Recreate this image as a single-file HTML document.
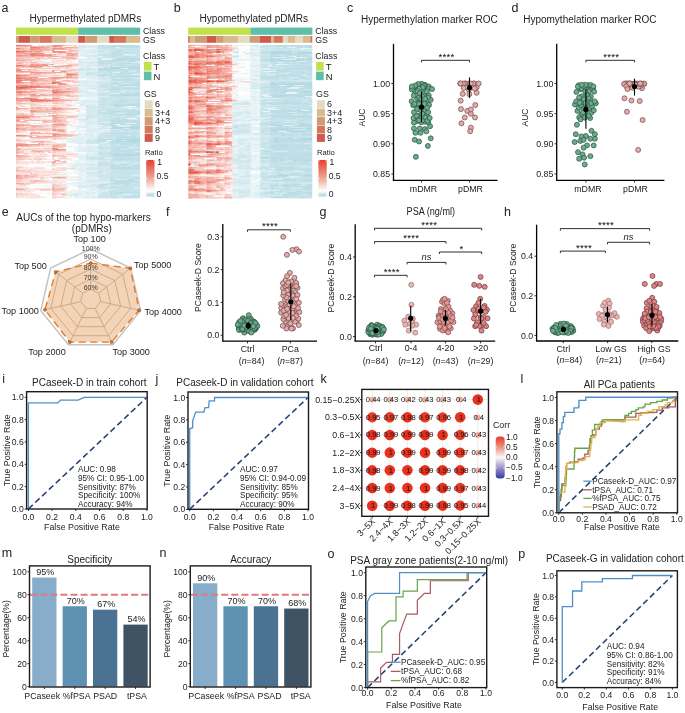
<!DOCTYPE html>
<html><head><meta charset="utf-8"><style>html,body{margin:0;padding:0;background:#fff;overflow:hidden}svg{display:block;will-change:transform}text{font-family:"Liberation Sans",sans-serif}</style></head><body><svg width="685" height="713" viewBox="0 0 685 713" font-family="Liberation Sans, sans-serif">
<rect width="685" height="713" fill="#ffffff"/>
<text x="1.60" y="12.20" font-size="12.5" text-anchor="start" fill="#222" >a</text>
<text x="29.60" y="22.00" font-size="10" text-anchor="start" fill="#222" >Hypermethylated pDMRs</text>
<rect x="16.00" y="27.60" width="62.20" height="7.20" fill="#c2e04a" />
<rect x="78.20" y="27.60" width="62.00" height="7.20" fill="#5ebfa8" />
<rect x="16.00" y="36.00" width="2.40" height="6.80" fill="#cf9c73" />
<rect x="18.40" y="36.00" width="11.80" height="6.80" fill="#cf5a4e" />
<rect x="30.20" y="36.00" width="9.60" height="6.80" fill="#cf9c73" />
<rect x="39.80" y="36.00" width="12.10" height="6.80" fill="#d5775a" />
<rect x="51.90" y="36.00" width="14.20" height="6.80" fill="#d9bb8f" />
<rect x="66.10" y="36.00" width="12.10" height="6.80" fill="#e3dcc0" />
<rect x="78.20" y="36.00" width="7.20" height="6.80" fill="#cf5a4e" />
<rect x="85.40" y="36.00" width="11.80" height="6.80" fill="#cf9c73" />
<rect x="97.20" y="36.00" width="12.00" height="6.80" fill="#e3dcc0" />
<rect x="109.20" y="36.00" width="4.80" height="6.80" fill="#cf5a4e" />
<rect x="114.00" y="36.00" width="12.00" height="6.80" fill="#d5775a" />
<rect x="126.00" y="36.00" width="14.20" height="6.80" fill="#d9bb8f" />
<defs><filter id="hba" x="-2%" y="-2%" width="104%" height="104%"><feGaussianBlur stdDeviation="0.55 0.4"/></filter><clipPath id="hca"><rect x="16.00" y="44.80" width="124.20" height="153.70"/></clipPath></defs>
<g clip-path="url(#hca)"><g filter="url(#hba)">
<path fill="#e8604e" d="M16.0 44.80h4.3v1.30h-4.3zM16.0 50.79h4.3v1.30h-4.3zM16.0 74.74h2.3v1.30h-2.3zM16.0 77.74h4.3v1.30h-4.3zM54.1 82.73h2.3v1.30h-2.3zM30.0 85.72h2.3v1.30h-2.3zM16.0 86.72h12.3v1.30h-12.3zM30.0 86.72h12.3v1.30h-12.3zM20.0 87.72h2.3v1.30h-2.3zM52.1 91.71h4.3v1.30h-4.3zM30.0 99.69h2.3v1.30h-2.3zM32.0 100.69h2.3v1.30h-2.3zM16.0 116.66h4.3v1.30h-4.3zM22.0 116.66h2.3v1.30h-2.3zM52.1 133.63h2.3v1.30h-2.3z"/>
<path fill="#ec7b6b" d="M20.0 44.80h6.3v1.30h-6.3zM52.1 45.80h6.3v1.30h-6.3zM30.0 46.80h8.3v1.30h-8.3zM16.0 47.79h4.3v1.30h-4.3zM30.0 48.79h4.3v1.30h-4.3zM54.1 48.79h2.3v1.30h-2.3zM52.1 49.79h2.3v1.30h-2.3zM20.0 50.79h8.3v1.30h-8.3zM30.0 50.79h2.3v1.30h-2.3zM52.1 50.79h6.3v1.30h-6.3zM16.0 51.79h2.3v1.30h-2.3zM52.1 51.79h4.3v1.30h-4.3zM58.1 51.79h4.3v1.30h-4.3zM32.0 52.78h2.3v1.30h-2.3zM30.0 53.78h6.3v1.30h-6.3zM30.0 54.78h14.3v1.30h-14.3zM52.1 55.78h2.3v1.30h-2.3zM16.0 64.76h6.3v1.30h-6.3zM46.0 64.76h2.3v1.30h-2.3zM16.0 65.76h2.3v1.30h-2.3zM30.0 65.76h8.3v1.30h-8.3zM52.1 65.76h2.3v1.30h-2.3zM52.1 70.75h2.3v1.30h-2.3zM64.1 70.75h2.3v1.30h-2.3zM66.1 73.74h10.3v1.30h-10.3zM18.0 74.74h6.3v1.30h-6.3zM16.0 75.74h2.3v1.30h-2.3zM18.0 76.74h2.3v1.30h-2.3zM66.1 76.74h2.3v1.30h-2.3zM20.0 77.74h2.3v1.30h-2.3zM16.0 79.73h12.3v1.30h-12.3zM16.0 80.73h4.3v1.30h-4.3zM16.0 81.73h4.3v1.30h-4.3zM52.1 81.73h4.3v1.30h-4.3zM56.1 82.73h4.3v1.30h-4.3zM58.1 83.72h8.3v1.30h-8.3zM16.0 85.72h2.3v1.30h-2.3zM20.0 85.72h10.3v1.30h-10.3zM32.0 85.72h8.3v1.30h-8.3zM28.0 86.72h2.3v1.30h-2.3zM42.0 86.72h8.3v1.30h-8.3zM16.0 87.72h4.3v1.30h-4.3zM22.0 87.72h4.3v1.30h-4.3zM16.0 88.71h4.3v1.30h-4.3zM52.1 89.71h2.3v1.30h-2.3zM18.0 90.71h4.3v1.30h-4.3zM52.1 90.71h2.3v1.30h-2.3zM56.1 90.71h2.3v1.30h-2.3zM66.1 90.71h2.3v1.30h-2.3zM16.0 91.71h6.3v1.30h-6.3zM56.1 91.71h4.3v1.30h-4.3zM22.0 97.70h10.3v1.30h-10.3zM30.0 98.69h8.3v1.30h-8.3zM32.0 99.69h22.3v1.30h-22.3zM30.0 100.69h2.3v1.30h-2.3zM34.0 100.69h8.3v1.30h-8.3zM46.0 100.69h2.3v1.30h-2.3zM52.1 107.68h2.3v1.30h-2.3zM54.1 108.68h2.3v1.30h-2.3zM34.0 110.67h2.3v1.30h-2.3zM20.0 116.66h2.3v1.30h-2.3zM24.0 116.66h4.3v1.30h-4.3zM16.0 127.64h2.3v1.30h-2.3zM52.1 129.63h4.3v1.30h-4.3zM30.0 132.63h2.3v1.30h-2.3zM54.1 133.63h6.3v1.30h-6.3zM16.0 134.62h4.3v1.30h-4.3zM52.1 135.62h4.3v1.30h-4.3zM16.0 144.61h8.3v1.30h-8.3zM52.1 147.60h2.3v1.30h-2.3zM52.1 148.60h12.3v1.30h-12.3zM52.1 186.52h2.3v1.30h-2.3zM16.0 188.52h2.3v1.30h-2.3z"/>
<path fill="#f09589" d="M26.0 44.80h4.3v1.30h-4.3zM52.1 44.80h12.3v1.30h-12.3zM30.0 45.80h2.3v1.30h-2.3zM58.1 45.80h4.3v1.30h-4.3zM38.0 46.80h6.3v1.30h-6.3zM66.1 46.80h8.3v1.30h-8.3zM20.0 47.79h2.3v1.30h-2.3zM30.0 47.79h10.3v1.30h-10.3zM52.1 47.79h12.3v1.30h-12.3zM34.0 48.79h8.3v1.30h-8.3zM52.1 48.79h2.3v1.30h-2.3zM56.1 48.79h10.3v1.30h-10.3zM42.0 49.79h2.3v1.30h-2.3zM28.0 50.79h2.3v1.30h-2.3zM32.0 50.79h10.3v1.30h-10.3zM58.1 50.79h8.3v1.30h-8.3zM18.0 51.79h6.3v1.30h-6.3zM56.1 51.79h2.3v1.30h-2.3zM62.1 51.79h4.3v1.30h-4.3zM18.0 52.78h2.3v1.30h-2.3zM22.0 52.78h6.3v1.30h-6.3zM30.0 52.78h2.3v1.30h-2.3zM34.0 52.78h10.3v1.30h-10.3zM66.1 52.78h6.3v1.30h-6.3zM36.0 53.78h10.3v1.30h-10.3zM48.1 53.78h4.3v1.30h-4.3zM72.1 53.78h2.3v1.30h-2.3zM16.0 54.78h12.3v1.30h-12.3zM44.0 54.78h8.3v1.30h-8.3zM66.1 54.78h8.3v1.30h-8.3zM16.0 55.78h6.3v1.30h-6.3zM32.0 55.78h2.3v1.30h-2.3zM42.0 55.78h2.3v1.30h-2.3zM46.0 55.78h4.3v1.30h-4.3zM54.1 55.78h4.3v1.30h-4.3zM62.1 56.78h2.3v1.30h-2.3zM16.0 59.77h8.3v1.30h-8.3zM30.0 63.76h4.3v1.30h-4.3zM36.0 63.76h2.3v1.30h-2.3zM42.0 63.76h4.3v1.30h-4.3zM50.1 63.76h4.3v1.30h-4.3zM22.0 64.76h2.3v1.30h-2.3zM30.0 64.76h16.3v1.30h-16.3zM66.1 64.76h4.3v1.30h-4.3zM18.0 65.76h12.3v1.30h-12.3zM38.0 65.76h6.3v1.30h-6.3zM48.1 65.76h2.3v1.30h-2.3zM54.1 65.76h6.3v1.30h-6.3zM62.1 65.76h2.3v1.30h-2.3zM30.0 66.76h4.3v1.30h-4.3zM16.0 68.75h4.3v1.30h-4.3zM22.0 68.75h2.3v1.30h-2.3zM16.0 69.75h6.3v1.30h-6.3zM28.0 69.75h2.3v1.30h-2.3zM52.1 69.75h4.3v1.30h-4.3zM16.0 70.75h12.3v1.30h-12.3zM60.1 70.75h4.3v1.30h-4.3zM30.0 71.75h16.3v1.30h-16.3zM52.1 71.75h10.3v1.30h-10.3zM66.1 72.75h2.3v1.30h-2.3zM76.1 73.74h2.3v1.30h-2.3zM24.0 74.74h6.3v1.30h-6.3zM66.1 74.74h6.3v1.30h-6.3zM18.0 75.74h2.3v1.30h-2.3zM16.0 76.74h2.3v1.30h-2.3zM20.0 76.74h6.3v1.30h-6.3zM30.0 76.74h8.3v1.30h-8.3zM52.1 76.74h12.3v1.30h-12.3zM68.1 76.74h4.3v1.30h-4.3zM22.0 77.74h10.3v1.30h-10.3zM52.1 77.74h6.3v1.30h-6.3zM16.0 78.73h6.3v1.30h-6.3zM24.0 78.73h12.3v1.30h-12.3zM28.0 79.73h10.3v1.30h-10.3zM20.0 80.73h2.3v1.30h-2.3zM30.0 80.73h6.3v1.30h-6.3zM20.0 81.73h4.3v1.30h-4.3zM56.1 81.73h4.3v1.30h-4.3zM16.0 82.73h4.3v1.30h-4.3zM60.1 82.73h4.3v1.30h-4.3zM16.0 84.72h12.3v1.30h-12.3zM18.0 85.72h2.3v1.30h-2.3zM40.0 85.72h10.3v1.30h-10.3zM50.1 86.72h8.3v1.30h-8.3zM26.0 87.72h4.3v1.30h-4.3zM20.0 88.71h10.3v1.30h-10.3zM56.1 88.71h2.3v1.30h-2.3zM54.1 89.71h4.3v1.30h-4.3zM16.0 90.71h2.3v1.30h-2.3zM22.0 90.71h4.3v1.30h-4.3zM30.0 90.71h4.3v1.30h-4.3zM54.1 90.71h2.3v1.30h-2.3zM58.1 90.71h8.3v1.30h-8.3zM68.1 90.71h4.3v1.30h-4.3zM22.0 91.71h8.3v1.30h-8.3zM60.1 91.71h6.3v1.30h-6.3zM52.1 92.71h6.3v1.30h-6.3zM18.0 93.70h4.3v1.30h-4.3zM32.0 93.70h4.3v1.30h-4.3zM30.0 94.70h18.3v1.30h-18.3zM16.0 97.70h6.3v1.30h-6.3zM32.0 97.70h4.3v1.30h-4.3zM52.1 97.70h6.3v1.30h-6.3zM16.0 98.69h2.3v1.30h-2.3zM20.0 98.69h2.3v1.30h-2.3zM26.0 98.69h4.3v1.30h-4.3zM38.0 98.69h8.3v1.30h-8.3zM52.1 98.69h2.3v1.30h-2.3zM16.0 99.69h12.3v1.30h-12.3zM54.1 99.69h8.3v1.30h-8.3zM66.1 99.69h2.3v1.30h-2.3zM70.1 99.69h2.3v1.30h-2.3zM42.0 100.69h4.3v1.30h-4.3zM48.1 100.69h4.3v1.30h-4.3zM16.0 106.68h2.3v1.30h-2.3zM16.0 107.68h4.3v1.30h-4.3zM54.1 107.68h8.3v1.30h-8.3zM52.1 108.68h2.3v1.30h-2.3zM56.1 108.68h4.3v1.30h-4.3zM30.0 109.67h4.3v1.30h-4.3zM30.0 110.67h4.3v1.30h-4.3zM36.0 110.67h2.3v1.30h-2.3zM42.0 110.67h2.3v1.30h-2.3zM52.1 114.66h4.3v1.30h-4.3zM16.0 115.66h14.3v1.30h-14.3zM52.1 115.66h2.3v1.30h-2.3zM28.0 116.66h2.3v1.30h-2.3zM54.1 116.66h4.3v1.30h-4.3zM16.0 119.65h4.3v1.30h-4.3zM32.0 119.65h8.3v1.30h-8.3zM16.0 120.65h2.3v1.30h-2.3zM52.1 120.65h4.3v1.30h-4.3zM16.0 123.65h2.3v1.30h-2.3zM52.1 123.65h12.3v1.30h-12.3zM16.0 124.64h14.3v1.30h-14.3zM18.0 127.64h2.3v1.30h-2.3zM16.0 128.64h2.3v1.30h-2.3zM52.1 128.64h4.3v1.30h-4.3zM56.1 129.63h4.3v1.30h-4.3zM58.1 130.63h6.3v1.30h-6.3zM32.0 132.63h10.3v1.30h-10.3zM60.1 133.63h6.3v1.30h-6.3zM20.0 134.62h6.3v1.30h-6.3zM52.1 134.62h4.3v1.30h-4.3zM16.0 135.62h16.3v1.30h-16.3zM46.0 135.62h6.3v1.30h-6.3zM56.1 135.62h6.3v1.30h-6.3zM30.0 136.62h10.3v1.30h-10.3zM38.0 140.61h4.3v1.30h-4.3zM16.0 143.61h12.3v1.30h-12.3zM30.0 143.61h16.3v1.30h-16.3zM24.0 144.61h4.3v1.30h-4.3zM56.1 144.61h2.3v1.30h-2.3zM16.0 145.60h14.3v1.30h-14.3zM52.1 145.60h4.3v1.30h-4.3zM36.0 147.60h2.3v1.30h-2.3zM54.1 147.60h4.3v1.30h-4.3zM18.0 148.60h2.3v1.30h-2.3zM64.1 148.60h2.3v1.30h-2.3zM52.1 149.60h8.3v1.30h-8.3zM36.0 150.59h6.3v1.30h-6.3zM16.0 155.58h4.3v1.30h-4.3zM16.0 158.58h8.3v1.30h-8.3zM54.1 160.57h8.3v1.30h-8.3zM64.1 160.57h2.3v1.30h-2.3zM52.1 161.57h2.3v1.30h-2.3zM52.1 162.57h2.3v1.30h-2.3zM16.0 169.56h2.3v1.30h-2.3zM16.0 174.55h6.3v1.30h-6.3zM16.0 175.54h2.3v1.30h-2.3zM16.0 176.54h18.3v1.30h-18.3zM54.1 176.54h6.3v1.30h-6.3zM16.0 177.54h2.3v1.30h-2.3zM58.1 177.54h4.3v1.30h-4.3zM18.0 178.54h2.3v1.30h-2.3zM18.0 182.53h4.3v1.30h-4.3zM18.0 188.52h6.3v1.30h-6.3zM52.1 188.52h2.3v1.30h-2.3zM52.1 189.52h2.3v1.30h-2.3zM52.1 193.51h12.3v1.30h-12.3z"/>
<path fill="#f3b0a6" d="M30.0 44.80h2.3v1.30h-2.3zM64.1 44.80h2.3v1.30h-2.3zM16.0 45.80h14.3v1.30h-14.3zM32.0 45.80h4.3v1.30h-4.3zM38.0 45.80h6.3v1.30h-6.3zM46.0 45.80h4.3v1.30h-4.3zM44.0 46.80h6.3v1.30h-6.3zM54.1 46.80h2.3v1.30h-2.3zM60.1 46.80h2.3v1.30h-2.3zM64.1 46.80h2.3v1.30h-2.3zM74.1 46.80h4.3v1.30h-4.3zM22.0 47.79h4.3v1.30h-4.3zM40.0 47.79h8.3v1.30h-8.3zM50.1 47.79h2.3v1.30h-2.3zM64.1 47.79h2.3v1.30h-2.3zM16.0 48.79h4.3v1.30h-4.3zM22.0 48.79h2.3v1.30h-2.3zM28.0 48.79h2.3v1.30h-2.3zM42.0 48.79h8.3v1.30h-8.3zM16.0 49.79h12.3v1.30h-12.3zM30.0 49.79h12.3v1.30h-12.3zM44.0 49.79h8.3v1.30h-8.3zM68.1 49.79h8.3v1.30h-8.3zM68.1 50.79h2.3v1.30h-2.3zM24.0 51.79h2.3v1.30h-2.3zM28.0 51.79h4.3v1.30h-4.3zM34.0 51.79h6.3v1.30h-6.3zM16.0 52.78h2.3v1.30h-2.3zM20.0 52.78h2.3v1.30h-2.3zM28.0 52.78h2.3v1.30h-2.3zM60.1 52.78h2.3v1.30h-2.3zM72.1 52.78h6.3v1.30h-6.3zM16.0 53.78h6.3v1.30h-6.3zM24.0 53.78h6.3v1.30h-6.3zM46.0 53.78h2.3v1.30h-2.3zM52.1 53.78h4.3v1.30h-4.3zM66.1 53.78h6.3v1.30h-6.3zM74.1 53.78h4.3v1.30h-4.3zM28.0 54.78h2.3v1.30h-2.3zM74.1 54.78h2.3v1.30h-2.3zM22.0 55.78h10.3v1.30h-10.3zM34.0 55.78h8.3v1.30h-8.3zM44.0 55.78h2.3v1.30h-2.3zM50.1 55.78h2.3v1.30h-2.3zM58.1 55.78h4.3v1.30h-4.3zM30.0 56.78h4.3v1.30h-4.3zM64.1 56.78h10.3v1.30h-10.3zM16.0 57.77h8.3v1.30h-8.3zM38.0 57.77h2.3v1.30h-2.3zM52.1 57.77h8.3v1.30h-8.3zM66.1 57.77h10.3v1.30h-10.3zM16.0 58.77h2.3v1.30h-2.3zM30.0 58.77h4.3v1.30h-4.3zM24.0 59.77h6.3v1.30h-6.3zM18.0 61.77h2.3v1.30h-2.3zM30.0 61.77h6.3v1.30h-6.3zM16.0 62.76h6.3v1.30h-6.3zM34.0 63.76h2.3v1.30h-2.3zM38.0 63.76h4.3v1.30h-4.3zM46.0 63.76h4.3v1.30h-4.3zM24.0 64.76h6.3v1.30h-6.3zM60.1 64.76h2.3v1.30h-2.3zM64.1 64.76h2.3v1.30h-2.3zM70.1 64.76h2.3v1.30h-2.3zM44.0 65.76h4.3v1.30h-4.3zM50.1 65.76h2.3v1.30h-2.3zM60.1 65.76h2.3v1.30h-2.3zM64.1 65.76h8.3v1.30h-8.3zM34.0 66.76h8.3v1.30h-8.3zM16.0 67.76h4.3v1.30h-4.3zM34.0 67.76h2.3v1.30h-2.3zM20.0 68.75h2.3v1.30h-2.3zM24.0 68.75h6.3v1.30h-6.3zM62.1 69.75h2.3v1.30h-2.3zM68.1 69.75h2.3v1.30h-2.3zM28.0 70.75h4.3v1.30h-4.3zM16.0 71.75h12.3v1.30h-12.3zM46.0 71.75h6.3v1.30h-6.3zM62.1 71.75h4.3v1.30h-4.3zM30.0 72.75h12.3v1.30h-12.3zM44.0 72.75h8.3v1.30h-8.3zM68.1 72.75h6.3v1.30h-6.3zM16.0 73.74h4.3v1.30h-4.3zM24.0 73.74h2.3v1.30h-2.3zM30.0 73.74h2.3v1.30h-2.3zM34.0 73.74h6.3v1.30h-6.3zM72.1 74.74h4.3v1.30h-4.3zM20.0 75.74h8.3v1.30h-8.3zM64.1 75.74h8.3v1.30h-8.3zM26.0 76.74h4.3v1.30h-4.3zM48.1 76.74h4.3v1.30h-4.3zM64.1 76.74h2.3v1.30h-2.3zM72.1 76.74h6.3v1.30h-6.3zM32.0 77.74h20.3v1.30h-20.3zM58.1 77.74h6.3v1.30h-6.3zM66.1 77.74h2.3v1.30h-2.3zM22.0 78.73h2.3v1.30h-2.3zM36.0 78.73h8.3v1.30h-8.3zM50.1 78.73h6.3v1.30h-6.3zM38.0 79.73h10.3v1.30h-10.3zM50.1 79.73h6.3v1.30h-6.3zM62.1 79.73h8.3v1.30h-8.3zM36.0 80.73h2.3v1.30h-2.3zM52.1 80.73h8.3v1.30h-8.3zM66.1 80.73h4.3v1.30h-4.3zM24.0 81.73h10.3v1.30h-10.3zM60.1 81.73h2.3v1.30h-2.3zM20.0 82.73h4.3v1.30h-4.3zM30.0 82.73h8.3v1.30h-8.3zM40.0 82.73h6.3v1.30h-6.3zM48.1 82.73h4.3v1.30h-4.3zM64.1 82.73h2.3v1.30h-2.3zM30.0 83.72h4.3v1.30h-4.3zM36.0 83.72h6.3v1.30h-6.3zM28.0 84.72h12.3v1.30h-12.3zM50.1 85.72h6.3v1.30h-6.3zM58.1 85.72h6.3v1.30h-6.3zM68.1 85.72h2.3v1.30h-2.3zM58.1 86.72h2.3v1.30h-2.3zM30.0 87.72h2.3v1.30h-2.3zM48.1 87.72h2.3v1.30h-2.3zM52.1 87.72h2.3v1.30h-2.3zM58.1 87.72h2.3v1.30h-2.3zM66.1 87.72h4.3v1.30h-4.3zM30.0 88.71h12.3v1.30h-12.3zM52.1 88.71h4.3v1.30h-4.3zM58.1 88.71h4.3v1.30h-4.3zM66.1 88.71h8.3v1.30h-8.3zM16.0 89.71h2.3v1.30h-2.3zM44.0 89.71h8.3v1.30h-8.3zM58.1 89.71h4.3v1.30h-4.3zM26.0 90.71h4.3v1.30h-4.3zM34.0 90.71h10.3v1.30h-10.3zM72.1 90.71h2.3v1.30h-2.3zM66.1 91.71h4.3v1.30h-4.3zM16.0 92.71h6.3v1.30h-6.3zM30.0 92.71h2.3v1.30h-2.3zM58.1 92.71h6.3v1.30h-6.3zM16.0 93.70h2.3v1.30h-2.3zM22.0 93.70h4.3v1.30h-4.3zM28.0 93.70h4.3v1.30h-4.3zM40.0 93.70h6.3v1.30h-6.3zM50.1 93.70h12.3v1.30h-12.3zM16.0 94.70h10.3v1.30h-10.3zM48.1 94.70h22.3v1.30h-22.3zM30.0 95.70h6.3v1.30h-6.3zM66.1 95.70h8.3v1.30h-8.3zM16.0 96.70h2.3v1.30h-2.3zM52.1 96.70h2.3v1.30h-2.3zM36.0 97.70h2.3v1.30h-2.3zM58.1 97.70h2.3v1.30h-2.3zM18.0 98.69h2.3v1.30h-2.3zM22.0 98.69h4.3v1.30h-4.3zM46.0 98.69h4.3v1.30h-4.3zM54.1 98.69h10.3v1.30h-10.3zM28.0 99.69h2.3v1.30h-2.3zM62.1 99.69h4.3v1.30h-4.3zM68.1 99.69h2.3v1.30h-2.3zM72.1 99.69h6.3v1.30h-6.3zM16.0 100.69h6.3v1.30h-6.3zM52.1 100.69h6.3v1.30h-6.3zM60.1 100.69h2.3v1.30h-2.3zM16.0 102.69h10.3v1.30h-10.3zM52.1 102.69h6.3v1.30h-6.3zM30.0 104.68h2.3v1.30h-2.3zM52.1 104.68h2.3v1.30h-2.3zM30.0 106.68h4.3v1.30h-4.3zM36.0 106.68h6.3v1.30h-6.3zM46.0 106.68h2.3v1.30h-2.3zM52.1 106.68h4.3v1.30h-4.3zM20.0 107.68h8.3v1.30h-8.3zM32.0 107.68h8.3v1.30h-8.3zM62.1 107.68h6.3v1.30h-6.3zM72.1 107.68h6.3v1.30h-6.3zM16.0 108.68h4.3v1.30h-4.3zM40.0 108.68h2.3v1.30h-2.3zM44.0 108.68h8.3v1.30h-8.3zM60.1 108.68h4.3v1.30h-4.3zM34.0 109.67h8.3v1.30h-8.3zM46.0 109.67h2.3v1.30h-2.3zM56.1 109.67h2.3v1.30h-2.3zM38.0 110.67h4.3v1.30h-4.3zM44.0 110.67h12.3v1.30h-12.3zM30.0 111.67h4.3v1.30h-4.3zM52.1 112.67h4.3v1.30h-4.3zM22.0 113.67h2.3v1.30h-2.3zM16.0 114.66h12.3v1.30h-12.3zM30.0 114.66h4.3v1.30h-4.3zM48.1 114.66h2.3v1.30h-2.3zM56.1 114.66h4.3v1.30h-4.3zM30.0 115.66h6.3v1.30h-6.3zM38.0 115.66h2.3v1.30h-2.3zM54.1 115.66h2.3v1.30h-2.3zM66.1 115.66h12.3v1.30h-12.3zM30.0 116.66h4.3v1.30h-4.3zM52.1 116.66h2.3v1.30h-2.3zM58.1 116.66h6.3v1.30h-6.3zM16.0 117.66h14.3v1.30h-14.3zM52.1 117.66h6.3v1.30h-6.3zM16.0 118.66h4.3v1.30h-4.3zM52.1 118.66h6.3v1.30h-6.3zM24.0 119.65h8.3v1.30h-8.3zM40.0 119.65h6.3v1.30h-6.3zM48.1 119.65h2.3v1.30h-2.3zM52.1 119.65h10.3v1.30h-10.3zM18.0 120.65h8.3v1.30h-8.3zM44.0 120.65h4.3v1.30h-4.3zM56.1 120.65h6.3v1.30h-6.3zM64.1 120.65h2.3v1.30h-2.3zM42.0 121.65h8.3v1.30h-8.3zM54.1 121.65h2.3v1.30h-2.3zM58.1 122.65h2.3v1.30h-2.3zM18.0 123.65h6.3v1.30h-6.3zM64.1 123.65h2.3v1.30h-2.3zM30.0 124.64h8.3v1.30h-8.3zM52.1 124.64h14.3v1.30h-14.3zM16.0 125.64h4.3v1.30h-4.3zM30.0 125.64h12.3v1.30h-12.3zM52.1 125.64h6.3v1.30h-6.3zM16.0 126.64h2.3v1.30h-2.3zM26.0 126.64h2.3v1.30h-2.3zM32.0 126.64h4.3v1.30h-4.3zM52.1 126.64h2.3v1.30h-2.3zM20.0 127.64h6.3v1.30h-6.3zM18.0 128.64h8.3v1.30h-8.3zM30.0 128.64h18.3v1.30h-18.3zM56.1 128.64h8.3v1.30h-8.3zM16.0 129.63h2.3v1.30h-2.3zM22.0 129.63h4.3v1.30h-4.3zM30.0 129.63h4.3v1.30h-4.3zM60.1 129.63h4.3v1.30h-4.3zM16.0 130.63h2.3v1.30h-2.3zM64.1 130.63h2.3v1.30h-2.3zM30.0 131.63h6.3v1.30h-6.3zM38.0 131.63h2.3v1.30h-2.3zM42.0 132.63h14.3v1.30h-14.3zM66.1 133.63h2.3v1.30h-2.3zM26.0 134.62h2.3v1.30h-2.3zM56.1 134.62h20.3v1.30h-20.3zM36.0 135.62h10.3v1.30h-10.3zM62.1 135.62h4.3v1.30h-4.3zM40.0 136.62h12.3v1.30h-12.3zM16.0 139.61h2.3v1.30h-2.3zM26.0 139.61h2.3v1.30h-2.3zM30.0 140.61h8.3v1.30h-8.3zM42.0 140.61h2.3v1.30h-2.3zM40.0 141.61h4.3v1.30h-4.3zM16.0 142.61h6.3v1.30h-6.3zM38.0 142.61h2.3v1.30h-2.3zM28.0 143.61h2.3v1.30h-2.3zM46.0 143.61h4.3v1.30h-4.3zM28.0 144.61h12.3v1.30h-12.3zM52.1 144.61h4.3v1.30h-4.3zM58.1 144.61h2.3v1.30h-2.3zM62.1 144.61h4.3v1.30h-4.3zM30.0 145.60h2.3v1.30h-2.3zM56.1 145.60h4.3v1.30h-4.3zM16.0 146.60h2.3v1.30h-2.3zM52.1 146.60h2.3v1.30h-2.3zM16.0 147.60h4.3v1.30h-4.3zM38.0 147.60h6.3v1.30h-6.3zM16.0 148.60h2.3v1.30h-2.3zM20.0 148.60h2.3v1.30h-2.3zM16.0 149.60h4.3v1.30h-4.3zM32.0 149.60h2.3v1.30h-2.3zM40.0 149.60h2.3v1.30h-2.3zM60.1 149.60h6.3v1.30h-6.3zM16.0 150.59h2.3v1.30h-2.3zM30.0 150.59h6.3v1.30h-6.3zM42.0 150.59h4.3v1.30h-4.3zM58.1 150.59h2.3v1.30h-2.3zM16.0 151.59h4.3v1.30h-4.3zM34.0 151.59h2.3v1.30h-2.3zM38.0 151.59h2.3v1.30h-2.3zM52.1 151.59h2.3v1.30h-2.3zM16.0 152.59h8.3v1.30h-8.3zM66.1 153.59h2.3v1.30h-2.3zM16.0 154.59h8.3v1.30h-8.3zM52.1 154.59h4.3v1.30h-4.3zM58.1 154.59h2.3v1.30h-2.3zM20.0 155.58h10.3v1.30h-10.3zM52.1 155.58h12.3v1.30h-12.3zM16.0 156.58h6.3v1.30h-6.3zM52.1 156.58h2.3v1.30h-2.3zM24.0 158.58h6.3v1.30h-6.3zM54.1 159.58h6.3v1.30h-6.3zM52.1 160.57h2.3v1.30h-2.3zM62.1 160.57h2.3v1.30h-2.3zM44.0 161.57h4.3v1.30h-4.3zM54.1 161.57h2.3v1.30h-2.3zM54.1 162.57h4.3v1.30h-4.3zM16.0 167.56h2.3v1.30h-2.3zM66.1 167.56h6.3v1.30h-6.3zM18.0 169.56h2.3v1.30h-2.3zM16.0 170.55h2.3v1.30h-2.3zM22.0 171.55h2.3v1.30h-2.3zM30.0 171.55h4.3v1.30h-4.3zM36.0 171.55h2.3v1.30h-2.3zM32.0 173.55h4.3v1.30h-4.3zM52.1 173.55h2.3v1.30h-2.3zM22.0 174.55h8.3v1.30h-8.3zM18.0 175.54h4.3v1.30h-4.3zM24.0 175.54h4.3v1.30h-4.3zM30.0 175.54h4.3v1.30h-4.3zM34.0 176.54h4.3v1.30h-4.3zM52.1 176.54h2.3v1.30h-2.3zM60.1 176.54h6.3v1.30h-6.3zM18.0 177.54h4.3v1.30h-4.3zM52.1 177.54h6.3v1.30h-6.3zM62.1 177.54h4.3v1.30h-4.3zM16.0 178.54h2.3v1.30h-2.3zM20.0 178.54h4.3v1.30h-4.3zM34.0 179.54h6.3v1.30h-6.3zM16.0 180.54h2.3v1.30h-2.3zM30.0 180.54h8.3v1.30h-8.3zM52.1 180.54h2.3v1.30h-2.3zM16.0 182.53h2.3v1.30h-2.3zM22.0 182.53h8.3v1.30h-8.3zM16.0 183.53h8.3v1.30h-8.3zM60.1 184.53h2.3v1.30h-2.3zM16.0 187.52h2.3v1.30h-2.3zM52.1 187.52h2.3v1.30h-2.3zM62.1 187.52h2.3v1.30h-2.3zM24.0 188.52h10.3v1.30h-10.3zM54.1 188.52h10.3v1.30h-10.3zM16.0 189.52h6.3v1.30h-6.3zM54.1 189.52h8.3v1.30h-8.3zM52.1 191.51h2.3v1.30h-2.3zM16.0 193.51h10.3v1.30h-10.3zM64.1 193.51h2.3v1.30h-2.3zM52.1 194.51h2.3v1.30h-2.3zM62.1 194.51h2.3v1.30h-2.3z"/>
<path fill="#f4fafb" d="M32.0 44.80h2.3v1.30h-2.3zM88.1 48.79h2.3v1.30h-2.3zM44.0 52.78h10.3v1.30h-10.3zM56.1 52.78h2.3v1.30h-2.3zM86.1 53.78h6.3v1.30h-6.3zM100.1 55.78h2.3v1.30h-2.3zM52.1 56.78h10.3v1.30h-10.3zM82.1 56.78h2.3v1.30h-2.3zM30.0 57.77h4.3v1.30h-4.3zM78.1 57.77h6.3v1.30h-6.3zM102.1 58.77h2.3v1.30h-2.3zM108.1 58.77h4.3v1.30h-4.3zM48.1 59.77h4.3v1.30h-4.3zM82.1 59.77h2.3v1.30h-2.3zM86.1 59.77h6.3v1.30h-6.3zM94.1 59.77h2.3v1.30h-2.3zM66.1 60.77h12.3v1.30h-12.3zM130.2 61.77h2.3v1.30h-2.3zM54.1 63.76h4.3v1.30h-4.3zM62.1 63.76h2.3v1.30h-2.3zM66.1 63.76h2.3v1.30h-2.3zM92.1 66.76h4.3v1.30h-4.3zM20.0 67.76h2.3v1.30h-2.3zM24.0 67.76h2.3v1.30h-2.3zM28.0 67.76h2.3v1.30h-2.3zM44.0 68.75h2.3v1.30h-2.3zM56.1 70.75h2.3v1.30h-2.3zM112.2 71.75h2.3v1.30h-2.3zM116.2 71.75h2.3v1.30h-2.3zM130.2 73.74h10.3v1.30h-10.3zM38.0 76.74h10.3v1.30h-10.3zM80.1 78.73h2.3v1.30h-2.3zM58.1 79.73h4.3v1.30h-4.3zM64.1 81.73h2.3v1.30h-2.3zM74.1 82.73h4.3v1.30h-4.3zM50.1 83.72h4.3v1.30h-4.3zM70.1 83.72h4.3v1.30h-4.3zM76.1 83.72h2.3v1.30h-2.3zM82.1 88.71h4.3v1.30h-4.3zM88.1 88.71h4.3v1.30h-4.3zM90.1 89.71h6.3v1.30h-6.3zM110.2 92.71h2.3v1.30h-2.3zM114.2 92.71h6.3v1.30h-6.3zM62.1 97.70h4.3v1.30h-4.3zM78.1 97.70h2.3v1.30h-2.3zM86.1 97.70h4.3v1.30h-4.3zM78.1 98.69h2.3v1.30h-2.3zM94.1 98.69h2.3v1.30h-2.3zM66.1 101.69h4.3v1.30h-4.3zM72.1 101.69h4.3v1.30h-4.3zM68.1 102.69h6.3v1.30h-6.3zM44.0 103.69h8.3v1.30h-8.3zM74.1 103.69h2.3v1.30h-2.3zM28.0 104.68h2.3v1.30h-2.3zM74.1 105.68h4.3v1.30h-4.3zM126.2 105.68h10.3v1.30h-10.3zM78.1 106.68h2.3v1.30h-2.3zM82.1 106.68h4.3v1.30h-4.3zM78.1 107.68h8.3v1.30h-8.3zM68.1 109.67h8.3v1.30h-8.3zM74.1 110.67h2.3v1.30h-2.3zM16.0 111.67h6.3v1.30h-6.3zM74.1 111.67h12.3v1.30h-12.3zM78.1 112.67h8.3v1.30h-8.3zM50.1 113.67h4.3v1.30h-4.3zM66.1 113.67h2.3v1.30h-2.3zM70.1 113.67h6.3v1.30h-6.3zM36.0 114.66h2.3v1.30h-2.3zM42.0 114.66h4.3v1.30h-4.3zM40.0 116.66h2.3v1.30h-2.3zM44.0 116.66h8.3v1.30h-8.3zM78.1 116.66h8.3v1.30h-8.3zM126.2 117.66h8.3v1.30h-8.3zM66.1 118.66h8.3v1.30h-8.3zM20.0 119.65h4.3v1.30h-4.3zM72.1 119.65h6.3v1.30h-6.3zM30.0 120.65h2.3v1.30h-2.3zM36.0 120.65h6.3v1.30h-6.3zM28.0 121.65h2.3v1.30h-2.3zM32.0 121.65h4.3v1.30h-4.3zM38.0 121.65h2.3v1.30h-2.3zM78.1 122.65h4.3v1.30h-4.3zM128.2 122.65h4.3v1.30h-4.3zM114.2 123.65h6.3v1.30h-6.3zM66.1 124.64h4.3v1.30h-4.3zM90.1 124.64h2.3v1.30h-2.3zM94.1 124.64h2.3v1.30h-2.3zM98.1 124.64h4.3v1.30h-4.3zM66.1 126.64h2.3v1.30h-2.3zM70.1 126.64h8.3v1.30h-8.3zM66.1 127.64h10.3v1.30h-10.3zM80.1 127.64h6.3v1.30h-6.3zM74.1 128.64h2.3v1.30h-2.3zM78.1 128.64h2.3v1.30h-2.3zM82.1 128.64h4.3v1.30h-4.3zM70.1 129.63h8.3v1.30h-8.3zM66.1 130.63h4.3v1.30h-4.3zM100.1 130.63h2.3v1.30h-2.3zM40.0 131.63h2.3v1.30h-2.3zM84.1 131.63h2.3v1.30h-2.3zM16.0 132.63h12.3v1.30h-12.3zM28.0 133.63h2.3v1.30h-2.3zM128.2 134.62h2.3v1.30h-2.3zM82.1 135.62h4.3v1.30h-4.3zM66.1 136.62h4.3v1.30h-4.3zM16.0 137.62h4.3v1.30h-4.3zM22.0 137.62h2.3v1.30h-2.3zM28.0 137.62h2.3v1.30h-2.3zM66.1 137.62h2.3v1.30h-2.3zM22.0 138.62h2.3v1.30h-2.3zM44.0 138.62h2.3v1.30h-2.3zM48.1 138.62h4.3v1.30h-4.3zM50.1 139.61h2.3v1.30h-2.3zM58.1 139.61h8.3v1.30h-8.3zM108.1 139.61h2.3v1.30h-2.3zM112.2 139.61h2.3v1.30h-2.3zM120.2 139.61h2.3v1.30h-2.3zM124.2 139.61h2.3v1.30h-2.3zM60.1 140.61h6.3v1.30h-6.3zM62.1 141.61h4.3v1.30h-4.3zM28.0 142.61h2.3v1.30h-2.3zM32.0 142.61h2.3v1.30h-2.3zM60.1 142.61h2.3v1.30h-2.3zM66.1 142.61h6.3v1.30h-6.3zM74.1 143.61h4.3v1.30h-4.3zM80.1 143.61h6.3v1.30h-6.3zM94.1 143.61h4.3v1.30h-4.3zM90.1 144.61h2.3v1.30h-2.3zM94.1 144.61h4.3v1.30h-4.3zM76.1 145.60h2.3v1.30h-2.3zM104.1 145.60h2.3v1.30h-2.3zM24.0 146.60h2.3v1.30h-2.3zM50.1 146.60h2.3v1.30h-2.3zM68.1 146.60h6.3v1.30h-6.3zM136.2 146.60h2.3v1.30h-2.3zM24.0 147.60h12.3v1.30h-12.3zM58.1 147.60h4.3v1.30h-4.3zM64.1 147.60h4.3v1.30h-4.3zM74.1 147.60h4.3v1.30h-4.3zM40.0 148.60h6.3v1.30h-6.3zM48.1 148.60h4.3v1.30h-4.3zM66.1 148.60h2.3v1.30h-2.3zM70.1 148.60h2.3v1.30h-2.3zM108.1 148.60h4.3v1.30h-4.3zM74.1 149.60h4.3v1.30h-4.3zM66.1 150.59h4.3v1.30h-4.3zM72.1 150.59h2.3v1.30h-2.3zM134.2 150.59h4.3v1.30h-4.3zM44.0 151.59h4.3v1.30h-4.3zM72.1 151.59h6.3v1.30h-6.3zM80.1 151.59h6.3v1.30h-6.3zM44.0 152.59h2.3v1.30h-2.3zM48.1 152.59h2.3v1.30h-2.3zM80.1 152.59h6.3v1.30h-6.3zM18.0 153.59h2.3v1.30h-2.3zM24.0 153.59h2.3v1.30h-2.3zM34.0 153.59h2.3v1.30h-2.3zM82.1 153.59h4.3v1.30h-4.3zM54.1 156.58h8.3v1.30h-8.3zM68.1 156.58h8.3v1.30h-8.3zM50.1 157.58h2.3v1.30h-2.3zM72.1 157.58h6.3v1.30h-6.3zM48.1 159.58h6.3v1.30h-6.3zM72.1 159.58h6.3v1.30h-6.3zM72.1 160.57h4.3v1.30h-4.3zM78.1 160.57h4.3v1.30h-4.3zM58.1 161.57h4.3v1.30h-4.3zM66.1 161.57h10.3v1.30h-10.3zM80.1 161.57h6.3v1.30h-6.3zM66.1 162.57h8.3v1.30h-8.3zM36.0 163.57h16.3v1.30h-16.3zM66.1 163.57h2.3v1.30h-2.3zM26.0 164.57h4.3v1.30h-4.3zM42.0 164.57h2.3v1.30h-2.3zM46.0 164.57h6.3v1.30h-6.3zM36.0 165.56h14.3v1.30h-14.3zM60.1 165.56h2.3v1.30h-2.3zM28.0 166.56h12.3v1.30h-12.3zM50.1 166.56h16.3v1.30h-16.3zM70.1 166.56h8.3v1.30h-8.3zM46.0 167.56h8.3v1.30h-8.3zM62.1 168.56h2.3v1.30h-2.3zM72.1 169.56h4.3v1.30h-4.3zM62.1 170.55h12.3v1.30h-12.3zM66.1 171.55h14.3v1.30h-14.3zM44.0 172.55h4.3v1.30h-4.3zM50.1 172.55h2.3v1.30h-2.3zM66.1 172.55h8.3v1.30h-8.3zM68.1 173.55h8.3v1.30h-8.3zM58.1 174.55h8.3v1.30h-8.3zM68.1 174.55h2.3v1.30h-2.3zM72.1 175.54h6.3v1.30h-6.3zM82.1 175.54h2.3v1.30h-2.3zM72.1 177.54h2.3v1.30h-2.3zM40.0 178.54h2.3v1.30h-2.3zM66.1 178.54h2.3v1.30h-2.3zM116.2 178.54h2.3v1.30h-2.3zM124.2 178.54h2.3v1.30h-2.3zM54.1 179.54h2.3v1.30h-2.3zM58.1 179.54h2.3v1.30h-2.3zM62.1 179.54h4.3v1.30h-4.3zM68.1 180.54h2.3v1.30h-2.3zM20.0 181.53h2.3v1.30h-2.3zM70.1 181.53h4.3v1.30h-4.3zM98.1 182.53h8.3v1.30h-8.3zM32.0 183.53h2.3v1.30h-2.3zM66.1 183.53h4.3v1.30h-4.3zM32.0 184.53h12.3v1.30h-12.3zM66.1 184.53h4.3v1.30h-4.3zM40.0 185.53h12.3v1.30h-12.3zM66.1 185.53h8.3v1.30h-8.3zM108.1 185.53h2.3v1.30h-2.3zM32.0 186.52h20.3v1.30h-20.3zM74.1 186.52h4.3v1.30h-4.3zM44.0 187.52h8.3v1.30h-8.3zM66.1 187.52h8.3v1.30h-8.3zM70.1 188.52h12.3v1.30h-12.3zM70.1 189.52h8.3v1.30h-8.3zM82.1 189.52h2.3v1.30h-2.3zM40.0 190.52h12.3v1.30h-12.3zM66.1 190.52h4.3v1.30h-4.3zM86.1 190.52h4.3v1.30h-4.3zM92.1 190.52h4.3v1.30h-4.3zM38.0 191.51h4.3v1.30h-4.3zM72.1 191.51h6.3v1.30h-6.3zM80.1 191.51h4.3v1.30h-4.3zM34.0 192.51h6.3v1.30h-6.3zM66.1 192.51h8.3v1.30h-8.3zM48.1 193.51h2.3v1.30h-2.3zM94.1 193.51h4.3v1.30h-4.3zM48.1 194.51h4.3v1.30h-4.3zM42.0 195.51h2.3v1.30h-2.3zM48.1 195.51h2.3v1.30h-2.3zM82.1 195.51h4.3v1.30h-4.3zM50.1 196.50h2.3v1.30h-2.3zM74.1 196.50h6.3v1.30h-6.3zM42.0 197.50h6.3v1.30h-6.3zM60.1 197.50h4.3v1.30h-4.3zM70.1 197.50h4.3v1.30h-4.3z"/>
<path fill="#e9f4f7" d="M34.0 44.80h2.3v1.30h-2.3zM116.2 46.80h4.3v1.30h-4.3zM82.1 47.79h14.3v1.30h-14.3zM80.1 48.79h8.3v1.30h-8.3zM86.1 49.79h2.3v1.30h-2.3zM78.1 51.79h8.3v1.30h-8.3zM78.1 52.78h4.3v1.30h-4.3zM78.1 53.78h2.3v1.30h-2.3zM84.1 53.78h2.3v1.30h-2.3zM92.1 53.78h6.3v1.30h-6.3zM122.2 53.78h6.3v1.30h-6.3zM130.2 53.78h4.3v1.30h-4.3zM78.1 54.78h2.3v1.30h-2.3zM78.1 55.78h6.3v1.30h-6.3zM98.1 55.78h2.3v1.30h-2.3zM92.1 56.78h2.3v1.30h-2.3zM84.1 57.77h2.3v1.30h-2.3zM102.1 57.77h4.3v1.30h-4.3zM108.1 57.77h2.3v1.30h-2.3zM114.2 57.77h2.3v1.30h-2.3zM100.1 58.77h2.3v1.30h-2.3zM104.1 58.77h4.3v1.30h-4.3zM78.1 59.77h4.3v1.30h-4.3zM84.1 59.77h2.3v1.30h-2.3zM92.1 59.77h2.3v1.30h-2.3zM138.2 60.77h2.3v1.30h-2.3zM134.2 61.77h4.3v1.30h-4.3zM58.1 63.76h2.3v1.30h-2.3zM84.1 63.76h2.3v1.30h-2.3zM48.1 64.76h12.3v1.30h-12.3zM78.1 65.76h2.3v1.30h-2.3zM82.1 65.76h4.3v1.30h-4.3zM108.1 65.76h2.3v1.30h-2.3zM112.2 65.76h4.3v1.30h-4.3zM78.1 66.76h8.3v1.30h-8.3zM90.1 66.76h2.3v1.30h-2.3zM96.1 66.76h8.3v1.30h-8.3zM122.2 67.76h2.3v1.30h-2.3zM126.2 67.76h2.3v1.30h-2.3zM114.2 71.75h2.3v1.30h-2.3zM118.2 71.75h2.3v1.30h-2.3zM100.1 72.75h2.3v1.30h-2.3zM78.1 74.74h8.3v1.30h-8.3zM78.1 77.74h8.3v1.30h-8.3zM88.1 77.74h2.3v1.30h-2.3zM116.2 77.74h2.3v1.30h-2.3zM134.2 77.74h6.3v1.30h-6.3zM86.1 78.73h10.3v1.30h-10.3zM78.1 79.73h8.3v1.30h-8.3zM90.1 79.73h8.3v1.30h-8.3zM112.2 80.73h2.3v1.30h-2.3zM118.2 80.73h2.3v1.30h-2.3zM94.1 82.73h2.3v1.30h-2.3zM118.2 82.73h2.3v1.30h-2.3zM74.1 83.72h2.3v1.30h-2.3zM80.1 85.72h2.3v1.30h-2.3zM78.1 86.72h8.3v1.30h-8.3zM88.1 89.71h2.3v1.30h-2.3zM96.1 89.71h2.3v1.30h-2.3zM88.1 90.71h8.3v1.30h-8.3zM120.2 90.71h2.3v1.30h-2.3zM88.1 91.71h2.3v1.30h-2.3zM92.1 91.71h4.3v1.30h-4.3zM78.1 92.71h8.3v1.30h-8.3zM112.2 92.71h2.3v1.30h-2.3zM78.1 93.70h8.3v1.30h-8.3zM84.1 95.70h2.3v1.30h-2.3zM88.1 95.70h2.3v1.30h-2.3zM96.1 95.70h2.3v1.30h-2.3zM78.1 96.70h20.3v1.30h-20.3zM90.1 97.70h8.3v1.30h-8.3zM80.1 98.69h14.3v1.30h-14.3zM96.1 98.69h4.3v1.30h-4.3zM80.1 99.69h4.3v1.30h-4.3zM96.1 99.69h2.3v1.30h-2.3zM116.2 99.69h2.3v1.30h-2.3zM78.1 100.69h2.3v1.30h-2.3zM70.1 101.69h2.3v1.30h-2.3zM76.1 101.69h8.3v1.30h-8.3zM74.1 102.69h4.3v1.30h-4.3zM86.1 102.69h12.3v1.30h-12.3zM84.1 103.69h2.3v1.30h-2.3zM78.1 104.68h6.3v1.30h-6.3zM78.1 105.68h8.3v1.30h-8.3zM110.2 105.68h4.3v1.30h-4.3zM80.1 106.68h2.3v1.30h-2.3zM122.2 106.68h8.3v1.30h-8.3zM128.2 107.68h8.3v1.30h-8.3zM78.1 108.68h8.3v1.30h-8.3zM138.2 108.68h2.3v1.30h-2.3zM82.1 109.67h4.3v1.30h-4.3zM102.1 109.67h4.3v1.30h-4.3zM38.0 112.67h2.3v1.30h-2.3zM42.0 112.67h2.3v1.30h-2.3zM46.0 112.67h2.3v1.30h-2.3zM48.1 113.67h2.3v1.30h-2.3zM68.1 113.67h2.3v1.30h-2.3zM76.1 113.67h2.3v1.30h-2.3zM82.1 113.67h2.3v1.30h-2.3zM78.1 115.66h8.3v1.30h-8.3zM138.2 115.66h2.3v1.30h-2.3zM78.1 117.66h8.3v1.30h-8.3zM92.1 117.66h4.3v1.30h-4.3zM78.1 120.65h2.3v1.30h-2.3zM78.1 121.65h8.3v1.30h-8.3zM104.1 121.65h4.3v1.30h-4.3zM30.0 122.65h4.3v1.30h-4.3zM36.0 122.65h2.3v1.30h-2.3zM40.0 122.65h2.3v1.30h-2.3zM82.1 122.65h4.3v1.30h-4.3zM126.2 122.65h2.3v1.30h-2.3zM134.2 122.65h2.3v1.30h-2.3zM42.0 123.65h4.3v1.30h-4.3zM48.1 123.65h2.3v1.30h-2.3zM78.1 123.65h8.3v1.30h-8.3zM70.1 124.64h16.3v1.30h-16.3zM92.1 124.64h2.3v1.30h-2.3zM96.1 124.64h2.3v1.30h-2.3zM120.2 124.64h2.3v1.30h-2.3zM126.2 124.64h2.3v1.30h-2.3zM66.1 125.64h10.3v1.30h-10.3zM120.2 125.64h4.3v1.30h-4.3zM88.1 126.64h2.3v1.30h-2.3zM92.1 126.64h10.3v1.30h-10.3zM106.1 126.64h2.3v1.30h-2.3zM110.2 126.64h2.3v1.30h-2.3zM76.1 127.64h4.3v1.30h-4.3zM76.1 128.64h2.3v1.30h-2.3zM104.1 128.64h2.3v1.30h-2.3zM108.1 128.64h4.3v1.30h-4.3zM114.2 128.64h2.3v1.30h-2.3zM78.1 129.63h8.3v1.30h-8.3zM70.1 130.63h16.3v1.30h-16.3zM98.1 130.63h2.3v1.30h-2.3zM102.1 130.63h2.3v1.30h-2.3zM88.1 131.63h2.3v1.30h-2.3zM82.1 132.63h4.3v1.30h-4.3zM92.1 132.63h6.3v1.30h-6.3zM80.1 133.63h4.3v1.30h-4.3zM88.1 133.63h4.3v1.30h-4.3zM94.1 133.63h2.3v1.30h-2.3zM78.1 134.62h6.3v1.30h-6.3zM94.1 134.62h4.3v1.30h-4.3zM126.2 134.62h2.3v1.30h-2.3zM32.0 135.62h2.3v1.30h-2.3zM78.1 135.62h4.3v1.30h-4.3zM86.1 135.62h4.3v1.30h-4.3zM94.1 135.62h2.3v1.30h-2.3zM136.2 135.62h4.3v1.30h-4.3zM70.1 136.62h6.3v1.30h-6.3zM78.1 136.62h2.3v1.30h-2.3zM20.0 137.62h2.3v1.30h-2.3zM68.1 137.62h8.3v1.30h-8.3zM84.1 137.62h2.3v1.30h-2.3zM104.1 137.62h2.3v1.30h-2.3zM112.2 137.62h4.3v1.30h-4.3zM84.1 138.62h2.3v1.30h-2.3zM66.1 139.61h4.3v1.30h-4.3zM106.1 139.61h2.3v1.30h-2.3zM110.2 139.61h2.3v1.30h-2.3zM122.2 139.61h2.3v1.30h-2.3zM66.1 140.61h6.3v1.30h-6.3zM82.1 140.61h2.3v1.30h-2.3zM108.1 140.61h2.3v1.30h-2.3zM66.1 141.61h4.3v1.30h-4.3zM72.1 141.61h2.3v1.30h-2.3zM72.1 142.61h6.3v1.30h-6.3zM78.1 143.61h2.3v1.30h-2.3zM86.1 143.61h8.3v1.30h-8.3zM98.1 143.61h2.3v1.30h-2.3zM78.1 144.61h12.3v1.30h-12.3zM92.1 144.61h2.3v1.30h-2.3zM66.1 145.60h4.3v1.30h-4.3zM72.1 145.60h4.3v1.30h-4.3zM80.1 145.60h6.3v1.30h-6.3zM102.1 145.60h2.3v1.30h-2.3zM108.1 145.60h4.3v1.30h-4.3zM74.1 146.60h4.3v1.30h-4.3zM80.1 146.60h6.3v1.30h-6.3zM128.2 146.60h8.3v1.30h-8.3zM84.1 147.60h2.3v1.30h-2.3zM46.0 148.60h2.3v1.30h-2.3zM72.1 148.60h6.3v1.30h-6.3zM20.0 149.60h4.3v1.30h-4.3zM26.0 149.60h6.3v1.30h-6.3zM70.1 150.59h2.3v1.30h-2.3zM74.1 150.59h4.3v1.30h-4.3zM138.2 150.59h2.3v1.30h-2.3zM86.1 151.59h8.3v1.30h-8.3zM90.1 152.59h2.3v1.30h-2.3zM78.1 153.59h4.3v1.30h-4.3zM78.1 154.59h8.3v1.30h-8.3zM78.1 155.58h2.3v1.30h-2.3zM84.1 155.58h2.3v1.30h-2.3zM76.1 156.58h2.3v1.30h-2.3zM84.1 156.58h2.3v1.30h-2.3zM98.1 156.58h4.3v1.30h-4.3zM78.1 157.58h8.3v1.30h-8.3zM106.1 157.58h6.3v1.30h-6.3zM78.1 158.58h2.3v1.30h-2.3zM82.1 158.58h2.3v1.30h-2.3zM80.1 159.58h6.3v1.30h-6.3zM76.1 160.57h2.3v1.30h-2.3zM82.1 160.57h4.3v1.30h-4.3zM76.1 161.57h4.3v1.30h-4.3zM86.1 161.57h6.3v1.30h-6.3zM94.1 161.57h4.3v1.30h-4.3zM112.2 161.57h14.3v1.30h-14.3zM74.1 162.57h2.3v1.30h-2.3zM78.1 162.57h8.3v1.30h-8.3zM90.1 162.57h2.3v1.30h-2.3zM94.1 162.57h2.3v1.30h-2.3zM68.1 163.57h6.3v1.30h-6.3zM114.2 163.57h2.3v1.30h-2.3zM118.2 163.57h2.3v1.30h-2.3zM66.1 164.57h6.3v1.30h-6.3zM74.1 164.57h2.3v1.30h-2.3zM50.1 165.56h2.3v1.30h-2.3zM66.1 165.56h4.3v1.30h-4.3zM78.1 165.56h4.3v1.30h-4.3zM84.1 165.56h2.3v1.30h-2.3zM78.1 166.56h2.3v1.30h-2.3zM82.1 166.56h2.3v1.30h-2.3zM82.1 167.56h4.3v1.30h-4.3zM66.1 168.56h4.3v1.30h-4.3zM74.1 168.56h4.3v1.30h-4.3zM76.1 169.56h2.3v1.30h-2.3zM86.1 169.56h2.3v1.30h-2.3zM74.1 170.55h4.3v1.30h-4.3zM88.1 170.55h2.3v1.30h-2.3zM84.1 171.55h2.3v1.30h-2.3zM102.1 171.55h4.3v1.30h-4.3zM108.1 171.55h2.3v1.30h-2.3zM74.1 172.55h12.3v1.30h-12.3zM60.1 173.55h2.3v1.30h-2.3zM66.1 173.55h2.3v1.30h-2.3zM76.1 173.55h4.3v1.30h-4.3zM82.1 173.55h4.3v1.30h-4.3zM78.1 174.55h8.3v1.30h-8.3zM78.1 175.54h4.3v1.30h-4.3zM84.1 175.54h2.3v1.30h-2.3zM82.1 176.54h4.3v1.30h-4.3zM92.1 176.54h6.3v1.30h-6.3zM82.1 177.54h4.3v1.30h-4.3zM96.1 177.54h2.3v1.30h-2.3zM128.2 177.54h6.3v1.30h-6.3zM68.1 178.54h2.3v1.30h-2.3zM72.1 178.54h4.3v1.30h-4.3zM78.1 178.54h10.3v1.30h-10.3zM114.2 178.54h2.3v1.30h-2.3zM118.2 178.54h6.3v1.30h-6.3zM66.1 179.54h4.3v1.30h-4.3zM138.2 179.54h2.3v1.30h-2.3zM80.1 180.54h6.3v1.30h-6.3zM98.1 180.54h4.3v1.30h-4.3zM22.0 181.53h2.3v1.30h-2.3zM74.1 181.53h10.3v1.30h-10.3zM66.1 182.53h6.3v1.30h-6.3zM90.1 182.53h8.3v1.30h-8.3zM70.1 183.53h8.3v1.30h-8.3zM44.0 184.53h8.3v1.30h-8.3zM70.1 184.53h16.3v1.30h-16.3zM74.1 185.53h4.3v1.30h-4.3zM104.1 185.53h4.3v1.30h-4.3zM78.1 187.52h2.3v1.30h-2.3zM82.1 187.52h4.3v1.30h-4.3zM90.1 187.52h2.3v1.30h-2.3zM134.2 187.52h2.3v1.30h-2.3zM86.1 188.52h4.3v1.30h-4.3zM78.1 189.52h4.3v1.30h-4.3zM84.1 189.52h4.3v1.30h-4.3zM94.1 189.52h4.3v1.30h-4.3zM70.1 190.52h10.3v1.30h-10.3zM90.1 190.52h2.3v1.30h-2.3zM102.1 190.52h6.3v1.30h-6.3zM78.1 191.51h2.3v1.30h-2.3zM84.1 191.51h2.3v1.30h-2.3zM40.0 192.51h12.3v1.30h-12.3zM74.1 192.51h2.3v1.30h-2.3zM84.1 192.51h2.3v1.30h-2.3zM96.1 192.51h2.3v1.30h-2.3zM78.1 193.51h2.3v1.30h-2.3zM86.1 193.51h2.3v1.30h-2.3zM90.1 193.51h4.3v1.30h-4.3zM124.2 193.51h10.3v1.30h-10.3zM136.2 193.51h2.3v1.30h-2.3zM66.1 194.51h4.3v1.30h-4.3zM78.1 194.51h20.3v1.30h-20.3zM66.1 195.51h2.3v1.30h-2.3zM96.1 195.51h2.3v1.30h-2.3zM66.1 196.50h2.3v1.30h-2.3zM70.1 196.50h2.3v1.30h-2.3zM118.2 196.50h2.3v1.30h-2.3zM66.1 197.50h4.3v1.30h-4.3zM74.1 197.50h4.3v1.30h-4.3zM90.1 197.50h2.3v1.30h-2.3z"/>
<path fill="#ffffff" d="M36.0 44.80h2.3v1.30h-2.3zM66.1 45.80h8.3v1.30h-8.3zM54.1 49.79h14.3v1.30h-14.3zM50.1 50.79h2.3v1.30h-2.3zM54.1 52.78h2.3v1.30h-2.3zM64.1 53.78h2.3v1.30h-2.3zM76.1 56.78h6.3v1.30h-6.3zM84.1 56.78h4.3v1.30h-4.3zM48.1 58.77h4.3v1.30h-4.3zM56.1 58.77h10.3v1.30h-10.3zM42.0 59.77h6.3v1.30h-6.3zM72.1 59.77h6.3v1.30h-6.3zM46.0 60.77h6.3v1.30h-6.3zM68.1 61.77h2.3v1.30h-2.3zM72.1 61.77h6.3v1.30h-6.3zM50.1 62.76h2.3v1.30h-2.3zM64.1 62.76h2.3v1.30h-2.3zM60.1 63.76h2.3v1.30h-2.3zM64.1 63.76h2.3v1.30h-2.3zM42.0 66.76h6.3v1.30h-6.3zM50.1 66.76h4.3v1.30h-4.3zM72.1 66.76h6.3v1.30h-6.3zM22.0 67.76h2.3v1.30h-2.3zM30.0 67.76h4.3v1.30h-4.3zM46.0 68.75h6.3v1.30h-6.3zM54.1 68.75h2.3v1.30h-2.3zM60.1 68.75h4.3v1.30h-4.3zM22.0 69.75h2.3v1.30h-2.3zM26.0 69.75h2.3v1.30h-2.3zM54.1 70.75h2.3v1.30h-2.3zM58.1 70.75h2.3v1.30h-2.3zM24.0 72.75h6.3v1.30h-6.3zM56.1 73.74h2.3v1.30h-2.3zM60.1 73.74h4.3v1.30h-4.3zM62.1 78.73h4.3v1.30h-4.3zM68.1 78.73h6.3v1.30h-6.3zM78.1 78.73h2.3v1.30h-2.3zM82.1 78.73h4.3v1.30h-4.3zM56.1 79.73h2.3v1.30h-2.3zM22.0 80.73h8.3v1.30h-8.3zM62.1 81.73h2.3v1.30h-2.3zM66.1 81.73h2.3v1.30h-2.3zM70.1 81.73h2.3v1.30h-2.3zM68.1 82.73h6.3v1.30h-6.3zM54.1 83.72h4.3v1.30h-4.3zM36.0 87.72h6.3v1.30h-6.3zM44.0 87.72h2.3v1.30h-2.3zM28.0 89.71h2.3v1.30h-2.3zM72.1 93.70h6.3v1.30h-6.3zM22.0 96.70h2.3v1.30h-2.3zM46.0 96.70h6.3v1.30h-6.3zM64.1 96.70h6.3v1.30h-6.3zM74.1 96.70h2.3v1.30h-2.3zM38.0 97.70h6.3v1.30h-6.3zM60.1 97.70h2.3v1.30h-2.3zM80.1 97.70h6.3v1.30h-6.3zM72.1 100.69h6.3v1.30h-6.3zM50.1 101.69h2.3v1.30h-2.3zM66.1 102.69h2.3v1.30h-2.3zM40.0 103.69h4.3v1.30h-4.3zM52.1 103.69h2.3v1.30h-2.3zM72.1 103.69h2.3v1.30h-2.3zM76.1 103.69h4.3v1.30h-4.3zM24.0 104.68h4.3v1.30h-4.3zM76.1 104.68h2.3v1.30h-2.3zM28.0 105.68h2.3v1.30h-2.3zM44.0 105.68h8.3v1.30h-8.3zM64.1 105.68h2.3v1.30h-2.3zM70.1 105.68h4.3v1.30h-4.3zM18.0 106.68h6.3v1.30h-6.3zM26.0 106.68h4.3v1.30h-4.3zM70.1 106.68h8.3v1.30h-8.3zM66.1 109.67h2.3v1.30h-2.3zM80.1 109.67h2.3v1.30h-2.3zM22.0 110.67h2.3v1.30h-2.3zM66.1 110.67h8.3v1.30h-8.3zM80.1 110.67h6.3v1.30h-6.3zM22.0 111.67h8.3v1.30h-8.3zM72.1 111.67h2.3v1.30h-2.3zM62.1 112.67h16.3v1.30h-16.3zM46.0 113.67h2.3v1.30h-2.3zM54.1 113.67h2.3v1.30h-2.3zM34.0 114.66h2.3v1.30h-2.3zM38.0 114.66h4.3v1.30h-4.3zM46.0 114.66h2.3v1.30h-2.3zM42.0 116.66h2.3v1.30h-2.3zM46.0 117.66h6.3v1.30h-6.3zM76.1 117.66h2.3v1.30h-2.3zM134.2 117.66h2.3v1.30h-2.3zM50.1 118.66h2.3v1.30h-2.3zM66.1 119.65h6.3v1.30h-6.3zM28.0 120.65h2.3v1.30h-2.3zM32.0 120.65h4.3v1.30h-4.3zM76.1 120.65h2.3v1.30h-2.3zM30.0 121.65h2.3v1.30h-2.3zM36.0 121.65h2.3v1.30h-2.3zM40.0 121.65h2.3v1.30h-2.3zM70.1 121.65h8.3v1.30h-8.3zM46.0 122.65h6.3v1.30h-6.3zM68.1 122.65h4.3v1.30h-4.3zM32.0 123.65h8.3v1.30h-8.3zM72.1 123.65h6.3v1.30h-6.3zM68.1 126.64h2.3v1.30h-2.3zM66.1 128.64h8.3v1.30h-8.3zM80.1 128.64h2.3v1.30h-2.3zM66.1 129.63h4.3v1.30h-4.3zM26.0 130.63h4.3v1.30h-4.3zM28.0 131.63h2.3v1.30h-2.3zM42.0 131.63h2.3v1.30h-2.3zM50.1 131.63h2.3v1.30h-2.3zM68.1 131.63h2.3v1.30h-2.3zM76.1 131.63h8.3v1.30h-8.3zM28.0 132.63h2.3v1.30h-2.3zM66.1 132.63h12.3v1.30h-12.3zM24.0 133.63h4.3v1.30h-4.3zM50.1 134.62h2.3v1.30h-2.3zM34.0 135.62h2.3v1.30h-2.3zM26.0 136.62h2.3v1.30h-2.3zM24.0 137.62h4.3v1.30h-4.3zM20.0 138.62h2.3v1.30h-2.3zM24.0 138.62h6.3v1.30h-6.3zM38.0 138.62h6.3v1.30h-6.3zM46.0 138.62h2.3v1.30h-2.3zM64.1 138.62h2.3v1.30h-2.3zM44.0 139.61h6.3v1.30h-6.3zM52.1 139.61h6.3v1.30h-6.3zM52.1 140.61h8.3v1.30h-8.3zM22.0 141.61h8.3v1.30h-8.3zM56.1 141.61h6.3v1.30h-6.3zM26.0 142.61h2.3v1.30h-2.3zM30.0 142.61h2.3v1.30h-2.3zM34.0 142.61h4.3v1.30h-4.3zM52.1 142.61h8.3v1.30h-8.3zM62.1 142.61h4.3v1.30h-4.3zM66.1 143.61h8.3v1.30h-8.3zM66.1 144.61h12.3v1.30h-12.3zM18.0 146.60h2.3v1.30h-2.3zM36.0 146.60h14.3v1.30h-14.3zM66.1 146.60h2.3v1.30h-2.3zM62.1 147.60h2.3v1.30h-2.3zM68.1 147.60h6.3v1.30h-6.3zM68.1 148.60h2.3v1.30h-2.3zM66.1 149.60h8.3v1.30h-8.3zM28.0 151.59h2.3v1.30h-2.3zM66.1 151.59h2.3v1.30h-2.3zM70.1 151.59h2.3v1.30h-2.3zM78.1 151.59h2.3v1.30h-2.3zM42.0 152.59h2.3v1.30h-2.3zM46.0 152.59h2.3v1.30h-2.3zM50.1 152.59h2.3v1.30h-2.3zM64.1 152.59h2.3v1.30h-2.3zM74.1 152.59h6.3v1.30h-6.3zM20.0 153.59h4.3v1.30h-4.3zM26.0 153.59h6.3v1.30h-6.3zM36.0 153.59h4.3v1.30h-4.3zM48.1 153.59h4.3v1.30h-4.3zM46.0 154.59h6.3v1.30h-6.3zM68.1 154.59h6.3v1.30h-6.3zM50.1 155.58h2.3v1.30h-2.3zM44.0 156.58h8.3v1.30h-8.3zM66.1 156.58h2.3v1.30h-2.3zM44.0 157.58h6.3v1.30h-6.3zM54.1 157.58h4.3v1.30h-4.3zM68.1 157.58h4.3v1.30h-4.3zM50.1 158.58h2.3v1.30h-2.3zM56.1 158.58h2.3v1.30h-2.3zM72.1 158.58h6.3v1.30h-6.3zM22.0 159.58h10.3v1.30h-10.3zM34.0 159.58h14.3v1.30h-14.3zM60.1 159.58h4.3v1.30h-4.3zM66.1 159.58h4.3v1.30h-4.3zM24.0 160.57h6.3v1.30h-6.3zM32.0 160.57h4.3v1.30h-4.3zM42.0 160.57h10.3v1.30h-10.3zM66.1 160.57h6.3v1.30h-6.3zM56.1 161.57h2.3v1.30h-2.3zM44.0 162.57h8.3v1.30h-8.3zM28.0 163.57h8.3v1.30h-8.3zM60.1 163.57h6.3v1.30h-6.3zM16.0 164.57h10.3v1.30h-10.3zM30.0 164.57h12.3v1.30h-12.3zM44.0 164.57h2.3v1.30h-2.3zM64.1 164.57h2.3v1.30h-2.3zM20.0 165.56h16.3v1.30h-16.3zM54.1 165.56h6.3v1.30h-6.3zM62.1 165.56h4.3v1.30h-4.3zM40.0 166.56h10.3v1.30h-10.3zM66.1 166.56h4.3v1.30h-4.3zM28.0 168.56h2.3v1.30h-2.3zM38.0 168.56h14.3v1.30h-14.3zM60.1 168.56h2.3v1.30h-2.3zM66.1 169.56h6.3v1.30h-6.3zM48.1 170.55h4.3v1.30h-4.3zM56.1 170.55h6.3v1.30h-6.3zM62.1 171.55h4.3v1.30h-4.3zM26.0 172.55h4.3v1.30h-4.3zM32.0 172.55h2.3v1.30h-2.3zM40.0 172.55h2.3v1.30h-2.3zM48.1 172.55h2.3v1.30h-2.3zM60.1 172.55h2.3v1.30h-2.3zM54.1 174.55h4.3v1.30h-4.3zM66.1 174.55h2.3v1.30h-2.3zM70.1 174.55h8.3v1.30h-8.3zM42.0 175.54h12.3v1.30h-12.3zM68.1 175.54h4.3v1.30h-4.3zM48.1 177.54h4.3v1.30h-4.3zM68.1 177.54h4.3v1.30h-4.3zM74.1 177.54h4.3v1.30h-4.3zM34.0 178.54h6.3v1.30h-6.3zM42.0 178.54h10.3v1.30h-10.3zM50.1 179.54h4.3v1.30h-4.3zM56.1 179.54h2.3v1.30h-2.3zM60.1 179.54h2.3v1.30h-2.3zM66.1 180.54h2.3v1.30h-2.3zM70.1 180.54h8.3v1.30h-8.3zM24.0 181.53h2.3v1.30h-2.3zM56.1 181.53h2.3v1.30h-2.3zM66.1 181.53h4.3v1.30h-4.3zM62.1 182.53h4.3v1.30h-4.3zM30.0 183.53h2.3v1.30h-2.3zM34.0 183.53h18.3v1.30h-18.3zM30.0 184.53h2.3v1.30h-2.3zM20.0 185.53h20.3v1.30h-20.3zM28.0 186.52h4.3v1.30h-4.3zM68.1 186.52h6.3v1.30h-6.3zM30.0 187.52h14.3v1.30h-14.3zM74.1 187.52h4.3v1.30h-4.3zM66.1 188.52h4.3v1.30h-4.3zM82.1 188.52h4.3v1.30h-4.3zM26.0 189.52h10.3v1.30h-10.3zM38.0 189.52h2.3v1.30h-2.3zM66.1 189.52h4.3v1.30h-4.3zM34.0 190.52h6.3v1.30h-6.3zM22.0 191.51h4.3v1.30h-4.3zM28.0 191.51h2.3v1.30h-2.3zM32.0 191.51h6.3v1.30h-6.3zM42.0 191.51h10.3v1.30h-10.3zM60.1 191.51h4.3v1.30h-4.3zM28.0 192.51h2.3v1.30h-2.3zM32.0 192.51h2.3v1.30h-2.3zM36.0 193.51h12.3v1.30h-12.3zM50.1 193.51h2.3v1.30h-2.3zM40.0 194.51h8.3v1.30h-8.3zM56.1 194.51h6.3v1.30h-6.3zM28.0 195.51h2.3v1.30h-2.3zM40.0 195.51h2.3v1.30h-2.3zM44.0 195.51h4.3v1.30h-4.3zM50.1 195.51h2.3v1.30h-2.3zM58.1 195.51h4.3v1.30h-4.3zM64.1 195.51h2.3v1.30h-2.3zM46.0 196.50h4.3v1.30h-4.3zM68.1 196.50h2.3v1.30h-2.3zM72.1 196.50h2.3v1.30h-2.3zM80.1 196.50h2.3v1.30h-2.3zM20.0 197.50h2.3v1.30h-2.3zM24.0 197.50h2.3v1.30h-2.3zM38.0 197.50h4.3v1.30h-4.3zM48.1 197.50h4.3v1.30h-4.3zM56.1 197.50h4.3v1.30h-4.3z"/>
<path fill="#d3e9ee" d="M38.0 44.80h2.3v1.30h-2.3zM42.0 44.80h8.3v1.30h-8.3zM78.1 44.80h8.3v1.30h-8.3zM78.1 45.80h2.3v1.30h-2.3zM90.1 45.80h4.3v1.30h-4.3zM78.1 46.80h8.3v1.30h-8.3zM120.2 47.79h4.3v1.30h-4.3zM94.1 48.79h12.3v1.30h-12.3zM108.1 48.79h2.3v1.30h-2.3zM82.1 49.79h2.3v1.30h-2.3zM98.1 49.79h12.3v1.30h-12.3zM86.1 50.79h2.3v1.30h-2.3zM90.1 50.79h8.3v1.30h-8.3zM104.1 50.79h4.3v1.30h-4.3zM98.1 51.79h2.3v1.30h-2.3zM102.1 51.79h10.3v1.30h-10.3zM98.1 52.78h12.3v1.30h-12.3zM100.1 53.78h2.3v1.30h-2.3zM84.1 54.78h2.3v1.30h-2.3zM88.1 54.78h10.3v1.30h-10.3zM86.1 55.78h12.3v1.30h-12.3zM98.1 56.78h6.3v1.30h-6.3zM86.1 58.77h4.3v1.30h-4.3zM94.1 58.77h4.3v1.30h-4.3zM124.2 59.77h4.3v1.30h-4.3zM78.1 60.77h4.3v1.30h-4.3zM90.1 60.77h8.3v1.30h-8.3zM78.1 61.77h20.3v1.30h-20.3zM114.2 61.77h12.3v1.30h-12.3zM42.0 62.76h6.3v1.30h-6.3zM88.1 62.76h6.3v1.30h-6.3zM96.1 62.76h2.3v1.30h-2.3zM108.1 63.76h2.3v1.30h-2.3zM124.2 63.76h6.3v1.30h-6.3zM86.1 64.76h6.3v1.30h-6.3zM94.1 64.76h4.3v1.30h-4.3zM94.1 65.76h10.3v1.30h-10.3zM86.1 66.76h4.3v1.30h-4.3zM82.1 67.76h16.3v1.30h-16.3zM84.1 68.75h12.3v1.30h-12.3zM78.1 69.75h20.3v1.30h-20.3zM86.1 70.75h2.3v1.30h-2.3zM130.2 70.75h2.3v1.30h-2.3zM134.2 70.75h2.3v1.30h-2.3zM86.1 71.75h12.3v1.30h-12.3zM80.1 72.75h2.3v1.30h-2.3zM94.1 72.75h4.3v1.30h-4.3zM84.1 73.74h2.3v1.30h-2.3zM88.1 73.74h10.3v1.30h-10.3zM112.2 73.74h4.3v1.30h-4.3zM86.1 74.74h12.3v1.30h-12.3zM106.1 75.74h4.3v1.30h-4.3zM92.1 76.74h2.3v1.30h-2.3zM98.1 76.74h2.3v1.30h-2.3zM102.1 76.74h8.3v1.30h-8.3zM98.1 77.74h4.3v1.30h-4.3zM106.1 77.74h4.3v1.30h-4.3zM98.1 78.73h12.3v1.30h-12.3zM100.1 79.73h2.3v1.30h-2.3zM78.1 80.73h10.3v1.30h-10.3zM100.1 80.73h10.3v1.30h-10.3zM98.1 81.73h12.3v1.30h-12.3zM98.1 82.73h12.3v1.30h-12.3zM120.2 82.73h2.3v1.30h-2.3zM128.2 82.73h2.3v1.30h-2.3zM96.1 84.72h2.3v1.30h-2.3zM102.1 84.72h2.3v1.30h-2.3zM90.1 85.72h8.3v1.30h-8.3zM128.2 85.72h2.3v1.30h-2.3zM134.2 85.72h4.3v1.30h-4.3zM88.1 86.72h2.3v1.30h-2.3zM86.1 87.72h12.3v1.30h-12.3zM102.1 87.72h2.3v1.30h-2.3zM102.1 88.71h2.3v1.30h-2.3zM98.1 89.71h10.3v1.30h-10.3zM126.2 89.71h2.3v1.30h-2.3zM130.2 89.71h6.3v1.30h-6.3zM46.0 90.71h2.3v1.30h-2.3zM78.1 90.71h8.3v1.30h-8.3zM100.1 90.71h4.3v1.30h-4.3zM128.2 90.71h2.3v1.30h-2.3zM98.1 91.71h2.3v1.30h-2.3zM102.1 91.71h8.3v1.30h-8.3zM122.2 91.71h4.3v1.30h-4.3zM130.2 91.71h2.3v1.30h-2.3zM86.1 92.71h8.3v1.30h-8.3zM104.1 93.70h4.3v1.30h-4.3zM106.1 94.70h2.3v1.30h-2.3zM104.1 95.70h2.3v1.30h-2.3zM98.1 96.70h4.3v1.30h-4.3zM104.1 96.70h2.3v1.30h-2.3zM128.2 96.70h12.3v1.30h-12.3zM112.2 97.70h6.3v1.30h-6.3zM124.2 97.70h6.3v1.30h-6.3zM114.2 99.69h2.3v1.30h-2.3zM82.1 100.69h2.3v1.30h-2.3zM106.1 100.69h2.3v1.30h-2.3zM28.0 101.69h6.3v1.30h-6.3zM88.1 101.69h2.3v1.30h-2.3zM94.1 101.69h4.3v1.30h-4.3zM106.1 101.69h2.3v1.30h-2.3zM98.1 102.69h4.3v1.30h-4.3zM80.1 103.69h4.3v1.30h-4.3zM86.1 104.68h2.3v1.30h-2.3zM94.1 104.68h2.3v1.30h-2.3zM100.1 104.68h2.3v1.30h-2.3zM88.1 105.68h10.3v1.30h-10.3zM86.1 106.68h12.3v1.30h-12.3zM134.2 106.68h6.3v1.30h-6.3zM86.1 107.68h12.3v1.30h-12.3zM100.1 107.68h8.3v1.30h-8.3zM110.2 107.68h2.3v1.30h-2.3zM116.2 107.68h10.3v1.30h-10.3zM136.2 107.68h2.3v1.30h-2.3zM86.1 108.68h6.3v1.30h-6.3zM128.2 108.68h2.3v1.30h-2.3zM86.1 109.67h12.3v1.30h-12.3zM86.1 110.67h12.3v1.30h-12.3zM86.1 111.67h12.3v1.30h-12.3zM44.0 112.67h2.3v1.30h-2.3zM86.1 112.67h4.3v1.30h-4.3zM96.1 112.67h2.3v1.30h-2.3zM86.1 113.67h18.3v1.30h-18.3zM86.1 114.66h12.3v1.30h-12.3zM100.1 114.66h2.3v1.30h-2.3zM106.1 114.66h4.3v1.30h-4.3zM86.1 115.66h18.3v1.30h-18.3zM108.1 115.66h2.3v1.30h-2.3zM114.2 115.66h4.3v1.30h-4.3zM120.2 115.66h4.3v1.30h-4.3zM90.1 116.66h12.3v1.30h-12.3zM112.2 116.66h2.3v1.30h-2.3zM120.2 116.66h2.3v1.30h-2.3zM88.1 117.66h4.3v1.30h-4.3zM100.1 117.66h10.3v1.30h-10.3zM78.1 118.66h10.3v1.30h-10.3zM84.1 119.65h2.3v1.30h-2.3zM86.1 120.65h6.3v1.30h-6.3zM100.1 120.65h2.3v1.30h-2.3zM104.1 120.65h6.3v1.30h-6.3zM92.1 121.65h8.3v1.30h-8.3zM108.1 121.65h2.3v1.30h-2.3zM86.1 122.65h8.3v1.30h-8.3zM106.1 123.65h2.3v1.30h-2.3zM86.1 124.64h2.3v1.30h-2.3zM102.1 124.64h2.3v1.30h-2.3zM108.1 124.64h2.3v1.30h-2.3zM86.1 125.64h2.3v1.30h-2.3zM98.1 125.64h12.3v1.30h-12.3zM98.1 127.64h12.3v1.30h-12.3zM122.2 127.64h2.3v1.30h-2.3zM128.2 127.64h2.3v1.30h-2.3zM98.1 128.64h4.3v1.30h-4.3zM86.1 129.63h4.3v1.30h-4.3zM118.2 129.63h2.3v1.30h-2.3zM130.2 129.63h2.3v1.30h-2.3zM50.1 130.63h2.3v1.30h-2.3zM56.1 130.63h2.3v1.30h-2.3zM118.2 130.63h12.3v1.30h-12.3zM98.1 131.63h2.3v1.30h-2.3zM102.1 131.63h8.3v1.30h-8.3zM138.2 131.63h2.3v1.30h-2.3zM78.1 132.63h2.3v1.30h-2.3zM98.1 132.63h4.3v1.30h-4.3zM98.1 133.63h10.3v1.30h-10.3zM90.1 134.62h2.3v1.30h-2.3zM98.1 134.62h2.3v1.30h-2.3zM100.1 135.62h2.3v1.30h-2.3zM94.1 136.62h4.3v1.30h-4.3zM92.1 138.62h6.3v1.30h-6.3zM86.1 139.61h2.3v1.30h-2.3zM90.1 139.61h4.3v1.30h-4.3zM86.1 140.61h6.3v1.30h-6.3zM78.1 141.61h2.3v1.30h-2.3zM84.1 141.61h2.3v1.30h-2.3zM94.1 141.61h2.3v1.30h-2.3zM80.1 142.61h2.3v1.30h-2.3zM86.1 142.61h14.3v1.30h-14.3zM102.1 142.61h6.3v1.30h-6.3zM100.1 143.61h10.3v1.30h-10.3zM98.1 144.61h2.3v1.30h-2.3zM102.1 144.61h2.3v1.30h-2.3zM106.1 144.61h4.3v1.30h-4.3zM86.1 146.60h12.3v1.30h-12.3zM88.1 147.60h2.3v1.30h-2.3zM104.1 147.60h4.3v1.30h-4.3zM128.2 147.60h2.3v1.30h-2.3zM98.1 148.60h8.3v1.30h-8.3zM120.2 148.60h8.3v1.30h-8.3zM90.1 149.60h2.3v1.30h-2.3zM98.1 149.60h12.3v1.30h-12.3zM78.1 150.59h2.3v1.30h-2.3zM84.1 150.59h2.3v1.30h-2.3zM88.1 150.59h2.3v1.30h-2.3zM92.1 150.59h14.3v1.30h-14.3zM102.1 151.59h2.3v1.30h-2.3zM86.1 154.59h10.3v1.30h-10.3zM104.1 154.59h4.3v1.30h-4.3zM86.1 155.58h2.3v1.30h-2.3zM98.1 155.58h2.3v1.30h-2.3zM108.1 155.58h2.3v1.30h-2.3zM86.1 156.58h4.3v1.30h-4.3zM92.1 156.58h2.3v1.30h-2.3zM96.1 156.58h2.3v1.30h-2.3zM104.1 156.58h6.3v1.30h-6.3zM126.2 156.58h2.3v1.30h-2.3zM138.2 156.58h2.3v1.30h-2.3zM86.1 158.58h6.3v1.30h-6.3zM96.1 158.58h2.3v1.30h-2.3zM104.1 158.58h2.3v1.30h-2.3zM108.1 158.58h2.3v1.30h-2.3zM90.1 159.58h4.3v1.30h-4.3zM98.1 159.58h8.3v1.30h-8.3zM110.2 159.58h2.3v1.30h-2.3zM98.1 160.57h12.3v1.30h-12.3zM108.1 161.57h2.3v1.30h-2.3zM122.2 162.57h8.3v1.30h-8.3zM132.2 162.57h2.3v1.30h-2.3zM136.2 162.57h2.3v1.30h-2.3zM78.1 163.57h2.3v1.30h-2.3zM86.1 163.57h12.3v1.30h-12.3zM82.1 164.57h2.3v1.30h-2.3zM86.1 164.57h2.3v1.30h-2.3zM90.1 164.57h8.3v1.30h-8.3zM74.1 165.56h4.3v1.30h-4.3zM102.1 165.56h2.3v1.30h-2.3zM106.1 165.56h4.3v1.30h-4.3zM120.2 165.56h2.3v1.30h-2.3zM126.2 165.56h6.3v1.30h-6.3zM88.1 166.56h14.3v1.30h-14.3zM104.1 166.56h2.3v1.30h-2.3zM108.1 166.56h2.3v1.30h-2.3zM86.1 167.56h24.3v1.30h-24.3zM88.1 168.56h6.3v1.30h-6.3zM102.1 168.56h4.3v1.30h-4.3zM80.1 169.56h2.3v1.30h-2.3zM84.1 169.56h2.3v1.30h-2.3zM88.1 169.56h4.3v1.30h-4.3zM98.1 169.56h14.3v1.30h-14.3zM94.1 170.55h4.3v1.30h-4.3zM86.1 171.55h2.3v1.30h-2.3zM86.1 172.55h2.3v1.30h-2.3zM100.1 172.55h6.3v1.30h-6.3zM86.1 173.55h4.3v1.30h-4.3zM92.1 173.55h2.3v1.30h-2.3zM98.1 173.55h4.3v1.30h-4.3zM106.1 173.55h2.3v1.30h-2.3zM114.2 173.55h2.3v1.30h-2.3zM88.1 174.55h2.3v1.30h-2.3zM92.1 174.55h6.3v1.30h-6.3zM108.1 174.55h2.3v1.30h-2.3zM118.2 174.55h2.3v1.30h-2.3zM136.2 174.55h2.3v1.30h-2.3zM86.1 175.54h2.3v1.30h-2.3zM90.1 175.54h8.3v1.30h-8.3zM100.1 175.54h10.3v1.30h-10.3zM132.2 175.54h6.3v1.30h-6.3zM104.1 176.54h2.3v1.30h-2.3zM100.1 177.54h4.3v1.30h-4.3zM106.1 177.54h4.3v1.30h-4.3zM100.1 178.54h10.3v1.30h-10.3zM86.1 179.54h12.3v1.30h-12.3zM106.1 179.54h4.3v1.30h-4.3zM86.1 180.54h12.3v1.30h-12.3zM104.1 180.54h6.3v1.30h-6.3zM86.1 181.53h6.3v1.30h-6.3zM94.1 181.53h10.3v1.30h-10.3zM112.2 181.53h2.3v1.30h-2.3zM106.1 182.53h4.3v1.30h-4.3zM134.2 182.53h2.3v1.30h-2.3zM92.1 183.53h4.3v1.30h-4.3zM86.1 184.53h12.3v1.30h-12.3zM108.1 184.53h4.3v1.30h-4.3zM114.2 184.53h2.3v1.30h-2.3zM78.1 185.53h12.3v1.30h-12.3zM92.1 185.53h6.3v1.30h-6.3zM54.1 186.52h14.3v1.30h-14.3zM78.1 186.52h2.3v1.30h-2.3zM82.1 186.52h4.3v1.30h-4.3zM90.1 186.52h4.3v1.30h-4.3zM96.1 186.52h2.3v1.30h-2.3zM98.1 188.52h8.3v1.30h-8.3zM108.1 188.52h4.3v1.30h-4.3zM134.2 188.52h4.3v1.30h-4.3zM98.1 189.52h12.3v1.30h-12.3zM24.0 190.52h4.3v1.30h-4.3zM86.1 191.51h2.3v1.30h-2.3zM92.1 191.51h2.3v1.30h-2.3zM98.1 191.51h2.3v1.30h-2.3zM102.1 191.51h2.3v1.30h-2.3zM86.1 192.51h8.3v1.30h-8.3zM104.1 192.51h6.3v1.30h-6.3zM72.1 193.51h2.3v1.30h-2.3zM116.2 194.51h6.3v1.30h-6.3zM128.2 194.51h2.3v1.30h-2.3zM74.1 195.51h4.3v1.30h-4.3zM98.1 195.51h12.3v1.30h-12.3zM92.1 196.50h6.3v1.30h-6.3zM86.1 197.50h4.3v1.30h-4.3zM92.1 197.50h2.3v1.30h-2.3zM96.1 197.50h2.3v1.30h-2.3z"/>
<path fill="#deeff3" d="M40.0 44.80h2.3v1.30h-2.3zM86.1 44.80h12.3v1.30h-12.3zM80.1 45.80h10.3v1.30h-10.3zM94.1 45.80h4.3v1.30h-4.3zM86.1 46.80h12.3v1.30h-12.3zM78.1 47.79h4.3v1.30h-4.3zM96.1 47.79h2.3v1.30h-2.3zM118.2 47.79h2.3v1.30h-2.3zM124.2 47.79h2.3v1.30h-2.3zM78.1 48.79h2.3v1.30h-2.3zM90.1 48.79h4.3v1.30h-4.3zM78.1 49.79h4.3v1.30h-4.3zM84.1 49.79h2.3v1.30h-2.3zM88.1 49.79h10.3v1.30h-10.3zM78.1 50.79h8.3v1.30h-8.3zM88.1 50.79h2.3v1.30h-2.3zM86.1 51.79h12.3v1.30h-12.3zM100.1 51.79h2.3v1.30h-2.3zM82.1 52.78h16.3v1.30h-16.3zM80.1 53.78h4.3v1.30h-4.3zM128.2 53.78h2.3v1.30h-2.3zM80.1 54.78h4.3v1.30h-4.3zM86.1 54.78h2.3v1.30h-2.3zM124.2 54.78h12.3v1.30h-12.3zM84.1 55.78h2.3v1.30h-2.3zM88.1 56.78h4.3v1.30h-4.3zM94.1 56.78h4.3v1.30h-4.3zM86.1 57.77h12.3v1.30h-12.3zM106.1 57.77h2.3v1.30h-2.3zM110.2 57.77h4.3v1.30h-4.3zM78.1 58.77h8.3v1.30h-8.3zM90.1 58.77h4.3v1.30h-4.3zM96.1 59.77h2.3v1.30h-2.3zM82.1 60.77h8.3v1.30h-8.3zM136.2 60.77h2.3v1.30h-2.3zM132.2 61.77h2.3v1.30h-2.3zM138.2 61.77h2.3v1.30h-2.3zM48.1 62.76h2.3v1.30h-2.3zM78.1 62.76h10.3v1.30h-10.3zM94.1 62.76h2.3v1.30h-2.3zM78.1 63.76h6.3v1.30h-6.3zM86.1 63.76h12.3v1.30h-12.3zM78.1 64.76h8.3v1.30h-8.3zM92.1 64.76h2.3v1.30h-2.3zM80.1 65.76h2.3v1.30h-2.3zM86.1 65.76h8.3v1.30h-8.3zM106.1 65.76h2.3v1.30h-2.3zM116.2 65.76h2.3v1.30h-2.3zM78.1 67.76h4.3v1.30h-4.3zM120.2 67.76h2.3v1.30h-2.3zM124.2 67.76h2.3v1.30h-2.3zM96.1 68.75h2.3v1.30h-2.3zM78.1 70.75h8.3v1.30h-8.3zM88.1 70.75h10.3v1.30h-10.3zM128.2 70.75h2.3v1.30h-2.3zM132.2 70.75h2.3v1.30h-2.3zM78.1 71.75h8.3v1.30h-8.3zM78.1 72.75h2.3v1.30h-2.3zM82.1 72.75h4.3v1.30h-4.3zM102.1 72.75h2.3v1.30h-2.3zM78.1 73.74h6.3v1.30h-6.3zM52.1 75.74h12.3v1.30h-12.3zM78.1 75.74h20.3v1.30h-20.3zM78.1 76.74h14.3v1.30h-14.3zM94.1 76.74h4.3v1.30h-4.3zM100.1 76.74h2.3v1.30h-2.3zM86.1 77.74h2.3v1.30h-2.3zM90.1 77.74h8.3v1.30h-8.3zM118.2 77.74h2.3v1.30h-2.3zM96.1 78.73h2.3v1.30h-2.3zM86.1 79.73h4.3v1.30h-4.3zM98.1 79.73h2.3v1.30h-2.3zM102.1 79.73h8.3v1.30h-8.3zM88.1 80.73h12.3v1.30h-12.3zM114.2 80.73h4.3v1.30h-4.3zM120.2 80.73h4.3v1.30h-4.3zM78.1 81.73h18.3v1.30h-18.3zM78.1 82.73h16.3v1.30h-16.3zM96.1 82.73h2.3v1.30h-2.3zM122.2 82.73h6.3v1.30h-6.3zM130.2 82.73h2.3v1.30h-2.3zM78.1 83.72h20.3v1.30h-20.3zM78.1 84.72h18.3v1.30h-18.3zM98.1 84.72h2.3v1.30h-2.3zM114.2 84.72h4.3v1.30h-4.3zM78.1 85.72h2.3v1.30h-2.3zM82.1 85.72h8.3v1.30h-8.3zM124.2 85.72h4.3v1.30h-4.3zM130.2 85.72h4.3v1.30h-4.3zM86.1 86.72h2.3v1.30h-2.3zM90.1 86.72h8.3v1.30h-8.3zM78.1 87.72h8.3v1.30h-8.3zM98.1 87.72h4.3v1.30h-4.3zM104.1 87.72h2.3v1.30h-2.3zM78.1 88.71h4.3v1.30h-4.3zM86.1 88.71h2.3v1.30h-2.3zM92.1 88.71h6.3v1.30h-6.3zM78.1 89.71h10.3v1.30h-10.3zM122.2 89.71h4.3v1.30h-4.3zM48.1 90.71h2.3v1.30h-2.3zM86.1 90.71h2.3v1.30h-2.3zM96.1 90.71h4.3v1.30h-4.3zM104.1 90.71h6.3v1.30h-6.3zM122.2 90.71h2.3v1.30h-2.3zM78.1 91.71h10.3v1.30h-10.3zM90.1 91.71h2.3v1.30h-2.3zM96.1 91.71h2.3v1.30h-2.3zM100.1 91.71h2.3v1.30h-2.3zM94.1 92.71h4.3v1.30h-4.3zM36.0 93.70h4.3v1.30h-4.3zM86.1 93.70h12.3v1.30h-12.3zM78.1 94.70h20.3v1.30h-20.3zM78.1 95.70h6.3v1.30h-6.3zM86.1 95.70h2.3v1.30h-2.3zM90.1 95.70h6.3v1.30h-6.3zM98.1 95.70h6.3v1.30h-6.3zM106.1 95.70h4.3v1.30h-4.3zM78.1 99.69h2.3v1.30h-2.3zM84.1 99.69h12.3v1.30h-12.3zM108.1 99.69h6.3v1.30h-6.3zM80.1 100.69h2.3v1.30h-2.3zM84.1 100.69h14.3v1.30h-14.3zM22.0 101.69h6.3v1.30h-6.3zM84.1 101.69h4.3v1.30h-4.3zM90.1 101.69h4.3v1.30h-4.3zM78.1 102.69h8.3v1.30h-8.3zM86.1 103.69h12.3v1.30h-12.3zM84.1 104.68h2.3v1.30h-2.3zM88.1 104.68h6.3v1.30h-6.3zM96.1 104.68h4.3v1.30h-4.3zM104.1 105.68h6.3v1.30h-6.3zM130.2 106.68h2.3v1.30h-2.3zM98.1 107.68h2.3v1.30h-2.3zM92.1 108.68h6.3v1.30h-6.3zM136.2 108.68h2.3v1.30h-2.3zM100.1 109.67h2.3v1.30h-2.3zM34.0 112.67h4.3v1.30h-4.3zM40.0 112.67h2.3v1.30h-2.3zM90.1 112.67h6.3v1.30h-6.3zM114.2 112.67h10.3v1.30h-10.3zM78.1 113.67h4.3v1.30h-4.3zM84.1 113.67h2.3v1.30h-2.3zM78.1 114.66h8.3v1.30h-8.3zM136.2 114.66h4.3v1.30h-4.3zM136.2 115.66h2.3v1.30h-2.3zM74.1 116.66h4.3v1.30h-4.3zM96.1 117.66h2.3v1.30h-2.3zM74.1 118.66h4.3v1.30h-4.3zM88.1 118.66h10.3v1.30h-10.3zM128.2 118.66h10.3v1.30h-10.3zM78.1 119.65h6.3v1.30h-6.3zM86.1 119.65h12.3v1.30h-12.3zM80.1 120.65h6.3v1.30h-6.3zM92.1 120.65h6.3v1.30h-6.3zM86.1 121.65h6.3v1.30h-6.3zM100.1 121.65h4.3v1.30h-4.3zM28.0 122.65h2.3v1.30h-2.3zM34.0 122.65h2.3v1.30h-2.3zM38.0 122.65h2.3v1.30h-2.3zM94.1 122.65h4.3v1.30h-4.3zM124.2 122.65h2.3v1.30h-2.3zM132.2 122.65h2.3v1.30h-2.3zM40.0 123.65h2.3v1.30h-2.3zM46.0 123.65h2.3v1.30h-2.3zM50.1 123.65h2.3v1.30h-2.3zM86.1 123.65h12.3v1.30h-12.3zM88.1 124.64h2.3v1.30h-2.3zM118.2 124.64h2.3v1.30h-2.3zM122.2 124.64h4.3v1.30h-4.3zM128.2 124.64h2.3v1.30h-2.3zM76.1 125.64h10.3v1.30h-10.3zM88.1 125.64h10.3v1.30h-10.3zM116.2 125.64h4.3v1.30h-4.3zM124.2 125.64h6.3v1.30h-6.3zM78.1 126.64h10.3v1.30h-10.3zM90.1 126.64h2.3v1.30h-2.3zM104.1 126.64h2.3v1.30h-2.3zM108.1 126.64h2.3v1.30h-2.3zM86.1 127.64h12.3v1.30h-12.3zM124.2 127.64h4.3v1.30h-4.3zM86.1 128.64h12.3v1.30h-12.3zM102.1 128.64h2.3v1.30h-2.3zM106.1 128.64h2.3v1.30h-2.3zM112.2 128.64h2.3v1.30h-2.3zM90.1 129.63h20.3v1.30h-20.3zM138.2 129.63h2.3v1.30h-2.3zM52.1 130.63h4.3v1.30h-4.3zM86.1 130.63h12.3v1.30h-12.3zM104.1 130.63h6.3v1.30h-6.3zM86.1 131.63h2.3v1.30h-2.3zM90.1 131.63h8.3v1.30h-8.3zM100.1 131.63h2.3v1.30h-2.3zM80.1 132.63h2.3v1.30h-2.3zM86.1 132.63h6.3v1.30h-6.3zM76.1 133.63h4.3v1.30h-4.3zM84.1 133.63h4.3v1.30h-4.3zM92.1 133.63h2.3v1.30h-2.3zM96.1 133.63h2.3v1.30h-2.3zM108.1 133.63h2.3v1.30h-2.3zM84.1 134.62h6.3v1.30h-6.3zM92.1 134.62h2.3v1.30h-2.3zM90.1 135.62h4.3v1.30h-4.3zM96.1 135.62h2.3v1.30h-2.3zM76.1 136.62h2.3v1.30h-2.3zM80.1 136.62h14.3v1.30h-14.3zM76.1 137.62h8.3v1.30h-8.3zM86.1 137.62h12.3v1.30h-12.3zM102.1 137.62h2.3v1.30h-2.3zM106.1 137.62h6.3v1.30h-6.3zM66.1 138.62h18.3v1.30h-18.3zM86.1 138.62h6.3v1.30h-6.3zM70.1 139.61h16.3v1.30h-16.3zM72.1 140.61h10.3v1.30h-10.3zM84.1 140.61h2.3v1.30h-2.3zM106.1 140.61h2.3v1.30h-2.3zM70.1 141.61h2.3v1.30h-2.3zM74.1 141.61h4.3v1.30h-4.3zM80.1 141.61h4.3v1.30h-4.3zM100.1 141.61h8.3v1.30h-8.3zM78.1 142.61h2.3v1.30h-2.3zM82.1 142.61h4.3v1.30h-4.3zM100.1 142.61h2.3v1.30h-2.3zM114.2 143.61h6.3v1.30h-6.3zM70.1 145.60h2.3v1.30h-2.3zM78.1 145.60h2.3v1.30h-2.3zM86.1 145.60h12.3v1.30h-12.3zM106.1 145.60h2.3v1.30h-2.3zM112.2 145.60h2.3v1.30h-2.3zM78.1 146.60h2.3v1.30h-2.3zM78.1 147.60h6.3v1.30h-6.3zM86.1 147.60h2.3v1.30h-2.3zM90.1 147.60h8.3v1.30h-8.3zM78.1 148.60h20.3v1.30h-20.3zM24.0 149.60h2.3v1.30h-2.3zM78.1 149.60h12.3v1.30h-12.3zM92.1 149.60h6.3v1.30h-6.3zM80.1 150.59h4.3v1.30h-4.3zM86.1 150.59h2.3v1.30h-2.3zM90.1 150.59h2.3v1.30h-2.3zM106.1 150.59h4.3v1.30h-4.3zM94.1 151.59h4.3v1.30h-4.3zM86.1 152.59h4.3v1.30h-4.3zM92.1 152.59h6.3v1.30h-6.3zM86.1 153.59h12.3v1.30h-12.3zM96.1 154.59h2.3v1.30h-2.3zM100.1 154.59h4.3v1.30h-4.3zM80.1 155.58h4.3v1.30h-4.3zM88.1 155.58h10.3v1.30h-10.3zM78.1 156.58h6.3v1.30h-6.3zM102.1 156.58h2.3v1.30h-2.3zM104.1 157.58h2.3v1.30h-2.3zM80.1 158.58h2.3v1.30h-2.3zM84.1 158.58h2.3v1.30h-2.3zM94.1 158.58h2.3v1.30h-2.3zM78.1 159.58h2.3v1.30h-2.3zM86.1 159.58h4.3v1.30h-4.3zM94.1 159.58h4.3v1.30h-4.3zM106.1 159.58h4.3v1.30h-4.3zM86.1 160.57h12.3v1.30h-12.3zM92.1 161.57h2.3v1.30h-2.3zM76.1 162.57h2.3v1.30h-2.3zM86.1 162.57h4.3v1.30h-4.3zM92.1 162.57h2.3v1.30h-2.3zM96.1 162.57h2.3v1.30h-2.3zM134.2 162.57h2.3v1.30h-2.3zM138.2 162.57h2.3v1.30h-2.3zM74.1 163.57h4.3v1.30h-4.3zM80.1 163.57h6.3v1.30h-6.3zM116.2 163.57h2.3v1.30h-2.3zM72.1 164.57h2.3v1.30h-2.3zM76.1 164.57h6.3v1.30h-6.3zM84.1 164.57h2.3v1.30h-2.3zM88.1 164.57h2.3v1.30h-2.3zM70.1 165.56h4.3v1.30h-4.3zM82.1 165.56h2.3v1.30h-2.3zM86.1 165.56h12.3v1.30h-12.3zM122.2 165.56h4.3v1.30h-4.3zM80.1 166.56h2.3v1.30h-2.3zM84.1 166.56h4.3v1.30h-4.3zM78.1 167.56h4.3v1.30h-4.3zM64.1 168.56h2.3v1.30h-2.3zM70.1 168.56h4.3v1.30h-4.3zM78.1 168.56h8.3v1.30h-8.3zM78.1 169.56h2.3v1.30h-2.3zM82.1 169.56h2.3v1.30h-2.3zM92.1 169.56h6.3v1.30h-6.3zM78.1 170.55h10.3v1.30h-10.3zM90.1 170.55h4.3v1.30h-4.3zM80.1 171.55h4.3v1.30h-4.3zM88.1 171.55h10.3v1.30h-10.3zM106.1 171.55h2.3v1.30h-2.3zM110.2 171.55h2.3v1.30h-2.3zM58.1 173.55h2.3v1.30h-2.3zM62.1 173.55h4.3v1.30h-4.3zM80.1 173.55h2.3v1.30h-2.3zM90.1 173.55h2.3v1.30h-2.3zM94.1 173.55h4.3v1.30h-4.3zM102.1 173.55h4.3v1.30h-4.3zM86.1 174.55h2.3v1.30h-2.3zM90.1 174.55h2.3v1.30h-2.3zM132.2 174.55h4.3v1.30h-4.3zM138.2 174.55h2.3v1.30h-2.3zM88.1 175.54h2.3v1.30h-2.3zM78.1 176.54h4.3v1.30h-4.3zM86.1 176.54h6.3v1.30h-6.3zM138.2 176.54h2.3v1.30h-2.3zM78.1 177.54h4.3v1.30h-4.3zM86.1 177.54h10.3v1.30h-10.3zM98.1 177.54h2.3v1.30h-2.3zM52.1 178.54h14.3v1.30h-14.3zM70.1 178.54h2.3v1.30h-2.3zM76.1 178.54h2.3v1.30h-2.3zM88.1 178.54h12.3v1.30h-12.3zM126.2 178.54h2.3v1.30h-2.3zM70.1 179.54h16.3v1.30h-16.3zM134.2 179.54h4.3v1.30h-4.3zM78.1 180.54h2.3v1.30h-2.3zM102.1 180.54h2.3v1.30h-2.3zM84.1 181.53h2.3v1.30h-2.3zM92.1 181.53h2.3v1.30h-2.3zM104.1 181.53h6.3v1.30h-6.3zM72.1 182.53h18.3v1.30h-18.3zM132.2 182.53h2.3v1.30h-2.3zM78.1 183.53h14.3v1.30h-14.3zM96.1 183.53h2.3v1.30h-2.3zM112.2 184.53h2.3v1.30h-2.3zM118.2 184.53h4.3v1.30h-4.3zM80.1 186.52h2.3v1.30h-2.3zM86.1 186.52h4.3v1.30h-4.3zM94.1 186.52h2.3v1.30h-2.3zM80.1 187.52h2.3v1.30h-2.3zM86.1 187.52h4.3v1.30h-4.3zM92.1 187.52h6.3v1.30h-6.3zM136.2 187.52h4.3v1.30h-4.3zM90.1 188.52h8.3v1.30h-8.3zM106.1 188.52h2.3v1.30h-2.3zM112.2 188.52h2.3v1.30h-2.3zM88.1 189.52h6.3v1.30h-6.3zM80.1 190.52h6.3v1.30h-6.3zM96.1 190.52h6.3v1.30h-6.3zM88.1 191.51h4.3v1.30h-4.3zM94.1 191.51h4.3v1.30h-4.3zM76.1 192.51h8.3v1.30h-8.3zM94.1 192.51h2.3v1.30h-2.3zM98.1 192.51h4.3v1.30h-4.3zM66.1 193.51h6.3v1.30h-6.3zM80.1 193.51h6.3v1.30h-6.3zM88.1 193.51h2.3v1.30h-2.3zM122.2 193.51h2.3v1.30h-2.3zM134.2 193.51h2.3v1.30h-2.3zM70.1 194.51h8.3v1.30h-8.3zM122.2 194.51h2.3v1.30h-2.3zM126.2 194.51h2.3v1.30h-2.3zM68.1 195.51h6.3v1.30h-6.3zM78.1 195.51h4.3v1.30h-4.3zM86.1 195.51h10.3v1.30h-10.3zM82.1 196.50h10.3v1.30h-10.3zM120.2 196.50h2.3v1.30h-2.3zM78.1 197.50h8.3v1.30h-8.3zM94.1 197.50h2.3v1.30h-2.3z"/>
<path fill="#f7cac4" d="M50.1 44.80h2.3v1.30h-2.3zM66.1 44.80h10.3v1.30h-10.3zM36.0 45.80h2.3v1.30h-2.3zM44.0 45.80h2.3v1.30h-2.3zM50.1 45.80h2.3v1.30h-2.3zM74.1 45.80h2.3v1.30h-2.3zM16.0 46.80h12.3v1.30h-12.3zM50.1 46.80h4.3v1.30h-4.3zM56.1 46.80h4.3v1.30h-4.3zM62.1 46.80h2.3v1.30h-2.3zM26.0 47.79h4.3v1.30h-4.3zM48.1 47.79h2.3v1.30h-2.3zM66.1 47.79h12.3v1.30h-12.3zM20.0 48.79h2.3v1.30h-2.3zM24.0 48.79h4.3v1.30h-4.3zM50.1 48.79h2.3v1.30h-2.3zM66.1 48.79h6.3v1.30h-6.3zM28.0 49.79h2.3v1.30h-2.3zM76.1 49.79h2.3v1.30h-2.3zM66.1 50.79h2.3v1.30h-2.3zM70.1 50.79h8.3v1.30h-8.3zM26.0 51.79h2.3v1.30h-2.3zM32.0 51.79h2.3v1.30h-2.3zM40.0 51.79h6.3v1.30h-6.3zM66.1 51.79h6.3v1.30h-6.3zM58.1 52.78h2.3v1.30h-2.3zM62.1 52.78h4.3v1.30h-4.3zM22.0 53.78h2.3v1.30h-2.3zM56.1 53.78h4.3v1.30h-4.3zM52.1 54.78h4.3v1.30h-4.3zM76.1 54.78h2.3v1.30h-2.3zM62.1 55.78h16.3v1.30h-16.3zM16.0 56.78h14.3v1.30h-14.3zM34.0 56.78h10.3v1.30h-10.3zM48.1 56.78h4.3v1.30h-4.3zM74.1 56.78h2.3v1.30h-2.3zM24.0 57.77h6.3v1.30h-6.3zM34.0 57.77h4.3v1.30h-4.3zM40.0 57.77h12.3v1.30h-12.3zM60.1 57.77h6.3v1.30h-6.3zM76.1 57.77h2.3v1.30h-2.3zM18.0 58.77h12.3v1.30h-12.3zM34.0 58.77h6.3v1.30h-6.3zM66.1 58.77h4.3v1.30h-4.3zM72.1 58.77h4.3v1.30h-4.3zM30.0 59.77h2.3v1.30h-2.3zM56.1 59.77h8.3v1.30h-8.3zM66.1 59.77h2.3v1.30h-2.3zM16.0 60.77h10.3v1.30h-10.3zM30.0 60.77h2.3v1.30h-2.3zM52.1 60.77h2.3v1.30h-2.3zM16.0 61.77h2.3v1.30h-2.3zM20.0 61.77h10.3v1.30h-10.3zM36.0 61.77h2.3v1.30h-2.3zM22.0 62.76h2.3v1.30h-2.3zM26.0 62.76h2.3v1.30h-2.3zM30.0 62.76h10.3v1.30h-10.3zM16.0 63.76h12.3v1.30h-12.3zM68.1 63.76h10.3v1.30h-10.3zM62.1 64.76h2.3v1.30h-2.3zM72.1 64.76h6.3v1.30h-6.3zM72.1 65.76h2.3v1.30h-2.3zM16.0 66.76h14.3v1.30h-14.3zM54.1 66.76h16.3v1.30h-16.3zM36.0 67.76h24.3v1.30h-24.3zM66.1 67.76h2.3v1.30h-2.3zM30.0 68.75h6.3v1.30h-6.3zM66.1 68.75h2.3v1.30h-2.3zM70.1 68.75h6.3v1.30h-6.3zM30.0 69.75h10.3v1.30h-10.3zM44.0 69.75h4.3v1.30h-4.3zM56.1 69.75h6.3v1.30h-6.3zM64.1 69.75h4.3v1.30h-4.3zM70.1 69.75h8.3v1.30h-8.3zM32.0 70.75h6.3v1.30h-6.3zM66.1 70.75h6.3v1.30h-6.3zM28.0 71.75h2.3v1.30h-2.3zM66.1 71.75h2.3v1.30h-2.3zM74.1 71.75h4.3v1.30h-4.3zM42.0 72.75h2.3v1.30h-2.3zM52.1 72.75h4.3v1.30h-4.3zM74.1 72.75h4.3v1.30h-4.3zM20.0 73.74h4.3v1.30h-4.3zM26.0 73.74h4.3v1.30h-4.3zM32.0 73.74h2.3v1.30h-2.3zM40.0 73.74h6.3v1.30h-6.3zM30.0 74.74h12.3v1.30h-12.3zM52.1 74.74h8.3v1.30h-8.3zM76.1 74.74h2.3v1.30h-2.3zM28.0 75.74h20.3v1.30h-20.3zM72.1 75.74h6.3v1.30h-6.3zM64.1 77.74h2.3v1.30h-2.3zM68.1 77.74h10.3v1.30h-10.3zM44.0 78.73h6.3v1.30h-6.3zM56.1 78.73h4.3v1.30h-4.3zM48.1 79.73h2.3v1.30h-2.3zM70.1 79.73h4.3v1.30h-4.3zM38.0 80.73h14.3v1.30h-14.3zM60.1 80.73h6.3v1.30h-6.3zM70.1 80.73h8.3v1.30h-8.3zM34.0 81.73h6.3v1.30h-6.3zM42.0 81.73h10.3v1.30h-10.3zM72.1 81.73h6.3v1.30h-6.3zM24.0 82.73h6.3v1.30h-6.3zM38.0 82.73h2.3v1.30h-2.3zM46.0 82.73h2.3v1.30h-2.3zM16.0 83.72h12.3v1.30h-12.3zM34.0 83.72h2.3v1.30h-2.3zM42.0 83.72h8.3v1.30h-8.3zM66.1 83.72h2.3v1.30h-2.3zM40.0 84.72h22.3v1.30h-22.3zM64.1 84.72h6.3v1.30h-6.3zM72.1 84.72h6.3v1.30h-6.3zM56.1 85.72h2.3v1.30h-2.3zM64.1 85.72h4.3v1.30h-4.3zM70.1 85.72h2.3v1.30h-2.3zM60.1 86.72h6.3v1.30h-6.3zM70.1 86.72h8.3v1.30h-8.3zM32.0 87.72h4.3v1.30h-4.3zM50.1 87.72h2.3v1.30h-2.3zM54.1 87.72h4.3v1.30h-4.3zM60.1 87.72h6.3v1.30h-6.3zM70.1 87.72h8.3v1.30h-8.3zM42.0 88.71h4.3v1.30h-4.3zM62.1 88.71h4.3v1.30h-4.3zM74.1 88.71h4.3v1.30h-4.3zM18.0 89.71h4.3v1.30h-4.3zM24.0 89.71h2.3v1.30h-2.3zM30.0 89.71h6.3v1.30h-6.3zM38.0 89.71h6.3v1.30h-6.3zM62.1 89.71h8.3v1.30h-8.3zM72.1 89.71h6.3v1.30h-6.3zM44.0 90.71h2.3v1.30h-2.3zM50.1 90.71h2.3v1.30h-2.3zM74.1 90.71h4.3v1.30h-4.3zM30.0 91.71h8.3v1.30h-8.3zM48.1 91.71h2.3v1.30h-2.3zM70.1 91.71h8.3v1.30h-8.3zM22.0 92.71h8.3v1.30h-8.3zM32.0 92.71h10.3v1.30h-10.3zM64.1 92.71h10.3v1.30h-10.3zM26.0 93.70h2.3v1.30h-2.3zM46.0 93.70h4.3v1.30h-4.3zM62.1 93.70h8.3v1.30h-8.3zM26.0 94.70h4.3v1.30h-4.3zM70.1 94.70h8.3v1.30h-8.3zM16.0 95.70h4.3v1.30h-4.3zM36.0 95.70h4.3v1.30h-4.3zM52.1 95.70h8.3v1.30h-8.3zM74.1 95.70h4.3v1.30h-4.3zM24.0 96.70h16.3v1.30h-16.3zM54.1 96.70h8.3v1.30h-8.3zM44.0 97.70h4.3v1.30h-4.3zM76.1 97.70h2.3v1.30h-2.3zM50.1 98.69h2.3v1.30h-2.3zM64.1 98.69h6.3v1.30h-6.3zM22.0 100.69h8.3v1.30h-8.3zM58.1 100.69h2.3v1.30h-2.3zM62.1 100.69h4.3v1.30h-4.3zM16.0 101.69h6.3v1.30h-6.3zM34.0 101.69h10.3v1.30h-10.3zM52.1 101.69h8.3v1.30h-8.3zM62.1 101.69h2.3v1.30h-2.3zM26.0 102.69h8.3v1.30h-8.3zM58.1 102.69h6.3v1.30h-6.3zM16.0 103.69h6.3v1.30h-6.3zM30.0 103.69h6.3v1.30h-6.3zM66.1 103.69h2.3v1.30h-2.3zM32.0 104.68h10.3v1.30h-10.3zM44.0 104.68h2.3v1.30h-2.3zM54.1 104.68h4.3v1.30h-4.3zM66.1 104.68h6.3v1.30h-6.3zM20.0 105.68h4.3v1.30h-4.3zM34.0 106.68h2.3v1.30h-2.3zM42.0 106.68h4.3v1.30h-4.3zM48.1 106.68h4.3v1.30h-4.3zM56.1 106.68h6.3v1.30h-6.3zM28.0 107.68h4.3v1.30h-4.3zM40.0 107.68h8.3v1.30h-8.3zM50.1 107.68h2.3v1.30h-2.3zM68.1 107.68h4.3v1.30h-4.3zM20.0 108.68h8.3v1.30h-8.3zM30.0 108.68h10.3v1.30h-10.3zM42.0 108.68h2.3v1.30h-2.3zM64.1 108.68h10.3v1.30h-10.3zM16.0 109.67h2.3v1.30h-2.3zM42.0 109.67h4.3v1.30h-4.3zM48.1 109.67h8.3v1.30h-8.3zM58.1 109.67h8.3v1.30h-8.3zM56.1 110.67h6.3v1.30h-6.3zM34.0 111.67h16.3v1.30h-16.3zM52.1 111.67h12.3v1.30h-12.3zM66.1 111.67h2.3v1.30h-2.3zM16.0 112.67h8.3v1.30h-8.3zM30.0 112.67h4.3v1.30h-4.3zM48.1 112.67h4.3v1.30h-4.3zM56.1 112.67h2.3v1.30h-2.3zM16.0 113.67h6.3v1.30h-6.3zM24.0 113.67h4.3v1.30h-4.3zM30.0 113.67h4.3v1.30h-4.3zM56.1 113.67h2.3v1.30h-2.3zM28.0 114.66h2.3v1.30h-2.3zM50.1 114.66h2.3v1.30h-2.3zM60.1 114.66h6.3v1.30h-6.3zM36.0 115.66h2.3v1.30h-2.3zM40.0 115.66h12.3v1.30h-12.3zM56.1 115.66h8.3v1.30h-8.3zM34.0 116.66h6.3v1.30h-6.3zM64.1 116.66h10.3v1.30h-10.3zM58.1 117.66h4.3v1.30h-4.3zM64.1 117.66h2.3v1.30h-2.3zM20.0 118.66h6.3v1.30h-6.3zM28.0 118.66h4.3v1.30h-4.3zM58.1 118.66h8.3v1.30h-8.3zM46.0 119.65h2.3v1.30h-2.3zM50.1 119.65h2.3v1.30h-2.3zM62.1 119.65h4.3v1.30h-4.3zM26.0 120.65h2.3v1.30h-2.3zM42.0 120.65h2.3v1.30h-2.3zM48.1 120.65h4.3v1.30h-4.3zM62.1 120.65h2.3v1.30h-2.3zM16.0 121.65h12.3v1.30h-12.3zM50.1 121.65h4.3v1.30h-4.3zM56.1 121.65h12.3v1.30h-12.3zM54.1 122.65h4.3v1.30h-4.3zM60.1 122.65h4.3v1.30h-4.3zM24.0 123.65h6.3v1.30h-6.3zM66.1 123.65h2.3v1.30h-2.3zM38.0 124.64h14.3v1.30h-14.3zM20.0 125.64h4.3v1.30h-4.3zM42.0 125.64h6.3v1.30h-6.3zM58.1 125.64h8.3v1.30h-8.3zM18.0 126.64h8.3v1.30h-8.3zM28.0 126.64h4.3v1.30h-4.3zM36.0 126.64h8.3v1.30h-8.3zM54.1 126.64h6.3v1.30h-6.3zM26.0 127.64h30.3v1.30h-30.3zM26.0 128.64h4.3v1.30h-4.3zM48.1 128.64h4.3v1.30h-4.3zM64.1 128.64h2.3v1.30h-2.3zM18.0 129.63h4.3v1.30h-4.3zM26.0 129.63h4.3v1.30h-4.3zM34.0 129.63h16.3v1.30h-16.3zM64.1 129.63h2.3v1.30h-2.3zM18.0 130.63h4.3v1.30h-4.3zM16.0 131.63h4.3v1.30h-4.3zM36.0 131.63h2.3v1.30h-2.3zM46.0 131.63h2.3v1.30h-2.3zM56.1 131.63h2.3v1.30h-2.3zM60.1 131.63h6.3v1.30h-6.3zM56.1 132.63h4.3v1.30h-4.3zM30.0 133.63h2.3v1.30h-2.3zM48.1 133.63h2.3v1.30h-2.3zM68.1 133.63h6.3v1.30h-6.3zM28.0 134.62h10.3v1.30h-10.3zM76.1 134.62h2.3v1.30h-2.3zM66.1 135.62h6.3v1.30h-6.3zM52.1 136.62h8.3v1.30h-8.3zM30.0 137.62h18.3v1.30h-18.3zM52.1 137.62h14.3v1.30h-14.3zM16.0 138.62h4.3v1.30h-4.3zM52.1 138.62h4.3v1.30h-4.3zM18.0 139.61h8.3v1.30h-8.3zM28.0 139.61h2.3v1.30h-2.3zM16.0 140.61h6.3v1.30h-6.3zM44.0 140.61h6.3v1.30h-6.3zM32.0 141.61h8.3v1.30h-8.3zM44.0 141.61h8.3v1.30h-8.3zM22.0 142.61h4.3v1.30h-4.3zM40.0 142.61h4.3v1.30h-4.3zM50.1 143.61h16.3v1.30h-16.3zM40.0 144.61h4.3v1.30h-4.3zM46.0 144.61h2.3v1.30h-2.3zM60.1 144.61h2.3v1.30h-2.3zM32.0 145.60h8.3v1.30h-8.3zM42.0 145.60h2.3v1.30h-2.3zM60.1 145.60h6.3v1.30h-6.3zM54.1 146.60h10.3v1.30h-10.3zM20.0 147.60h2.3v1.30h-2.3zM44.0 147.60h8.3v1.30h-8.3zM22.0 148.60h14.3v1.30h-14.3zM34.0 149.60h6.3v1.30h-6.3zM42.0 149.60h10.3v1.30h-10.3zM18.0 150.59h6.3v1.30h-6.3zM46.0 150.59h4.3v1.30h-4.3zM52.1 150.59h6.3v1.30h-6.3zM60.1 150.59h6.3v1.30h-6.3zM20.0 151.59h4.3v1.30h-4.3zM32.0 151.59h2.3v1.30h-2.3zM36.0 151.59h2.3v1.30h-2.3zM40.0 151.59h4.3v1.30h-4.3zM48.1 151.59h4.3v1.30h-4.3zM54.1 151.59h2.3v1.30h-2.3zM24.0 152.59h4.3v1.30h-4.3zM54.1 152.59h2.3v1.30h-2.3zM16.0 153.59h2.3v1.30h-2.3zM40.0 153.59h4.3v1.30h-4.3zM52.1 153.59h2.3v1.30h-2.3zM68.1 153.59h10.3v1.30h-10.3zM24.0 154.59h4.3v1.30h-4.3zM56.1 154.59h2.3v1.30h-2.3zM60.1 154.59h4.3v1.30h-4.3zM36.0 155.58h10.3v1.30h-10.3zM64.1 155.58h2.3v1.30h-2.3zM22.0 156.58h8.3v1.30h-8.3zM36.0 156.58h2.3v1.30h-2.3zM62.1 156.58h4.3v1.30h-4.3zM16.0 157.58h10.3v1.30h-10.3zM34.0 157.58h2.3v1.30h-2.3zM38.0 157.58h4.3v1.30h-4.3zM58.1 157.58h8.3v1.30h-8.3zM30.0 158.58h2.3v1.30h-2.3zM34.0 158.58h8.3v1.30h-8.3zM44.0 158.58h2.3v1.30h-2.3zM52.1 158.58h2.3v1.30h-2.3zM16.0 160.57h2.3v1.30h-2.3zM36.0 160.57h4.3v1.30h-4.3zM16.0 161.57h12.3v1.30h-12.3zM30.0 161.57h4.3v1.30h-4.3zM38.0 161.57h2.3v1.30h-2.3zM42.0 161.57h2.3v1.30h-2.3zM48.1 161.57h4.3v1.30h-4.3zM62.1 161.57h4.3v1.30h-4.3zM16.0 162.57h2.3v1.30h-2.3zM58.1 162.57h8.3v1.30h-8.3zM52.1 163.57h2.3v1.30h-2.3zM52.1 164.57h4.3v1.30h-4.3zM16.0 166.56h8.3v1.30h-8.3zM18.0 167.56h4.3v1.30h-4.3zM34.0 167.56h10.3v1.30h-10.3zM56.1 167.56h10.3v1.30h-10.3zM72.1 167.56h4.3v1.30h-4.3zM16.0 168.56h2.3v1.30h-2.3zM30.0 168.56h2.3v1.30h-2.3zM52.1 168.56h2.3v1.30h-2.3zM20.0 169.56h6.3v1.30h-6.3zM28.0 169.56h8.3v1.30h-8.3zM52.1 169.56h14.3v1.30h-14.3zM18.0 170.55h12.3v1.30h-12.3zM16.0 171.55h6.3v1.30h-6.3zM24.0 171.55h6.3v1.30h-6.3zM34.0 171.55h2.3v1.30h-2.3zM38.0 171.55h20.3v1.30h-20.3zM30.0 172.55h2.3v1.30h-2.3zM16.0 173.55h4.3v1.30h-4.3zM26.0 173.55h2.3v1.30h-2.3zM30.0 173.55h2.3v1.30h-2.3zM36.0 173.55h2.3v1.30h-2.3zM54.1 173.55h4.3v1.30h-4.3zM30.0 174.55h20.3v1.30h-20.3zM22.0 175.54h2.3v1.30h-2.3zM28.0 175.54h2.3v1.30h-2.3zM34.0 175.54h4.3v1.30h-4.3zM38.0 176.54h6.3v1.30h-6.3zM50.1 176.54h2.3v1.30h-2.3zM22.0 177.54h6.3v1.30h-6.3zM40.0 177.54h4.3v1.30h-4.3zM24.0 178.54h6.3v1.30h-6.3zM16.0 179.54h6.3v1.30h-6.3zM30.0 179.54h4.3v1.30h-4.3zM40.0 179.54h4.3v1.30h-4.3zM18.0 180.54h12.3v1.30h-12.3zM38.0 180.54h10.3v1.30h-10.3zM54.1 180.54h4.3v1.30h-4.3zM16.0 181.53h4.3v1.30h-4.3zM30.0 181.53h18.3v1.30h-18.3zM30.0 182.53h6.3v1.30h-6.3zM24.0 183.53h6.3v1.30h-6.3zM52.1 183.53h4.3v1.30h-4.3zM20.0 184.53h6.3v1.30h-6.3zM52.1 184.53h8.3v1.30h-8.3zM62.1 184.53h4.3v1.30h-4.3zM52.1 185.53h8.3v1.30h-8.3zM18.0 187.52h6.3v1.30h-6.3zM54.1 187.52h8.3v1.30h-8.3zM64.1 187.52h2.3v1.30h-2.3zM34.0 188.52h18.3v1.30h-18.3zM64.1 188.52h2.3v1.30h-2.3zM22.0 189.52h4.3v1.30h-4.3zM40.0 189.52h10.3v1.30h-10.3zM62.1 189.52h4.3v1.30h-4.3zM28.0 190.52h2.3v1.30h-2.3zM52.1 190.52h12.3v1.30h-12.3zM54.1 191.51h4.3v1.30h-4.3zM16.0 192.51h2.3v1.30h-2.3zM20.0 192.51h2.3v1.30h-2.3zM52.1 192.51h2.3v1.30h-2.3zM26.0 193.51h4.3v1.30h-4.3zM16.0 194.51h2.3v1.30h-2.3zM30.0 194.51h6.3v1.30h-6.3zM64.1 194.51h2.3v1.30h-2.3zM16.0 195.51h2.3v1.30h-2.3zM20.0 195.51h4.3v1.30h-4.3zM38.0 196.50h2.3v1.30h-2.3zM52.1 196.50h12.3v1.30h-12.3zM32.0 197.50h2.3v1.30h-2.3zM52.1 197.50h4.3v1.30h-4.3z"/>
<path fill="#fbe5e1" d="M76.1 44.80h2.3v1.30h-2.3zM62.1 45.80h4.3v1.30h-4.3zM76.1 45.80h2.3v1.30h-2.3zM28.0 46.80h2.3v1.30h-2.3zM72.1 48.79h6.3v1.30h-6.3zM42.0 50.79h8.3v1.30h-8.3zM46.0 51.79h6.3v1.30h-6.3zM72.1 51.79h6.3v1.30h-6.3zM60.1 53.78h4.3v1.30h-4.3zM56.1 54.78h10.3v1.30h-10.3zM44.0 56.78h4.3v1.30h-4.3zM40.0 58.77h8.3v1.30h-8.3zM52.1 58.77h4.3v1.30h-4.3zM70.1 58.77h2.3v1.30h-2.3zM76.1 58.77h2.3v1.30h-2.3zM32.0 59.77h10.3v1.30h-10.3zM52.1 59.77h4.3v1.30h-4.3zM64.1 59.77h2.3v1.30h-2.3zM68.1 59.77h4.3v1.30h-4.3zM26.0 60.77h4.3v1.30h-4.3zM32.0 60.77h14.3v1.30h-14.3zM54.1 60.77h12.3v1.30h-12.3zM38.0 61.77h30.3v1.30h-30.3zM70.1 61.77h2.3v1.30h-2.3zM24.0 62.76h2.3v1.30h-2.3zM28.0 62.76h2.3v1.30h-2.3zM40.0 62.76h2.3v1.30h-2.3zM52.1 62.76h12.3v1.30h-12.3zM66.1 62.76h12.3v1.30h-12.3zM28.0 63.76h2.3v1.30h-2.3zM74.1 65.76h4.3v1.30h-4.3zM48.1 66.76h2.3v1.30h-2.3zM70.1 66.76h2.3v1.30h-2.3zM26.0 67.76h2.3v1.30h-2.3zM60.1 67.76h6.3v1.30h-6.3zM68.1 67.76h10.3v1.30h-10.3zM36.0 68.75h8.3v1.30h-8.3zM52.1 68.75h2.3v1.30h-2.3zM56.1 68.75h4.3v1.30h-4.3zM64.1 68.75h2.3v1.30h-2.3zM68.1 68.75h2.3v1.30h-2.3zM76.1 68.75h2.3v1.30h-2.3zM24.0 69.75h2.3v1.30h-2.3zM40.0 69.75h4.3v1.30h-4.3zM48.1 69.75h4.3v1.30h-4.3zM38.0 70.75h14.3v1.30h-14.3zM72.1 70.75h6.3v1.30h-6.3zM68.1 71.75h6.3v1.30h-6.3zM16.0 72.75h8.3v1.30h-8.3zM56.1 72.75h10.3v1.30h-10.3zM46.0 73.74h10.3v1.30h-10.3zM58.1 73.74h2.3v1.30h-2.3zM64.1 73.74h2.3v1.30h-2.3zM42.0 74.74h10.3v1.30h-10.3zM60.1 74.74h6.3v1.30h-6.3zM48.1 75.74h4.3v1.30h-4.3zM60.1 78.73h2.3v1.30h-2.3zM66.1 78.73h2.3v1.30h-2.3zM74.1 78.73h4.3v1.30h-4.3zM74.1 79.73h4.3v1.30h-4.3zM40.0 81.73h2.3v1.30h-2.3zM68.1 81.73h2.3v1.30h-2.3zM66.1 82.73h2.3v1.30h-2.3zM28.0 83.72h2.3v1.30h-2.3zM68.1 83.72h2.3v1.30h-2.3zM62.1 84.72h2.3v1.30h-2.3zM70.1 84.72h2.3v1.30h-2.3zM72.1 85.72h6.3v1.30h-6.3zM66.1 86.72h4.3v1.30h-4.3zM42.0 87.72h2.3v1.30h-2.3zM46.0 87.72h2.3v1.30h-2.3zM46.0 88.71h6.3v1.30h-6.3zM22.0 89.71h2.3v1.30h-2.3zM26.0 89.71h2.3v1.30h-2.3zM36.0 89.71h2.3v1.30h-2.3zM70.1 89.71h2.3v1.30h-2.3zM38.0 91.71h10.3v1.30h-10.3zM50.1 91.71h2.3v1.30h-2.3zM42.0 92.71h10.3v1.30h-10.3zM74.1 92.71h4.3v1.30h-4.3zM70.1 93.70h2.3v1.30h-2.3zM20.0 95.70h10.3v1.30h-10.3zM40.0 95.70h12.3v1.30h-12.3zM60.1 95.70h6.3v1.30h-6.3zM18.0 96.70h4.3v1.30h-4.3zM40.0 96.70h6.3v1.30h-6.3zM62.1 96.70h2.3v1.30h-2.3zM70.1 96.70h4.3v1.30h-4.3zM76.1 96.70h2.3v1.30h-2.3zM48.1 97.70h4.3v1.30h-4.3zM66.1 97.70h10.3v1.30h-10.3zM70.1 98.69h8.3v1.30h-8.3zM66.1 100.69h6.3v1.30h-6.3zM44.0 101.69h6.3v1.30h-6.3zM60.1 101.69h2.3v1.30h-2.3zM64.1 101.69h2.3v1.30h-2.3zM34.0 102.69h18.3v1.30h-18.3zM64.1 102.69h2.3v1.30h-2.3zM22.0 103.69h8.3v1.30h-8.3zM36.0 103.69h4.3v1.30h-4.3zM54.1 103.69h12.3v1.30h-12.3zM68.1 103.69h4.3v1.30h-4.3zM16.0 104.68h8.3v1.30h-8.3zM42.0 104.68h2.3v1.30h-2.3zM46.0 104.68h6.3v1.30h-6.3zM58.1 104.68h8.3v1.30h-8.3zM72.1 104.68h4.3v1.30h-4.3zM16.0 105.68h4.3v1.30h-4.3zM24.0 105.68h4.3v1.30h-4.3zM30.0 105.68h14.3v1.30h-14.3zM52.1 105.68h12.3v1.30h-12.3zM66.1 105.68h4.3v1.30h-4.3zM24.0 106.68h2.3v1.30h-2.3zM62.1 106.68h8.3v1.30h-8.3zM48.1 107.68h2.3v1.30h-2.3zM28.0 108.68h2.3v1.30h-2.3zM74.1 108.68h4.3v1.30h-4.3zM18.0 109.67h12.3v1.30h-12.3zM76.1 109.67h4.3v1.30h-4.3zM16.0 110.67h6.3v1.30h-6.3zM24.0 110.67h6.3v1.30h-6.3zM62.1 110.67h4.3v1.30h-4.3zM76.1 110.67h4.3v1.30h-4.3zM50.1 111.67h2.3v1.30h-2.3zM64.1 111.67h2.3v1.30h-2.3zM68.1 111.67h4.3v1.30h-4.3zM24.0 112.67h6.3v1.30h-6.3zM58.1 112.67h4.3v1.30h-4.3zM28.0 113.67h2.3v1.30h-2.3zM34.0 113.67h12.3v1.30h-12.3zM58.1 113.67h8.3v1.30h-8.3zM66.1 114.66h12.3v1.30h-12.3zM64.1 115.66h2.3v1.30h-2.3zM30.0 117.66h16.3v1.30h-16.3zM62.1 117.66h2.3v1.30h-2.3zM66.1 117.66h10.3v1.30h-10.3zM26.0 118.66h2.3v1.30h-2.3zM32.0 118.66h18.3v1.30h-18.3zM66.1 120.65h10.3v1.30h-10.3zM68.1 121.65h2.3v1.30h-2.3zM16.0 122.65h12.3v1.30h-12.3zM42.0 122.65h4.3v1.30h-4.3zM52.1 122.65h2.3v1.30h-2.3zM64.1 122.65h4.3v1.30h-4.3zM72.1 122.65h6.3v1.30h-6.3zM30.0 123.65h2.3v1.30h-2.3zM68.1 123.65h4.3v1.30h-4.3zM24.0 125.64h6.3v1.30h-6.3zM48.1 125.64h4.3v1.30h-4.3zM44.0 126.64h8.3v1.30h-8.3zM60.1 126.64h6.3v1.30h-6.3zM56.1 127.64h10.3v1.30h-10.3zM50.1 129.63h2.3v1.30h-2.3zM22.0 130.63h4.3v1.30h-4.3zM30.0 130.63h20.3v1.30h-20.3zM20.0 131.63h8.3v1.30h-8.3zM44.0 131.63h2.3v1.30h-2.3zM48.1 131.63h2.3v1.30h-2.3zM52.1 131.63h4.3v1.30h-4.3zM58.1 131.63h2.3v1.30h-2.3zM66.1 131.63h2.3v1.30h-2.3zM70.1 131.63h6.3v1.30h-6.3zM60.1 132.63h6.3v1.30h-6.3zM16.0 133.63h8.3v1.30h-8.3zM32.0 133.63h16.3v1.30h-16.3zM50.1 133.63h2.3v1.30h-2.3zM74.1 133.63h2.3v1.30h-2.3zM38.0 134.62h12.3v1.30h-12.3zM72.1 135.62h6.3v1.30h-6.3zM16.0 136.62h10.3v1.30h-10.3zM28.0 136.62h2.3v1.30h-2.3zM60.1 136.62h6.3v1.30h-6.3zM48.1 137.62h4.3v1.30h-4.3zM30.0 138.62h8.3v1.30h-8.3zM56.1 138.62h8.3v1.30h-8.3zM30.0 139.61h14.3v1.30h-14.3zM22.0 140.61h8.3v1.30h-8.3zM50.1 140.61h2.3v1.30h-2.3zM16.0 141.61h6.3v1.30h-6.3zM30.0 141.61h2.3v1.30h-2.3zM52.1 141.61h4.3v1.30h-4.3zM44.0 142.61h8.3v1.30h-8.3zM44.0 144.61h2.3v1.30h-2.3zM48.1 144.61h4.3v1.30h-4.3zM40.0 145.60h2.3v1.30h-2.3zM44.0 145.60h8.3v1.30h-8.3zM20.0 146.60h4.3v1.30h-4.3zM26.0 146.60h10.3v1.30h-10.3zM64.1 146.60h2.3v1.30h-2.3zM22.0 147.60h2.3v1.30h-2.3zM36.0 148.60h4.3v1.30h-4.3zM24.0 150.59h6.3v1.30h-6.3zM50.1 150.59h2.3v1.30h-2.3zM24.0 151.59h4.3v1.30h-4.3zM30.0 151.59h2.3v1.30h-2.3zM56.1 151.59h10.3v1.30h-10.3zM68.1 151.59h2.3v1.30h-2.3zM28.0 152.59h14.3v1.30h-14.3zM52.1 152.59h2.3v1.30h-2.3zM56.1 152.59h8.3v1.30h-8.3zM66.1 152.59h8.3v1.30h-8.3zM32.0 153.59h2.3v1.30h-2.3zM44.0 153.59h4.3v1.30h-4.3zM54.1 153.59h12.3v1.30h-12.3zM28.0 154.59h18.3v1.30h-18.3zM64.1 154.59h4.3v1.30h-4.3zM74.1 154.59h4.3v1.30h-4.3zM30.0 155.58h6.3v1.30h-6.3zM46.0 155.58h4.3v1.30h-4.3zM66.1 155.58h12.3v1.30h-12.3zM30.0 156.58h6.3v1.30h-6.3zM38.0 156.58h6.3v1.30h-6.3zM26.0 157.58h8.3v1.30h-8.3zM36.0 157.58h2.3v1.30h-2.3zM42.0 157.58h2.3v1.30h-2.3zM52.1 157.58h2.3v1.30h-2.3zM66.1 157.58h2.3v1.30h-2.3zM32.0 158.58h2.3v1.30h-2.3zM42.0 158.58h2.3v1.30h-2.3zM46.0 158.58h4.3v1.30h-4.3zM54.1 158.58h2.3v1.30h-2.3zM58.1 158.58h14.3v1.30h-14.3zM16.0 159.58h6.3v1.30h-6.3zM32.0 159.58h2.3v1.30h-2.3zM64.1 159.58h2.3v1.30h-2.3zM70.1 159.58h2.3v1.30h-2.3zM18.0 160.57h6.3v1.30h-6.3zM30.0 160.57h2.3v1.30h-2.3zM40.0 160.57h2.3v1.30h-2.3zM28.0 161.57h2.3v1.30h-2.3zM34.0 161.57h4.3v1.30h-4.3zM40.0 161.57h2.3v1.30h-2.3zM18.0 162.57h26.3v1.30h-26.3zM16.0 163.57h12.3v1.30h-12.3zM54.1 163.57h6.3v1.30h-6.3zM56.1 164.57h8.3v1.30h-8.3zM16.0 165.56h4.3v1.30h-4.3zM52.1 165.56h2.3v1.30h-2.3zM24.0 166.56h4.3v1.30h-4.3zM22.0 167.56h12.3v1.30h-12.3zM44.0 167.56h2.3v1.30h-2.3zM54.1 167.56h2.3v1.30h-2.3zM76.1 167.56h2.3v1.30h-2.3zM18.0 168.56h10.3v1.30h-10.3zM32.0 168.56h6.3v1.30h-6.3zM54.1 168.56h6.3v1.30h-6.3zM26.0 169.56h2.3v1.30h-2.3zM36.0 169.56h16.3v1.30h-16.3zM30.0 170.55h18.3v1.30h-18.3zM52.1 170.55h4.3v1.30h-4.3zM58.1 171.55h4.3v1.30h-4.3zM16.0 172.55h10.3v1.30h-10.3zM34.0 172.55h6.3v1.30h-6.3zM42.0 172.55h2.3v1.30h-2.3zM52.1 172.55h8.3v1.30h-8.3zM62.1 172.55h4.3v1.30h-4.3zM20.0 173.55h6.3v1.30h-6.3zM28.0 173.55h2.3v1.30h-2.3zM38.0 173.55h14.3v1.30h-14.3zM50.1 174.55h4.3v1.30h-4.3zM38.0 175.54h4.3v1.30h-4.3zM54.1 175.54h14.3v1.30h-14.3zM44.0 176.54h6.3v1.30h-6.3zM66.1 176.54h12.3v1.30h-12.3zM28.0 177.54h12.3v1.30h-12.3zM44.0 177.54h4.3v1.30h-4.3zM66.1 177.54h2.3v1.30h-2.3zM30.0 178.54h4.3v1.30h-4.3zM22.0 179.54h8.3v1.30h-8.3zM44.0 179.54h6.3v1.30h-6.3zM48.1 180.54h4.3v1.30h-4.3zM58.1 180.54h8.3v1.30h-8.3zM26.0 181.53h4.3v1.30h-4.3zM48.1 181.53h8.3v1.30h-8.3zM58.1 181.53h8.3v1.30h-8.3zM36.0 182.53h26.3v1.30h-26.3zM56.1 183.53h10.3v1.30h-10.3zM16.0 184.53h4.3v1.30h-4.3zM26.0 184.53h4.3v1.30h-4.3zM16.0 185.53h4.3v1.30h-4.3zM60.1 185.53h6.3v1.30h-6.3zM16.0 186.52h12.3v1.30h-12.3zM24.0 187.52h6.3v1.30h-6.3zM36.0 189.52h2.3v1.30h-2.3zM50.1 189.52h2.3v1.30h-2.3zM16.0 190.52h8.3v1.30h-8.3zM30.0 190.52h4.3v1.30h-4.3zM64.1 190.52h2.3v1.30h-2.3zM16.0 191.51h6.3v1.30h-6.3zM26.0 191.51h2.3v1.30h-2.3zM30.0 191.51h2.3v1.30h-2.3zM58.1 191.51h2.3v1.30h-2.3zM64.1 191.51h8.3v1.30h-8.3zM18.0 192.51h2.3v1.30h-2.3zM22.0 192.51h6.3v1.30h-6.3zM30.0 192.51h2.3v1.30h-2.3zM54.1 192.51h12.3v1.30h-12.3zM30.0 193.51h6.3v1.30h-6.3zM18.0 194.51h12.3v1.30h-12.3zM36.0 194.51h4.3v1.30h-4.3zM54.1 194.51h2.3v1.30h-2.3zM18.0 195.51h2.3v1.30h-2.3zM24.0 195.51h4.3v1.30h-4.3zM30.0 195.51h10.3v1.30h-10.3zM52.1 195.51h6.3v1.30h-6.3zM62.1 195.51h2.3v1.30h-2.3zM16.0 196.50h22.3v1.30h-22.3zM40.0 196.50h6.3v1.30h-6.3zM64.1 196.50h2.3v1.30h-2.3zM16.0 197.50h4.3v1.30h-4.3zM22.0 197.50h2.3v1.30h-2.3zM26.0 197.50h6.3v1.30h-6.3zM34.0 197.50h4.3v1.30h-4.3zM64.1 197.50h2.3v1.30h-2.3z"/>
<path fill="#c8e4ea" d="M98.1 44.80h4.3v1.30h-4.3zM104.1 44.80h6.3v1.30h-6.3zM134.2 44.80h6.3v1.30h-6.3zM100.1 45.80h2.3v1.30h-2.3zM104.1 45.80h2.3v1.30h-2.3zM100.1 46.80h2.3v1.30h-2.3zM106.1 46.80h2.3v1.30h-2.3zM114.2 46.80h2.3v1.30h-2.3zM128.2 46.80h2.3v1.30h-2.3zM98.1 47.79h20.3v1.30h-20.3zM126.2 47.79h14.3v1.30h-14.3zM106.1 48.79h2.3v1.30h-2.3zM110.2 48.79h30.3v1.30h-30.3zM110.2 49.79h6.3v1.30h-6.3zM120.2 49.79h12.3v1.30h-12.3zM134.2 49.79h6.3v1.30h-6.3zM98.1 50.79h6.3v1.30h-6.3zM108.1 50.79h8.3v1.30h-8.3zM122.2 50.79h16.3v1.30h-16.3zM120.2 51.79h4.3v1.30h-4.3zM128.2 51.79h12.3v1.30h-12.3zM116.2 52.78h2.3v1.30h-2.3zM120.2 52.78h2.3v1.30h-2.3zM124.2 52.78h6.3v1.30h-6.3zM132.2 52.78h8.3v1.30h-8.3zM98.1 53.78h2.3v1.30h-2.3zM102.1 53.78h10.3v1.30h-10.3zM134.2 53.78h6.3v1.30h-6.3zM98.1 54.78h12.3v1.30h-12.3zM116.2 54.78h6.3v1.30h-6.3zM136.2 54.78h4.3v1.30h-4.3zM102.1 55.78h10.3v1.30h-10.3zM116.2 55.78h6.3v1.30h-6.3zM124.2 55.78h2.3v1.30h-2.3zM130.2 55.78h2.3v1.30h-2.3zM134.2 55.78h2.3v1.30h-2.3zM138.2 55.78h2.3v1.30h-2.3zM104.1 56.78h6.3v1.30h-6.3zM112.2 56.78h10.3v1.30h-10.3zM128.2 56.78h12.3v1.30h-12.3zM98.1 57.77h4.3v1.30h-4.3zM98.1 59.77h12.3v1.30h-12.3zM104.1 61.77h6.3v1.30h-6.3zM126.2 61.77h2.3v1.30h-2.3zM112.2 62.76h4.3v1.30h-4.3zM138.2 62.76h2.3v1.30h-2.3zM98.1 63.76h10.3v1.30h-10.3zM110.2 63.76h10.3v1.30h-10.3zM122.2 63.76h2.3v1.30h-2.3zM130.2 63.76h10.3v1.30h-10.3zM98.1 64.76h12.3v1.30h-12.3zM112.2 64.76h2.3v1.30h-2.3zM116.2 64.76h2.3v1.30h-2.3zM128.2 64.76h2.3v1.30h-2.3zM104.1 65.76h2.3v1.30h-2.3zM118.2 65.76h10.3v1.30h-10.3zM130.2 65.76h4.3v1.30h-4.3zM136.2 65.76h4.3v1.30h-4.3zM104.1 66.76h6.3v1.30h-6.3zM78.1 68.75h6.3v1.30h-6.3zM132.2 68.75h4.3v1.30h-4.3zM116.2 69.75h4.3v1.30h-4.3zM126.2 69.75h12.3v1.30h-12.3zM98.1 70.75h10.3v1.30h-10.3zM110.2 70.75h12.3v1.30h-12.3zM98.1 71.75h12.3v1.30h-12.3zM124.2 71.75h16.3v1.30h-16.3zM86.1 72.75h8.3v1.30h-8.3zM98.1 72.75h2.3v1.30h-2.3zM104.1 72.75h6.3v1.30h-6.3zM112.2 72.75h2.3v1.30h-2.3zM116.2 72.75h4.3v1.30h-4.3zM134.2 72.75h6.3v1.30h-6.3zM86.1 73.74h2.3v1.30h-2.3zM98.1 73.74h2.3v1.30h-2.3zM106.1 73.74h6.3v1.30h-6.3zM116.2 73.74h4.3v1.30h-4.3zM122.2 73.74h8.3v1.30h-8.3zM112.2 74.74h4.3v1.30h-4.3zM98.1 75.74h8.3v1.30h-8.3zM112.2 76.74h12.3v1.30h-12.3zM130.2 76.74h2.3v1.30h-2.3zM134.2 76.74h6.3v1.30h-6.3zM102.1 77.74h4.3v1.30h-4.3zM110.2 77.74h4.3v1.30h-4.3zM120.2 77.74h2.3v1.30h-2.3zM124.2 77.74h10.3v1.30h-10.3zM110.2 78.73h2.3v1.30h-2.3zM136.2 78.73h2.3v1.30h-2.3zM110.2 79.73h2.3v1.30h-2.3zM132.2 79.73h4.3v1.30h-4.3zM138.2 79.73h2.3v1.30h-2.3zM110.2 80.73h2.3v1.30h-2.3zM124.2 80.73h16.3v1.30h-16.3zM96.1 81.73h2.3v1.30h-2.3zM110.2 81.73h2.3v1.30h-2.3zM132.2 81.73h4.3v1.30h-4.3zM110.2 82.73h2.3v1.30h-2.3zM98.1 83.72h12.3v1.30h-12.3zM114.2 83.72h2.3v1.30h-2.3zM100.1 84.72h2.3v1.30h-2.3zM104.1 84.72h6.3v1.30h-6.3zM112.2 84.72h2.3v1.30h-2.3zM98.1 85.72h4.3v1.30h-4.3zM104.1 85.72h14.3v1.30h-14.3zM122.2 85.72h2.3v1.30h-2.3zM138.2 85.72h2.3v1.30h-2.3zM98.1 86.72h14.3v1.30h-14.3zM116.2 86.72h12.3v1.30h-12.3zM130.2 86.72h2.3v1.30h-2.3zM134.2 86.72h2.3v1.30h-2.3zM106.1 87.72h4.3v1.30h-4.3zM120.2 87.72h4.3v1.30h-4.3zM98.1 88.71h4.3v1.30h-4.3zM104.1 88.71h8.3v1.30h-8.3zM124.2 88.71h4.3v1.30h-4.3zM130.2 88.71h2.3v1.30h-2.3zM108.1 89.71h2.3v1.30h-2.3zM114.2 89.71h8.3v1.30h-8.3zM128.2 89.71h2.3v1.30h-2.3zM136.2 89.71h4.3v1.30h-4.3zM110.2 90.71h10.3v1.30h-10.3zM124.2 90.71h4.3v1.30h-4.3zM130.2 90.71h10.3v1.30h-10.3zM112.2 91.71h10.3v1.30h-10.3zM126.2 91.71h4.3v1.30h-4.3zM132.2 91.71h4.3v1.30h-4.3zM138.2 91.71h2.3v1.30h-2.3zM98.1 92.71h12.3v1.30h-12.3zM120.2 92.71h6.3v1.30h-6.3zM130.2 92.71h2.3v1.30h-2.3zM98.1 93.70h6.3v1.30h-6.3zM108.1 93.70h2.3v1.30h-2.3zM98.1 94.70h8.3v1.30h-8.3zM108.1 94.70h2.3v1.30h-2.3zM110.2 95.70h8.3v1.30h-8.3zM120.2 95.70h10.3v1.30h-10.3zM132.2 95.70h6.3v1.30h-6.3zM102.1 96.70h2.3v1.30h-2.3zM106.1 96.70h22.3v1.30h-22.3zM98.1 97.70h14.3v1.30h-14.3zM118.2 97.70h6.3v1.30h-6.3zM130.2 97.70h10.3v1.30h-10.3zM100.1 98.69h40.4v1.30h-40.4zM98.1 99.69h6.3v1.30h-6.3zM106.1 99.69h2.3v1.30h-2.3zM126.2 99.69h12.3v1.30h-12.3zM98.1 100.69h8.3v1.30h-8.3zM108.1 100.69h4.3v1.30h-4.3zM118.2 100.69h2.3v1.30h-2.3zM126.2 100.69h14.3v1.30h-14.3zM98.1 101.69h8.3v1.30h-8.3zM108.1 101.69h32.4v1.30h-32.4zM102.1 102.69h32.4v1.30h-32.4zM98.1 103.69h2.3v1.30h-2.3zM104.1 103.69h10.3v1.30h-10.3zM124.2 103.69h2.3v1.30h-2.3zM102.1 104.68h8.3v1.30h-8.3zM86.1 105.68h2.3v1.30h-2.3zM98.1 105.68h6.3v1.30h-6.3zM122.2 105.68h4.3v1.30h-4.3zM98.1 106.68h24.3v1.30h-24.3zM132.2 106.68h2.3v1.30h-2.3zM108.1 107.68h2.3v1.30h-2.3zM112.2 107.68h4.3v1.30h-4.3zM126.2 107.68h2.3v1.30h-2.3zM138.2 107.68h2.3v1.30h-2.3zM98.1 108.68h4.3v1.30h-4.3zM106.1 108.68h22.3v1.30h-22.3zM130.2 108.68h6.3v1.30h-6.3zM112.2 109.67h6.3v1.30h-6.3zM120.2 109.67h4.3v1.30h-4.3zM130.2 109.67h2.3v1.30h-2.3zM136.2 109.67h2.3v1.30h-2.3zM98.1 110.67h12.3v1.30h-12.3zM98.1 111.67h10.3v1.30h-10.3zM118.2 111.67h10.3v1.30h-10.3zM126.2 112.67h10.3v1.30h-10.3zM104.1 113.67h6.3v1.30h-6.3zM98.1 114.66h2.3v1.30h-2.3zM102.1 114.66h4.3v1.30h-4.3zM112.2 114.66h8.3v1.30h-8.3zM122.2 114.66h4.3v1.30h-4.3zM128.2 114.66h8.3v1.30h-8.3zM104.1 115.66h4.3v1.30h-4.3zM110.2 115.66h4.3v1.30h-4.3zM118.2 115.66h2.3v1.30h-2.3zM124.2 115.66h12.3v1.30h-12.3zM86.1 116.66h4.3v1.30h-4.3zM102.1 116.66h10.3v1.30h-10.3zM114.2 116.66h6.3v1.30h-6.3zM122.2 116.66h18.3v1.30h-18.3zM86.1 117.66h2.3v1.30h-2.3zM98.1 117.66h2.3v1.30h-2.3zM110.2 117.66h6.3v1.30h-6.3zM120.2 117.66h6.3v1.30h-6.3zM136.2 117.66h4.3v1.30h-4.3zM98.1 118.66h12.3v1.30h-12.3zM98.1 119.65h12.3v1.30h-12.3zM98.1 120.65h2.3v1.30h-2.3zM102.1 120.65h2.3v1.30h-2.3zM110.2 121.65h6.3v1.30h-6.3zM98.1 122.65h12.3v1.30h-12.3zM98.1 123.65h8.3v1.30h-8.3zM108.1 123.65h2.3v1.30h-2.3zM104.1 124.64h4.3v1.30h-4.3zM138.2 124.64h2.3v1.30h-2.3zM110.2 125.64h2.3v1.30h-2.3zM102.1 126.64h2.3v1.30h-2.3zM116.2 128.64h8.3v1.30h-8.3zM138.2 128.64h2.3v1.30h-2.3zM110.2 129.63h8.3v1.30h-8.3zM120.2 129.63h4.3v1.30h-4.3zM126.2 129.63h4.3v1.30h-4.3zM132.2 129.63h6.3v1.30h-6.3zM110.2 130.63h8.3v1.30h-8.3zM130.2 130.63h10.3v1.30h-10.3zM110.2 131.63h14.3v1.30h-14.3zM128.2 131.63h10.3v1.30h-10.3zM102.1 132.63h8.3v1.30h-8.3zM110.2 133.63h30.3v1.30h-30.3zM100.1 134.62h12.3v1.30h-12.3zM114.2 134.62h6.3v1.30h-6.3zM122.2 134.62h4.3v1.30h-4.3zM130.2 134.62h2.3v1.30h-2.3zM134.2 134.62h6.3v1.30h-6.3zM98.1 135.62h2.3v1.30h-2.3zM102.1 135.62h14.3v1.30h-14.3zM128.2 135.62h6.3v1.30h-6.3zM98.1 136.62h18.3v1.30h-18.3zM98.1 137.62h4.3v1.30h-4.3zM118.2 137.62h16.3v1.30h-16.3zM138.2 137.62h2.3v1.30h-2.3zM88.1 139.61h2.3v1.30h-2.3zM94.1 139.61h4.3v1.30h-4.3zM92.1 140.61h6.3v1.30h-6.3zM86.1 141.61h8.3v1.30h-8.3zM96.1 141.61h4.3v1.30h-4.3zM108.1 141.61h2.3v1.30h-2.3zM118.2 141.61h8.3v1.30h-8.3zM128.2 141.61h4.3v1.30h-4.3zM108.1 142.61h2.3v1.30h-2.3zM114.2 142.61h2.3v1.30h-2.3zM132.2 143.61h4.3v1.30h-4.3zM100.1 144.61h2.3v1.30h-2.3zM104.1 144.61h2.3v1.30h-2.3zM110.2 144.61h6.3v1.30h-6.3zM118.2 144.61h22.3v1.30h-22.3zM98.1 145.60h4.3v1.30h-4.3zM114.2 145.60h8.3v1.30h-8.3zM124.2 145.60h14.3v1.30h-14.3zM98.1 146.60h12.3v1.30h-12.3zM116.2 146.60h2.3v1.30h-2.3zM138.2 146.60h2.3v1.30h-2.3zM98.1 147.60h6.3v1.30h-6.3zM108.1 147.60h2.3v1.30h-2.3zM112.2 147.60h4.3v1.30h-4.3zM120.2 147.60h8.3v1.30h-8.3zM130.2 147.60h6.3v1.30h-6.3zM138.2 147.60h2.3v1.30h-2.3zM106.1 148.60h2.3v1.30h-2.3zM112.2 148.60h4.3v1.30h-4.3zM118.2 148.60h2.3v1.30h-2.3zM128.2 148.60h12.3v1.30h-12.3zM130.2 149.60h4.3v1.30h-4.3zM110.2 150.59h6.3v1.30h-6.3zM98.1 151.59h4.3v1.30h-4.3zM104.1 151.59h8.3v1.30h-8.3zM114.2 151.59h12.3v1.30h-12.3zM128.2 151.59h2.3v1.30h-2.3zM132.2 151.59h6.3v1.30h-6.3zM98.1 152.59h2.3v1.30h-2.3zM102.1 152.59h6.3v1.30h-6.3zM110.2 152.59h2.3v1.30h-2.3zM134.2 152.59h2.3v1.30h-2.3zM98.1 153.59h12.3v1.30h-12.3zM98.1 154.59h2.3v1.30h-2.3zM108.1 154.59h2.3v1.30h-2.3zM100.1 155.58h8.3v1.30h-8.3zM110.2 155.58h6.3v1.30h-6.3zM122.2 155.58h2.3v1.30h-2.3zM130.2 155.58h8.3v1.30h-8.3zM90.1 156.58h2.3v1.30h-2.3zM94.1 156.58h2.3v1.30h-2.3zM110.2 156.58h4.3v1.30h-4.3zM116.2 156.58h4.3v1.30h-4.3zM122.2 156.58h4.3v1.30h-4.3zM128.2 156.58h10.3v1.30h-10.3zM86.1 157.58h12.3v1.30h-12.3zM92.1 158.58h2.3v1.30h-2.3zM98.1 158.58h6.3v1.30h-6.3zM106.1 158.58h2.3v1.30h-2.3zM110.2 158.58h4.3v1.30h-4.3zM130.2 158.58h2.3v1.30h-2.3zM138.2 158.58h2.3v1.30h-2.3zM112.2 159.58h6.3v1.30h-6.3zM122.2 159.58h2.3v1.30h-2.3zM126.2 159.58h4.3v1.30h-4.3zM132.2 159.58h8.3v1.30h-8.3zM116.2 160.57h2.3v1.30h-2.3zM120.2 160.57h18.3v1.30h-18.3zM98.1 161.57h10.3v1.30h-10.3zM110.2 161.57h2.3v1.30h-2.3zM126.2 161.57h12.3v1.30h-12.3zM98.1 162.57h24.3v1.30h-24.3zM130.2 162.57h2.3v1.30h-2.3zM100.1 163.57h12.3v1.30h-12.3zM128.2 163.57h12.3v1.30h-12.3zM98.1 164.57h12.3v1.30h-12.3zM130.2 164.57h4.3v1.30h-4.3zM98.1 165.56h4.3v1.30h-4.3zM104.1 165.56h2.3v1.30h-2.3zM102.1 166.56h2.3v1.30h-2.3zM106.1 166.56h2.3v1.30h-2.3zM86.1 168.56h2.3v1.30h-2.3zM94.1 168.56h8.3v1.30h-8.3zM106.1 168.56h4.3v1.30h-4.3zM114.2 168.56h4.3v1.30h-4.3zM112.2 169.56h28.3v1.30h-28.3zM98.1 170.55h4.3v1.30h-4.3zM104.1 170.55h6.3v1.30h-6.3zM112.2 170.55h10.3v1.30h-10.3zM124.2 170.55h10.3v1.30h-10.3zM136.2 170.55h4.3v1.30h-4.3zM98.1 171.55h4.3v1.30h-4.3zM112.2 171.55h16.3v1.30h-16.3zM132.2 171.55h8.3v1.30h-8.3zM88.1 172.55h12.3v1.30h-12.3zM106.1 172.55h28.3v1.30h-28.3zM136.2 172.55h4.3v1.30h-4.3zM108.1 173.55h6.3v1.30h-6.3zM116.2 173.55h24.3v1.30h-24.3zM98.1 174.55h10.3v1.30h-10.3zM110.2 174.55h8.3v1.30h-8.3zM120.2 174.55h12.3v1.30h-12.3zM98.1 175.54h2.3v1.30h-2.3zM110.2 175.54h22.3v1.30h-22.3zM138.2 175.54h2.3v1.30h-2.3zM98.1 176.54h6.3v1.30h-6.3zM106.1 176.54h4.3v1.30h-4.3zM114.2 176.54h10.3v1.30h-10.3zM104.1 177.54h2.3v1.30h-2.3zM110.2 177.54h6.3v1.30h-6.3zM98.1 179.54h8.3v1.30h-8.3zM110.2 181.53h2.3v1.30h-2.3zM130.2 182.53h2.3v1.30h-2.3zM136.2 182.53h4.3v1.30h-4.3zM98.1 183.53h4.3v1.30h-4.3zM108.1 183.53h2.3v1.30h-2.3zM130.2 183.53h2.3v1.30h-2.3zM136.2 183.53h4.3v1.30h-4.3zM98.1 184.53h2.3v1.30h-2.3zM116.2 184.53h2.3v1.30h-2.3zM122.2 184.53h4.3v1.30h-4.3zM128.2 184.53h12.3v1.30h-12.3zM90.1 185.53h2.3v1.30h-2.3zM114.2 185.53h6.3v1.30h-6.3zM124.2 185.53h2.3v1.30h-2.3zM132.2 185.53h8.3v1.30h-8.3zM100.1 186.52h10.3v1.30h-10.3zM116.2 186.52h2.3v1.30h-2.3zM120.2 186.52h2.3v1.30h-2.3zM128.2 186.52h10.3v1.30h-10.3zM98.1 187.52h12.3v1.30h-12.3zM114.2 187.52h14.3v1.30h-14.3zM130.2 187.52h2.3v1.30h-2.3zM114.2 188.52h20.3v1.30h-20.3zM138.2 188.52h2.3v1.30h-2.3zM110.2 189.52h8.3v1.30h-8.3zM124.2 189.52h12.3v1.30h-12.3zM108.1 190.52h2.3v1.30h-2.3zM112.2 190.52h14.3v1.30h-14.3zM128.2 190.52h12.3v1.30h-12.3zM100.1 191.51h2.3v1.30h-2.3zM104.1 191.51h6.3v1.30h-6.3zM102.1 192.51h2.3v1.30h-2.3zM74.1 193.51h4.3v1.30h-4.3zM98.1 193.51h6.3v1.30h-6.3zM106.1 193.51h4.3v1.30h-4.3zM112.2 193.51h4.3v1.30h-4.3zM98.1 194.51h8.3v1.30h-8.3zM124.2 194.51h2.3v1.30h-2.3zM110.2 195.51h12.3v1.30h-12.3zM124.2 195.51h2.3v1.30h-2.3zM130.2 195.51h4.3v1.30h-4.3zM136.2 195.51h2.3v1.30h-2.3zM98.1 196.50h6.3v1.30h-6.3zM106.1 196.50h4.3v1.30h-4.3zM98.1 197.50h12.3v1.30h-12.3zM118.2 197.50h4.3v1.30h-4.3z"/>
<path fill="#bddee6" d="M102.1 44.80h2.3v1.30h-2.3zM110.2 44.80h24.3v1.30h-24.3zM98.1 45.80h2.3v1.30h-2.3zM102.1 45.80h2.3v1.30h-2.3zM106.1 45.80h12.3v1.30h-12.3zM120.2 45.80h10.3v1.30h-10.3zM132.2 45.80h8.3v1.30h-8.3zM98.1 46.80h2.3v1.30h-2.3zM102.1 46.80h4.3v1.30h-4.3zM108.1 46.80h6.3v1.30h-6.3zM120.2 46.80h8.3v1.30h-8.3zM130.2 46.80h10.3v1.30h-10.3zM116.2 49.79h4.3v1.30h-4.3zM132.2 49.79h2.3v1.30h-2.3zM116.2 50.79h6.3v1.30h-6.3zM138.2 50.79h2.3v1.30h-2.3zM112.2 51.79h8.3v1.30h-8.3zM124.2 51.79h4.3v1.30h-4.3zM110.2 52.78h6.3v1.30h-6.3zM118.2 52.78h2.3v1.30h-2.3zM122.2 52.78h2.3v1.30h-2.3zM130.2 52.78h2.3v1.30h-2.3zM112.2 53.78h10.3v1.30h-10.3zM110.2 54.78h6.3v1.30h-6.3zM122.2 54.78h2.3v1.30h-2.3zM112.2 55.78h4.3v1.30h-4.3zM122.2 55.78h2.3v1.30h-2.3zM126.2 55.78h4.3v1.30h-4.3zM132.2 55.78h2.3v1.30h-2.3zM136.2 55.78h2.3v1.30h-2.3zM110.2 56.78h2.3v1.30h-2.3zM122.2 56.78h6.3v1.30h-6.3zM116.2 57.77h24.3v1.30h-24.3zM98.1 58.77h2.3v1.30h-2.3zM112.2 58.77h2.3v1.30h-2.3zM128.2 58.77h2.3v1.30h-2.3zM134.2 58.77h4.3v1.30h-4.3zM110.2 59.77h14.3v1.30h-14.3zM128.2 59.77h12.3v1.30h-12.3zM98.1 60.77h38.4v1.30h-38.4zM98.1 61.77h6.3v1.30h-6.3zM110.2 61.77h4.3v1.30h-4.3zM128.2 61.77h2.3v1.30h-2.3zM98.1 62.76h14.3v1.30h-14.3zM116.2 62.76h22.3v1.30h-22.3zM120.2 63.76h2.3v1.30h-2.3zM110.2 64.76h2.3v1.30h-2.3zM114.2 64.76h2.3v1.30h-2.3zM118.2 64.76h10.3v1.30h-10.3zM130.2 64.76h10.3v1.30h-10.3zM110.2 65.76h2.3v1.30h-2.3zM128.2 65.76h2.3v1.30h-2.3zM134.2 65.76h2.3v1.30h-2.3zM124.2 66.76h4.3v1.30h-4.3zM98.1 67.76h4.3v1.30h-4.3zM108.1 67.76h2.3v1.30h-2.3zM98.1 68.75h2.3v1.30h-2.3zM102.1 68.75h14.3v1.30h-14.3zM118.2 68.75h2.3v1.30h-2.3zM122.2 68.75h10.3v1.30h-10.3zM136.2 68.75h4.3v1.30h-4.3zM98.1 69.75h18.3v1.30h-18.3zM120.2 69.75h6.3v1.30h-6.3zM138.2 69.75h2.3v1.30h-2.3zM108.1 70.75h2.3v1.30h-2.3zM122.2 70.75h6.3v1.30h-6.3zM136.2 70.75h4.3v1.30h-4.3zM110.2 71.75h2.3v1.30h-2.3zM120.2 71.75h4.3v1.30h-4.3zM110.2 72.75h2.3v1.30h-2.3zM114.2 72.75h2.3v1.30h-2.3zM120.2 72.75h14.3v1.30h-14.3zM100.1 73.74h6.3v1.30h-6.3zM120.2 73.74h2.3v1.30h-2.3zM98.1 74.74h14.3v1.30h-14.3zM116.2 74.74h24.3v1.30h-24.3zM110.2 75.74h30.3v1.30h-30.3zM110.2 76.74h2.3v1.30h-2.3zM124.2 76.74h6.3v1.30h-6.3zM132.2 76.74h2.3v1.30h-2.3zM114.2 77.74h2.3v1.30h-2.3zM122.2 77.74h2.3v1.30h-2.3zM112.2 78.73h24.3v1.30h-24.3zM138.2 78.73h2.3v1.30h-2.3zM112.2 79.73h20.3v1.30h-20.3zM136.2 79.73h2.3v1.30h-2.3zM112.2 81.73h20.3v1.30h-20.3zM136.2 81.73h4.3v1.30h-4.3zM112.2 82.73h6.3v1.30h-6.3zM132.2 82.73h8.3v1.30h-8.3zM110.2 83.72h4.3v1.30h-4.3zM116.2 83.72h24.3v1.30h-24.3zM110.2 84.72h2.3v1.30h-2.3zM118.2 84.72h22.3v1.30h-22.3zM102.1 85.72h2.3v1.30h-2.3zM118.2 85.72h4.3v1.30h-4.3zM112.2 86.72h4.3v1.30h-4.3zM128.2 86.72h2.3v1.30h-2.3zM132.2 86.72h2.3v1.30h-2.3zM136.2 86.72h4.3v1.30h-4.3zM110.2 87.72h10.3v1.30h-10.3zM124.2 87.72h16.3v1.30h-16.3zM112.2 88.71h12.3v1.30h-12.3zM128.2 88.71h2.3v1.30h-2.3zM132.2 88.71h8.3v1.30h-8.3zM110.2 89.71h4.3v1.30h-4.3zM110.2 91.71h2.3v1.30h-2.3zM136.2 91.71h2.3v1.30h-2.3zM126.2 92.71h4.3v1.30h-4.3zM132.2 92.71h8.3v1.30h-8.3zM110.2 93.70h12.3v1.30h-12.3zM124.2 93.70h6.3v1.30h-6.3zM132.2 93.70h4.3v1.30h-4.3zM138.2 93.70h2.3v1.30h-2.3zM110.2 94.70h12.3v1.30h-12.3zM124.2 94.70h2.3v1.30h-2.3zM130.2 94.70h4.3v1.30h-4.3zM136.2 94.70h4.3v1.30h-4.3zM118.2 95.70h2.3v1.30h-2.3zM130.2 95.70h2.3v1.30h-2.3zM138.2 95.70h2.3v1.30h-2.3zM104.1 99.69h2.3v1.30h-2.3zM118.2 99.69h8.3v1.30h-8.3zM138.2 99.69h2.3v1.30h-2.3zM112.2 100.69h6.3v1.30h-6.3zM120.2 100.69h6.3v1.30h-6.3zM134.2 102.69h6.3v1.30h-6.3zM100.1 103.69h4.3v1.30h-4.3zM114.2 103.69h10.3v1.30h-10.3zM126.2 103.69h14.3v1.30h-14.3zM118.2 104.68h6.3v1.30h-6.3zM126.2 104.68h2.3v1.30h-2.3zM130.2 104.68h2.3v1.30h-2.3zM136.2 104.68h2.3v1.30h-2.3zM114.2 105.68h8.3v1.30h-8.3zM136.2 105.68h4.3v1.30h-4.3zM102.1 108.68h4.3v1.30h-4.3zM98.1 109.67h2.3v1.30h-2.3zM106.1 109.67h6.3v1.30h-6.3zM118.2 109.67h2.3v1.30h-2.3zM124.2 109.67h6.3v1.30h-6.3zM132.2 109.67h4.3v1.30h-4.3zM138.2 109.67h2.3v1.30h-2.3zM110.2 110.67h30.3v1.30h-30.3zM108.1 111.67h10.3v1.30h-10.3zM128.2 111.67h12.3v1.30h-12.3zM98.1 112.67h16.3v1.30h-16.3zM124.2 112.67h2.3v1.30h-2.3zM136.2 112.67h4.3v1.30h-4.3zM110.2 113.67h16.3v1.30h-16.3zM134.2 113.67h4.3v1.30h-4.3zM110.2 114.66h2.3v1.30h-2.3zM120.2 114.66h2.3v1.30h-2.3zM126.2 114.66h2.3v1.30h-2.3zM116.2 117.66h4.3v1.30h-4.3zM110.2 118.66h18.3v1.30h-18.3zM138.2 118.66h2.3v1.30h-2.3zM110.2 119.65h30.3v1.30h-30.3zM110.2 120.65h30.3v1.30h-30.3zM116.2 121.65h24.3v1.30h-24.3zM110.2 122.65h2.3v1.30h-2.3zM116.2 122.65h8.3v1.30h-8.3zM136.2 122.65h2.3v1.30h-2.3zM112.2 123.65h2.3v1.30h-2.3zM120.2 123.65h20.3v1.30h-20.3zM110.2 124.64h8.3v1.30h-8.3zM130.2 124.64h8.3v1.30h-8.3zM112.2 125.64h4.3v1.30h-4.3zM130.2 125.64h10.3v1.30h-10.3zM124.2 126.64h2.3v1.30h-2.3zM118.2 127.64h2.3v1.30h-2.3zM124.2 128.64h14.3v1.30h-14.3zM124.2 129.63h2.3v1.30h-2.3zM124.2 131.63h4.3v1.30h-4.3zM110.2 132.63h30.3v1.30h-30.3zM112.2 134.62h2.3v1.30h-2.3zM120.2 134.62h2.3v1.30h-2.3zM132.2 134.62h2.3v1.30h-2.3zM116.2 135.62h12.3v1.30h-12.3zM134.2 135.62h2.3v1.30h-2.3zM116.2 136.62h24.3v1.30h-24.3zM116.2 137.62h2.3v1.30h-2.3zM134.2 137.62h4.3v1.30h-4.3zM98.1 138.62h14.3v1.30h-14.3zM114.2 138.62h6.3v1.30h-6.3zM124.2 138.62h2.3v1.30h-2.3zM136.2 138.62h2.3v1.30h-2.3zM98.1 139.61h8.3v1.30h-8.3zM114.2 139.61h2.3v1.30h-2.3zM98.1 140.61h8.3v1.30h-8.3zM110.2 140.61h2.3v1.30h-2.3zM114.2 140.61h2.3v1.30h-2.3zM110.2 141.61h8.3v1.30h-8.3zM126.2 141.61h2.3v1.30h-2.3zM132.2 141.61h2.3v1.30h-2.3zM136.2 141.61h4.3v1.30h-4.3zM110.2 142.61h4.3v1.30h-4.3zM116.2 142.61h24.3v1.30h-24.3zM110.2 143.61h4.3v1.30h-4.3zM120.2 143.61h12.3v1.30h-12.3zM136.2 143.61h4.3v1.30h-4.3zM116.2 144.61h2.3v1.30h-2.3zM122.2 145.60h2.3v1.30h-2.3zM138.2 145.60h2.3v1.30h-2.3zM110.2 146.60h6.3v1.30h-6.3zM118.2 146.60h10.3v1.30h-10.3zM110.2 147.60h2.3v1.30h-2.3zM116.2 147.60h4.3v1.30h-4.3zM136.2 147.60h2.3v1.30h-2.3zM116.2 148.60h2.3v1.30h-2.3zM110.2 149.60h20.3v1.30h-20.3zM134.2 149.60h6.3v1.30h-6.3zM116.2 150.59h18.3v1.30h-18.3zM112.2 151.59h2.3v1.30h-2.3zM126.2 151.59h2.3v1.30h-2.3zM130.2 151.59h2.3v1.30h-2.3zM138.2 151.59h2.3v1.30h-2.3zM100.1 152.59h2.3v1.30h-2.3zM108.1 152.59h2.3v1.30h-2.3zM112.2 152.59h22.3v1.30h-22.3zM136.2 152.59h4.3v1.30h-4.3zM110.2 153.59h4.3v1.30h-4.3zM116.2 153.59h8.3v1.30h-8.3zM126.2 153.59h8.3v1.30h-8.3zM110.2 154.59h4.3v1.30h-4.3zM120.2 154.59h2.3v1.30h-2.3zM134.2 154.59h6.3v1.30h-6.3zM116.2 155.58h6.3v1.30h-6.3zM124.2 155.58h6.3v1.30h-6.3zM138.2 155.58h2.3v1.30h-2.3zM114.2 156.58h2.3v1.30h-2.3zM120.2 156.58h2.3v1.30h-2.3zM98.1 157.58h6.3v1.30h-6.3zM112.2 157.58h28.3v1.30h-28.3zM114.2 158.58h16.3v1.30h-16.3zM132.2 158.58h6.3v1.30h-6.3zM118.2 159.58h4.3v1.30h-4.3zM124.2 159.58h2.3v1.30h-2.3zM130.2 159.58h2.3v1.30h-2.3zM110.2 160.57h6.3v1.30h-6.3zM118.2 160.57h2.3v1.30h-2.3zM138.2 160.57h2.3v1.30h-2.3zM138.2 161.57h2.3v1.30h-2.3zM98.1 163.57h2.3v1.30h-2.3zM112.2 163.57h2.3v1.30h-2.3zM120.2 163.57h8.3v1.30h-8.3zM114.2 164.57h10.3v1.30h-10.3zM126.2 164.57h4.3v1.30h-4.3zM134.2 164.57h6.3v1.30h-6.3zM110.2 165.56h10.3v1.30h-10.3zM132.2 165.56h8.3v1.30h-8.3zM110.2 166.56h12.3v1.30h-12.3zM126.2 166.56h2.3v1.30h-2.3zM132.2 166.56h8.3v1.30h-8.3zM116.2 167.56h2.3v1.30h-2.3zM124.2 167.56h2.3v1.30h-2.3zM134.2 167.56h4.3v1.30h-4.3zM110.2 168.56h4.3v1.30h-4.3zM118.2 168.56h22.3v1.30h-22.3zM102.1 170.55h2.3v1.30h-2.3zM110.2 170.55h2.3v1.30h-2.3zM122.2 170.55h2.3v1.30h-2.3zM134.2 170.55h2.3v1.30h-2.3zM128.2 171.55h4.3v1.30h-4.3zM134.2 172.55h2.3v1.30h-2.3zM110.2 176.54h4.3v1.30h-4.3zM124.2 176.54h14.3v1.30h-14.3zM116.2 177.54h12.3v1.30h-12.3zM134.2 177.54h6.3v1.30h-6.3zM110.2 178.54h4.3v1.30h-4.3zM136.2 178.54h2.3v1.30h-2.3zM110.2 179.54h18.3v1.30h-18.3zM110.2 180.54h30.3v1.30h-30.3zM114.2 181.53h26.3v1.30h-26.3zM110.2 182.53h20.3v1.30h-20.3zM102.1 183.53h6.3v1.30h-6.3zM110.2 183.53h20.3v1.30h-20.3zM132.2 183.53h4.3v1.30h-4.3zM100.1 184.53h8.3v1.30h-8.3zM126.2 184.53h2.3v1.30h-2.3zM98.1 185.53h6.3v1.30h-6.3zM110.2 185.53h4.3v1.30h-4.3zM120.2 185.53h4.3v1.30h-4.3zM126.2 185.53h6.3v1.30h-6.3zM98.1 186.52h2.3v1.30h-2.3zM110.2 186.52h6.3v1.30h-6.3zM118.2 186.52h2.3v1.30h-2.3zM122.2 186.52h6.3v1.30h-6.3zM138.2 186.52h2.3v1.30h-2.3zM110.2 187.52h4.3v1.30h-4.3zM128.2 187.52h2.3v1.30h-2.3zM132.2 187.52h2.3v1.30h-2.3zM118.2 189.52h6.3v1.30h-6.3zM136.2 189.52h4.3v1.30h-4.3zM110.2 190.52h2.3v1.30h-2.3zM126.2 190.52h2.3v1.30h-2.3zM110.2 191.51h30.3v1.30h-30.3zM110.2 192.51h8.3v1.30h-8.3zM120.2 192.51h14.3v1.30h-14.3zM136.2 192.51h2.3v1.30h-2.3zM104.1 193.51h2.3v1.30h-2.3zM110.2 193.51h2.3v1.30h-2.3zM116.2 193.51h6.3v1.30h-6.3zM138.2 193.51h2.3v1.30h-2.3zM106.1 194.51h10.3v1.30h-10.3zM130.2 194.51h10.3v1.30h-10.3zM122.2 195.51h2.3v1.30h-2.3zM126.2 195.51h4.3v1.30h-4.3zM134.2 195.51h2.3v1.30h-2.3zM138.2 195.51h2.3v1.30h-2.3zM104.1 196.50h2.3v1.30h-2.3zM110.2 196.50h8.3v1.30h-8.3zM122.2 196.50h18.3v1.30h-18.3zM110.2 197.50h4.3v1.30h-4.3zM116.2 197.50h2.3v1.30h-2.3zM122.2 197.50h6.3v1.30h-6.3zM134.2 197.50h2.3v1.30h-2.3zM138.2 197.50h2.3v1.30h-2.3z"/>
<path fill="#b2d9e2" d="M118.2 45.80h2.3v1.30h-2.3zM130.2 45.80h2.3v1.30h-2.3zM114.2 58.77h14.3v1.30h-14.3zM130.2 58.77h4.3v1.30h-4.3zM138.2 58.77h2.3v1.30h-2.3zM110.2 66.76h14.3v1.30h-14.3zM128.2 66.76h12.3v1.30h-12.3zM102.1 67.76h6.3v1.30h-6.3zM110.2 67.76h10.3v1.30h-10.3zM128.2 67.76h12.3v1.30h-12.3zM100.1 68.75h2.3v1.30h-2.3zM116.2 68.75h2.3v1.30h-2.3zM120.2 68.75h2.3v1.30h-2.3zM122.2 93.70h2.3v1.30h-2.3zM130.2 93.70h2.3v1.30h-2.3zM136.2 93.70h2.3v1.30h-2.3zM122.2 94.70h2.3v1.30h-2.3zM126.2 94.70h4.3v1.30h-4.3zM134.2 94.70h2.3v1.30h-2.3zM110.2 104.68h8.3v1.30h-8.3zM124.2 104.68h2.3v1.30h-2.3zM128.2 104.68h2.3v1.30h-2.3zM132.2 104.68h4.3v1.30h-4.3zM138.2 104.68h2.3v1.30h-2.3zM126.2 113.67h8.3v1.30h-8.3zM138.2 113.67h2.3v1.30h-2.3zM112.2 122.65h4.3v1.30h-4.3zM138.2 122.65h2.3v1.30h-2.3zM110.2 123.65h2.3v1.30h-2.3zM112.2 126.64h12.3v1.30h-12.3zM126.2 126.64h14.3v1.30h-14.3zM110.2 127.64h8.3v1.30h-8.3zM120.2 127.64h2.3v1.30h-2.3zM130.2 127.64h10.3v1.30h-10.3zM112.2 138.62h2.3v1.30h-2.3zM120.2 138.62h4.3v1.30h-4.3zM126.2 138.62h10.3v1.30h-10.3zM138.2 138.62h2.3v1.30h-2.3zM116.2 139.61h4.3v1.30h-4.3zM126.2 139.61h14.3v1.30h-14.3zM112.2 140.61h2.3v1.30h-2.3zM116.2 140.61h24.3v1.30h-24.3zM134.2 141.61h2.3v1.30h-2.3zM114.2 153.59h2.3v1.30h-2.3zM124.2 153.59h2.3v1.30h-2.3zM134.2 153.59h6.3v1.30h-6.3zM114.2 154.59h6.3v1.30h-6.3zM122.2 154.59h12.3v1.30h-12.3zM110.2 164.57h4.3v1.30h-4.3zM124.2 164.57h2.3v1.30h-2.3zM122.2 166.56h4.3v1.30h-4.3zM128.2 166.56h4.3v1.30h-4.3zM110.2 167.56h6.3v1.30h-6.3zM118.2 167.56h6.3v1.30h-6.3zM126.2 167.56h8.3v1.30h-8.3zM138.2 167.56h2.3v1.30h-2.3zM128.2 178.54h8.3v1.30h-8.3zM138.2 178.54h2.3v1.30h-2.3zM128.2 179.54h6.3v1.30h-6.3zM118.2 192.51h2.3v1.30h-2.3zM134.2 192.51h2.3v1.30h-2.3zM138.2 192.51h2.3v1.30h-2.3zM114.2 197.50h2.3v1.30h-2.3zM128.2 197.50h6.3v1.30h-6.3zM136.2 197.50h2.3v1.30h-2.3z"/>
<path fill="#e44630" d="M52.1 82.73h2.3v1.30h-2.3z"/>
</g></g>
<text x="143.00" y="34.00" font-size="8.8" text-anchor="start" fill="#222" >Class</text>
<text x="143.00" y="43.40" font-size="8.8" text-anchor="start" fill="#222" >GS</text>
<text x="143.10" y="59.00" font-size="8.8" text-anchor="start" fill="#222" >Class</text>
<rect x="143.90" y="62.00" width="7.60" height="8.60" fill="#c2e04a" />
<text x="153.50" y="70.00" font-size="9.5" text-anchor="start" fill="#222" >T</text>
<rect x="143.90" y="71.60" width="7.60" height="8.60" fill="#5ebfa8" />
<text x="153.50" y="79.60" font-size="9.5" text-anchor="start" fill="#222" >N</text>
<text x="143.90" y="96.50" font-size="8.8" text-anchor="start" fill="#222" >GS</text>
<rect x="144.70" y="100.20" width="8.00" height="7.90" fill="#e3dcc0" />
<text x="154.90" y="107.40" font-size="9.0" text-anchor="start" fill="#222" >6</text>
<rect x="144.70" y="108.65" width="8.00" height="7.90" fill="#d9bb8f" />
<text x="154.90" y="115.85" font-size="9.0" text-anchor="start" fill="#222" >3+4</text>
<rect x="144.70" y="117.10" width="8.00" height="7.90" fill="#cf9c73" />
<text x="154.90" y="124.30" font-size="9.0" text-anchor="start" fill="#222" >4+3</text>
<rect x="144.70" y="125.55" width="8.00" height="7.90" fill="#d5775a" />
<text x="154.90" y="132.75" font-size="9.0" text-anchor="start" fill="#222" >8</text>
<rect x="144.70" y="134.00" width="8.00" height="7.90" fill="#cf5a4e" />
<text x="154.90" y="141.20" font-size="9.0" text-anchor="start" fill="#222" >9</text>
<text x="144.90" y="155.40" font-size="7.6" text-anchor="start" fill="#222" >Ratio</text>
<defs><linearGradient id="grada" x1="0" y1="0" x2="0" y2="1"><stop offset="0" stop-color="#e63f2c"/><stop offset="0.5" stop-color="#eda898"/><stop offset="0.84" stop-color="#ffffff"/><stop offset="0.9" stop-color="#e6f2f4"/><stop offset="0.93" stop-color="#bcdde4"/><stop offset="1" stop-color="#bcdde4"/></linearGradient></defs>
<rect x="146.20" y="160.00" width="8.30" height="36.70" fill="url(#grada)" />
<line x1="146.20" y1="160.80" x2="147.60" y2="160.80" stroke="#fff" stroke-width="0.7" />
<line x1="153.10" y1="160.80" x2="154.50" y2="160.80" stroke="#fff" stroke-width="0.7" />
<line x1="146.20" y1="178.50" x2="147.60" y2="178.50" stroke="#fff" stroke-width="0.7" />
<line x1="153.10" y1="178.50" x2="154.50" y2="178.50" stroke="#fff" stroke-width="0.7" />
<line x1="146.20" y1="194.70" x2="147.60" y2="194.70" stroke="#fff" stroke-width="0.7" />
<line x1="153.10" y1="194.70" x2="154.50" y2="194.70" stroke="#fff" stroke-width="0.7" />
<text x="157.20" y="164.70" font-size="8.6" text-anchor="start" fill="#222" >1</text>
<text x="156.50" y="179.30" font-size="8.6" text-anchor="start" fill="#222" >0.5</text>
<text x="156.50" y="197.30" font-size="8.6" text-anchor="start" fill="#222" >0</text>
<text x="173.80" y="12.20" font-size="12.5" text-anchor="start" fill="#222" >b</text>
<text x="199.60" y="22.00" font-size="10" text-anchor="start" fill="#222" >Hypomethylated pDMRs</text>
<rect x="188.20" y="27.60" width="62.20" height="7.20" fill="#c2e04a" />
<rect x="250.40" y="27.60" width="62.00" height="7.20" fill="#5ebfa8" />
<rect x="188.10" y="36.00" width="1.80" height="6.80" fill="#d5775a" />
<rect x="189.90" y="36.00" width="5.00" height="6.80" fill="#d9bb8f" />
<rect x="194.90" y="36.00" width="11.80" height="6.80" fill="#cf9c73" />
<rect x="206.70" y="36.00" width="9.40" height="6.80" fill="#cf5a4e" />
<rect x="216.10" y="36.00" width="7.70" height="6.80" fill="#cf9c73" />
<rect x="223.80" y="36.00" width="14.20" height="6.80" fill="#d9bb8f" />
<rect x="238.00" y="36.00" width="11.60" height="6.80" fill="#e3dcc0" />
<rect x="249.60" y="36.00" width="10.30" height="6.80" fill="#cf9c73" />
<rect x="259.90" y="36.00" width="11.60" height="6.80" fill="#cf5a4e" />
<rect x="271.50" y="36.00" width="2.20" height="6.80" fill="#d9bb8f" />
<rect x="273.70" y="36.00" width="9.20" height="6.80" fill="#d5775a" />
<rect x="282.90" y="36.00" width="4.80" height="6.80" fill="#e3dcc0" />
<rect x="287.70" y="36.00" width="7.30" height="6.80" fill="#d9bb8f" />
<rect x="295.00" y="36.00" width="7.60" height="6.80" fill="#e3dcc0" />
<rect x="302.60" y="36.00" width="7.70" height="6.80" fill="#d9bb8f" />
<rect x="310.30" y="36.00" width="2.00" height="6.80" fill="#d5775a" />
<defs><filter id="hbb" x="-2%" y="-2%" width="104%" height="104%"><feGaussianBlur stdDeviation="0.55 0.4"/></filter><clipPath id="hcb"><rect x="188.20" y="44.80" width="124.20" height="153.70"/></clipPath></defs>
<g clip-path="url(#hcb)"><g filter="url(#hbb)">
<path fill="#ec7b6b" d="M188.2 44.80h2.3v1.30h-2.3zM206.2 46.80h6.3v1.30h-6.3zM216.2 46.80h2.3v1.30h-2.3zM188.2 48.79h4.3v1.30h-4.3zM200.2 48.79h6.3v1.30h-6.3zM220.3 48.79h2.3v1.30h-2.3zM192.2 49.79h2.3v1.30h-2.3zM202.2 49.79h2.3v1.30h-2.3zM194.2 50.79h2.3v1.30h-2.3zM200.2 50.79h4.3v1.30h-4.3zM206.2 50.79h4.3v1.30h-4.3zM218.2 50.79h2.3v1.30h-2.3zM206.2 51.79h10.3v1.30h-10.3zM220.3 51.79h2.3v1.30h-2.3zM194.2 53.78h6.3v1.30h-6.3zM188.2 54.78h4.3v1.30h-4.3zM194.2 54.78h4.3v1.30h-4.3zM202.2 54.78h2.3v1.30h-2.3zM206.2 54.78h2.3v1.30h-2.3zM194.2 55.78h6.3v1.30h-6.3zM208.2 55.78h2.3v1.30h-2.3zM212.2 55.78h4.3v1.30h-4.3zM194.2 56.78h4.3v1.30h-4.3zM188.2 60.77h4.3v1.30h-4.3zM194.2 60.77h4.3v1.30h-4.3zM200.2 60.77h2.3v1.30h-2.3zM216.2 60.77h4.3v1.30h-4.3zM224.3 60.77h6.3v1.30h-6.3zM188.2 61.77h2.3v1.30h-2.3zM206.2 61.77h10.3v1.30h-10.3zM220.3 61.77h4.3v1.30h-4.3zM228.3 61.77h2.3v1.30h-2.3zM190.2 62.76h2.3v1.30h-2.3zM194.2 62.76h8.3v1.30h-8.3zM208.2 62.76h14.3v1.30h-14.3zM224.3 62.76h6.3v1.30h-6.3zM188.2 63.76h6.3v1.30h-6.3zM198.2 63.76h14.3v1.30h-14.3zM216.2 63.76h8.3v1.30h-8.3zM188.2 65.76h4.3v1.30h-4.3zM194.2 65.76h6.3v1.30h-6.3zM206.2 65.76h6.3v1.30h-6.3zM198.2 66.76h4.3v1.30h-4.3zM188.2 67.76h8.3v1.30h-8.3zM190.2 68.75h2.3v1.30h-2.3zM194.2 68.75h4.3v1.30h-4.3zM206.2 68.75h2.3v1.30h-2.3zM216.2 68.75h4.3v1.30h-4.3zM188.2 69.75h2.3v1.30h-2.3zM206.2 69.75h2.3v1.30h-2.3zM216.2 69.75h2.3v1.30h-2.3zM206.2 70.75h6.3v1.30h-6.3zM194.2 71.75h4.3v1.30h-4.3zM206.2 71.75h2.3v1.30h-2.3zM188.2 72.75h6.3v1.30h-6.3zM202.2 72.75h18.3v1.30h-18.3zM194.2 73.74h12.3v1.30h-12.3zM188.2 75.74h2.3v1.30h-2.3zM224.3 75.74h4.3v1.30h-4.3zM188.2 76.74h4.3v1.30h-4.3zM206.2 76.74h4.3v1.30h-4.3zM216.2 76.74h4.3v1.30h-4.3zM188.2 77.74h4.3v1.30h-4.3zM206.2 77.74h4.3v1.30h-4.3zM194.2 78.73h4.3v1.30h-4.3zM192.2 79.73h2.3v1.30h-2.3zM196.2 79.73h8.3v1.30h-8.3zM216.2 79.73h2.3v1.30h-2.3zM196.2 80.73h10.3v1.30h-10.3zM214.2 80.73h2.3v1.30h-2.3zM224.3 80.73h2.3v1.30h-2.3zM192.2 81.73h2.3v1.30h-2.3zM196.2 81.73h10.3v1.30h-10.3zM216.2 81.73h2.3v1.30h-2.3zM194.2 82.73h8.3v1.30h-8.3zM188.2 86.72h2.3v1.30h-2.3zM192.2 86.72h8.3v1.30h-8.3zM188.2 87.72h6.3v1.30h-6.3zM218.2 88.71h4.3v1.30h-4.3zM188.2 89.71h2.3v1.30h-2.3zM208.2 89.71h4.3v1.30h-4.3zM206.2 90.71h8.3v1.30h-8.3zM216.2 90.71h2.3v1.30h-2.3zM192.2 91.71h2.3v1.30h-2.3zM206.2 91.71h4.3v1.30h-4.3zM188.2 92.71h2.3v1.30h-2.3zM188.2 93.70h2.3v1.30h-2.3zM188.2 96.70h4.3v1.30h-4.3zM194.2 96.70h2.3v1.30h-2.3zM208.2 96.70h6.3v1.30h-6.3zM188.2 99.69h4.3v1.30h-4.3zM194.2 99.69h4.3v1.30h-4.3zM224.3 99.69h8.3v1.30h-8.3zM192.2 100.69h2.3v1.30h-2.3zM200.2 100.69h4.3v1.30h-4.3zM206.2 100.69h2.3v1.30h-2.3zM206.2 104.68h2.3v1.30h-2.3zM210.2 104.68h2.3v1.30h-2.3zM190.2 105.68h4.3v1.30h-4.3zM210.2 105.68h4.3v1.30h-4.3zM216.2 105.68h4.3v1.30h-4.3zM190.2 106.68h2.3v1.30h-2.3zM216.2 106.68h2.3v1.30h-2.3zM192.2 107.68h2.3v1.30h-2.3zM206.2 107.68h6.3v1.30h-6.3zM188.2 108.68h2.3v1.30h-2.3zM206.2 108.68h8.3v1.30h-8.3zM206.2 109.67h6.3v1.30h-6.3zM188.2 110.67h4.3v1.30h-4.3zM206.2 110.67h2.3v1.30h-2.3zM192.2 111.67h2.3v1.30h-2.3zM206.2 111.67h2.3v1.30h-2.3zM210.2 111.67h4.3v1.30h-4.3zM188.2 114.66h4.3v1.30h-4.3zM188.2 115.66h2.3v1.30h-2.3zM190.2 116.66h4.3v1.30h-4.3zM196.2 116.66h2.3v1.30h-2.3zM206.2 116.66h2.3v1.30h-2.3zM190.2 117.66h4.3v1.30h-4.3zM192.2 118.66h2.3v1.30h-2.3zM190.2 119.65h6.3v1.30h-6.3zM208.2 119.65h2.3v1.30h-2.3zM216.2 119.65h4.3v1.30h-4.3zM190.2 120.65h2.3v1.30h-2.3zM216.2 120.65h6.3v1.30h-6.3zM188.2 121.65h6.3v1.30h-6.3zM198.2 121.65h2.3v1.30h-2.3zM202.2 121.65h2.3v1.30h-2.3zM218.2 121.65h8.3v1.30h-8.3zM202.2 122.65h4.3v1.30h-4.3zM210.2 122.65h6.3v1.30h-6.3zM196.2 123.65h4.3v1.30h-4.3zM188.2 127.64h2.3v1.30h-2.3zM206.2 127.64h2.3v1.30h-2.3zM206.2 131.63h2.3v1.30h-2.3zM206.2 132.63h2.3v1.30h-2.3zM188.2 135.62h2.3v1.30h-2.3zM194.2 135.62h2.3v1.30h-2.3zM198.2 135.62h2.3v1.30h-2.3zM206.2 135.62h2.3v1.30h-2.3zM190.2 136.62h6.3v1.30h-6.3zM210.2 136.62h2.3v1.30h-2.3zM216.2 136.62h4.3v1.30h-4.3zM188.2 137.62h2.3v1.30h-2.3zM190.2 140.61h2.3v1.30h-2.3zM190.2 142.61h12.3v1.30h-12.3zM206.2 142.61h4.3v1.30h-4.3zM224.3 142.61h4.3v1.30h-4.3zM212.2 143.61h2.3v1.30h-2.3zM220.3 143.61h2.3v1.30h-2.3zM224.3 143.61h2.3v1.30h-2.3zM188.2 144.61h4.3v1.30h-4.3zM206.2 144.61h4.3v1.30h-4.3zM206.2 145.60h4.3v1.30h-4.3zM206.2 147.60h2.3v1.30h-2.3zM206.2 148.60h2.3v1.30h-2.3zM216.2 148.60h2.3v1.30h-2.3zM190.2 150.59h8.3v1.30h-8.3zM206.2 150.59h2.3v1.30h-2.3zM188.2 151.59h4.3v1.30h-4.3zM194.2 151.59h12.3v1.30h-12.3zM212.2 151.59h4.3v1.30h-4.3zM206.2 153.59h4.3v1.30h-4.3zM188.2 154.59h2.3v1.30h-2.3zM194.2 155.58h14.3v1.30h-14.3zM206.2 156.58h4.3v1.30h-4.3zM188.2 158.58h2.3v1.30h-2.3zM188.2 162.57h4.3v1.30h-4.3zM206.2 163.57h2.3v1.30h-2.3zM210.2 163.57h4.3v1.30h-4.3zM194.2 164.57h4.3v1.30h-4.3zM202.2 164.57h2.3v1.30h-2.3zM206.2 164.57h2.3v1.30h-2.3zM188.2 168.56h4.3v1.30h-4.3zM212.2 169.56h2.3v1.30h-2.3zM220.3 169.56h2.3v1.30h-2.3zM190.2 170.55h8.3v1.30h-8.3zM206.2 170.55h4.3v1.30h-4.3zM216.2 170.55h2.3v1.30h-2.3zM200.2 171.55h6.3v1.30h-6.3zM210.2 171.55h4.3v1.30h-4.3zM218.2 171.55h6.3v1.30h-6.3zM198.2 172.55h4.3v1.30h-4.3zM206.2 172.55h2.3v1.30h-2.3zM216.2 172.55h4.3v1.30h-4.3zM188.2 173.55h4.3v1.30h-4.3zM206.2 173.55h2.3v1.30h-2.3zM188.2 177.54h4.3v1.30h-4.3zM194.2 178.54h4.3v1.30h-4.3zM224.3 178.54h4.3v1.30h-4.3zM192.2 180.54h2.3v1.30h-2.3zM198.2 180.54h2.3v1.30h-2.3zM210.2 180.54h8.3v1.30h-8.3zM188.2 181.53h2.3v1.30h-2.3zM194.2 181.53h6.3v1.30h-6.3zM206.2 181.53h4.3v1.30h-4.3zM190.2 182.53h4.3v1.30h-4.3zM200.2 182.53h4.3v1.30h-4.3zM206.2 182.53h4.3v1.30h-4.3zM224.3 182.53h2.3v1.30h-2.3zM188.2 186.52h4.3v1.30h-4.3zM188.2 188.52h10.3v1.30h-10.3zM188.2 189.52h10.3v1.30h-10.3zM206.2 189.52h6.3v1.30h-6.3zM214.2 189.52h8.3v1.30h-8.3zM194.2 190.52h2.3v1.30h-2.3zM198.2 190.52h6.3v1.30h-6.3zM210.2 190.52h4.3v1.30h-4.3zM188.2 197.50h4.3v1.30h-4.3zM224.3 197.50h2.3v1.30h-2.3z"/>
<path fill="#f09589" d="M190.2 44.80h6.3v1.30h-6.3zM206.2 44.80h6.3v1.30h-6.3zM216.2 44.80h2.3v1.30h-2.3zM224.3 44.80h4.3v1.30h-4.3zM230.3 44.80h2.3v1.30h-2.3zM206.2 45.80h4.3v1.30h-4.3zM212.2 45.80h2.3v1.30h-2.3zM216.2 45.80h2.3v1.30h-2.3zM188.2 46.80h2.3v1.30h-2.3zM212.2 46.80h4.3v1.30h-4.3zM218.2 46.80h4.3v1.30h-4.3zM224.3 46.80h2.3v1.30h-2.3zM194.2 47.79h2.3v1.30h-2.3zM192.2 48.79h2.3v1.30h-2.3zM206.2 48.79h10.3v1.30h-10.3zM222.3 48.79h6.3v1.30h-6.3zM204.2 49.79h8.3v1.30h-8.3zM216.2 49.79h4.3v1.30h-4.3zM226.3 49.79h2.3v1.30h-2.3zM188.2 50.79h4.3v1.30h-4.3zM204.2 50.79h2.3v1.30h-2.3zM210.2 50.79h6.3v1.30h-6.3zM220.3 50.79h4.3v1.30h-4.3zM188.2 51.79h2.3v1.30h-2.3zM194.2 51.79h6.3v1.30h-6.3zM222.3 51.79h2.3v1.30h-2.3zM194.2 52.78h4.3v1.30h-4.3zM200.2 52.78h4.3v1.30h-4.3zM206.2 52.78h6.3v1.30h-6.3zM200.2 53.78h6.3v1.30h-6.3zM192.2 54.78h2.3v1.30h-2.3zM198.2 54.78h4.3v1.30h-4.3zM204.2 54.78h2.3v1.30h-2.3zM208.2 54.78h4.3v1.30h-4.3zM200.2 55.78h6.3v1.30h-6.3zM216.2 55.78h2.3v1.30h-2.3zM198.2 56.78h6.3v1.30h-6.3zM206.2 56.78h2.3v1.30h-2.3zM224.3 57.77h6.3v1.30h-6.3zM188.2 58.77h4.3v1.30h-4.3zM206.2 58.77h2.3v1.30h-2.3zM206.2 59.77h2.3v1.30h-2.3zM220.3 59.77h6.3v1.30h-6.3zM192.2 60.77h2.3v1.30h-2.3zM198.2 60.77h2.3v1.30h-2.3zM202.2 60.77h12.3v1.30h-12.3zM220.3 60.77h4.3v1.30h-4.3zM230.3 60.77h2.3v1.30h-2.3zM190.2 61.77h16.3v1.30h-16.3zM230.3 61.77h2.3v1.30h-2.3zM192.2 62.76h2.3v1.30h-2.3zM202.2 62.76h4.3v1.30h-4.3zM222.3 62.76h2.3v1.30h-2.3zM230.3 62.76h2.3v1.30h-2.3zM212.2 63.76h4.3v1.30h-4.3zM224.3 63.76h8.3v1.30h-8.3zM188.2 64.76h2.3v1.30h-2.3zM194.2 64.76h6.3v1.30h-6.3zM216.2 64.76h4.3v1.30h-4.3zM192.2 65.76h2.3v1.30h-2.3zM200.2 65.76h6.3v1.30h-6.3zM212.2 65.76h2.3v1.30h-2.3zM216.2 65.76h2.3v1.30h-2.3zM224.3 65.76h4.3v1.30h-4.3zM202.2 66.76h6.3v1.30h-6.3zM196.2 67.76h6.3v1.30h-6.3zM206.2 67.76h6.3v1.30h-6.3zM216.2 67.76h10.3v1.30h-10.3zM192.2 68.75h2.3v1.30h-2.3zM198.2 68.75h2.3v1.30h-2.3zM202.2 68.75h2.3v1.30h-2.3zM208.2 68.75h6.3v1.30h-6.3zM220.3 68.75h2.3v1.30h-2.3zM224.3 68.75h2.3v1.30h-2.3zM190.2 69.75h2.3v1.30h-2.3zM194.2 69.75h6.3v1.30h-6.3zM208.2 69.75h8.3v1.30h-8.3zM218.2 69.75h4.3v1.30h-4.3zM188.2 70.75h14.3v1.30h-14.3zM212.2 70.75h10.3v1.30h-10.3zM188.2 71.75h4.3v1.30h-4.3zM198.2 71.75h6.3v1.30h-6.3zM208.2 71.75h12.3v1.30h-12.3zM220.3 72.75h4.3v1.30h-4.3zM206.2 73.74h4.3v1.30h-4.3zM216.2 73.74h2.3v1.30h-2.3zM188.2 74.74h4.3v1.30h-4.3zM194.2 74.74h8.3v1.30h-8.3zM206.2 74.74h4.3v1.30h-4.3zM216.2 74.74h4.3v1.30h-4.3zM222.3 74.74h10.3v1.30h-10.3zM206.2 75.74h4.3v1.30h-4.3zM216.2 75.74h8.3v1.30h-8.3zM228.3 75.74h4.3v1.30h-4.3zM192.2 76.74h2.3v1.30h-2.3zM210.2 76.74h6.3v1.30h-6.3zM220.3 76.74h10.3v1.30h-10.3zM192.2 77.74h14.3v1.30h-14.3zM210.2 77.74h4.3v1.30h-4.3zM216.2 77.74h2.3v1.30h-2.3zM224.3 77.74h2.3v1.30h-2.3zM228.3 77.74h2.3v1.30h-2.3zM188.2 78.73h6.3v1.30h-6.3zM198.2 78.73h6.3v1.30h-6.3zM224.3 78.73h2.3v1.30h-2.3zM204.2 79.73h8.3v1.30h-8.3zM218.2 79.73h4.3v1.30h-4.3zM224.3 79.73h8.3v1.30h-8.3zM226.3 80.73h2.3v1.30h-2.3zM206.2 81.73h4.3v1.30h-4.3zM218.2 81.73h2.3v1.30h-2.3zM188.2 82.73h6.3v1.30h-6.3zM206.2 82.73h2.3v1.30h-2.3zM188.2 83.72h4.3v1.30h-4.3zM194.2 85.72h2.3v1.30h-2.3zM200.2 86.72h2.3v1.30h-2.3zM206.2 86.72h2.3v1.30h-2.3zM216.2 86.72h6.3v1.30h-6.3zM224.3 86.72h4.3v1.30h-4.3zM194.2 87.72h2.3v1.30h-2.3zM206.2 87.72h4.3v1.30h-4.3zM220.3 87.72h2.3v1.30h-2.3zM224.3 87.72h6.3v1.30h-6.3zM210.2 88.71h6.3v1.30h-6.3zM222.3 88.71h6.3v1.30h-6.3zM190.2 89.71h4.3v1.30h-4.3zM206.2 89.71h2.3v1.30h-2.3zM212.2 89.71h4.3v1.30h-4.3zM224.3 89.71h4.3v1.30h-4.3zM214.2 90.71h2.3v1.30h-2.3zM218.2 90.71h4.3v1.30h-4.3zM210.2 91.71h2.3v1.30h-2.3zM216.2 91.71h4.3v1.30h-4.3zM190.2 92.71h4.3v1.30h-4.3zM190.2 93.70h12.3v1.30h-12.3zM206.2 93.70h2.3v1.30h-2.3zM188.2 94.70h4.3v1.30h-4.3zM206.2 95.70h2.3v1.30h-2.3zM224.3 95.70h2.3v1.30h-2.3zM192.2 96.70h2.3v1.30h-2.3zM196.2 96.70h10.3v1.30h-10.3zM214.2 96.70h2.3v1.30h-2.3zM188.2 97.70h4.3v1.30h-4.3zM206.2 97.70h6.3v1.30h-6.3zM224.3 97.70h4.3v1.30h-4.3zM188.2 98.69h4.3v1.30h-4.3zM206.2 98.69h2.3v1.30h-2.3zM224.3 98.69h6.3v1.30h-6.3zM192.2 99.69h2.3v1.30h-2.3zM198.2 99.69h4.3v1.30h-4.3zM206.2 99.69h2.3v1.30h-2.3zM220.3 99.69h4.3v1.30h-4.3zM204.2 100.69h2.3v1.30h-2.3zM208.2 100.69h12.3v1.30h-12.3zM224.3 100.69h4.3v1.30h-4.3zM188.2 101.69h4.3v1.30h-4.3zM194.2 101.69h4.3v1.30h-4.3zM188.2 102.69h2.3v1.30h-2.3zM194.2 102.69h2.3v1.30h-2.3zM188.2 103.69h2.3v1.30h-2.3zM196.2 103.69h10.3v1.30h-10.3zM188.2 104.68h4.3v1.30h-4.3zM194.2 104.68h2.3v1.30h-2.3zM208.2 104.68h2.3v1.30h-2.3zM212.2 104.68h2.3v1.30h-2.3zM198.2 105.68h6.3v1.30h-6.3zM214.2 105.68h2.3v1.30h-2.3zM220.3 105.68h10.3v1.30h-10.3zM192.2 106.68h2.3v1.30h-2.3zM206.2 106.68h6.3v1.30h-6.3zM218.2 106.68h4.3v1.30h-4.3zM194.2 107.68h2.3v1.30h-2.3zM212.2 107.68h10.3v1.30h-10.3zM190.2 108.68h4.3v1.30h-4.3zM214.2 108.68h4.3v1.30h-4.3zM188.2 109.67h4.3v1.30h-4.3zM212.2 109.67h4.3v1.30h-4.3zM192.2 110.67h8.3v1.30h-8.3zM208.2 110.67h4.3v1.30h-4.3zM208.2 111.67h2.3v1.30h-2.3zM214.2 111.67h8.3v1.30h-8.3zM188.2 112.67h2.3v1.30h-2.3zM206.2 112.67h2.3v1.30h-2.3zM188.2 113.67h2.3v1.30h-2.3zM194.2 113.67h2.3v1.30h-2.3zM192.2 114.66h2.3v1.30h-2.3zM190.2 115.66h4.3v1.30h-4.3zM206.2 115.66h6.3v1.30h-6.3zM194.2 116.66h2.3v1.30h-2.3zM198.2 116.66h4.3v1.30h-4.3zM208.2 116.66h8.3v1.30h-8.3zM224.3 116.66h4.3v1.30h-4.3zM206.2 117.66h4.3v1.30h-4.3zM216.2 117.66h4.3v1.30h-4.3zM206.2 118.66h6.3v1.30h-6.3zM216.2 118.66h2.3v1.30h-2.3zM196.2 119.65h12.3v1.30h-12.3zM210.2 119.65h6.3v1.30h-6.3zM220.3 119.65h2.3v1.30h-2.3zM192.2 120.65h8.3v1.30h-8.3zM222.3 120.65h2.3v1.30h-2.3zM204.2 121.65h8.3v1.30h-8.3zM226.3 121.65h4.3v1.30h-4.3zM188.2 122.65h6.3v1.30h-6.3zM216.2 122.65h2.3v1.30h-2.3zM188.2 123.65h6.3v1.30h-6.3zM200.2 123.65h12.3v1.30h-12.3zM216.2 123.65h2.3v1.30h-2.3zM194.2 124.64h6.3v1.30h-6.3zM208.2 126.64h4.3v1.30h-4.3zM190.2 127.64h16.3v1.30h-16.3zM208.2 127.64h6.3v1.30h-6.3zM224.3 127.64h2.3v1.30h-2.3zM228.3 127.64h2.3v1.30h-2.3zM206.2 128.64h2.3v1.30h-2.3zM194.2 130.63h4.3v1.30h-4.3zM202.2 130.63h2.3v1.30h-2.3zM188.2 131.63h10.3v1.30h-10.3zM208.2 131.63h4.3v1.30h-4.3zM224.3 131.63h6.3v1.30h-6.3zM188.2 132.63h4.3v1.30h-4.3zM210.2 132.63h6.3v1.30h-6.3zM194.2 134.62h4.3v1.30h-4.3zM206.2 134.62h6.3v1.30h-6.3zM190.2 135.62h4.3v1.30h-4.3zM200.2 135.62h6.3v1.30h-6.3zM208.2 135.62h2.3v1.30h-2.3zM212.2 135.62h2.3v1.30h-2.3zM216.2 135.62h6.3v1.30h-6.3zM196.2 136.62h6.3v1.30h-6.3zM206.2 136.62h4.3v1.30h-4.3zM212.2 136.62h4.3v1.30h-4.3zM220.3 136.62h8.3v1.30h-8.3zM190.2 137.62h4.3v1.30h-4.3zM192.2 140.61h2.3v1.30h-2.3zM206.2 140.61h8.3v1.30h-8.3zM216.2 140.61h4.3v1.30h-4.3zM224.3 140.61h8.3v1.30h-8.3zM188.2 141.61h4.3v1.30h-4.3zM198.2 141.61h2.3v1.30h-2.3zM216.2 141.61h4.3v1.30h-4.3zM224.3 141.61h6.3v1.30h-6.3zM202.2 142.61h4.3v1.30h-4.3zM210.2 142.61h4.3v1.30h-4.3zM216.2 142.61h8.3v1.30h-8.3zM228.3 142.61h4.3v1.30h-4.3zM188.2 143.61h2.3v1.30h-2.3zM198.2 143.61h4.3v1.30h-4.3zM222.3 143.61h2.3v1.30h-2.3zM226.3 143.61h4.3v1.30h-4.3zM192.2 144.61h2.3v1.30h-2.3zM210.2 144.61h4.3v1.30h-4.3zM210.2 145.60h4.3v1.30h-4.3zM188.2 146.60h10.3v1.30h-10.3zM206.2 146.60h6.3v1.30h-6.3zM208.2 147.60h4.3v1.30h-4.3zM188.2 148.60h4.3v1.30h-4.3zM208.2 148.60h8.3v1.30h-8.3zM218.2 148.60h6.3v1.30h-6.3zM188.2 149.60h4.3v1.30h-4.3zM198.2 150.59h8.3v1.30h-8.3zM208.2 150.59h6.3v1.30h-6.3zM192.2 151.59h2.3v1.30h-2.3zM188.2 152.59h6.3v1.30h-6.3zM210.2 152.59h2.3v1.30h-2.3zM216.2 152.59h6.3v1.30h-6.3zM224.3 152.59h2.3v1.30h-2.3zM210.2 153.59h6.3v1.30h-6.3zM190.2 154.59h10.3v1.30h-10.3zM208.2 154.59h2.3v1.30h-2.3zM188.2 155.58h6.3v1.30h-6.3zM208.2 155.58h4.3v1.30h-4.3zM188.2 156.58h2.3v1.30h-2.3zM210.2 156.58h4.3v1.30h-4.3zM216.2 156.58h2.3v1.30h-2.3zM188.2 157.58h2.3v1.30h-2.3zM190.2 158.58h2.3v1.30h-2.3zM210.2 159.58h2.3v1.30h-2.3zM192.2 162.57h2.3v1.30h-2.3zM198.2 163.57h2.3v1.30h-2.3zM208.2 163.57h2.3v1.30h-2.3zM214.2 163.57h2.3v1.30h-2.3zM224.3 163.57h2.3v1.30h-2.3zM198.2 164.57h4.3v1.30h-4.3zM204.2 164.57h2.3v1.30h-2.3zM208.2 164.57h6.3v1.30h-6.3zM216.2 164.57h4.3v1.30h-4.3zM198.2 165.56h10.3v1.30h-10.3zM216.2 165.56h4.3v1.30h-4.3zM188.2 166.56h4.3v1.30h-4.3zM188.2 167.56h4.3v1.30h-4.3zM192.2 168.56h2.3v1.30h-2.3zM206.2 169.56h6.3v1.30h-6.3zM214.2 169.56h2.3v1.30h-2.3zM222.3 169.56h2.3v1.30h-2.3zM198.2 170.55h8.3v1.30h-8.3zM210.2 170.55h6.3v1.30h-6.3zM218.2 170.55h4.3v1.30h-4.3zM214.2 171.55h2.3v1.30h-2.3zM224.3 171.55h2.3v1.30h-2.3zM202.2 172.55h4.3v1.30h-4.3zM208.2 172.55h8.3v1.30h-8.3zM220.3 172.55h4.3v1.30h-4.3zM192.2 173.55h4.3v1.30h-4.3zM208.2 173.55h4.3v1.30h-4.3zM188.2 175.54h2.3v1.30h-2.3zM194.2 175.54h2.3v1.30h-2.3zM188.2 176.54h2.3v1.30h-2.3zM206.2 176.54h2.3v1.30h-2.3zM224.3 176.54h2.3v1.30h-2.3zM192.2 177.54h8.3v1.30h-8.3zM206.2 177.54h4.3v1.30h-4.3zM224.3 177.54h2.3v1.30h-2.3zM198.2 178.54h4.3v1.30h-4.3zM216.2 178.54h4.3v1.30h-4.3zM228.3 178.54h2.3v1.30h-2.3zM188.2 179.54h4.3v1.30h-4.3zM194.2 179.54h4.3v1.30h-4.3zM206.2 179.54h2.3v1.30h-2.3zM216.2 179.54h4.3v1.30h-4.3zM200.2 180.54h4.3v1.30h-4.3zM206.2 180.54h4.3v1.30h-4.3zM218.2 180.54h4.3v1.30h-4.3zM190.2 181.53h4.3v1.30h-4.3zM200.2 181.53h2.3v1.30h-2.3zM210.2 181.53h6.3v1.30h-6.3zM204.2 182.53h2.3v1.30h-2.3zM210.2 182.53h4.3v1.30h-4.3zM226.3 182.53h2.3v1.30h-2.3zM188.2 184.53h4.3v1.30h-4.3zM194.2 184.53h4.3v1.30h-4.3zM216.2 184.53h4.3v1.30h-4.3zM192.2 186.52h2.3v1.30h-2.3zM188.2 187.52h4.3v1.30h-4.3zM198.2 188.52h6.3v1.30h-6.3zM198.2 189.52h8.3v1.30h-8.3zM212.2 189.52h2.3v1.30h-2.3zM222.3 189.52h2.3v1.30h-2.3zM188.2 190.52h2.3v1.30h-2.3zM196.2 190.52h2.3v1.30h-2.3zM204.2 190.52h2.3v1.30h-2.3zM214.2 190.52h2.3v1.30h-2.3zM188.2 193.51h10.3v1.30h-10.3zM188.2 194.51h2.3v1.30h-2.3zM188.2 196.50h4.3v1.30h-4.3zM224.3 196.50h2.3v1.30h-2.3zM192.2 197.50h8.3v1.30h-8.3zM206.2 197.50h6.3v1.30h-6.3zM226.3 197.50h6.3v1.30h-6.3z"/>
<path fill="#f3b0a6" d="M196.2 44.80h10.3v1.30h-10.3zM212.2 44.80h4.3v1.30h-4.3zM218.2 44.80h4.3v1.30h-4.3zM228.3 44.80h2.3v1.30h-2.3zM188.2 45.80h2.3v1.30h-2.3zM210.2 45.80h2.3v1.30h-2.3zM214.2 45.80h2.3v1.30h-2.3zM218.2 45.80h4.3v1.30h-4.3zM190.2 46.80h6.3v1.30h-6.3zM222.3 46.80h2.3v1.30h-2.3zM226.3 46.80h4.3v1.30h-4.3zM188.2 47.79h2.3v1.30h-2.3zM196.2 47.79h8.3v1.30h-8.3zM206.2 47.79h2.3v1.30h-2.3zM220.3 47.79h8.3v1.30h-8.3zM228.3 48.79h4.3v1.30h-4.3zM212.2 49.79h4.3v1.30h-4.3zM220.3 49.79h6.3v1.30h-6.3zM228.3 49.79h4.3v1.30h-4.3zM192.2 50.79h2.3v1.30h-2.3zM224.3 50.79h2.3v1.30h-2.3zM190.2 51.79h4.3v1.30h-4.3zM200.2 51.79h6.3v1.30h-6.3zM188.2 52.78h6.3v1.30h-6.3zM198.2 52.78h2.3v1.30h-2.3zM204.2 52.78h2.3v1.30h-2.3zM222.3 52.78h2.3v1.30h-2.3zM188.2 53.78h6.3v1.30h-6.3zM206.2 53.78h2.3v1.30h-2.3zM210.2 53.78h2.3v1.30h-2.3zM216.2 53.78h6.3v1.30h-6.3zM212.2 54.78h14.3v1.30h-14.3zM218.2 55.78h4.3v1.30h-4.3zM204.2 56.78h2.3v1.30h-2.3zM208.2 56.78h6.3v1.30h-6.3zM216.2 56.78h4.3v1.30h-4.3zM224.3 56.78h4.3v1.30h-4.3zM188.2 57.77h22.3v1.30h-22.3zM230.3 57.77h2.3v1.30h-2.3zM192.2 58.77h2.3v1.30h-2.3zM196.2 58.77h2.3v1.30h-2.3zM208.2 58.77h6.3v1.30h-6.3zM216.2 58.77h4.3v1.30h-4.3zM224.3 58.77h8.3v1.30h-8.3zM188.2 59.77h4.3v1.30h-4.3zM194.2 59.77h12.3v1.30h-12.3zM208.2 59.77h4.3v1.30h-4.3zM216.2 59.77h4.3v1.30h-4.3zM226.3 59.77h4.3v1.30h-4.3zM214.2 60.77h2.3v1.30h-2.3zM232.3 63.76h2.3v1.30h-2.3zM190.2 64.76h4.3v1.30h-4.3zM200.2 64.76h6.3v1.30h-6.3zM214.2 64.76h2.3v1.30h-2.3zM220.3 64.76h6.3v1.30h-6.3zM214.2 65.76h2.3v1.30h-2.3zM228.3 65.76h4.3v1.30h-4.3zM208.2 66.76h14.3v1.30h-14.3zM202.2 67.76h4.3v1.30h-4.3zM212.2 67.76h4.3v1.30h-4.3zM226.3 67.76h4.3v1.30h-4.3zM200.2 68.75h2.3v1.30h-2.3zM204.2 68.75h2.3v1.30h-2.3zM214.2 68.75h2.3v1.30h-2.3zM222.3 68.75h2.3v1.30h-2.3zM226.3 68.75h4.3v1.30h-4.3zM192.2 69.75h2.3v1.30h-2.3zM200.2 69.75h6.3v1.30h-6.3zM222.3 69.75h8.3v1.30h-8.3zM202.2 70.75h2.3v1.30h-2.3zM222.3 70.75h10.3v1.30h-10.3zM192.2 71.75h2.3v1.30h-2.3zM204.2 71.75h2.3v1.30h-2.3zM220.3 71.75h6.3v1.30h-6.3zM224.3 72.75h10.3v1.30h-10.3zM188.2 73.74h4.3v1.30h-4.3zM210.2 73.74h6.3v1.30h-6.3zM218.2 73.74h14.3v1.30h-14.3zM192.2 74.74h2.3v1.30h-2.3zM202.2 74.74h4.3v1.30h-4.3zM210.2 74.74h6.3v1.30h-6.3zM220.3 74.74h2.3v1.30h-2.3zM200.2 75.74h2.3v1.30h-2.3zM210.2 75.74h6.3v1.30h-6.3zM194.2 76.74h8.3v1.30h-8.3zM230.3 76.74h2.3v1.30h-2.3zM214.2 77.74h2.3v1.30h-2.3zM218.2 77.74h6.3v1.30h-6.3zM226.3 77.74h2.3v1.30h-2.3zM230.3 77.74h2.3v1.30h-2.3zM204.2 78.73h4.3v1.30h-4.3zM218.2 78.73h2.3v1.30h-2.3zM226.3 78.73h6.3v1.30h-6.3zM212.2 79.73h4.3v1.30h-4.3zM222.3 79.73h2.3v1.30h-2.3zM244.3 80.73h2.3v1.30h-2.3zM210.2 81.73h4.3v1.30h-4.3zM220.3 81.73h4.3v1.30h-4.3zM208.2 82.73h2.3v1.30h-2.3zM216.2 82.73h2.3v1.30h-2.3zM220.3 82.73h2.3v1.30h-2.3zM192.2 83.72h6.3v1.30h-6.3zM210.2 83.72h2.3v1.30h-2.3zM188.2 84.72h14.3v1.30h-14.3zM206.2 84.72h6.3v1.30h-6.3zM188.2 85.72h2.3v1.30h-2.3zM196.2 85.72h6.3v1.30h-6.3zM206.2 85.72h10.3v1.30h-10.3zM232.3 85.72h2.3v1.30h-2.3zM202.2 86.72h4.3v1.30h-4.3zM208.2 86.72h6.3v1.30h-6.3zM222.3 86.72h2.3v1.30h-2.3zM228.3 86.72h2.3v1.30h-2.3zM196.2 87.72h10.3v1.30h-10.3zM222.3 87.72h2.3v1.30h-2.3zM230.3 87.72h2.3v1.30h-2.3zM206.2 88.71h4.3v1.30h-4.3zM228.3 88.71h4.3v1.30h-4.3zM228.3 89.71h4.3v1.30h-4.3zM222.3 90.71h2.3v1.30h-2.3zM220.3 91.71h2.3v1.30h-2.3zM194.2 92.71h2.3v1.30h-2.3zM206.2 92.71h2.3v1.30h-2.3zM202.2 93.70h4.3v1.30h-4.3zM208.2 93.70h6.3v1.30h-6.3zM216.2 93.70h2.3v1.30h-2.3zM220.3 93.70h2.3v1.30h-2.3zM226.3 93.70h4.3v1.30h-4.3zM192.2 94.70h2.3v1.30h-2.3zM216.2 94.70h4.3v1.30h-4.3zM224.3 94.70h4.3v1.30h-4.3zM188.2 95.70h10.3v1.30h-10.3zM200.2 95.70h4.3v1.30h-4.3zM208.2 95.70h16.3v1.30h-16.3zM226.3 95.70h6.3v1.30h-6.3zM216.2 96.70h6.3v1.30h-6.3zM224.3 96.70h4.3v1.30h-4.3zM192.2 97.70h8.3v1.30h-8.3zM204.2 97.70h2.3v1.30h-2.3zM212.2 97.70h4.3v1.30h-4.3zM228.3 97.70h4.3v1.30h-4.3zM192.2 98.69h14.3v1.30h-14.3zM208.2 98.69h4.3v1.30h-4.3zM216.2 98.69h8.3v1.30h-8.3zM230.3 98.69h2.3v1.30h-2.3zM202.2 99.69h4.3v1.30h-4.3zM232.3 99.69h4.3v1.30h-4.3zM220.3 100.69h4.3v1.30h-4.3zM228.3 100.69h4.3v1.30h-4.3zM192.2 101.69h2.3v1.30h-2.3zM198.2 101.69h8.3v1.30h-8.3zM220.3 101.69h4.3v1.30h-4.3zM190.2 102.69h4.3v1.30h-4.3zM196.2 102.69h10.3v1.30h-10.3zM210.2 102.69h4.3v1.30h-4.3zM216.2 102.69h4.3v1.30h-4.3zM190.2 103.69h2.3v1.30h-2.3zM194.2 103.69h2.3v1.30h-2.3zM206.2 103.69h4.3v1.30h-4.3zM192.2 104.68h2.3v1.30h-2.3zM196.2 104.68h10.3v1.30h-10.3zM214.2 104.68h10.3v1.30h-10.3zM194.2 105.68h4.3v1.30h-4.3zM204.2 105.68h2.3v1.30h-2.3zM230.3 105.68h2.3v1.30h-2.3zM194.2 106.68h4.3v1.30h-4.3zM212.2 106.68h4.3v1.30h-4.3zM222.3 106.68h4.3v1.30h-4.3zM196.2 107.68h6.3v1.30h-6.3zM222.3 107.68h2.3v1.30h-2.3zM218.2 108.68h6.3v1.30h-6.3zM192.2 109.67h6.3v1.30h-6.3zM200.2 109.67h6.3v1.30h-6.3zM216.2 109.67h4.3v1.30h-4.3zM200.2 110.67h6.3v1.30h-6.3zM212.2 110.67h10.3v1.30h-10.3zM224.3 110.67h2.3v1.30h-2.3zM194.2 111.67h4.3v1.30h-4.3zM222.3 111.67h4.3v1.30h-4.3zM190.2 112.67h4.3v1.30h-4.3zM208.2 112.67h6.3v1.30h-6.3zM216.2 112.67h4.3v1.30h-4.3zM190.2 113.67h4.3v1.30h-4.3zM196.2 113.67h4.3v1.30h-4.3zM206.2 113.67h8.3v1.30h-8.3zM216.2 113.67h4.3v1.30h-4.3zM224.3 113.67h4.3v1.30h-4.3zM194.2 114.66h2.3v1.30h-2.3zM224.3 114.66h6.3v1.30h-6.3zM194.2 115.66h12.3v1.30h-12.3zM212.2 115.66h2.3v1.30h-2.3zM202.2 116.66h4.3v1.30h-4.3zM216.2 116.66h8.3v1.30h-8.3zM228.3 116.66h4.3v1.30h-4.3zM194.2 117.66h4.3v1.30h-4.3zM214.2 117.66h2.3v1.30h-2.3zM220.3 117.66h6.3v1.30h-6.3zM228.3 117.66h4.3v1.30h-4.3zM194.2 118.66h4.3v1.30h-4.3zM204.2 118.66h2.3v1.30h-2.3zM212.2 118.66h4.3v1.30h-4.3zM218.2 118.66h4.3v1.30h-4.3zM222.3 119.65h10.3v1.30h-10.3zM200.2 120.65h8.3v1.30h-8.3zM210.2 120.65h6.3v1.30h-6.3zM212.2 121.65h4.3v1.30h-4.3zM230.3 121.65h2.3v1.30h-2.3zM218.2 122.65h4.3v1.30h-4.3zM212.2 123.65h4.3v1.30h-4.3zM218.2 123.65h2.3v1.30h-2.3zM200.2 124.64h8.3v1.30h-8.3zM216.2 124.64h2.3v1.30h-2.3zM188.2 125.64h4.3v1.30h-4.3zM188.2 126.64h2.3v1.30h-2.3zM206.2 126.64h2.3v1.30h-2.3zM212.2 126.64h4.3v1.30h-4.3zM214.2 127.64h2.3v1.30h-2.3zM226.3 127.64h2.3v1.30h-2.3zM230.3 127.64h2.3v1.30h-2.3zM188.2 128.64h4.3v1.30h-4.3zM208.2 128.64h6.3v1.30h-6.3zM198.2 130.63h4.3v1.30h-4.3zM204.2 130.63h8.3v1.30h-8.3zM198.2 131.63h6.3v1.30h-6.3zM212.2 131.63h4.3v1.30h-4.3zM230.3 131.63h2.3v1.30h-2.3zM192.2 132.63h8.3v1.30h-8.3zM208.2 132.63h2.3v1.30h-2.3zM224.3 132.63h4.3v1.30h-4.3zM188.2 133.63h2.3v1.30h-2.3zM206.2 133.63h4.3v1.30h-4.3zM224.3 133.63h4.3v1.30h-4.3zM188.2 134.62h6.3v1.30h-6.3zM198.2 134.62h6.3v1.30h-6.3zM212.2 134.62h10.3v1.30h-10.3zM224.3 134.62h8.3v1.30h-8.3zM210.2 135.62h2.3v1.30h-2.3zM214.2 135.62h2.3v1.30h-2.3zM222.3 135.62h8.3v1.30h-8.3zM202.2 136.62h4.3v1.30h-4.3zM228.3 136.62h4.3v1.30h-4.3zM206.2 137.62h4.3v1.30h-4.3zM188.2 138.62h2.3v1.30h-2.3zM224.3 138.62h4.3v1.30h-4.3zM194.2 139.61h4.3v1.30h-4.3zM206.2 139.61h2.3v1.30h-2.3zM224.3 139.61h2.3v1.30h-2.3zM194.2 140.61h4.3v1.30h-4.3zM214.2 140.61h2.3v1.30h-2.3zM220.3 140.61h2.3v1.30h-2.3zM192.2 141.61h6.3v1.30h-6.3zM200.2 141.61h4.3v1.30h-4.3zM206.2 141.61h6.3v1.30h-6.3zM220.3 141.61h2.3v1.30h-2.3zM230.3 141.61h2.3v1.30h-2.3zM214.2 142.61h2.3v1.30h-2.3zM190.2 143.61h2.3v1.30h-2.3zM194.2 143.61h4.3v1.30h-4.3zM202.2 143.61h4.3v1.30h-4.3zM230.3 143.61h2.3v1.30h-2.3zM194.2 144.61h6.3v1.30h-6.3zM214.2 144.61h6.3v1.30h-6.3zM224.3 144.61h8.3v1.30h-8.3zM188.2 145.60h2.3v1.30h-2.3zM194.2 145.60h2.3v1.30h-2.3zM202.2 145.60h4.3v1.30h-4.3zM214.2 145.60h2.3v1.30h-2.3zM230.3 145.60h2.3v1.30h-2.3zM198.2 146.60h4.3v1.30h-4.3zM212.2 146.60h4.3v1.30h-4.3zM224.3 146.60h6.3v1.30h-6.3zM188.2 147.60h2.3v1.30h-2.3zM192.2 147.60h2.3v1.30h-2.3zM212.2 147.60h2.3v1.30h-2.3zM192.2 148.60h2.3v1.30h-2.3zM224.3 148.60h8.3v1.30h-8.3zM192.2 149.60h14.3v1.30h-14.3zM214.2 150.59h6.3v1.30h-6.3zM224.3 151.59h4.3v1.30h-4.3zM194.2 152.59h2.3v1.30h-2.3zM198.2 152.59h2.3v1.30h-2.3zM212.2 152.59h4.3v1.30h-4.3zM222.3 152.59h2.3v1.30h-2.3zM226.3 152.59h4.3v1.30h-4.3zM216.2 153.59h4.3v1.30h-4.3zM210.2 154.59h14.3v1.30h-14.3zM212.2 155.58h2.3v1.30h-2.3zM190.2 156.58h2.3v1.30h-2.3zM194.2 156.58h12.3v1.30h-12.3zM214.2 156.58h2.3v1.30h-2.3zM218.2 156.58h12.3v1.30h-12.3zM190.2 157.58h6.3v1.30h-6.3zM216.2 157.58h16.3v1.30h-16.3zM192.2 158.58h4.3v1.30h-4.3zM216.2 158.58h6.3v1.30h-6.3zM224.3 158.58h6.3v1.30h-6.3zM206.2 159.58h4.3v1.30h-4.3zM212.2 159.58h2.3v1.30h-2.3zM216.2 159.58h6.3v1.30h-6.3zM224.3 159.58h4.3v1.30h-4.3zM188.2 160.57h2.3v1.30h-2.3zM206.2 160.57h6.3v1.30h-6.3zM188.2 161.57h2.3v1.30h-2.3zM194.2 161.57h2.3v1.30h-2.3zM194.2 162.57h4.3v1.30h-4.3zM206.2 162.57h8.3v1.30h-8.3zM216.2 162.57h2.3v1.30h-2.3zM200.2 163.57h6.3v1.30h-6.3zM216.2 163.57h2.3v1.30h-2.3zM226.3 163.57h2.3v1.30h-2.3zM214.2 164.57h2.3v1.30h-2.3zM220.3 164.57h6.3v1.30h-6.3zM208.2 165.56h4.3v1.30h-4.3zM220.3 165.56h4.3v1.30h-4.3zM192.2 166.56h10.3v1.30h-10.3zM216.2 166.56h2.3v1.30h-2.3zM192.2 167.56h4.3v1.30h-4.3zM224.3 167.56h2.3v1.30h-2.3zM206.2 168.56h2.3v1.30h-2.3zM194.2 169.56h6.3v1.30h-6.3zM202.2 169.56h2.3v1.30h-2.3zM224.3 169.56h4.3v1.30h-4.3zM230.3 169.56h2.3v1.30h-2.3zM222.3 170.55h10.3v1.30h-10.3zM226.3 171.55h2.3v1.30h-2.3zM196.2 173.55h4.3v1.30h-4.3zM212.2 173.55h4.3v1.30h-4.3zM190.2 175.54h4.3v1.30h-4.3zM196.2 175.54h2.3v1.30h-2.3zM190.2 176.54h14.3v1.30h-14.3zM208.2 176.54h16.3v1.30h-16.3zM226.3 176.54h4.3v1.30h-4.3zM200.2 177.54h2.3v1.30h-2.3zM204.2 177.54h2.3v1.30h-2.3zM210.2 177.54h4.3v1.30h-4.3zM226.3 177.54h6.3v1.30h-6.3zM202.2 178.54h14.3v1.30h-14.3zM220.3 178.54h4.3v1.30h-4.3zM230.3 178.54h2.3v1.30h-2.3zM192.2 179.54h2.3v1.30h-2.3zM198.2 179.54h8.3v1.30h-8.3zM208.2 179.54h8.3v1.30h-8.3zM220.3 179.54h4.3v1.30h-4.3zM204.2 180.54h2.3v1.30h-2.3zM222.3 180.54h2.3v1.30h-2.3zM202.2 181.53h4.3v1.30h-4.3zM214.2 182.53h4.3v1.30h-4.3zM228.3 182.53h2.3v1.30h-2.3zM198.2 183.53h6.3v1.30h-6.3zM206.2 183.53h4.3v1.30h-4.3zM192.2 184.53h2.3v1.30h-2.3zM198.2 184.53h4.3v1.30h-4.3zM206.2 184.53h10.3v1.30h-10.3zM220.3 184.53h6.3v1.30h-6.3zM188.2 185.53h6.3v1.30h-6.3zM206.2 185.53h2.3v1.30h-2.3zM216.2 185.53h2.3v1.30h-2.3zM206.2 186.52h6.3v1.30h-6.3zM216.2 186.52h4.3v1.30h-4.3zM192.2 187.52h4.3v1.30h-4.3zM198.2 187.52h6.3v1.30h-6.3zM206.2 187.52h4.3v1.30h-4.3zM216.2 187.52h6.3v1.30h-6.3zM204.2 188.52h8.3v1.30h-8.3zM220.3 188.52h4.3v1.30h-4.3zM224.3 189.52h2.3v1.30h-2.3zM190.2 190.52h4.3v1.30h-4.3zM216.2 190.52h2.3v1.30h-2.3zM206.2 191.51h4.3v1.30h-4.3zM198.2 193.51h6.3v1.30h-6.3zM190.2 194.51h8.3v1.30h-8.3zM206.2 194.51h8.3v1.30h-8.3zM224.3 194.51h4.3v1.30h-4.3zM188.2 195.51h16.3v1.30h-16.3zM206.2 195.51h2.3v1.30h-2.3zM192.2 196.50h8.3v1.30h-8.3zM206.2 196.50h2.3v1.30h-2.3zM226.3 196.50h6.3v1.30h-6.3zM200.2 197.50h6.3v1.30h-6.3zM212.2 197.50h8.3v1.30h-8.3z"/>
<path fill="#f7cac4" d="M222.3 44.80h2.3v1.30h-2.3zM190.2 45.80h2.3v1.30h-2.3zM202.2 45.80h4.3v1.30h-4.3zM222.3 45.80h6.3v1.30h-6.3zM196.2 46.80h10.3v1.30h-10.3zM230.3 46.80h2.3v1.30h-2.3zM190.2 47.79h4.3v1.30h-4.3zM204.2 47.79h2.3v1.30h-2.3zM228.3 47.79h8.3v1.30h-8.3zM232.3 48.79h2.3v1.30h-2.3zM226.3 50.79h6.3v1.30h-6.3zM224.3 51.79h4.3v1.30h-4.3zM208.2 53.78h2.3v1.30h-2.3zM212.2 53.78h4.3v1.30h-4.3zM222.3 53.78h10.3v1.30h-10.3zM226.3 54.78h6.3v1.30h-6.3zM222.3 55.78h6.3v1.30h-6.3zM214.2 56.78h2.3v1.30h-2.3zM220.3 56.78h2.3v1.30h-2.3zM228.3 56.78h4.3v1.30h-4.3zM210.2 57.77h4.3v1.30h-4.3zM216.2 57.77h8.3v1.30h-8.3zM194.2 58.77h2.3v1.30h-2.3zM198.2 58.77h6.3v1.30h-6.3zM214.2 58.77h2.3v1.30h-2.3zM220.3 58.77h4.3v1.30h-4.3zM192.2 59.77h2.3v1.30h-2.3zM212.2 59.77h4.3v1.30h-4.3zM230.3 59.77h2.3v1.30h-2.3zM234.3 63.76h4.3v1.30h-4.3zM226.3 64.76h6.3v1.30h-6.3zM218.2 65.76h4.3v1.30h-4.3zM222.3 66.76h10.3v1.30h-10.3zM230.3 67.76h2.3v1.30h-2.3zM230.3 68.75h2.3v1.30h-2.3zM230.3 69.75h2.3v1.30h-2.3zM204.2 70.75h2.3v1.30h-2.3zM232.3 70.75h4.3v1.30h-4.3zM226.3 71.75h2.3v1.30h-2.3zM192.2 73.74h2.3v1.30h-2.3zM202.2 75.74h4.3v1.30h-4.3zM202.2 76.74h4.3v1.30h-4.3zM220.3 78.73h2.3v1.30h-2.3zM232.3 79.73h2.3v1.30h-2.3zM242.3 80.73h2.3v1.30h-2.3zM246.3 80.73h4.3v1.30h-4.3zM214.2 81.73h2.3v1.30h-2.3zM224.3 81.73h8.3v1.30h-8.3zM210.2 82.73h6.3v1.30h-6.3zM218.2 82.73h2.3v1.30h-2.3zM222.3 82.73h8.3v1.30h-8.3zM198.2 83.72h12.3v1.30h-12.3zM202.2 84.72h4.3v1.30h-4.3zM212.2 84.72h6.3v1.30h-6.3zM224.3 84.72h2.3v1.30h-2.3zM232.3 84.72h2.3v1.30h-2.3zM190.2 85.72h4.3v1.30h-4.3zM202.2 85.72h4.3v1.30h-4.3zM216.2 85.72h6.3v1.30h-6.3zM224.3 85.72h8.3v1.30h-8.3zM234.3 85.72h2.3v1.30h-2.3zM214.2 86.72h2.3v1.30h-2.3zM230.3 86.72h2.3v1.30h-2.3zM194.2 89.71h4.3v1.30h-4.3zM198.2 90.71h8.3v1.30h-8.3zM224.3 90.71h6.3v1.30h-6.3zM194.2 91.71h6.3v1.30h-6.3zM204.2 91.71h2.3v1.30h-2.3zM222.3 91.71h4.3v1.30h-4.3zM228.3 91.71h2.3v1.30h-2.3zM196.2 92.71h10.3v1.30h-10.3zM208.2 92.71h6.3v1.30h-6.3zM216.2 92.71h2.3v1.30h-2.3zM224.3 92.71h6.3v1.30h-6.3zM214.2 93.70h2.3v1.30h-2.3zM218.2 93.70h2.3v1.30h-2.3zM222.3 93.70h4.3v1.30h-4.3zM230.3 93.70h2.3v1.30h-2.3zM194.2 94.70h2.3v1.30h-2.3zM202.2 94.70h2.3v1.30h-2.3zM206.2 94.70h10.3v1.30h-10.3zM220.3 94.70h4.3v1.30h-4.3zM228.3 94.70h4.3v1.30h-4.3zM198.2 95.70h2.3v1.30h-2.3zM204.2 95.70h2.3v1.30h-2.3zM222.3 96.70h2.3v1.30h-2.3zM228.3 96.70h2.3v1.30h-2.3zM200.2 97.70h4.3v1.30h-4.3zM216.2 97.70h6.3v1.30h-6.3zM212.2 98.69h4.3v1.30h-4.3zM236.3 99.69h2.3v1.30h-2.3zM224.3 101.69h4.3v1.30h-4.3zM206.2 102.69h4.3v1.30h-4.3zM214.2 102.69h2.3v1.30h-2.3zM220.3 102.69h8.3v1.30h-8.3zM192.2 103.69h2.3v1.30h-2.3zM210.2 103.69h2.3v1.30h-2.3zM216.2 103.69h6.3v1.30h-6.3zM224.3 104.68h8.3v1.30h-8.3zM198.2 106.68h8.3v1.30h-8.3zM226.3 106.68h6.3v1.30h-6.3zM202.2 107.68h4.3v1.30h-4.3zM224.3 107.68h8.3v1.30h-8.3zM194.2 108.68h6.3v1.30h-6.3zM224.3 108.68h4.3v1.30h-4.3zM198.2 109.67h2.3v1.30h-2.3zM220.3 109.67h12.3v1.30h-12.3zM222.3 110.67h2.3v1.30h-2.3zM226.3 110.67h2.3v1.30h-2.3zM198.2 111.67h8.3v1.30h-8.3zM226.3 111.67h4.3v1.30h-4.3zM194.2 112.67h12.3v1.30h-12.3zM214.2 112.67h2.3v1.30h-2.3zM220.3 112.67h6.3v1.30h-6.3zM200.2 113.67h6.3v1.30h-6.3zM214.2 113.67h2.3v1.30h-2.3zM220.3 113.67h2.3v1.30h-2.3zM228.3 113.67h4.3v1.30h-4.3zM196.2 114.66h4.3v1.30h-4.3zM208.2 114.66h12.3v1.30h-12.3zM230.3 114.66h2.3v1.30h-2.3zM214.2 115.66h6.3v1.30h-6.3zM198.2 117.66h8.3v1.30h-8.3zM226.3 117.66h2.3v1.30h-2.3zM198.2 118.66h6.3v1.30h-6.3zM222.3 118.66h6.3v1.30h-6.3zM208.2 120.65h2.3v1.30h-2.3zM222.3 122.65h6.3v1.30h-6.3zM220.3 123.65h4.3v1.30h-4.3zM188.2 124.64h4.3v1.30h-4.3zM208.2 124.64h6.3v1.30h-6.3zM218.2 124.64h4.3v1.30h-4.3zM206.2 125.64h2.3v1.30h-2.3zM226.3 125.64h6.3v1.30h-6.3zM190.2 126.64h12.3v1.30h-12.3zM204.2 126.64h2.3v1.30h-2.3zM216.2 126.64h6.3v1.30h-6.3zM224.3 126.64h4.3v1.30h-4.3zM216.2 127.64h8.3v1.30h-8.3zM192.2 128.64h10.3v1.30h-10.3zM204.2 128.64h2.3v1.30h-2.3zM214.2 128.64h4.3v1.30h-4.3zM224.3 128.64h6.3v1.30h-6.3zM206.2 129.63h14.3v1.30h-14.3zM188.2 130.63h4.3v1.30h-4.3zM212.2 130.63h2.3v1.30h-2.3zM216.2 130.63h2.3v1.30h-2.3zM224.3 130.63h4.3v1.30h-4.3zM204.2 131.63h2.3v1.30h-2.3zM216.2 131.63h2.3v1.30h-2.3zM200.2 132.63h4.3v1.30h-4.3zM216.2 132.63h6.3v1.30h-6.3zM228.3 132.63h4.3v1.30h-4.3zM190.2 133.63h4.3v1.30h-4.3zM210.2 133.63h6.3v1.30h-6.3zM228.3 133.63h4.3v1.30h-4.3zM204.2 134.62h2.3v1.30h-2.3zM222.3 134.62h2.3v1.30h-2.3zM230.3 135.62h2.3v1.30h-2.3zM194.2 137.62h4.3v1.30h-4.3zM224.3 137.62h2.3v1.30h-2.3zM190.2 138.62h2.3v1.30h-2.3zM194.2 138.62h4.3v1.30h-4.3zM206.2 138.62h2.3v1.30h-2.3zM216.2 138.62h8.3v1.30h-8.3zM228.3 138.62h4.3v1.30h-4.3zM188.2 139.61h4.3v1.30h-4.3zM198.2 139.61h8.3v1.30h-8.3zM208.2 139.61h4.3v1.30h-4.3zM216.2 139.61h2.3v1.30h-2.3zM226.3 139.61h2.3v1.30h-2.3zM198.2 140.61h8.3v1.30h-8.3zM222.3 140.61h2.3v1.30h-2.3zM204.2 141.61h2.3v1.30h-2.3zM212.2 141.61h4.3v1.30h-4.3zM222.3 141.61h2.3v1.30h-2.3zM192.2 143.61h2.3v1.30h-2.3zM200.2 144.61h6.3v1.30h-6.3zM220.3 144.61h4.3v1.30h-4.3zM190.2 145.60h4.3v1.30h-4.3zM196.2 145.60h6.3v1.30h-6.3zM202.2 146.60h4.3v1.30h-4.3zM216.2 146.60h6.3v1.30h-6.3zM230.3 146.60h2.3v1.30h-2.3zM190.2 147.60h2.3v1.30h-2.3zM194.2 147.60h10.3v1.30h-10.3zM214.2 147.60h16.3v1.30h-16.3zM194.2 148.60h10.3v1.30h-10.3zM220.3 149.60h2.3v1.30h-2.3zM224.3 149.60h6.3v1.30h-6.3zM220.3 150.59h12.3v1.30h-12.3zM228.3 151.59h4.3v1.30h-4.3zM196.2 152.59h2.3v1.30h-2.3zM230.3 152.59h2.3v1.30h-2.3zM220.3 153.59h8.3v1.30h-8.3zM224.3 154.59h4.3v1.30h-4.3zM214.2 155.58h4.3v1.30h-4.3zM226.3 155.58h2.3v1.30h-2.3zM192.2 156.58h2.3v1.30h-2.3zM230.3 156.58h2.3v1.30h-2.3zM196.2 157.58h8.3v1.30h-8.3zM196.2 158.58h8.3v1.30h-8.3zM206.2 158.58h8.3v1.30h-8.3zM222.3 158.58h2.3v1.30h-2.3zM230.3 158.58h2.3v1.30h-2.3zM188.2 159.58h4.3v1.30h-4.3zM202.2 159.58h4.3v1.30h-4.3zM214.2 159.58h2.3v1.30h-2.3zM222.3 159.58h2.3v1.30h-2.3zM228.3 159.58h4.3v1.30h-4.3zM190.2 160.57h8.3v1.30h-8.3zM212.2 160.57h8.3v1.30h-8.3zM224.3 160.57h6.3v1.30h-6.3zM190.2 161.57h4.3v1.30h-4.3zM196.2 161.57h6.3v1.30h-6.3zM206.2 161.57h2.3v1.30h-2.3zM218.2 161.57h2.3v1.30h-2.3zM224.3 161.57h4.3v1.30h-4.3zM198.2 162.57h2.3v1.30h-2.3zM214.2 162.57h2.3v1.30h-2.3zM218.2 162.57h8.3v1.30h-8.3zM218.2 163.57h6.3v1.30h-6.3zM228.3 163.57h4.3v1.30h-4.3zM226.3 164.57h6.3v1.30h-6.3zM212.2 165.56h4.3v1.30h-4.3zM224.3 165.56h6.3v1.30h-6.3zM202.2 166.56h8.3v1.30h-8.3zM218.2 166.56h8.3v1.30h-8.3zM196.2 167.56h8.3v1.30h-8.3zM216.2 167.56h2.3v1.30h-2.3zM226.3 167.56h6.3v1.30h-6.3zM194.2 168.56h12.3v1.30h-12.3zM208.2 168.56h6.3v1.30h-6.3zM216.2 168.56h4.3v1.30h-4.3zM228.3 168.56h2.3v1.30h-2.3zM200.2 169.56h2.3v1.30h-2.3zM204.2 169.56h2.3v1.30h-2.3zM228.3 169.56h2.3v1.30h-2.3zM224.3 172.55h4.3v1.30h-4.3zM200.2 173.55h6.3v1.30h-6.3zM216.2 173.55h2.3v1.30h-2.3zM188.2 174.55h6.3v1.30h-6.3zM212.2 174.55h6.3v1.30h-6.3zM224.3 174.55h8.3v1.30h-8.3zM198.2 175.54h8.3v1.30h-8.3zM224.3 175.54h2.3v1.30h-2.3zM204.2 176.54h2.3v1.30h-2.3zM202.2 177.54h2.3v1.30h-2.3zM214.2 177.54h4.3v1.30h-4.3zM224.3 179.54h2.3v1.30h-2.3zM224.3 180.54h2.3v1.30h-2.3zM216.2 181.53h2.3v1.30h-2.3zM224.3 181.53h2.3v1.30h-2.3zM228.3 181.53h2.3v1.30h-2.3zM218.2 182.53h6.3v1.30h-6.3zM230.3 182.53h2.3v1.30h-2.3zM188.2 183.53h4.3v1.30h-4.3zM194.2 183.53h4.3v1.30h-4.3zM204.2 183.53h2.3v1.30h-2.3zM210.2 183.53h10.3v1.30h-10.3zM224.3 183.53h6.3v1.30h-6.3zM202.2 184.53h4.3v1.30h-4.3zM226.3 184.53h4.3v1.30h-4.3zM194.2 185.53h10.3v1.30h-10.3zM208.2 185.53h4.3v1.30h-4.3zM218.2 185.53h4.3v1.30h-4.3zM194.2 186.52h2.3v1.30h-2.3zM212.2 186.52h4.3v1.30h-4.3zM220.3 186.52h10.3v1.30h-10.3zM196.2 187.52h2.3v1.30h-2.3zM204.2 187.52h2.3v1.30h-2.3zM210.2 187.52h4.3v1.30h-4.3zM222.3 187.52h2.3v1.30h-2.3zM212.2 188.52h4.3v1.30h-4.3zM218.2 190.52h4.3v1.30h-4.3zM224.3 190.52h2.3v1.30h-2.3zM188.2 191.51h2.3v1.30h-2.3zM194.2 191.51h8.3v1.30h-8.3zM210.2 191.51h8.3v1.30h-8.3zM188.2 192.51h4.3v1.30h-4.3zM194.2 192.51h4.3v1.30h-4.3zM216.2 192.51h2.3v1.30h-2.3zM204.2 193.51h2.3v1.30h-2.3zM216.2 193.51h6.3v1.30h-6.3zM224.3 193.51h6.3v1.30h-6.3zM198.2 194.51h8.3v1.30h-8.3zM214.2 194.51h8.3v1.30h-8.3zM228.3 194.51h2.3v1.30h-2.3zM204.2 195.51h2.3v1.30h-2.3zM208.2 195.51h4.3v1.30h-4.3zM224.3 195.51h8.3v1.30h-8.3zM200.2 196.50h6.3v1.30h-6.3zM208.2 196.50h14.3v1.30h-14.3zM220.3 197.50h4.3v1.30h-4.3z"/>
<path fill="#ffffff" d="M232.3 44.80h2.3v1.30h-2.3zM194.2 45.80h4.3v1.30h-4.3zM238.3 45.80h12.3v1.30h-12.3zM236.3 46.80h14.3v1.30h-14.3zM240.3 47.79h2.3v1.30h-2.3zM246.3 47.79h4.3v1.30h-4.3zM240.3 48.79h4.3v1.30h-4.3zM234.3 49.79h4.3v1.30h-4.3zM240.3 49.79h6.3v1.30h-6.3zM244.3 50.79h2.3v1.30h-2.3zM230.3 51.79h2.3v1.30h-2.3zM238.3 51.79h4.3v1.30h-4.3zM246.3 51.79h4.3v1.30h-4.3zM214.2 52.78h2.3v1.30h-2.3zM220.3 52.78h2.3v1.30h-2.3zM230.3 52.78h2.3v1.30h-2.3zM238.3 52.78h6.3v1.30h-6.3zM232.3 53.78h4.3v1.30h-4.3zM242.3 53.78h4.3v1.30h-4.3zM248.3 53.78h2.3v1.30h-2.3zM240.3 56.78h6.3v1.30h-6.3zM244.3 57.77h6.3v1.30h-6.3zM236.3 60.77h2.3v1.30h-2.3zM240.3 60.77h10.3v1.30h-10.3zM232.3 61.77h2.3v1.30h-2.3zM238.3 61.77h12.3v1.30h-12.3zM240.3 62.76h2.3v1.30h-2.3zM244.3 62.76h6.3v1.30h-6.3zM238.3 63.76h12.3v1.30h-12.3zM206.2 64.76h2.3v1.30h-2.3zM210.2 64.76h4.3v1.30h-4.3zM236.3 64.76h2.3v1.30h-2.3zM232.3 65.76h4.3v1.30h-4.3zM244.3 65.76h2.3v1.30h-2.3zM248.3 65.76h2.3v1.30h-2.3zM232.3 66.76h4.3v1.30h-4.3zM238.3 66.76h2.3v1.30h-2.3zM244.3 66.76h6.3v1.30h-6.3zM234.3 67.76h4.3v1.30h-4.3zM240.3 67.76h8.3v1.30h-8.3zM232.3 68.75h4.3v1.30h-4.3zM240.3 68.75h10.3v1.30h-10.3zM232.3 69.75h2.3v1.30h-2.3zM238.3 69.75h6.3v1.30h-6.3zM240.3 70.75h10.3v1.30h-10.3zM274.3 70.75h2.3v1.30h-2.3zM232.3 71.75h2.3v1.30h-2.3zM238.3 71.75h8.3v1.30h-8.3zM236.3 72.75h2.3v1.30h-2.3zM232.3 73.74h4.3v1.30h-4.3zM232.3 74.74h4.3v1.30h-4.3zM238.3 74.74h12.3v1.30h-12.3zM192.2 75.74h2.3v1.30h-2.3zM196.2 75.74h2.3v1.30h-2.3zM234.3 75.74h2.3v1.30h-2.3zM238.3 75.74h4.3v1.30h-4.3zM244.3 75.74h2.3v1.30h-2.3zM244.3 76.74h4.3v1.30h-4.3zM232.3 77.74h2.3v1.30h-2.3zM236.3 78.73h2.3v1.30h-2.3zM238.3 79.73h2.3v1.30h-2.3zM242.3 79.73h8.3v1.30h-8.3zM234.3 80.73h4.3v1.30h-4.3zM234.3 81.73h2.3v1.30h-2.3zM204.2 82.73h2.3v1.30h-2.3zM238.3 82.73h6.3v1.30h-6.3zM230.3 83.72h6.3v1.30h-6.3zM228.3 84.72h4.3v1.30h-4.3zM236.3 84.72h4.3v1.30h-4.3zM242.3 84.72h2.3v1.30h-2.3zM238.3 85.72h10.3v1.30h-10.3zM236.3 87.72h2.3v1.30h-2.3zM236.3 88.71h2.3v1.30h-2.3zM222.3 89.71h2.3v1.30h-2.3zM232.3 89.71h4.3v1.30h-4.3zM248.3 89.71h2.3v1.30h-2.3zM256.3 89.71h2.3v1.30h-2.3zM238.3 90.71h6.3v1.30h-6.3zM232.3 91.71h18.3v1.30h-18.3zM222.3 92.71h2.3v1.30h-2.3zM236.3 92.71h14.3v1.30h-14.3zM232.3 93.70h4.3v1.30h-4.3zM238.3 93.70h12.3v1.30h-12.3zM196.2 94.70h2.3v1.30h-2.3zM200.2 94.70h2.3v1.30h-2.3zM238.3 94.70h6.3v1.30h-6.3zM232.3 95.70h2.3v1.30h-2.3zM238.3 96.70h12.3v1.30h-12.3zM232.3 97.70h2.3v1.30h-2.3zM248.3 97.70h2.3v1.30h-2.3zM236.3 98.69h2.3v1.30h-2.3zM238.3 99.69h2.3v1.30h-2.3zM206.2 101.69h6.3v1.30h-6.3zM214.2 101.69h2.3v1.30h-2.3zM224.3 103.69h2.3v1.30h-2.3zM276.3 108.68h2.3v1.30h-2.3zM230.3 110.67h2.3v1.30h-2.3zM222.3 114.66h2.3v1.30h-2.3zM226.3 120.65h2.3v1.30h-2.3zM230.3 120.65h2.3v1.30h-2.3zM224.3 123.65h2.3v1.30h-2.3zM228.3 123.65h4.3v1.30h-4.3zM224.3 124.64h8.3v1.30h-8.3zM192.2 125.64h6.3v1.30h-6.3zM218.2 125.64h4.3v1.30h-4.3zM222.3 128.64h2.3v1.30h-2.3zM200.2 129.63h2.3v1.30h-2.3zM230.3 129.63h2.3v1.30h-2.3zM222.3 130.63h2.3v1.30h-2.3zM236.3 135.62h2.3v1.30h-2.3zM200.2 137.62h2.3v1.30h-2.3zM204.2 137.62h2.3v1.30h-2.3zM218.2 137.62h6.3v1.30h-6.3zM228.3 137.62h4.3v1.30h-4.3zM214.2 139.61h2.3v1.30h-2.3zM228.3 139.61h10.3v1.30h-10.3zM216.2 145.60h12.3v1.30h-12.3zM222.3 151.59h2.3v1.30h-2.3zM208.2 152.59h2.3v1.30h-2.3zM190.2 153.59h6.3v1.30h-6.3zM202.2 153.59h2.3v1.30h-2.3zM204.2 157.58h8.3v1.30h-8.3zM214.2 157.58h2.3v1.30h-2.3zM204.2 160.57h2.3v1.30h-2.3zM204.2 167.56h2.3v1.30h-2.3zM208.2 167.56h2.3v1.30h-2.3zM212.2 167.56h4.3v1.30h-4.3zM234.3 171.55h2.3v1.30h-2.3zM250.3 171.55h4.3v1.30h-4.3zM258.3 171.55h2.3v1.30h-2.3zM252.3 172.55h2.3v1.30h-2.3zM222.3 173.55h10.3v1.30h-10.3zM274.3 173.55h2.3v1.30h-2.3zM200.2 174.55h12.3v1.30h-12.3zM214.2 175.54h2.3v1.30h-2.3zM220.3 175.54h2.3v1.30h-2.3zM230.3 176.54h2.3v1.30h-2.3zM280.3 178.54h2.3v1.30h-2.3zM230.3 179.54h2.3v1.30h-2.3zM220.3 181.53h4.3v1.30h-4.3zM302.4 184.53h2.3v1.30h-2.3zM226.3 185.53h2.3v1.30h-2.3zM230.3 185.53h2.3v1.30h-2.3zM230.3 187.52h2.3v1.30h-2.3zM216.2 188.52h4.3v1.30h-4.3zM226.3 188.52h2.3v1.30h-2.3zM230.3 188.52h2.3v1.30h-2.3zM226.3 189.52h4.3v1.30h-4.3zM224.3 191.51h6.3v1.30h-6.3zM202.2 192.51h4.3v1.30h-4.3zM222.3 192.51h2.3v1.30h-2.3zM226.3 192.51h6.3v1.30h-6.3zM206.2 193.51h6.3v1.30h-6.3zM214.2 195.51h10.3v1.30h-10.3z"/>
<path fill="#f4fafb" d="M234.3 44.80h4.3v1.30h-4.3zM244.3 44.80h6.3v1.30h-6.3zM258.3 44.80h2.3v1.30h-2.3zM288.4 46.80h6.3v1.30h-6.3zM238.3 47.79h2.3v1.30h-2.3zM242.3 47.79h4.3v1.30h-4.3zM300.4 47.79h2.3v1.30h-2.3zM304.4 47.79h2.3v1.30h-2.3zM308.4 47.79h2.3v1.30h-2.3zM238.3 48.79h2.3v1.30h-2.3zM244.3 48.79h6.3v1.30h-6.3zM238.3 49.79h2.3v1.30h-2.3zM246.3 49.79h4.3v1.30h-4.3zM198.2 50.79h2.3v1.30h-2.3zM238.3 50.79h6.3v1.30h-6.3zM246.3 50.79h4.3v1.30h-4.3zM232.3 52.78h4.3v1.30h-4.3zM236.3 53.78h6.3v1.30h-6.3zM246.3 53.78h2.3v1.30h-2.3zM238.3 54.78h12.3v1.30h-12.3zM238.3 55.78h12.3v1.30h-12.3zM238.3 56.78h2.3v1.30h-2.3zM246.3 56.78h4.3v1.30h-4.3zM294.4 56.78h2.3v1.30h-2.3zM300.4 56.78h2.3v1.30h-2.3zM304.4 56.78h2.3v1.30h-2.3zM232.3 57.77h2.3v1.30h-2.3zM238.3 57.77h6.3v1.30h-6.3zM232.3 58.77h2.3v1.30h-2.3zM240.3 58.77h2.3v1.30h-2.3zM232.3 59.77h2.3v1.30h-2.3zM248.3 59.77h2.3v1.30h-2.3zM238.3 60.77h2.3v1.30h-2.3zM234.3 61.77h4.3v1.30h-4.3zM252.3 63.76h4.3v1.30h-4.3zM274.3 63.76h2.3v1.30h-2.3zM278.3 63.76h2.3v1.30h-2.3zM282.4 63.76h2.3v1.30h-2.3zM286.4 63.76h2.3v1.30h-2.3zM238.3 64.76h12.3v1.30h-12.3zM268.3 64.76h2.3v1.30h-2.3zM236.3 65.76h8.3v1.30h-8.3zM246.3 65.76h2.3v1.30h-2.3zM238.3 67.76h2.3v1.30h-2.3zM248.3 67.76h2.3v1.30h-2.3zM236.3 68.75h4.3v1.30h-4.3zM234.3 69.75h4.3v1.30h-4.3zM244.3 69.75h2.3v1.30h-2.3zM262.3 70.75h4.3v1.30h-4.3zM268.3 70.75h6.3v1.30h-6.3zM234.3 71.75h2.3v1.30h-2.3zM246.3 71.75h4.3v1.30h-4.3zM238.3 72.75h2.3v1.30h-2.3zM246.3 72.75h8.3v1.30h-8.3zM236.3 73.74h14.3v1.30h-14.3zM236.3 74.74h2.3v1.30h-2.3zM302.4 74.74h2.3v1.30h-2.3zM190.2 75.74h2.3v1.30h-2.3zM194.2 75.74h2.3v1.30h-2.3zM198.2 75.74h2.3v1.30h-2.3zM236.3 75.74h2.3v1.30h-2.3zM242.3 75.74h2.3v1.30h-2.3zM246.3 75.74h4.3v1.30h-4.3zM232.3 76.74h12.3v1.30h-12.3zM248.3 76.74h2.3v1.30h-2.3zM234.3 77.74h2.3v1.30h-2.3zM238.3 77.74h10.3v1.30h-10.3zM208.2 78.73h10.3v1.30h-10.3zM246.3 78.73h4.3v1.30h-4.3zM236.3 81.73h2.3v1.30h-2.3zM244.3 82.73h6.3v1.30h-6.3zM212.2 83.72h4.3v1.30h-4.3zM218.2 83.72h4.3v1.30h-4.3zM224.3 83.72h2.3v1.30h-2.3zM236.3 83.72h14.3v1.30h-14.3zM240.3 84.72h2.3v1.30h-2.3zM244.3 84.72h6.3v1.30h-6.3zM280.3 84.72h4.3v1.30h-4.3zM296.4 84.72h4.3v1.30h-4.3zM302.4 84.72h2.3v1.30h-2.3zM248.3 85.72h2.3v1.30h-2.3zM238.3 86.72h12.3v1.30h-12.3zM210.2 87.72h10.3v1.30h-10.3zM238.3 87.72h6.3v1.30h-6.3zM246.3 87.72h4.3v1.30h-4.3zM290.4 87.72h2.3v1.30h-2.3zM294.4 87.72h4.3v1.30h-4.3zM238.3 88.71h12.3v1.30h-12.3zM218.2 89.71h2.3v1.30h-2.3zM236.3 89.71h12.3v1.30h-12.3zM250.3 89.71h6.3v1.30h-6.3zM258.3 89.71h2.3v1.30h-2.3zM192.2 90.71h6.3v1.30h-6.3zM244.3 90.71h6.3v1.30h-6.3zM286.4 91.71h4.3v1.30h-4.3zM292.4 91.71h4.3v1.30h-4.3zM250.3 92.71h2.3v1.30h-2.3zM286.4 92.71h10.3v1.30h-10.3zM236.3 93.70h2.3v1.30h-2.3zM198.2 94.70h2.3v1.30h-2.3zM244.3 94.70h6.3v1.30h-6.3zM252.3 94.70h2.3v1.30h-2.3zM234.3 95.70h16.3v1.30h-16.3zM264.3 95.70h6.3v1.30h-6.3zM232.3 96.70h2.3v1.30h-2.3zM234.3 97.70h14.3v1.30h-14.3zM256.3 97.70h2.3v1.30h-2.3zM238.3 98.69h12.3v1.30h-12.3zM208.2 99.69h2.3v1.30h-2.3zM212.2 99.69h8.3v1.30h-8.3zM246.3 99.69h2.3v1.30h-2.3zM212.2 101.69h2.3v1.30h-2.3zM216.2 101.69h2.3v1.30h-2.3zM256.3 101.69h2.3v1.30h-2.3zM226.3 103.69h6.3v1.30h-6.3zM258.3 105.68h2.3v1.30h-2.3zM258.3 106.68h2.3v1.30h-2.3zM250.3 107.68h2.3v1.30h-2.3zM264.3 107.68h2.3v1.30h-2.3zM268.3 107.68h2.3v1.30h-2.3zM268.3 108.68h4.3v1.30h-4.3zM278.3 108.68h2.3v1.30h-2.3zM262.3 110.67h8.3v1.30h-8.3zM258.3 114.66h2.3v1.30h-2.3zM252.3 116.66h2.3v1.30h-2.3zM260.3 117.66h4.3v1.30h-4.3zM258.3 119.65h2.3v1.30h-2.3zM224.3 120.65h2.3v1.30h-2.3zM228.3 120.65h2.3v1.30h-2.3zM250.3 120.65h4.3v1.30h-4.3zM256.3 120.65h4.3v1.30h-4.3zM250.3 121.65h10.3v1.30h-10.3zM234.3 122.65h2.3v1.30h-2.3zM238.3 122.65h4.3v1.30h-4.3zM250.3 124.64h2.3v1.30h-2.3zM254.3 124.64h6.3v1.30h-6.3zM290.4 124.64h2.3v1.30h-2.3zM198.2 125.64h4.3v1.30h-4.3zM222.3 125.64h2.3v1.30h-2.3zM254.3 125.64h4.3v1.30h-4.3zM268.3 125.64h2.3v1.30h-2.3zM274.3 125.64h2.3v1.30h-2.3zM202.2 129.63h4.3v1.30h-4.3zM254.3 130.63h4.3v1.30h-4.3zM278.3 130.63h2.3v1.30h-2.3zM258.3 131.63h2.3v1.30h-2.3zM234.3 135.62h2.3v1.30h-2.3zM240.3 135.62h6.3v1.30h-6.3zM254.3 135.62h4.3v1.30h-4.3zM234.3 136.62h2.3v1.30h-2.3zM250.3 140.61h4.3v1.30h-4.3zM308.4 142.61h2.3v1.30h-2.3zM232.3 144.61h2.3v1.30h-2.3zM238.3 144.61h6.3v1.30h-6.3zM228.3 145.60h2.3v1.30h-2.3zM236.3 146.60h4.3v1.30h-4.3zM244.3 146.60h4.3v1.30h-4.3zM268.3 148.60h2.3v1.30h-2.3zM278.3 150.59h2.3v1.30h-2.3zM282.4 150.59h4.3v1.30h-4.3zM220.3 151.59h2.3v1.30h-2.3zM252.3 151.59h6.3v1.30h-6.3zM250.3 152.59h10.3v1.30h-10.3zM196.2 153.59h6.3v1.30h-6.3zM240.3 158.58h6.3v1.30h-6.3zM290.4 159.58h2.3v1.30h-2.3zM256.3 162.57h2.3v1.30h-2.3zM266.3 163.57h2.3v1.30h-2.3zM190.2 164.57h4.3v1.30h-4.3zM258.3 164.57h2.3v1.30h-2.3zM206.2 167.56h2.3v1.30h-2.3zM210.2 167.56h2.3v1.30h-2.3zM250.3 170.55h10.3v1.30h-10.3zM292.4 170.55h2.3v1.30h-2.3zM228.3 171.55h6.3v1.30h-6.3zM236.3 171.55h2.3v1.30h-2.3zM254.3 171.55h4.3v1.30h-4.3zM250.3 172.55h2.3v1.30h-2.3zM254.3 172.55h6.3v1.30h-6.3zM252.3 173.55h2.3v1.30h-2.3zM268.3 173.55h6.3v1.30h-6.3zM276.3 173.55h2.3v1.30h-2.3zM236.3 174.55h4.3v1.30h-4.3zM242.3 174.55h2.3v1.30h-2.3zM222.3 175.54h2.3v1.30h-2.3zM232.3 175.54h2.3v1.30h-2.3zM232.3 176.54h2.3v1.30h-2.3zM236.3 176.54h4.3v1.30h-4.3zM252.3 177.54h2.3v1.30h-2.3zM258.3 178.54h2.3v1.30h-2.3zM270.3 178.54h4.3v1.30h-4.3zM276.3 178.54h4.3v1.30h-4.3zM252.3 179.54h8.3v1.30h-8.3zM250.3 180.54h10.3v1.30h-10.3zM250.3 181.53h6.3v1.30h-6.3zM282.4 181.53h2.3v1.30h-2.3zM280.3 183.53h2.3v1.30h-2.3zM262.3 184.53h6.3v1.30h-6.3zM300.4 184.53h2.3v1.30h-2.3zM304.4 184.53h2.3v1.30h-2.3zM250.3 187.52h2.3v1.30h-2.3zM230.3 189.52h2.3v1.30h-2.3zM268.3 189.52h4.3v1.30h-4.3zM276.3 189.52h2.3v1.30h-2.3zM252.3 190.52h2.3v1.30h-2.3zM230.3 191.51h2.3v1.30h-2.3zM274.3 192.51h4.3v1.30h-4.3zM270.3 194.51h12.3v1.30h-12.3z"/>
<path fill="#deeff3" d="M238.3 44.80h4.3v1.30h-4.3zM234.3 45.80h4.3v1.30h-4.3zM250.3 45.80h10.3v1.30h-10.3zM272.3 46.80h2.3v1.30h-2.3zM280.3 46.80h2.3v1.30h-2.3zM210.2 47.79h2.3v1.30h-2.3zM216.2 47.79h2.3v1.30h-2.3zM250.3 47.79h4.3v1.30h-4.3zM250.3 48.79h10.3v1.30h-10.3zM266.3 48.79h4.3v1.30h-4.3zM300.4 48.79h2.3v1.30h-2.3zM250.3 49.79h10.3v1.30h-10.3zM310.4 49.79h2.3v1.30h-2.3zM232.3 50.79h4.3v1.30h-4.3zM250.3 51.79h2.3v1.30h-2.3zM290.4 51.79h2.3v1.30h-2.3zM294.4 51.79h4.3v1.30h-4.3zM254.3 52.78h2.3v1.30h-2.3zM250.3 53.78h6.3v1.30h-6.3zM258.3 53.78h2.3v1.30h-2.3zM310.4 53.78h2.3v1.30h-2.3zM236.3 54.78h2.3v1.30h-2.3zM250.3 54.78h4.3v1.30h-4.3zM258.3 54.78h2.3v1.30h-2.3zM250.3 55.78h2.3v1.30h-2.3zM258.3 55.78h2.3v1.30h-2.3zM288.4 55.78h2.3v1.30h-2.3zM232.3 56.78h6.3v1.30h-6.3zM252.3 56.78h2.3v1.30h-2.3zM250.3 58.77h6.3v1.30h-6.3zM240.3 59.77h2.3v1.30h-2.3zM252.3 59.77h6.3v1.30h-6.3zM296.4 60.77h4.3v1.30h-4.3zM302.4 60.77h4.3v1.30h-4.3zM232.3 62.76h6.3v1.30h-6.3zM268.3 62.76h2.3v1.30h-2.3zM250.3 63.76h2.3v1.30h-2.3zM256.3 63.76h4.3v1.30h-4.3zM250.3 64.76h10.3v1.30h-10.3zM250.3 65.76h10.3v1.30h-10.3zM266.3 65.76h4.3v1.30h-4.3zM272.3 65.76h2.3v1.30h-2.3zM276.3 65.76h2.3v1.30h-2.3zM254.3 66.76h2.3v1.30h-2.3zM262.3 67.76h8.3v1.30h-8.3zM250.3 68.75h14.3v1.30h-14.3zM268.3 68.75h2.3v1.30h-2.3zM250.3 70.75h10.3v1.30h-10.3zM250.3 71.75h10.3v1.30h-10.3zM288.4 71.75h2.3v1.30h-2.3zM250.3 73.74h10.3v1.30h-10.3zM270.3 73.74h4.3v1.30h-4.3zM250.3 74.74h10.3v1.30h-10.3zM254.3 75.74h6.3v1.30h-6.3zM306.4 75.74h2.3v1.30h-2.3zM290.4 76.74h2.3v1.30h-2.3zM294.4 76.74h2.3v1.30h-2.3zM256.3 78.73h4.3v1.30h-4.3zM250.3 79.73h10.3v1.30h-10.3zM300.4 79.73h8.3v1.30h-8.3zM230.3 80.73h4.3v1.30h-4.3zM256.3 80.73h2.3v1.30h-2.3zM260.3 80.73h6.3v1.30h-6.3zM242.3 81.73h2.3v1.30h-2.3zM250.3 81.73h20.3v1.30h-20.3zM250.3 82.73h2.3v1.30h-2.3zM254.3 82.73h6.3v1.30h-6.3zM250.3 83.72h10.3v1.30h-10.3zM250.3 84.72h2.3v1.30h-2.3zM250.3 85.72h4.3v1.30h-4.3zM256.3 85.72h6.3v1.30h-6.3zM250.3 86.72h10.3v1.30h-10.3zM256.3 87.72h2.3v1.30h-2.3zM192.2 88.71h2.3v1.30h-2.3zM198.2 88.71h2.3v1.30h-2.3zM202.2 88.71h4.3v1.30h-4.3zM236.3 90.71h2.3v1.30h-2.3zM250.3 90.71h8.3v1.30h-8.3zM254.3 91.71h2.3v1.30h-2.3zM264.3 93.70h4.3v1.30h-4.3zM236.3 94.70h2.3v1.30h-2.3zM258.3 94.70h4.3v1.30h-4.3zM250.3 95.70h6.3v1.30h-6.3zM250.3 96.70h10.3v1.30h-10.3zM252.3 97.70h4.3v1.30h-4.3zM254.3 98.69h2.3v1.30h-2.3zM250.3 99.69h10.3v1.30h-10.3zM232.3 100.69h12.3v1.30h-12.3zM248.3 100.69h2.3v1.30h-2.3zM254.3 100.69h2.3v1.30h-2.3zM258.3 100.69h2.3v1.30h-2.3zM268.3 100.69h4.3v1.30h-4.3zM274.3 100.69h2.3v1.30h-2.3zM232.3 101.69h6.3v1.30h-6.3zM240.3 101.69h10.3v1.30h-10.3zM252.3 102.69h8.3v1.30h-8.3zM266.3 103.69h4.3v1.30h-4.3zM232.3 104.68h6.3v1.30h-6.3zM244.3 104.68h2.3v1.30h-2.3zM270.3 104.68h4.3v1.30h-4.3zM308.4 104.68h4.3v1.30h-4.3zM238.3 105.68h12.3v1.30h-12.3zM232.3 106.68h18.3v1.30h-18.3zM272.3 106.68h2.3v1.30h-2.3zM232.3 107.68h8.3v1.30h-8.3zM232.3 108.68h8.3v1.30h-8.3zM242.3 108.68h10.3v1.30h-10.3zM258.3 108.68h2.3v1.30h-2.3zM292.4 108.68h2.3v1.30h-2.3zM244.3 109.67h2.3v1.30h-2.3zM252.3 109.67h4.3v1.30h-4.3zM258.3 109.67h2.3v1.30h-2.3zM308.4 109.67h2.3v1.30h-2.3zM236.3 110.67h10.3v1.30h-10.3zM248.3 110.67h2.3v1.30h-2.3zM234.3 111.67h4.3v1.30h-4.3zM252.3 111.67h2.3v1.30h-2.3zM290.4 111.67h6.3v1.30h-6.3zM232.3 112.67h4.3v1.30h-4.3zM250.3 112.67h6.3v1.30h-6.3zM266.3 112.67h6.3v1.30h-6.3zM232.3 113.67h6.3v1.30h-6.3zM240.3 113.67h10.3v1.30h-10.3zM254.3 113.67h2.3v1.30h-2.3zM292.4 113.67h4.3v1.30h-4.3zM232.3 114.66h4.3v1.30h-4.3zM238.3 114.66h10.3v1.30h-10.3zM250.3 115.66h10.3v1.30h-10.3zM232.3 116.66h12.3v1.30h-12.3zM246.3 116.66h4.3v1.30h-4.3zM268.3 116.66h4.3v1.30h-4.3zM240.3 117.66h16.3v1.30h-16.3zM232.3 118.66h12.3v1.30h-12.3zM250.3 118.66h2.3v1.30h-2.3zM258.3 118.66h2.3v1.30h-2.3zM238.3 119.65h8.3v1.30h-8.3zM250.3 119.65h6.3v1.30h-6.3zM286.4 119.65h2.3v1.30h-2.3zM292.4 119.65h2.3v1.30h-2.3zM232.3 120.65h6.3v1.30h-6.3zM240.3 120.65h6.3v1.30h-6.3zM248.3 120.65h2.3v1.30h-2.3zM232.3 121.65h6.3v1.30h-6.3zM284.4 121.65h12.3v1.30h-12.3zM232.3 122.65h2.3v1.30h-2.3zM242.3 122.65h12.3v1.30h-12.3zM256.3 122.65h4.3v1.30h-4.3zM232.3 123.65h6.3v1.30h-6.3zM294.4 123.65h4.3v1.30h-4.3zM286.4 124.64h4.3v1.30h-4.3zM260.3 125.64h2.3v1.30h-2.3zM254.3 126.64h2.3v1.30h-2.3zM292.4 126.64h2.3v1.30h-2.3zM296.4 126.64h2.3v1.30h-2.3zM232.3 127.64h2.3v1.30h-2.3zM232.3 128.64h6.3v1.30h-6.3zM250.3 128.64h10.3v1.30h-10.3zM300.4 128.64h4.3v1.30h-4.3zM232.3 129.63h2.3v1.30h-2.3zM258.3 129.63h2.3v1.30h-2.3zM284.4 131.63h2.3v1.30h-2.3zM306.4 131.63h4.3v1.30h-4.3zM232.3 132.63h2.3v1.30h-2.3zM252.3 132.63h8.3v1.30h-8.3zM240.3 133.63h10.3v1.30h-10.3zM260.3 133.63h2.3v1.30h-2.3zM242.3 134.62h2.3v1.30h-2.3zM248.3 134.62h2.3v1.30h-2.3zM246.3 135.62h4.3v1.30h-4.3zM260.3 136.62h10.3v1.30h-10.3zM284.4 136.62h2.3v1.30h-2.3zM238.3 137.62h22.3v1.30h-22.3zM292.4 137.62h6.3v1.30h-6.3zM232.3 138.62h8.3v1.30h-8.3zM242.3 138.62h10.3v1.30h-10.3zM254.3 138.62h6.3v1.30h-6.3zM264.3 138.62h2.3v1.30h-2.3zM268.3 138.62h6.3v1.30h-6.3zM248.3 139.61h4.3v1.30h-4.3zM256.3 139.61h4.3v1.30h-4.3zM232.3 140.61h6.3v1.30h-6.3zM242.3 140.61h2.3v1.30h-2.3zM260.3 140.61h4.3v1.30h-4.3zM266.3 140.61h2.3v1.30h-2.3zM308.4 140.61h2.3v1.30h-2.3zM232.3 141.61h18.3v1.30h-18.3zM242.3 142.61h8.3v1.30h-8.3zM244.3 143.61h4.3v1.30h-4.3zM252.3 143.61h8.3v1.30h-8.3zM246.3 144.61h2.3v1.30h-2.3zM250.3 144.61h10.3v1.30h-10.3zM240.3 145.60h4.3v1.30h-4.3zM250.3 145.60h2.3v1.30h-2.3zM254.3 145.60h2.3v1.30h-2.3zM232.3 146.60h4.3v1.30h-4.3zM248.3 146.60h2.3v1.30h-2.3zM232.3 147.60h2.3v1.30h-2.3zM238.3 147.60h8.3v1.30h-8.3zM252.3 147.60h8.3v1.30h-8.3zM242.3 148.60h2.3v1.30h-2.3zM208.2 149.60h4.3v1.30h-4.3zM214.2 149.60h2.3v1.30h-2.3zM232.3 149.60h4.3v1.30h-4.3zM240.3 149.60h6.3v1.30h-6.3zM232.3 150.59h6.3v1.30h-6.3zM240.3 150.59h10.3v1.30h-10.3zM254.3 150.59h8.3v1.30h-8.3zM232.3 151.59h2.3v1.30h-2.3zM238.3 151.59h2.3v1.30h-2.3zM242.3 151.59h10.3v1.30h-10.3zM232.3 152.59h8.3v1.30h-8.3zM242.3 152.59h6.3v1.30h-6.3zM232.3 153.59h18.3v1.30h-18.3zM232.3 154.59h6.3v1.30h-6.3zM246.3 154.59h2.3v1.30h-2.3zM264.3 154.59h2.3v1.30h-2.3zM232.3 155.58h6.3v1.30h-6.3zM252.3 155.58h2.3v1.30h-2.3zM284.4 155.58h4.3v1.30h-4.3zM234.3 156.58h4.3v1.30h-4.3zM232.3 157.58h6.3v1.30h-6.3zM240.3 157.58h2.3v1.30h-2.3zM244.3 157.58h4.3v1.30h-4.3zM284.4 157.58h2.3v1.30h-2.3zM250.3 158.58h6.3v1.30h-6.3zM264.3 158.58h6.3v1.30h-6.3zM244.3 159.58h2.3v1.30h-2.3zM248.3 159.58h2.3v1.30h-2.3zM284.4 160.57h2.3v1.30h-2.3zM210.2 161.57h4.3v1.30h-4.3zM216.2 161.57h2.3v1.30h-2.3zM250.3 161.57h4.3v1.30h-4.3zM226.3 162.57h2.3v1.30h-2.3zM232.3 162.57h4.3v1.30h-4.3zM238.3 162.57h10.3v1.30h-10.3zM250.3 162.57h2.3v1.30h-2.3zM192.2 163.57h2.3v1.30h-2.3zM232.3 163.57h6.3v1.30h-6.3zM240.3 163.57h6.3v1.30h-6.3zM232.3 164.57h6.3v1.30h-6.3zM246.3 164.57h4.3v1.30h-4.3zM260.3 164.57h2.3v1.30h-2.3zM194.2 165.56h2.3v1.30h-2.3zM232.3 166.56h6.3v1.30h-6.3zM240.3 166.56h4.3v1.30h-4.3zM250.3 166.56h2.3v1.30h-2.3zM256.3 166.56h4.3v1.30h-4.3zM308.4 166.56h2.3v1.30h-2.3zM232.3 167.56h4.3v1.30h-4.3zM252.3 167.56h6.3v1.30h-6.3zM270.3 167.56h2.3v1.30h-2.3zM274.3 167.56h2.3v1.30h-2.3zM232.3 168.56h6.3v1.30h-6.3zM248.3 168.56h2.3v1.30h-2.3zM244.3 169.56h6.3v1.30h-6.3zM232.3 170.55h2.3v1.30h-2.3zM236.3 170.55h8.3v1.30h-8.3zM248.3 170.55h2.3v1.30h-2.3zM272.3 170.55h2.3v1.30h-2.3zM238.3 171.55h12.3v1.30h-12.3zM266.3 171.55h4.3v1.30h-4.3zM232.3 172.55h14.3v1.30h-14.3zM248.3 172.55h2.3v1.30h-2.3zM282.4 172.55h8.3v1.30h-8.3zM238.3 173.55h8.3v1.30h-8.3zM248.3 173.55h2.3v1.30h-2.3zM310.4 173.55h2.3v1.30h-2.3zM236.3 175.54h2.3v1.30h-2.3zM252.3 175.54h8.3v1.30h-8.3zM290.4 175.54h4.3v1.30h-4.3zM246.3 176.54h4.3v1.30h-4.3zM288.4 176.54h4.3v1.30h-4.3zM294.4 176.54h4.3v1.30h-4.3zM232.3 177.54h2.3v1.30h-2.3zM238.3 177.54h12.3v1.30h-12.3zM188.2 178.54h6.3v1.30h-6.3zM232.3 178.54h2.3v1.30h-2.3zM238.3 178.54h12.3v1.30h-12.3zM232.3 179.54h6.3v1.30h-6.3zM232.3 180.54h2.3v1.30h-2.3zM240.3 180.54h8.3v1.30h-8.3zM248.3 181.53h2.3v1.30h-2.3zM262.3 181.53h2.3v1.30h-2.3zM268.3 181.53h6.3v1.30h-6.3zM236.3 182.53h2.3v1.30h-2.3zM296.4 182.53h8.3v1.30h-8.3zM306.4 182.53h4.3v1.30h-4.3zM232.3 183.53h6.3v1.30h-6.3zM250.3 183.53h10.3v1.30h-10.3zM232.3 184.53h6.3v1.30h-6.3zM240.3 184.53h10.3v1.30h-10.3zM232.3 185.53h14.3v1.30h-14.3zM258.3 185.53h2.3v1.30h-2.3zM238.3 186.52h2.3v1.30h-2.3zM242.3 186.52h4.3v1.30h-4.3zM248.3 186.52h12.3v1.30h-12.3zM274.3 186.52h2.3v1.30h-2.3zM238.3 187.52h12.3v1.30h-12.3zM292.4 187.52h4.3v1.30h-4.3zM300.4 187.52h2.3v1.30h-2.3zM232.3 188.52h18.3v1.30h-18.3zM256.3 188.52h4.3v1.30h-4.3zM242.3 189.52h2.3v1.30h-2.3zM260.3 189.52h4.3v1.30h-4.3zM254.3 190.52h6.3v1.30h-6.3zM264.3 190.52h6.3v1.30h-6.3zM292.4 190.52h4.3v1.30h-4.3zM232.3 191.51h6.3v1.30h-6.3zM258.3 191.51h2.3v1.30h-2.3zM232.3 192.51h6.3v1.30h-6.3zM256.3 192.51h2.3v1.30h-2.3zM262.3 192.51h2.3v1.30h-2.3zM234.3 193.51h2.3v1.30h-2.3zM238.3 193.51h12.3v1.30h-12.3zM254.3 193.51h6.3v1.30h-6.3zM232.3 194.51h6.3v1.30h-6.3zM248.3 194.51h12.3v1.30h-12.3zM298.4 194.51h4.3v1.30h-4.3zM304.4 194.51h2.3v1.30h-2.3zM234.3 195.51h2.3v1.30h-2.3zM252.3 195.51h12.3v1.30h-12.3zM232.3 196.50h6.3v1.30h-6.3zM246.3 196.50h2.3v1.30h-2.3zM256.3 196.50h2.3v1.30h-2.3zM232.3 197.50h10.3v1.30h-10.3zM258.3 197.50h8.3v1.30h-8.3zM270.3 197.50h2.3v1.30h-2.3z"/>
<path fill="#e9f4f7" d="M242.3 44.80h2.3v1.30h-2.3zM260.3 44.80h2.3v1.30h-2.3zM232.3 45.80h2.3v1.30h-2.3zM250.3 46.80h10.3v1.30h-10.3zM286.4 46.80h2.3v1.30h-2.3zM294.4 46.80h2.3v1.30h-2.3zM208.2 47.79h2.3v1.30h-2.3zM212.2 47.79h4.3v1.30h-4.3zM218.2 47.79h2.3v1.30h-2.3zM254.3 47.79h6.3v1.30h-6.3zM302.4 47.79h2.3v1.30h-2.3zM306.4 47.79h2.3v1.30h-2.3zM310.4 47.79h2.3v1.30h-2.3zM302.4 48.79h2.3v1.30h-2.3zM306.4 49.79h4.3v1.30h-4.3zM196.2 50.79h2.3v1.30h-2.3zM250.3 50.79h10.3v1.30h-10.3zM252.3 51.79h8.3v1.30h-8.3zM292.4 51.79h2.3v1.30h-2.3zM236.3 52.78h2.3v1.30h-2.3zM256.3 53.78h2.3v1.30h-2.3zM232.3 54.78h4.3v1.30h-4.3zM252.3 55.78h6.3v1.30h-6.3zM290.4 55.78h6.3v1.30h-6.3zM250.3 56.78h2.3v1.30h-2.3zM254.3 56.78h6.3v1.30h-6.3zM272.3 56.78h14.3v1.30h-14.3zM296.4 56.78h4.3v1.30h-4.3zM302.4 56.78h2.3v1.30h-2.3zM234.3 57.77h4.3v1.30h-4.3zM250.3 57.77h10.3v1.30h-10.3zM234.3 58.77h6.3v1.30h-6.3zM242.3 58.77h8.3v1.30h-8.3zM256.3 58.77h4.3v1.30h-4.3zM282.4 58.77h14.3v1.30h-14.3zM234.3 59.77h6.3v1.30h-6.3zM242.3 59.77h6.3v1.30h-6.3zM250.3 59.77h2.3v1.30h-2.3zM258.3 59.77h2.3v1.30h-2.3zM250.3 60.77h10.3v1.30h-10.3zM250.3 61.77h10.3v1.30h-10.3zM278.3 61.77h4.3v1.30h-4.3zM238.3 62.76h2.3v1.30h-2.3zM250.3 62.76h10.3v1.30h-10.3zM276.3 63.76h2.3v1.30h-2.3zM280.3 63.76h2.3v1.30h-2.3zM284.4 63.76h2.3v1.30h-2.3zM270.3 64.76h2.3v1.30h-2.3zM250.3 66.76h4.3v1.30h-4.3zM256.3 66.76h4.3v1.30h-4.3zM250.3 67.76h10.3v1.30h-10.3zM264.3 68.75h4.3v1.30h-4.3zM270.3 68.75h6.3v1.30h-6.3zM246.3 69.75h14.3v1.30h-14.3zM266.3 70.75h2.3v1.30h-2.3zM236.3 71.75h2.3v1.30h-2.3zM286.4 71.75h2.3v1.30h-2.3zM240.3 72.75h6.3v1.30h-6.3zM254.3 72.75h6.3v1.30h-6.3zM278.3 72.75h8.3v1.30h-8.3zM274.3 73.74h2.3v1.30h-2.3zM304.4 74.74h2.3v1.30h-2.3zM250.3 75.74h4.3v1.30h-4.3zM250.3 76.74h10.3v1.30h-10.3zM236.3 77.74h2.3v1.30h-2.3zM248.3 77.74h12.3v1.30h-12.3zM238.3 78.73h8.3v1.30h-8.3zM250.3 80.73h6.3v1.30h-6.3zM258.3 80.73h2.3v1.30h-2.3zM238.3 81.73h4.3v1.30h-4.3zM244.3 81.73h2.3v1.30h-2.3zM232.3 82.73h6.3v1.30h-6.3zM216.2 83.72h2.3v1.30h-2.3zM222.3 83.72h2.3v1.30h-2.3zM278.3 84.72h2.3v1.30h-2.3zM284.4 84.72h2.3v1.30h-2.3zM294.4 84.72h2.3v1.30h-2.3zM300.4 84.72h2.3v1.30h-2.3zM290.4 86.72h12.3v1.30h-12.3zM244.3 87.72h2.3v1.30h-2.3zM286.4 87.72h4.3v1.30h-4.3zM292.4 87.72h2.3v1.30h-2.3zM194.2 88.71h2.3v1.30h-2.3zM200.2 88.71h2.3v1.30h-2.3zM250.3 88.71h10.3v1.30h-10.3zM190.2 90.71h2.3v1.30h-2.3zM232.3 90.71h4.3v1.30h-4.3zM258.3 90.71h2.3v1.30h-2.3zM212.2 91.71h4.3v1.30h-4.3zM250.3 91.71h4.3v1.30h-4.3zM256.3 91.71h4.3v1.30h-4.3zM290.4 91.71h2.3v1.30h-2.3zM296.4 91.71h2.3v1.30h-2.3zM252.3 92.71h8.3v1.30h-8.3zM284.4 92.71h2.3v1.30h-2.3zM250.3 93.70h10.3v1.30h-10.3zM262.3 93.70h2.3v1.30h-2.3zM232.3 94.70h4.3v1.30h-4.3zM250.3 94.70h2.3v1.30h-2.3zM254.3 94.70h4.3v1.30h-4.3zM262.3 94.70h6.3v1.30h-6.3zM256.3 95.70h4.3v1.30h-4.3zM270.3 95.70h2.3v1.30h-2.3zM304.4 95.70h8.3v1.30h-8.3zM234.3 96.70h4.3v1.30h-4.3zM310.4 96.70h2.3v1.30h-2.3zM250.3 97.70h2.3v1.30h-2.3zM258.3 97.70h20.3v1.30h-20.3zM250.3 98.69h4.3v1.30h-4.3zM256.3 98.69h4.3v1.30h-4.3zM210.2 99.69h2.3v1.30h-2.3zM240.3 99.69h6.3v1.30h-6.3zM248.3 99.69h2.3v1.30h-2.3zM250.3 100.69h4.3v1.30h-4.3zM256.3 100.69h2.3v1.30h-2.3zM218.2 101.69h2.3v1.30h-2.3zM238.3 101.69h2.3v1.30h-2.3zM250.3 101.69h6.3v1.30h-6.3zM258.3 101.69h2.3v1.30h-2.3zM250.3 102.69h2.3v1.30h-2.3zM250.3 103.69h10.3v1.30h-10.3zM238.3 104.68h6.3v1.30h-6.3zM246.3 104.68h14.3v1.30h-14.3zM232.3 105.68h6.3v1.30h-6.3zM250.3 105.68h8.3v1.30h-8.3zM250.3 106.68h8.3v1.30h-8.3zM240.3 107.68h10.3v1.30h-10.3zM252.3 107.68h8.3v1.30h-8.3zM266.3 107.68h2.3v1.30h-2.3zM270.3 107.68h4.3v1.30h-4.3zM240.3 108.68h2.3v1.30h-2.3zM252.3 108.68h6.3v1.30h-6.3zM272.3 108.68h4.3v1.30h-4.3zM232.3 109.67h12.3v1.30h-12.3zM246.3 109.67h6.3v1.30h-6.3zM256.3 109.67h2.3v1.30h-2.3zM300.4 109.67h8.3v1.30h-8.3zM232.3 110.67h4.3v1.30h-4.3zM250.3 110.67h10.3v1.30h-10.3zM250.3 111.67h2.3v1.30h-2.3zM254.3 111.67h6.3v1.30h-6.3zM242.3 112.67h4.3v1.30h-4.3zM256.3 112.67h4.3v1.30h-4.3zM250.3 113.67h4.3v1.30h-4.3zM256.3 113.67h4.3v1.30h-4.3zM296.4 113.67h2.3v1.30h-2.3zM300.4 113.67h2.3v1.30h-2.3zM308.4 113.67h4.3v1.30h-4.3zM248.3 114.66h10.3v1.30h-10.3zM236.3 115.66h10.3v1.30h-10.3zM250.3 116.66h2.3v1.30h-2.3zM254.3 116.66h6.3v1.30h-6.3zM232.3 117.66h8.3v1.30h-8.3zM256.3 117.66h4.3v1.30h-4.3zM264.3 117.66h2.3v1.30h-2.3zM244.3 118.66h6.3v1.30h-6.3zM238.3 120.65h2.3v1.30h-2.3zM246.3 120.65h2.3v1.30h-2.3zM254.3 120.65h2.3v1.30h-2.3zM238.3 121.65h12.3v1.30h-12.3zM236.3 122.65h2.3v1.30h-2.3zM254.3 122.65h2.3v1.30h-2.3zM250.3 123.65h10.3v1.30h-10.3zM252.3 124.64h2.3v1.30h-2.3zM282.4 124.64h4.3v1.30h-4.3zM292.4 124.64h2.3v1.30h-2.3zM250.3 125.64h4.3v1.30h-4.3zM258.3 125.64h2.3v1.30h-2.3zM270.3 125.64h4.3v1.30h-4.3zM250.3 126.64h4.3v1.30h-4.3zM256.3 126.64h4.3v1.30h-4.3zM250.3 127.64h10.3v1.30h-10.3zM250.3 129.63h8.3v1.30h-8.3zM250.3 130.63h4.3v1.30h-4.3zM258.3 130.63h2.3v1.30h-2.3zM280.3 130.63h6.3v1.30h-6.3zM250.3 131.63h8.3v1.30h-8.3zM286.4 131.63h4.3v1.30h-4.3zM250.3 132.63h2.3v1.30h-2.3zM250.3 133.63h2.3v1.30h-2.3zM232.3 134.62h10.3v1.30h-10.3zM244.3 134.62h4.3v1.30h-4.3zM250.3 134.62h10.3v1.30h-10.3zM232.3 135.62h2.3v1.30h-2.3zM238.3 135.62h2.3v1.30h-2.3zM250.3 135.62h4.3v1.30h-4.3zM258.3 135.62h2.3v1.30h-2.3zM232.3 136.62h2.3v1.30h-2.3zM236.3 136.62h24.3v1.30h-24.3zM282.4 136.62h2.3v1.30h-2.3zM232.3 137.62h6.3v1.30h-6.3zM298.4 137.62h2.3v1.30h-2.3zM240.3 138.62h2.3v1.30h-2.3zM266.3 138.62h2.3v1.30h-2.3zM252.3 139.61h4.3v1.30h-4.3zM244.3 140.61h6.3v1.30h-6.3zM254.3 140.61h6.3v1.30h-6.3zM264.3 140.61h2.3v1.30h-2.3zM250.3 141.61h10.3v1.30h-10.3zM232.3 142.61h6.3v1.30h-6.3zM250.3 142.61h10.3v1.30h-10.3zM304.4 142.61h4.3v1.30h-4.3zM232.3 143.61h6.3v1.30h-6.3zM250.3 143.61h2.3v1.30h-2.3zM234.3 144.61h4.3v1.30h-4.3zM244.3 144.61h2.3v1.30h-2.3zM252.3 145.60h2.3v1.30h-2.3zM256.3 145.60h4.3v1.30h-4.3zM240.3 146.60h4.3v1.30h-4.3zM250.3 146.60h10.3v1.30h-10.3zM234.3 147.60h4.3v1.30h-4.3zM250.3 147.60h2.3v1.30h-2.3zM260.3 147.60h4.3v1.30h-4.3zM232.3 148.60h6.3v1.30h-6.3zM250.3 148.60h18.3v1.30h-18.3zM236.3 149.60h4.3v1.30h-4.3zM250.3 149.60h10.3v1.30h-10.3zM250.3 150.59h4.3v1.30h-4.3zM274.3 150.59h4.3v1.30h-4.3zM280.3 150.59h2.3v1.30h-2.3zM286.4 150.59h2.3v1.30h-2.3zM234.3 151.59h4.3v1.30h-4.3zM258.3 151.59h2.3v1.30h-2.3zM250.3 153.59h10.3v1.30h-10.3zM250.3 154.59h14.3v1.30h-14.3zM256.3 155.58h4.3v1.30h-4.3zM250.3 156.58h10.3v1.30h-10.3zM250.3 157.58h10.3v1.30h-10.3zM256.3 158.58h4.3v1.30h-4.3zM252.3 159.58h8.3v1.30h-8.3zM286.4 159.58h4.3v1.30h-4.3zM250.3 160.57h10.3v1.30h-10.3zM254.3 161.57h6.3v1.30h-6.3zM252.3 162.57h4.3v1.30h-4.3zM258.3 162.57h2.3v1.30h-2.3zM250.3 163.57h10.3v1.30h-10.3zM264.3 163.57h2.3v1.30h-2.3zM250.3 164.57h8.3v1.30h-8.3zM188.2 165.56h6.3v1.30h-6.3zM196.2 165.56h2.3v1.30h-2.3zM232.3 165.56h6.3v1.30h-6.3zM250.3 165.56h10.3v1.30h-10.3zM252.3 166.56h4.3v1.30h-4.3zM272.3 167.56h2.3v1.30h-2.3zM232.3 169.56h12.3v1.30h-12.3zM250.3 169.56h16.3v1.30h-16.3zM234.3 170.55h2.3v1.30h-2.3zM268.3 170.55h4.3v1.30h-4.3zM294.4 170.55h8.3v1.30h-8.3zM250.3 173.55h2.3v1.30h-2.3zM254.3 173.55h6.3v1.30h-6.3zM240.3 174.55h2.3v1.30h-2.3zM250.3 174.55h10.3v1.30h-10.3zM234.3 175.54h2.3v1.30h-2.3zM250.3 175.54h2.3v1.30h-2.3zM250.3 176.54h10.3v1.30h-10.3zM286.4 176.54h2.3v1.30h-2.3zM292.4 176.54h2.3v1.30h-2.3zM234.3 177.54h4.3v1.30h-4.3zM250.3 177.54h2.3v1.30h-2.3zM254.3 177.54h8.3v1.30h-8.3zM250.3 178.54h8.3v1.30h-8.3zM268.3 178.54h2.3v1.30h-2.3zM274.3 178.54h2.3v1.30h-2.3zM250.3 179.54h2.3v1.30h-2.3zM256.3 181.53h4.3v1.30h-4.3zM264.3 181.53h4.3v1.30h-4.3zM274.3 181.53h2.3v1.30h-2.3zM278.3 181.53h4.3v1.30h-4.3zM250.3 182.53h10.3v1.30h-10.3zM304.4 182.53h2.3v1.30h-2.3zM278.3 183.53h2.3v1.30h-2.3zM250.3 184.53h10.3v1.30h-10.3zM298.4 184.53h2.3v1.30h-2.3zM246.3 185.53h10.3v1.30h-10.3zM232.3 186.52h6.3v1.30h-6.3zM240.3 186.52h2.3v1.30h-2.3zM276.3 186.52h8.3v1.30h-8.3zM232.3 187.52h6.3v1.30h-6.3zM252.3 187.52h8.3v1.30h-8.3zM290.4 187.52h2.3v1.30h-2.3zM296.4 187.52h4.3v1.30h-4.3zM250.3 188.52h6.3v1.30h-6.3zM250.3 189.52h10.3v1.30h-10.3zM272.3 189.52h4.3v1.30h-4.3zM278.3 189.52h2.3v1.30h-2.3zM250.3 190.52h2.3v1.30h-2.3zM260.3 190.52h4.3v1.30h-4.3zM250.3 191.51h8.3v1.30h-8.3zM250.3 192.51h4.3v1.30h-4.3zM278.3 192.51h8.3v1.30h-8.3zM232.3 193.51h2.3v1.30h-2.3zM236.3 193.51h2.3v1.30h-2.3zM250.3 193.51h4.3v1.30h-4.3zM268.3 194.51h2.3v1.30h-2.3zM302.4 194.51h2.3v1.30h-2.3zM306.4 194.51h2.3v1.30h-2.3zM232.3 195.51h2.3v1.30h-2.3zM236.3 195.51h2.3v1.30h-2.3zM250.3 195.51h2.3v1.30h-2.3zM244.3 196.50h2.3v1.30h-2.3zM248.3 196.50h8.3v1.30h-8.3zM258.3 196.50h2.3v1.30h-2.3zM242.3 197.50h16.3v1.30h-16.3zM266.3 197.50h4.3v1.30h-4.3z"/>
<path fill="#d3e9ee" d="M250.3 44.80h4.3v1.30h-4.3zM266.3 46.80h6.3v1.30h-6.3zM274.3 46.80h6.3v1.30h-6.3zM260.3 47.79h4.3v1.30h-4.3zM260.3 48.79h6.3v1.30h-6.3zM270.3 48.79h4.3v1.30h-4.3zM286.4 48.79h2.3v1.30h-2.3zM292.4 48.79h8.3v1.30h-8.3zM260.3 49.79h2.3v1.30h-2.3zM292.4 49.79h2.3v1.30h-2.3zM296.4 49.79h8.3v1.30h-8.3zM236.3 50.79h2.3v1.30h-2.3zM232.3 51.79h4.3v1.30h-4.3zM244.3 52.78h10.3v1.30h-10.3zM256.3 52.78h4.3v1.30h-4.3zM254.3 54.78h4.3v1.30h-4.3zM260.3 54.78h4.3v1.30h-4.3zM266.3 54.78h2.3v1.30h-2.3zM260.3 57.77h2.3v1.30h-2.3zM300.4 60.77h2.3v1.30h-2.3zM260.3 61.77h10.3v1.30h-10.3zM260.3 62.76h8.3v1.30h-8.3zM266.3 63.76h4.3v1.30h-4.3zM288.4 63.76h4.3v1.30h-4.3zM298.4 63.76h2.3v1.30h-2.3zM270.3 65.76h2.3v1.30h-2.3zM274.3 65.76h2.3v1.30h-2.3zM260.3 67.76h2.3v1.30h-2.3zM276.3 67.76h2.3v1.30h-2.3zM280.3 67.76h4.3v1.30h-4.3zM260.3 69.75h2.3v1.30h-2.3zM260.3 71.75h2.3v1.30h-2.3zM264.3 71.75h2.3v1.30h-2.3zM268.3 71.75h2.3v1.30h-2.3zM266.3 72.75h2.3v1.30h-2.3zM268.3 73.74h2.3v1.30h-2.3zM262.3 74.74h8.3v1.30h-8.3zM308.4 75.74h4.3v1.30h-4.3zM288.4 76.74h2.3v1.30h-2.3zM292.4 76.74h2.3v1.30h-2.3zM296.4 76.74h2.3v1.30h-2.3zM250.3 78.73h6.3v1.30h-6.3zM300.4 78.73h2.3v1.30h-2.3zM260.3 79.73h8.3v1.30h-8.3zM272.3 79.73h2.3v1.30h-2.3zM280.3 79.73h10.3v1.30h-10.3zM292.4 79.73h8.3v1.30h-8.3zM308.4 79.73h4.3v1.30h-4.3zM228.3 80.73h2.3v1.30h-2.3zM266.3 80.73h4.3v1.30h-4.3zM296.4 80.73h4.3v1.30h-4.3zM252.3 82.73h2.3v1.30h-2.3zM260.3 82.73h10.3v1.30h-10.3zM252.3 84.72h8.3v1.30h-8.3zM268.3 84.72h2.3v1.30h-2.3zM254.3 85.72h2.3v1.30h-2.3zM250.3 87.72h6.3v1.30h-6.3zM258.3 87.72h2.3v1.30h-2.3zM196.2 88.71h2.3v1.30h-2.3zM262.3 88.71h4.3v1.30h-4.3zM260.3 89.71h2.3v1.30h-2.3zM260.3 90.71h2.3v1.30h-2.3zM260.3 91.71h2.3v1.30h-2.3zM266.3 92.71h4.3v1.30h-4.3zM268.3 93.70h2.3v1.30h-2.3zM260.3 98.69h2.3v1.30h-2.3zM302.4 98.69h10.3v1.30h-10.3zM268.3 99.69h2.3v1.30h-2.3zM244.3 100.69h4.3v1.30h-4.3zM266.3 100.69h2.3v1.30h-2.3zM272.3 100.69h2.3v1.30h-2.3zM276.3 100.69h6.3v1.30h-6.3zM268.3 101.69h2.3v1.30h-2.3zM232.3 102.69h6.3v1.30h-6.3zM240.3 102.69h4.3v1.30h-4.3zM248.3 102.69h2.3v1.30h-2.3zM232.3 103.69h18.3v1.30h-18.3zM274.3 104.68h2.3v1.30h-2.3zM260.3 105.68h8.3v1.30h-8.3zM310.4 105.68h2.3v1.30h-2.3zM260.3 106.68h10.3v1.30h-10.3zM274.3 106.68h4.3v1.30h-4.3zM260.3 108.68h2.3v1.30h-2.3zM294.4 108.68h2.3v1.30h-2.3zM246.3 110.67h2.3v1.30h-2.3zM232.3 111.67h2.3v1.30h-2.3zM238.3 111.67h12.3v1.30h-12.3zM288.4 111.67h2.3v1.30h-2.3zM236.3 112.67h6.3v1.30h-6.3zM246.3 112.67h4.3v1.30h-4.3zM262.3 112.67h4.3v1.30h-4.3zM272.3 112.67h2.3v1.30h-2.3zM238.3 113.67h2.3v1.30h-2.3zM298.4 113.67h2.3v1.30h-2.3zM236.3 114.66h2.3v1.30h-2.3zM260.3 114.66h4.3v1.30h-4.3zM266.3 114.66h4.3v1.30h-4.3zM232.3 115.66h4.3v1.30h-4.3zM246.3 115.66h4.3v1.30h-4.3zM244.3 116.66h2.3v1.30h-2.3zM262.3 116.66h2.3v1.30h-2.3zM266.3 116.66h2.3v1.30h-2.3zM210.2 117.66h4.3v1.30h-4.3zM266.3 117.66h2.3v1.30h-2.3zM252.3 118.66h6.3v1.30h-6.3zM260.3 118.66h2.3v1.30h-2.3zM232.3 119.65h6.3v1.30h-6.3zM246.3 119.65h4.3v1.30h-4.3zM256.3 119.65h2.3v1.30h-2.3zM260.3 119.65h10.3v1.30h-10.3zM284.4 119.65h2.3v1.30h-2.3zM288.4 119.65h4.3v1.30h-4.3zM294.4 119.65h2.3v1.30h-2.3zM260.3 120.65h10.3v1.30h-10.3zM238.3 123.65h12.3v1.30h-12.3zM232.3 124.64h4.3v1.30h-4.3zM238.3 124.64h2.3v1.30h-2.3zM246.3 124.64h2.3v1.30h-2.3zM238.3 125.64h12.3v1.30h-12.3zM262.3 125.64h4.3v1.30h-4.3zM238.3 126.64h12.3v1.30h-12.3zM262.3 126.64h4.3v1.30h-4.3zM268.3 126.64h2.3v1.30h-2.3zM294.4 126.64h2.3v1.30h-2.3zM298.4 126.64h8.3v1.30h-8.3zM234.3 127.64h16.3v1.30h-16.3zM240.3 128.64h2.3v1.30h-2.3zM244.3 128.64h6.3v1.30h-6.3zM292.4 128.64h8.3v1.30h-8.3zM304.4 128.64h2.3v1.30h-2.3zM234.3 129.63h4.3v1.30h-4.3zM240.3 129.63h4.3v1.30h-4.3zM246.3 129.63h4.3v1.30h-4.3zM232.3 131.63h18.3v1.30h-18.3zM264.3 131.63h6.3v1.30h-6.3zM234.3 132.63h16.3v1.30h-16.3zM294.4 132.63h6.3v1.30h-6.3zM232.3 133.63h8.3v1.30h-8.3zM252.3 133.63h8.3v1.30h-8.3zM260.3 134.62h10.3v1.30h-10.3zM260.3 135.62h10.3v1.30h-10.3zM306.4 135.62h2.3v1.30h-2.3zM310.4 135.62h2.3v1.30h-2.3zM270.3 136.62h2.3v1.30h-2.3zM252.3 138.62h2.3v1.30h-2.3zM238.3 139.61h10.3v1.30h-10.3zM262.3 139.61h4.3v1.30h-4.3zM238.3 140.61h4.3v1.30h-4.3zM306.4 140.61h2.3v1.30h-2.3zM310.4 140.61h2.3v1.30h-2.3zM238.3 142.61h4.3v1.30h-4.3zM282.4 142.61h2.3v1.30h-2.3zM296.4 142.61h2.3v1.30h-2.3zM300.4 142.61h2.3v1.30h-2.3zM238.3 143.61h6.3v1.30h-6.3zM248.3 143.61h2.3v1.30h-2.3zM266.3 143.61h4.3v1.30h-4.3zM304.4 143.61h2.3v1.30h-2.3zM308.4 143.61h2.3v1.30h-2.3zM248.3 144.61h2.3v1.30h-2.3zM260.3 144.61h8.3v1.30h-8.3zM232.3 145.60h8.3v1.30h-8.3zM244.3 145.60h6.3v1.30h-6.3zM246.3 147.60h4.3v1.30h-4.3zM264.3 147.60h2.3v1.30h-2.3zM238.3 148.60h4.3v1.30h-4.3zM244.3 148.60h6.3v1.30h-6.3zM206.2 149.60h2.3v1.30h-2.3zM212.2 149.60h2.3v1.30h-2.3zM216.2 149.60h4.3v1.30h-4.3zM246.3 149.60h4.3v1.30h-4.3zM238.3 150.59h2.3v1.30h-2.3zM302.4 150.59h4.3v1.30h-4.3zM240.3 151.59h2.3v1.30h-2.3zM262.3 151.59h6.3v1.30h-6.3zM240.3 152.59h2.3v1.30h-2.3zM248.3 152.59h2.3v1.30h-2.3zM260.3 152.59h2.3v1.30h-2.3zM200.2 154.59h8.3v1.30h-8.3zM238.3 154.59h8.3v1.30h-8.3zM248.3 154.59h2.3v1.30h-2.3zM266.3 154.59h4.3v1.30h-4.3zM246.3 155.58h6.3v1.30h-6.3zM254.3 155.58h2.3v1.30h-2.3zM232.3 156.58h2.3v1.30h-2.3zM238.3 156.58h6.3v1.30h-6.3zM246.3 156.58h4.3v1.30h-4.3zM238.3 157.58h2.3v1.30h-2.3zM242.3 157.58h2.3v1.30h-2.3zM248.3 157.58h2.3v1.30h-2.3zM286.4 157.58h2.3v1.30h-2.3zM232.3 158.58h8.3v1.30h-8.3zM246.3 158.58h4.3v1.30h-4.3zM260.3 158.58h4.3v1.30h-4.3zM232.3 159.58h12.3v1.30h-12.3zM246.3 159.58h2.3v1.30h-2.3zM250.3 159.58h2.3v1.30h-2.3zM262.3 159.58h2.3v1.30h-2.3zM268.3 159.58h2.3v1.30h-2.3zM232.3 160.57h14.3v1.30h-14.3zM282.4 160.57h2.3v1.30h-2.3zM208.2 161.57h2.3v1.30h-2.3zM214.2 161.57h2.3v1.30h-2.3zM232.3 161.57h6.3v1.30h-6.3zM242.3 161.57h4.3v1.30h-4.3zM248.3 161.57h2.3v1.30h-2.3zM228.3 162.57h4.3v1.30h-4.3zM236.3 162.57h2.3v1.30h-2.3zM248.3 162.57h2.3v1.30h-2.3zM190.2 163.57h2.3v1.30h-2.3zM196.2 163.57h2.3v1.30h-2.3zM238.3 163.57h2.3v1.30h-2.3zM246.3 163.57h4.3v1.30h-4.3zM260.3 163.57h4.3v1.30h-4.3zM268.3 163.57h2.3v1.30h-2.3zM238.3 164.57h8.3v1.30h-8.3zM262.3 164.57h8.3v1.30h-8.3zM298.4 164.57h4.3v1.30h-4.3zM304.4 164.57h2.3v1.30h-2.3zM310.4 164.57h2.3v1.30h-2.3zM238.3 165.56h12.3v1.30h-12.3zM264.3 165.56h4.3v1.30h-4.3zM238.3 166.56h2.3v1.30h-2.3zM244.3 166.56h6.3v1.30h-6.3zM300.4 166.56h8.3v1.30h-8.3zM310.4 166.56h2.3v1.30h-2.3zM236.3 167.56h10.3v1.30h-10.3zM250.3 167.56h2.3v1.30h-2.3zM258.3 167.56h2.3v1.30h-2.3zM238.3 168.56h10.3v1.30h-10.3zM250.3 168.56h10.3v1.30h-10.3zM268.3 168.56h2.3v1.30h-2.3zM272.3 168.56h2.3v1.30h-2.3zM244.3 170.55h4.3v1.30h-4.3zM260.3 170.55h8.3v1.30h-8.3zM274.3 170.55h2.3v1.30h-2.3zM288.4 170.55h2.3v1.30h-2.3zM260.3 171.55h6.3v1.30h-6.3zM270.3 171.55h2.3v1.30h-2.3zM302.4 171.55h2.3v1.30h-2.3zM246.3 172.55h2.3v1.30h-2.3zM264.3 172.55h2.3v1.30h-2.3zM280.3 172.55h2.3v1.30h-2.3zM234.3 173.55h4.3v1.30h-4.3zM246.3 173.55h2.3v1.30h-2.3zM232.3 174.55h4.3v1.30h-4.3zM244.3 174.55h6.3v1.30h-6.3zM264.3 174.55h6.3v1.30h-6.3zM288.4 175.54h2.3v1.30h-2.3zM294.4 175.54h8.3v1.30h-8.3zM240.3 176.54h6.3v1.30h-6.3zM234.3 178.54h4.3v1.30h-4.3zM260.3 178.54h2.3v1.30h-2.3zM238.3 179.54h12.3v1.30h-12.3zM234.3 180.54h6.3v1.30h-6.3zM248.3 180.54h2.3v1.30h-2.3zM260.3 180.54h4.3v1.30h-4.3zM232.3 181.53h8.3v1.30h-8.3zM244.3 181.53h4.3v1.30h-4.3zM232.3 182.53h4.3v1.30h-4.3zM238.3 182.53h12.3v1.30h-12.3zM268.3 182.53h2.3v1.30h-2.3zM310.4 182.53h2.3v1.30h-2.3zM238.3 183.53h12.3v1.30h-12.3zM238.3 184.53h2.3v1.30h-2.3zM256.3 185.53h2.3v1.30h-2.3zM246.3 186.52h2.3v1.30h-2.3zM260.3 186.52h10.3v1.30h-10.3zM232.3 189.52h10.3v1.30h-10.3zM244.3 189.52h6.3v1.30h-6.3zM264.3 189.52h4.3v1.30h-4.3zM232.3 190.52h18.3v1.30h-18.3zM290.4 190.52h2.3v1.30h-2.3zM238.3 191.51h12.3v1.30h-12.3zM240.3 192.51h2.3v1.30h-2.3zM246.3 192.51h2.3v1.30h-2.3zM254.3 192.51h2.3v1.30h-2.3zM258.3 192.51h4.3v1.30h-4.3zM238.3 194.51h10.3v1.30h-10.3zM264.3 194.51h4.3v1.30h-4.3zM238.3 195.51h12.3v1.30h-12.3zM238.3 196.50h6.3v1.30h-6.3zM262.3 196.50h8.3v1.30h-8.3z"/>
<path fill="#c8e4ea" d="M254.3 44.80h4.3v1.30h-4.3zM262.3 44.80h12.3v1.30h-12.3zM288.4 44.80h2.3v1.30h-2.3zM302.4 44.80h2.3v1.30h-2.3zM262.3 45.80h12.3v1.30h-12.3zM260.3 46.80h6.3v1.30h-6.3zM282.4 46.80h2.3v1.30h-2.3zM302.4 46.80h4.3v1.30h-4.3zM264.3 47.79h36.4v1.30h-36.4zM274.3 48.79h12.3v1.30h-12.3zM288.4 48.79h4.3v1.30h-4.3zM304.4 48.79h8.3v1.30h-8.3zM262.3 49.79h30.3v1.30h-30.3zM294.4 49.79h2.3v1.30h-2.3zM304.4 49.79h2.3v1.30h-2.3zM260.3 50.79h10.3v1.30h-10.3zM300.4 50.79h2.3v1.30h-2.3zM306.4 50.79h6.3v1.30h-6.3zM236.3 51.79h2.3v1.30h-2.3zM260.3 52.78h10.3v1.30h-10.3zM260.3 53.78h10.3v1.30h-10.3zM278.3 53.78h10.3v1.30h-10.3zM292.4 53.78h4.3v1.30h-4.3zM298.4 53.78h2.3v1.30h-2.3zM308.4 53.78h2.3v1.30h-2.3zM264.3 54.78h2.3v1.30h-2.3zM268.3 54.78h2.3v1.30h-2.3zM276.3 54.78h8.3v1.30h-8.3zM290.4 54.78h2.3v1.30h-2.3zM308.4 54.78h2.3v1.30h-2.3zM232.3 55.78h4.3v1.30h-4.3zM260.3 55.78h10.3v1.30h-10.3zM308.4 55.78h2.3v1.30h-2.3zM260.3 56.78h10.3v1.30h-10.3zM262.3 57.77h8.3v1.30h-8.3zM290.4 57.77h6.3v1.30h-6.3zM298.4 57.77h4.3v1.30h-4.3zM260.3 58.77h4.3v1.30h-4.3zM260.3 60.77h10.3v1.30h-10.3zM274.3 60.77h2.3v1.30h-2.3zM276.3 61.77h2.3v1.30h-2.3zM282.4 61.77h2.3v1.30h-2.3zM286.4 61.77h12.3v1.30h-12.3zM270.3 62.76h4.3v1.30h-4.3zM278.3 62.76h6.3v1.30h-6.3zM290.4 62.76h2.3v1.30h-2.3zM296.4 62.76h2.3v1.30h-2.3zM306.4 62.76h2.3v1.30h-2.3zM310.4 62.76h2.3v1.30h-2.3zM260.3 63.76h6.3v1.30h-6.3zM270.3 63.76h2.3v1.30h-2.3zM292.4 63.76h6.3v1.30h-6.3zM300.4 63.76h12.3v1.30h-12.3zM260.3 64.76h8.3v1.30h-8.3zM276.3 64.76h4.3v1.30h-4.3zM310.4 64.76h2.3v1.30h-2.3zM260.3 65.76h6.3v1.30h-6.3zM278.3 65.76h6.3v1.30h-6.3zM286.4 65.76h12.3v1.30h-12.3zM302.4 65.76h2.3v1.30h-2.3zM260.3 66.76h10.3v1.30h-10.3zM276.3 66.76h2.3v1.30h-2.3zM280.3 66.76h4.3v1.30h-4.3zM296.4 66.76h2.3v1.30h-2.3zM278.3 67.76h2.3v1.30h-2.3zM268.3 69.75h2.3v1.30h-2.3zM288.4 69.75h2.3v1.30h-2.3zM292.4 69.75h16.3v1.30h-16.3zM260.3 70.75h2.3v1.30h-2.3zM276.3 70.75h2.3v1.30h-2.3zM292.4 70.75h2.3v1.30h-2.3zM300.4 70.75h2.3v1.30h-2.3zM304.4 70.75h2.3v1.30h-2.3zM262.3 71.75h2.3v1.30h-2.3zM266.3 71.75h2.3v1.30h-2.3zM304.4 71.75h8.3v1.30h-8.3zM260.3 72.75h6.3v1.30h-6.3zM268.3 72.75h2.3v1.30h-2.3zM272.3 72.75h2.3v1.30h-2.3zM292.4 72.75h8.3v1.30h-8.3zM304.4 72.75h2.3v1.30h-2.3zM260.3 73.74h8.3v1.30h-8.3zM286.4 73.74h4.3v1.30h-4.3zM298.4 73.74h10.3v1.30h-10.3zM260.3 74.74h2.3v1.30h-2.3zM270.3 74.74h4.3v1.30h-4.3zM292.4 74.74h2.3v1.30h-2.3zM266.3 75.74h4.3v1.30h-4.3zM278.3 75.74h2.3v1.30h-2.3zM260.3 76.74h2.3v1.30h-2.3zM274.3 76.74h2.3v1.30h-2.3zM280.3 76.74h2.3v1.30h-2.3zM286.4 76.74h2.3v1.30h-2.3zM306.4 76.74h4.3v1.30h-4.3zM262.3 77.74h4.3v1.30h-4.3zM278.3 77.74h22.3v1.30h-22.3zM310.4 77.74h2.3v1.30h-2.3zM260.3 78.73h6.3v1.30h-6.3zM268.3 78.73h2.3v1.30h-2.3zM272.3 78.73h2.3v1.30h-2.3zM278.3 78.73h6.3v1.30h-6.3zM286.4 78.73h6.3v1.30h-6.3zM298.4 78.73h2.3v1.30h-2.3zM302.4 78.73h10.3v1.30h-10.3zM268.3 79.73h4.3v1.30h-4.3zM274.3 79.73h6.3v1.30h-6.3zM290.4 79.73h2.3v1.30h-2.3zM270.3 80.73h26.3v1.30h-26.3zM300.4 80.73h12.3v1.30h-12.3zM276.3 81.73h4.3v1.30h-4.3zM286.4 81.73h2.3v1.30h-2.3zM294.4 81.73h12.3v1.30h-12.3zM308.4 81.73h2.3v1.30h-2.3zM260.3 83.72h10.3v1.30h-10.3zM260.3 84.72h8.3v1.30h-8.3zM262.3 85.72h8.3v1.30h-8.3zM280.3 86.72h2.3v1.30h-2.3zM260.3 87.72h10.3v1.30h-10.3zM260.3 88.71h2.3v1.30h-2.3zM266.3 88.71h4.3v1.30h-4.3zM304.4 88.71h8.3v1.30h-8.3zM262.3 89.71h8.3v1.30h-8.3zM300.4 89.71h12.3v1.30h-12.3zM262.3 90.71h8.3v1.30h-8.3zM292.4 90.71h2.3v1.30h-2.3zM262.3 91.71h18.3v1.30h-18.3zM260.3 92.71h6.3v1.30h-6.3zM270.3 92.71h2.3v1.30h-2.3zM260.3 93.70h2.3v1.30h-2.3zM272.3 93.70h2.3v1.30h-2.3zM278.3 93.70h2.3v1.30h-2.3zM288.4 93.70h2.3v1.30h-2.3zM268.3 94.70h2.3v1.30h-2.3zM260.3 95.70h4.3v1.30h-4.3zM260.3 96.70h10.3v1.30h-10.3zM278.3 96.70h14.3v1.30h-14.3zM296.4 96.70h12.3v1.30h-12.3zM280.3 97.70h6.3v1.30h-6.3zM292.4 97.70h6.3v1.30h-6.3zM300.4 97.70h2.3v1.30h-2.3zM308.4 97.70h4.3v1.30h-4.3zM262.3 98.69h28.3v1.30h-28.3zM292.4 98.69h6.3v1.30h-6.3zM300.4 98.69h2.3v1.30h-2.3zM260.3 99.69h8.3v1.30h-8.3zM270.3 99.69h2.3v1.30h-2.3zM280.3 99.69h2.3v1.30h-2.3zM286.4 99.69h22.3v1.30h-22.3zM260.3 100.69h6.3v1.30h-6.3zM300.4 100.69h8.3v1.30h-8.3zM260.3 101.69h8.3v1.30h-8.3zM270.3 101.69h4.3v1.30h-4.3zM300.4 101.69h12.3v1.30h-12.3zM238.3 102.69h2.3v1.30h-2.3zM244.3 102.69h4.3v1.30h-4.3zM308.4 102.69h4.3v1.30h-4.3zM260.3 103.69h6.3v1.30h-6.3zM278.3 103.69h4.3v1.30h-4.3zM284.4 103.69h8.3v1.30h-8.3zM298.4 103.69h10.3v1.30h-10.3zM260.3 104.68h10.3v1.30h-10.3zM276.3 104.68h6.3v1.30h-6.3zM284.4 104.68h14.3v1.30h-14.3zM268.3 105.68h42.4v1.30h-42.4zM270.3 106.68h2.3v1.30h-2.3zM280.3 106.68h2.3v1.30h-2.3zM286.4 106.68h2.3v1.30h-2.3zM300.4 106.68h2.3v1.30h-2.3zM304.4 106.68h4.3v1.30h-4.3zM260.3 107.68h4.3v1.30h-4.3zM274.3 107.68h8.3v1.30h-8.3zM284.4 107.68h12.3v1.30h-12.3zM298.4 107.68h4.3v1.30h-4.3zM304.4 107.68h2.3v1.30h-2.3zM262.3 108.68h6.3v1.30h-6.3zM300.4 108.68h4.3v1.30h-4.3zM260.3 109.67h10.3v1.30h-10.3zM260.3 110.67h2.3v1.30h-2.3zM260.3 111.67h10.3v1.30h-10.3zM296.4 111.67h2.3v1.30h-2.3zM300.4 111.67h2.3v1.30h-2.3zM260.3 113.67h10.3v1.30h-10.3zM272.3 113.67h10.3v1.30h-10.3zM290.4 113.67h2.3v1.30h-2.3zM304.4 113.67h4.3v1.30h-4.3zM264.3 114.66h2.3v1.30h-2.3zM260.3 115.66h10.3v1.30h-10.3zM260.3 116.66h2.3v1.30h-2.3zM264.3 116.66h2.3v1.30h-2.3zM276.3 116.66h6.3v1.30h-6.3zM268.3 117.66h2.3v1.30h-2.3zM276.3 117.66h2.3v1.30h-2.3zM286.4 117.66h4.3v1.30h-4.3zM296.4 117.66h12.3v1.30h-12.3zM262.3 118.66h8.3v1.30h-8.3zM272.3 118.66h12.3v1.30h-12.3zM286.4 118.66h16.3v1.30h-16.3zM306.4 118.66h4.3v1.30h-4.3zM270.3 119.65h14.3v1.30h-14.3zM296.4 119.65h2.3v1.30h-2.3zM304.4 119.65h2.3v1.30h-2.3zM308.4 119.65h4.3v1.30h-4.3zM270.3 120.65h12.3v1.30h-12.3zM284.4 120.65h2.3v1.30h-2.3zM288.4 120.65h2.3v1.30h-2.3zM292.4 120.65h4.3v1.30h-4.3zM298.4 120.65h14.3v1.30h-14.3zM260.3 121.65h10.3v1.30h-10.3zM302.4 121.65h10.3v1.30h-10.3zM262.3 122.65h2.3v1.30h-2.3zM268.3 122.65h2.3v1.30h-2.3zM280.3 122.65h4.3v1.30h-4.3zM264.3 123.65h6.3v1.30h-6.3zM236.3 124.64h2.3v1.30h-2.3zM240.3 124.64h6.3v1.30h-6.3zM248.3 124.64h2.3v1.30h-2.3zM260.3 124.64h10.3v1.30h-10.3zM232.3 125.64h2.3v1.30h-2.3zM236.3 125.64h2.3v1.30h-2.3zM266.3 125.64h2.3v1.30h-2.3zM288.4 125.64h4.3v1.30h-4.3zM232.3 126.64h6.3v1.30h-6.3zM260.3 126.64h2.3v1.30h-2.3zM266.3 126.64h2.3v1.30h-2.3zM270.3 126.64h2.3v1.30h-2.3zM284.4 126.64h2.3v1.30h-2.3zM260.3 127.64h10.3v1.30h-10.3zM238.3 128.64h2.3v1.30h-2.3zM242.3 128.64h2.3v1.30h-2.3zM260.3 128.64h10.3v1.30h-10.3zM238.3 129.63h2.3v1.30h-2.3zM244.3 129.63h2.3v1.30h-2.3zM260.3 129.63h12.3v1.30h-12.3zM232.3 130.63h18.3v1.30h-18.3zM264.3 130.63h6.3v1.30h-6.3zM260.3 131.63h4.3v1.30h-4.3zM260.3 132.63h16.3v1.30h-16.3zM300.4 132.63h2.3v1.30h-2.3zM262.3 133.63h8.3v1.30h-8.3zM278.3 133.63h2.3v1.30h-2.3zM288.4 133.63h6.3v1.30h-6.3zM298.4 133.63h2.3v1.30h-2.3zM270.3 134.62h10.3v1.30h-10.3zM286.4 134.62h2.3v1.30h-2.3zM292.4 134.62h10.3v1.30h-10.3zM270.3 135.62h36.4v1.30h-36.4zM308.4 135.62h2.3v1.30h-2.3zM272.3 136.62h10.3v1.30h-10.3zM286.4 136.62h6.3v1.30h-6.3zM294.4 136.62h18.3v1.30h-18.3zM260.3 137.62h10.3v1.30h-10.3zM260.3 138.62h4.3v1.30h-4.3zM260.3 139.61h2.3v1.30h-2.3zM266.3 139.61h4.3v1.30h-4.3zM268.3 140.61h2.3v1.30h-2.3zM260.3 141.61h10.3v1.30h-10.3zM286.4 141.61h12.3v1.30h-12.3zM260.3 142.61h14.3v1.30h-14.3zM276.3 142.61h6.3v1.30h-6.3zM284.4 142.61h6.3v1.30h-6.3zM292.4 142.61h4.3v1.30h-4.3zM298.4 142.61h2.3v1.30h-2.3zM302.4 142.61h2.3v1.30h-2.3zM310.4 142.61h2.3v1.30h-2.3zM260.3 143.61h6.3v1.30h-6.3zM270.3 143.61h4.3v1.30h-4.3zM288.4 143.61h4.3v1.30h-4.3zM294.4 143.61h2.3v1.30h-2.3zM298.4 143.61h6.3v1.30h-6.3zM306.4 143.61h2.3v1.30h-2.3zM310.4 143.61h2.3v1.30h-2.3zM268.3 144.61h2.3v1.30h-2.3zM296.4 144.61h2.3v1.30h-2.3zM260.3 145.60h10.3v1.30h-10.3zM310.4 145.60h2.3v1.30h-2.3zM260.3 146.60h10.3v1.30h-10.3zM290.4 146.60h2.3v1.30h-2.3zM294.4 146.60h2.3v1.30h-2.3zM310.4 146.60h2.3v1.30h-2.3zM266.3 147.60h4.3v1.30h-4.3zM270.3 148.60h4.3v1.30h-4.3zM280.3 148.60h2.3v1.30h-2.3zM288.4 148.60h6.3v1.30h-6.3zM300.4 148.60h6.3v1.30h-6.3zM260.3 149.60h14.3v1.30h-14.3zM276.3 149.60h2.3v1.30h-2.3zM282.4 149.60h6.3v1.30h-6.3zM294.4 149.60h18.3v1.30h-18.3zM270.3 150.59h4.3v1.30h-4.3zM292.4 150.59h2.3v1.30h-2.3zM296.4 150.59h6.3v1.30h-6.3zM306.4 150.59h6.3v1.30h-6.3zM260.3 151.59h2.3v1.30h-2.3zM268.3 151.59h2.3v1.30h-2.3zM272.3 151.59h6.3v1.30h-6.3zM284.4 151.59h10.3v1.30h-10.3zM304.4 151.59h2.3v1.30h-2.3zM310.4 151.59h2.3v1.30h-2.3zM262.3 152.59h2.3v1.30h-2.3zM266.3 152.59h2.3v1.30h-2.3zM272.3 152.59h2.3v1.30h-2.3zM294.4 152.59h8.3v1.30h-8.3zM264.3 153.59h2.3v1.30h-2.3zM268.3 153.59h2.3v1.30h-2.3zM300.4 153.59h2.3v1.30h-2.3zM274.3 154.59h2.3v1.30h-2.3zM238.3 155.58h8.3v1.30h-8.3zM260.3 155.58h10.3v1.30h-10.3zM306.4 155.58h2.3v1.30h-2.3zM244.3 156.58h2.3v1.30h-2.3zM268.3 156.58h2.3v1.30h-2.3zM308.4 157.58h2.3v1.30h-2.3zM270.3 158.58h4.3v1.30h-4.3zM310.4 158.58h2.3v1.30h-2.3zM260.3 159.58h2.3v1.30h-2.3zM264.3 159.58h4.3v1.30h-4.3zM246.3 160.57h4.3v1.30h-4.3zM264.3 160.57h6.3v1.30h-6.3zM238.3 161.57h4.3v1.30h-4.3zM246.3 161.57h2.3v1.30h-2.3zM260.3 161.57h6.3v1.30h-6.3zM268.3 161.57h4.3v1.30h-4.3zM276.3 161.57h26.3v1.30h-26.3zM308.4 161.57h4.3v1.30h-4.3zM260.3 162.57h10.3v1.30h-10.3zM296.4 162.57h2.3v1.30h-2.3zM308.4 162.57h4.3v1.30h-4.3zM194.2 163.57h2.3v1.30h-2.3zM272.3 163.57h2.3v1.30h-2.3zM284.4 163.57h2.3v1.30h-2.3zM270.3 164.57h28.3v1.30h-28.3zM302.4 164.57h2.3v1.30h-2.3zM306.4 164.57h4.3v1.30h-4.3zM260.3 165.56h4.3v1.30h-4.3zM268.3 165.56h2.3v1.30h-2.3zM272.3 165.56h2.3v1.30h-2.3zM280.3 165.56h8.3v1.30h-8.3zM290.4 165.56h16.3v1.30h-16.3zM310.4 165.56h2.3v1.30h-2.3zM260.3 166.56h6.3v1.30h-6.3zM268.3 166.56h2.3v1.30h-2.3zM246.3 167.56h4.3v1.30h-4.3zM262.3 167.56h8.3v1.30h-8.3zM294.4 167.56h8.3v1.30h-8.3zM308.4 167.56h4.3v1.30h-4.3zM262.3 168.56h2.3v1.30h-2.3zM270.3 168.56h2.3v1.30h-2.3zM266.3 169.56h8.3v1.30h-8.3zM282.4 169.56h10.3v1.30h-10.3zM294.4 169.56h6.3v1.30h-6.3zM276.3 170.55h4.3v1.30h-4.3zM282.4 170.55h6.3v1.30h-6.3zM290.4 170.55h2.3v1.30h-2.3zM302.4 170.55h2.3v1.30h-2.3zM310.4 170.55h2.3v1.30h-2.3zM272.3 171.55h30.3v1.30h-30.3zM304.4 171.55h8.3v1.30h-8.3zM260.3 172.55h4.3v1.30h-4.3zM266.3 172.55h4.3v1.30h-4.3zM278.3 172.55h2.3v1.30h-2.3zM290.4 172.55h2.3v1.30h-2.3zM298.4 172.55h10.3v1.30h-10.3zM232.3 173.55h2.3v1.30h-2.3zM262.3 173.55h6.3v1.30h-6.3zM260.3 174.55h4.3v1.30h-4.3zM238.3 175.54h12.3v1.30h-12.3zM260.3 176.54h8.3v1.30h-8.3zM276.3 176.54h2.3v1.30h-2.3zM298.4 176.54h4.3v1.30h-4.3zM264.3 177.54h4.3v1.30h-4.3zM270.3 177.54h4.3v1.30h-4.3zM276.3 177.54h12.3v1.30h-12.3zM290.4 177.54h14.3v1.30h-14.3zM306.4 177.54h6.3v1.30h-6.3zM262.3 178.54h6.3v1.30h-6.3zM260.3 179.54h10.3v1.30h-10.3zM296.4 179.54h4.3v1.30h-4.3zM302.4 179.54h2.3v1.30h-2.3zM264.3 180.54h6.3v1.30h-6.3zM240.3 181.53h4.3v1.30h-4.3zM260.3 181.53h2.3v1.30h-2.3zM276.3 181.53h2.3v1.30h-2.3zM284.4 181.53h20.3v1.30h-20.3zM306.4 181.53h6.3v1.30h-6.3zM260.3 182.53h8.3v1.30h-8.3zM270.3 182.53h26.3v1.30h-26.3zM260.3 183.53h10.3v1.30h-10.3zM260.3 184.53h2.3v1.30h-2.3zM268.3 184.53h6.3v1.30h-6.3zM260.3 185.53h10.3v1.30h-10.3zM260.3 187.52h10.3v1.30h-10.3zM274.3 187.52h2.3v1.30h-2.3zM278.3 187.52h4.3v1.30h-4.3zM284.4 187.52h2.3v1.30h-2.3zM260.3 188.52h10.3v1.30h-10.3zM282.4 188.52h2.3v1.30h-2.3zM282.4 189.52h2.3v1.30h-2.3zM288.4 189.52h16.3v1.30h-16.3zM272.3 190.52h4.3v1.30h-4.3zM282.4 190.52h6.3v1.30h-6.3zM302.4 190.52h10.3v1.30h-10.3zM262.3 191.51h2.3v1.30h-2.3zM266.3 191.51h2.3v1.30h-2.3zM238.3 192.51h2.3v1.30h-2.3zM242.3 192.51h4.3v1.30h-4.3zM248.3 192.51h2.3v1.30h-2.3zM296.4 192.51h2.3v1.30h-2.3zM300.4 192.51h2.3v1.30h-2.3zM260.3 193.51h10.3v1.30h-10.3zM260.3 194.51h4.3v1.30h-4.3zM264.3 195.51h6.3v1.30h-6.3zM260.3 196.50h2.3v1.30h-2.3zM272.3 196.50h2.3v1.30h-2.3zM288.4 196.50h12.3v1.30h-12.3zM306.4 196.50h6.3v1.30h-6.3zM282.4 197.50h2.3v1.30h-2.3zM294.4 197.50h2.3v1.30h-2.3z"/>
<path fill="#bddee6" d="M274.3 44.80h14.3v1.30h-14.3zM290.4 44.80h12.3v1.30h-12.3zM304.4 44.80h8.3v1.30h-8.3zM260.3 45.80h2.3v1.30h-2.3zM274.3 45.80h38.4v1.30h-38.4zM284.4 46.80h2.3v1.30h-2.3zM296.4 46.80h6.3v1.30h-6.3zM306.4 46.80h6.3v1.30h-6.3zM270.3 50.79h30.3v1.30h-30.3zM302.4 50.79h4.3v1.30h-4.3zM260.3 51.79h10.3v1.30h-10.3zM284.4 51.79h4.3v1.30h-4.3zM270.3 53.78h8.3v1.30h-8.3zM288.4 53.78h4.3v1.30h-4.3zM296.4 53.78h2.3v1.30h-2.3zM300.4 53.78h8.3v1.30h-8.3zM270.3 54.78h6.3v1.30h-6.3zM284.4 54.78h6.3v1.30h-6.3zM292.4 54.78h16.3v1.30h-16.3zM310.4 54.78h2.3v1.30h-2.3zM236.3 55.78h2.3v1.30h-2.3zM272.3 55.78h2.3v1.30h-2.3zM280.3 55.78h8.3v1.30h-8.3zM300.4 55.78h8.3v1.30h-8.3zM310.4 55.78h2.3v1.30h-2.3zM270.3 56.78h2.3v1.30h-2.3zM286.4 56.78h8.3v1.30h-8.3zM306.4 56.78h6.3v1.30h-6.3zM270.3 57.77h20.3v1.30h-20.3zM296.4 57.77h2.3v1.30h-2.3zM302.4 57.77h10.3v1.30h-10.3zM264.3 58.77h6.3v1.30h-6.3zM276.3 58.77h6.3v1.30h-6.3zM304.4 58.77h2.3v1.30h-2.3zM262.3 59.77h8.3v1.30h-8.3zM300.4 59.77h12.3v1.30h-12.3zM270.3 60.77h4.3v1.30h-4.3zM276.3 60.77h20.3v1.30h-20.3zM306.4 60.77h6.3v1.30h-6.3zM270.3 61.77h6.3v1.30h-6.3zM284.4 61.77h2.3v1.30h-2.3zM298.4 61.77h14.3v1.30h-14.3zM274.3 62.76h4.3v1.30h-4.3zM284.4 62.76h6.3v1.30h-6.3zM292.4 62.76h4.3v1.30h-4.3zM298.4 62.76h8.3v1.30h-8.3zM308.4 62.76h2.3v1.30h-2.3zM272.3 63.76h2.3v1.30h-2.3zM272.3 64.76h4.3v1.30h-4.3zM280.3 64.76h30.3v1.30h-30.3zM284.4 65.76h2.3v1.30h-2.3zM298.4 65.76h4.3v1.30h-4.3zM304.4 65.76h8.3v1.30h-8.3zM270.3 66.76h6.3v1.30h-6.3zM278.3 66.76h2.3v1.30h-2.3zM284.4 66.76h12.3v1.30h-12.3zM298.4 66.76h14.3v1.30h-14.3zM270.3 67.76h6.3v1.30h-6.3zM284.4 67.76h12.3v1.30h-12.3zM298.4 67.76h8.3v1.30h-8.3zM308.4 67.76h2.3v1.30h-2.3zM276.3 68.75h36.4v1.30h-36.4zM262.3 69.75h6.3v1.30h-6.3zM270.3 69.75h18.3v1.30h-18.3zM290.4 69.75h2.3v1.30h-2.3zM308.4 69.75h4.3v1.30h-4.3zM278.3 70.75h14.3v1.30h-14.3zM294.4 70.75h6.3v1.30h-6.3zM302.4 70.75h2.3v1.30h-2.3zM306.4 70.75h6.3v1.30h-6.3zM270.3 71.75h16.3v1.30h-16.3zM290.4 71.75h14.3v1.30h-14.3zM270.3 72.75h2.3v1.30h-2.3zM274.3 72.75h4.3v1.30h-4.3zM286.4 72.75h6.3v1.30h-6.3zM300.4 72.75h4.3v1.30h-4.3zM306.4 72.75h6.3v1.30h-6.3zM276.3 73.74h10.3v1.30h-10.3zM290.4 73.74h8.3v1.30h-8.3zM308.4 73.74h4.3v1.30h-4.3zM274.3 74.74h18.3v1.30h-18.3zM294.4 74.74h8.3v1.30h-8.3zM306.4 74.74h6.3v1.30h-6.3zM260.3 75.74h6.3v1.30h-6.3zM270.3 75.74h8.3v1.30h-8.3zM280.3 75.74h26.3v1.30h-26.3zM262.3 76.74h12.3v1.30h-12.3zM276.3 76.74h4.3v1.30h-4.3zM282.4 76.74h4.3v1.30h-4.3zM298.4 76.74h8.3v1.30h-8.3zM310.4 76.74h2.3v1.30h-2.3zM260.3 77.74h2.3v1.30h-2.3zM266.3 77.74h12.3v1.30h-12.3zM300.4 77.74h10.3v1.30h-10.3zM266.3 78.73h2.3v1.30h-2.3zM270.3 78.73h2.3v1.30h-2.3zM274.3 78.73h4.3v1.30h-4.3zM284.4 78.73h2.3v1.30h-2.3zM292.4 78.73h6.3v1.30h-6.3zM270.3 81.73h6.3v1.30h-6.3zM280.3 81.73h6.3v1.30h-6.3zM288.4 81.73h6.3v1.30h-6.3zM306.4 81.73h2.3v1.30h-2.3zM310.4 81.73h2.3v1.30h-2.3zM274.3 82.73h14.3v1.30h-14.3zM290.4 82.73h2.3v1.30h-2.3zM306.4 82.73h2.3v1.30h-2.3zM270.3 84.72h4.3v1.30h-4.3zM276.3 84.72h2.3v1.30h-2.3zM286.4 84.72h8.3v1.30h-8.3zM304.4 84.72h8.3v1.30h-8.3zM270.3 85.72h8.3v1.30h-8.3zM280.3 85.72h2.3v1.30h-2.3zM284.4 85.72h2.3v1.30h-2.3zM288.4 85.72h2.3v1.30h-2.3zM294.4 85.72h6.3v1.30h-6.3zM302.4 85.72h6.3v1.30h-6.3zM260.3 86.72h20.3v1.30h-20.3zM282.4 86.72h8.3v1.30h-8.3zM302.4 86.72h10.3v1.30h-10.3zM270.3 87.72h6.3v1.30h-6.3zM278.3 87.72h6.3v1.30h-6.3zM298.4 87.72h14.3v1.30h-14.3zM270.3 88.71h34.4v1.30h-34.4zM270.3 89.71h30.3v1.30h-30.3zM272.3 90.71h2.3v1.30h-2.3zM276.3 90.71h6.3v1.30h-6.3zM288.4 90.71h4.3v1.30h-4.3zM294.4 90.71h6.3v1.30h-6.3zM280.3 91.71h2.3v1.30h-2.3zM284.4 91.71h2.3v1.30h-2.3zM298.4 91.71h4.3v1.30h-4.3zM308.4 91.71h4.3v1.30h-4.3zM272.3 92.71h12.3v1.30h-12.3zM296.4 92.71h16.3v1.30h-16.3zM270.3 93.70h2.3v1.30h-2.3zM274.3 93.70h4.3v1.30h-4.3zM280.3 93.70h8.3v1.30h-8.3zM290.4 93.70h22.3v1.30h-22.3zM270.3 94.70h2.3v1.30h-2.3zM276.3 94.70h2.3v1.30h-2.3zM292.4 94.70h2.3v1.30h-2.3zM296.4 94.70h10.3v1.30h-10.3zM284.4 95.70h12.3v1.30h-12.3zM270.3 96.70h8.3v1.30h-8.3zM292.4 96.70h4.3v1.30h-4.3zM308.4 96.70h2.3v1.30h-2.3zM278.3 97.70h2.3v1.30h-2.3zM286.4 97.70h6.3v1.30h-6.3zM298.4 97.70h2.3v1.30h-2.3zM302.4 97.70h6.3v1.30h-6.3zM290.4 98.69h2.3v1.30h-2.3zM298.4 98.69h2.3v1.30h-2.3zM272.3 99.69h8.3v1.30h-8.3zM282.4 99.69h4.3v1.30h-4.3zM308.4 99.69h4.3v1.30h-4.3zM282.4 100.69h18.3v1.30h-18.3zM308.4 100.69h4.3v1.30h-4.3zM274.3 101.69h26.3v1.30h-26.3zM260.3 102.69h10.3v1.30h-10.3zM272.3 102.69h14.3v1.30h-14.3zM288.4 102.69h20.3v1.30h-20.3zM270.3 103.69h8.3v1.30h-8.3zM282.4 103.69h2.3v1.30h-2.3zM292.4 103.69h6.3v1.30h-6.3zM308.4 103.69h4.3v1.30h-4.3zM282.4 104.68h2.3v1.30h-2.3zM298.4 104.68h10.3v1.30h-10.3zM278.3 106.68h2.3v1.30h-2.3zM282.4 106.68h4.3v1.30h-4.3zM288.4 106.68h12.3v1.30h-12.3zM302.4 106.68h2.3v1.30h-2.3zM308.4 106.68h4.3v1.30h-4.3zM282.4 107.68h2.3v1.30h-2.3zM296.4 107.68h2.3v1.30h-2.3zM302.4 107.68h2.3v1.30h-2.3zM306.4 107.68h6.3v1.30h-6.3zM280.3 108.68h12.3v1.30h-12.3zM296.4 108.68h4.3v1.30h-4.3zM304.4 108.68h8.3v1.30h-8.3zM272.3 109.67h6.3v1.30h-6.3zM280.3 109.67h4.3v1.30h-4.3zM286.4 109.67h10.3v1.30h-10.3zM270.3 110.67h14.3v1.30h-14.3zM286.4 110.67h2.3v1.30h-2.3zM290.4 110.67h8.3v1.30h-8.3zM304.4 110.67h8.3v1.30h-8.3zM270.3 111.67h18.3v1.30h-18.3zM298.4 111.67h2.3v1.30h-2.3zM302.4 111.67h10.3v1.30h-10.3zM260.3 112.67h2.3v1.30h-2.3zM274.3 112.67h38.4v1.30h-38.4zM270.3 113.67h2.3v1.30h-2.3zM282.4 113.67h8.3v1.30h-8.3zM302.4 113.67h2.3v1.30h-2.3zM270.3 114.66h42.4v1.30h-42.4zM270.3 115.66h6.3v1.30h-6.3zM278.3 115.66h34.4v1.30h-34.4zM272.3 116.66h4.3v1.30h-4.3zM282.4 116.66h30.3v1.30h-30.3zM270.3 117.66h6.3v1.30h-6.3zM278.3 117.66h8.3v1.30h-8.3zM290.4 117.66h6.3v1.30h-6.3zM308.4 117.66h4.3v1.30h-4.3zM270.3 118.66h2.3v1.30h-2.3zM284.4 118.66h2.3v1.30h-2.3zM302.4 118.66h4.3v1.30h-4.3zM310.4 118.66h2.3v1.30h-2.3zM298.4 119.65h6.3v1.30h-6.3zM306.4 119.65h2.3v1.30h-2.3zM282.4 120.65h2.3v1.30h-2.3zM286.4 120.65h2.3v1.30h-2.3zM290.4 120.65h2.3v1.30h-2.3zM296.4 120.65h2.3v1.30h-2.3zM270.3 121.65h14.3v1.30h-14.3zM296.4 121.65h6.3v1.30h-6.3zM260.3 122.65h2.3v1.30h-2.3zM264.3 122.65h4.3v1.30h-4.3zM270.3 122.65h10.3v1.30h-10.3zM284.4 122.65h18.3v1.30h-18.3zM304.4 122.65h8.3v1.30h-8.3zM260.3 123.65h4.3v1.30h-4.3zM270.3 123.65h24.3v1.30h-24.3zM298.4 123.65h14.3v1.30h-14.3zM294.4 124.64h4.3v1.30h-4.3zM234.3 125.64h2.3v1.30h-2.3zM276.3 125.64h12.3v1.30h-12.3zM292.4 125.64h20.3v1.30h-20.3zM272.3 126.64h12.3v1.30h-12.3zM286.4 126.64h6.3v1.30h-6.3zM306.4 126.64h6.3v1.30h-6.3zM272.3 127.64h2.3v1.30h-2.3zM276.3 127.64h4.3v1.30h-4.3zM284.4 127.64h2.3v1.30h-2.3zM288.4 127.64h2.3v1.30h-2.3zM296.4 127.64h2.3v1.30h-2.3zM302.4 127.64h2.3v1.30h-2.3zM290.4 128.64h2.3v1.30h-2.3zM306.4 128.64h6.3v1.30h-6.3zM272.3 129.63h4.3v1.30h-4.3zM278.3 129.63h4.3v1.30h-4.3zM284.4 129.63h2.3v1.30h-2.3zM290.4 129.63h22.3v1.30h-22.3zM260.3 130.63h4.3v1.30h-4.3zM270.3 130.63h2.3v1.30h-2.3zM298.4 130.63h2.3v1.30h-2.3zM304.4 130.63h2.3v1.30h-2.3zM310.4 130.63h2.3v1.30h-2.3zM270.3 131.63h14.3v1.30h-14.3zM290.4 131.63h16.3v1.30h-16.3zM310.4 131.63h2.3v1.30h-2.3zM276.3 132.63h18.3v1.30h-18.3zM302.4 132.63h10.3v1.30h-10.3zM270.3 133.63h8.3v1.30h-8.3zM280.3 133.63h8.3v1.30h-8.3zM294.4 133.63h4.3v1.30h-4.3zM300.4 133.63h12.3v1.30h-12.3zM280.3 134.62h6.3v1.30h-6.3zM288.4 134.62h4.3v1.30h-4.3zM302.4 134.62h10.3v1.30h-10.3zM292.4 136.62h2.3v1.30h-2.3zM270.3 137.62h4.3v1.30h-4.3zM278.3 137.62h6.3v1.30h-6.3zM286.4 137.62h2.3v1.30h-2.3zM290.4 137.62h2.3v1.30h-2.3zM300.4 137.62h8.3v1.30h-8.3zM276.3 138.62h14.3v1.30h-14.3zM294.4 138.62h2.3v1.30h-2.3zM272.3 139.61h2.3v1.30h-2.3zM278.3 139.61h18.3v1.30h-18.3zM298.4 139.61h4.3v1.30h-4.3zM304.4 139.61h2.3v1.30h-2.3zM270.3 140.61h36.4v1.30h-36.4zM270.3 141.61h16.3v1.30h-16.3zM298.4 141.61h14.3v1.30h-14.3zM274.3 142.61h2.3v1.30h-2.3zM290.4 142.61h2.3v1.30h-2.3zM274.3 143.61h14.3v1.30h-14.3zM292.4 143.61h2.3v1.30h-2.3zM296.4 143.61h2.3v1.30h-2.3zM270.3 144.61h26.3v1.30h-26.3zM298.4 144.61h14.3v1.30h-14.3zM270.3 145.60h12.3v1.30h-12.3zM284.4 145.60h26.3v1.30h-26.3zM270.3 146.60h20.3v1.30h-20.3zM292.4 146.60h2.3v1.30h-2.3zM296.4 146.60h14.3v1.30h-14.3zM270.3 147.60h42.4v1.30h-42.4zM274.3 148.60h6.3v1.30h-6.3zM282.4 148.60h6.3v1.30h-6.3zM294.4 148.60h6.3v1.30h-6.3zM306.4 148.60h6.3v1.30h-6.3zM274.3 149.60h2.3v1.30h-2.3zM278.3 149.60h4.3v1.30h-4.3zM288.4 149.60h6.3v1.30h-6.3zM262.3 150.59h8.3v1.30h-8.3zM288.4 150.59h4.3v1.30h-4.3zM294.4 150.59h2.3v1.30h-2.3zM270.3 151.59h2.3v1.30h-2.3zM278.3 151.59h6.3v1.30h-6.3zM294.4 151.59h10.3v1.30h-10.3zM306.4 151.59h4.3v1.30h-4.3zM264.3 152.59h2.3v1.30h-2.3zM268.3 152.59h4.3v1.30h-4.3zM274.3 152.59h20.3v1.30h-20.3zM302.4 152.59h10.3v1.30h-10.3zM260.3 153.59h4.3v1.30h-4.3zM266.3 153.59h2.3v1.30h-2.3zM270.3 153.59h30.3v1.30h-30.3zM302.4 153.59h10.3v1.30h-10.3zM270.3 154.59h4.3v1.30h-4.3zM276.3 154.59h36.4v1.30h-36.4zM270.3 155.58h14.3v1.30h-14.3zM288.4 155.58h18.3v1.30h-18.3zM308.4 155.58h4.3v1.30h-4.3zM260.3 156.58h8.3v1.30h-8.3zM270.3 156.58h42.4v1.30h-42.4zM260.3 157.58h12.3v1.30h-12.3zM276.3 157.58h8.3v1.30h-8.3zM288.4 157.58h20.3v1.30h-20.3zM310.4 157.58h2.3v1.30h-2.3zM274.3 158.58h36.4v1.30h-36.4zM272.3 159.58h8.3v1.30h-8.3zM282.4 159.58h4.3v1.30h-4.3zM292.4 159.58h2.3v1.30h-2.3zM296.4 159.58h8.3v1.30h-8.3zM310.4 159.58h2.3v1.30h-2.3zM260.3 160.57h4.3v1.30h-4.3zM270.3 160.57h6.3v1.30h-6.3zM278.3 160.57h4.3v1.30h-4.3zM286.4 160.57h2.3v1.30h-2.3zM290.4 160.57h2.3v1.30h-2.3zM296.4 160.57h2.3v1.30h-2.3zM300.4 160.57h2.3v1.30h-2.3zM304.4 160.57h4.3v1.30h-4.3zM310.4 160.57h2.3v1.30h-2.3zM266.3 161.57h2.3v1.30h-2.3zM272.3 161.57h4.3v1.30h-4.3zM302.4 161.57h6.3v1.30h-6.3zM270.3 162.57h26.3v1.30h-26.3zM298.4 162.57h10.3v1.30h-10.3zM270.3 163.57h2.3v1.30h-2.3zM274.3 163.57h10.3v1.30h-10.3zM286.4 163.57h26.3v1.30h-26.3zM270.3 165.56h2.3v1.30h-2.3zM274.3 165.56h6.3v1.30h-6.3zM288.4 165.56h2.3v1.30h-2.3zM306.4 165.56h4.3v1.30h-4.3zM266.3 166.56h2.3v1.30h-2.3zM270.3 166.56h4.3v1.30h-4.3zM276.3 166.56h24.3v1.30h-24.3zM260.3 167.56h2.3v1.30h-2.3zM276.3 167.56h18.3v1.30h-18.3zM302.4 167.56h6.3v1.30h-6.3zM260.3 168.56h2.3v1.30h-2.3zM264.3 168.56h4.3v1.30h-4.3zM274.3 168.56h6.3v1.30h-6.3zM284.4 168.56h4.3v1.30h-4.3zM296.4 168.56h2.3v1.30h-2.3zM300.4 168.56h6.3v1.30h-6.3zM310.4 168.56h2.3v1.30h-2.3zM274.3 169.56h8.3v1.30h-8.3zM292.4 169.56h2.3v1.30h-2.3zM300.4 169.56h12.3v1.30h-12.3zM280.3 170.55h2.3v1.30h-2.3zM304.4 170.55h6.3v1.30h-6.3zM270.3 172.55h8.3v1.30h-8.3zM292.4 172.55h6.3v1.30h-6.3zM308.4 172.55h4.3v1.30h-4.3zM260.3 173.55h2.3v1.30h-2.3zM282.4 173.55h8.3v1.30h-8.3zM292.4 173.55h18.3v1.30h-18.3zM270.3 174.55h6.3v1.30h-6.3zM288.4 174.55h2.3v1.30h-2.3zM302.4 174.55h2.3v1.30h-2.3zM260.3 175.54h10.3v1.30h-10.3zM268.3 176.54h8.3v1.30h-8.3zM278.3 176.54h8.3v1.30h-8.3zM302.4 176.54h10.3v1.30h-10.3zM262.3 177.54h2.3v1.30h-2.3zM268.3 177.54h2.3v1.30h-2.3zM274.3 177.54h2.3v1.30h-2.3zM288.4 177.54h2.3v1.30h-2.3zM304.4 177.54h2.3v1.30h-2.3zM282.4 178.54h30.3v1.30h-30.3zM270.3 179.54h26.3v1.30h-26.3zM300.4 179.54h2.3v1.30h-2.3zM304.4 179.54h8.3v1.30h-8.3zM270.3 180.54h42.4v1.30h-42.4zM304.4 181.53h2.3v1.30h-2.3zM270.3 183.53h8.3v1.30h-8.3zM282.4 183.53h10.3v1.30h-10.3zM300.4 183.53h12.3v1.30h-12.3zM274.3 184.53h8.3v1.30h-8.3zM288.4 184.53h2.3v1.30h-2.3zM294.4 184.53h4.3v1.30h-4.3zM306.4 184.53h6.3v1.30h-6.3zM278.3 185.53h2.3v1.30h-2.3zM288.4 185.53h6.3v1.30h-6.3zM270.3 186.52h4.3v1.30h-4.3zM284.4 186.52h28.3v1.30h-28.3zM270.3 187.52h4.3v1.30h-4.3zM276.3 187.52h2.3v1.30h-2.3zM282.4 187.52h2.3v1.30h-2.3zM286.4 187.52h4.3v1.30h-4.3zM302.4 187.52h10.3v1.30h-10.3zM270.3 188.52h12.3v1.30h-12.3zM284.4 188.52h28.3v1.30h-28.3zM280.3 189.52h2.3v1.30h-2.3zM284.4 189.52h4.3v1.30h-4.3zM304.4 189.52h8.3v1.30h-8.3zM270.3 190.52h2.3v1.30h-2.3zM276.3 190.52h6.3v1.30h-6.3zM288.4 190.52h2.3v1.30h-2.3zM296.4 190.52h6.3v1.30h-6.3zM260.3 191.51h2.3v1.30h-2.3zM264.3 191.51h2.3v1.30h-2.3zM268.3 191.51h10.3v1.30h-10.3zM280.3 191.51h28.3v1.30h-28.3zM310.4 191.51h2.3v1.30h-2.3zM264.3 192.51h6.3v1.30h-6.3zM272.3 192.51h2.3v1.30h-2.3zM286.4 192.51h2.3v1.30h-2.3zM292.4 192.51h4.3v1.30h-4.3zM298.4 192.51h2.3v1.30h-2.3zM302.4 192.51h6.3v1.30h-6.3zM310.4 192.51h2.3v1.30h-2.3zM274.3 193.51h2.3v1.30h-2.3zM280.3 193.51h12.3v1.30h-12.3zM304.4 193.51h2.3v1.30h-2.3zM308.4 193.51h4.3v1.30h-4.3zM282.4 194.51h4.3v1.30h-4.3zM290.4 194.51h8.3v1.30h-8.3zM308.4 194.51h4.3v1.30h-4.3zM270.3 195.51h42.4v1.30h-42.4zM270.3 196.50h2.3v1.30h-2.3zM274.3 196.50h14.3v1.30h-14.3zM300.4 196.50h6.3v1.30h-6.3zM272.3 197.50h10.3v1.30h-10.3zM284.4 197.50h10.3v1.30h-10.3zM296.4 197.50h16.3v1.30h-16.3z"/>
<path fill="#fbe5e1" d="M192.2 45.80h2.3v1.30h-2.3zM198.2 45.80h4.3v1.30h-4.3zM228.3 45.80h4.3v1.30h-4.3zM232.3 46.80h4.3v1.30h-4.3zM236.3 47.79h2.3v1.30h-2.3zM234.3 48.79h4.3v1.30h-4.3zM232.3 49.79h2.3v1.30h-2.3zM228.3 51.79h2.3v1.30h-2.3zM242.3 51.79h4.3v1.30h-4.3zM212.2 52.78h2.3v1.30h-2.3zM216.2 52.78h4.3v1.30h-4.3zM224.3 52.78h6.3v1.30h-6.3zM228.3 55.78h4.3v1.30h-4.3zM222.3 56.78h2.3v1.30h-2.3zM214.2 57.77h2.3v1.30h-2.3zM204.2 58.77h2.3v1.30h-2.3zM232.3 60.77h4.3v1.30h-4.3zM242.3 62.76h2.3v1.30h-2.3zM208.2 64.76h2.3v1.30h-2.3zM232.3 64.76h4.3v1.30h-4.3zM222.3 65.76h2.3v1.30h-2.3zM236.3 66.76h2.3v1.30h-2.3zM240.3 66.76h4.3v1.30h-4.3zM232.3 67.76h2.3v1.30h-2.3zM236.3 70.75h4.3v1.30h-4.3zM228.3 71.75h4.3v1.30h-4.3zM234.3 72.75h2.3v1.30h-2.3zM232.3 75.74h2.3v1.30h-2.3zM222.3 78.73h2.3v1.30h-2.3zM232.3 78.73h4.3v1.30h-4.3zM234.3 79.73h4.3v1.30h-4.3zM240.3 79.73h2.3v1.30h-2.3zM238.3 80.73h4.3v1.30h-4.3zM232.3 81.73h2.3v1.30h-2.3zM246.3 81.73h4.3v1.30h-4.3zM202.2 82.73h2.3v1.30h-2.3zM230.3 82.73h2.3v1.30h-2.3zM226.3 83.72h4.3v1.30h-4.3zM218.2 84.72h6.3v1.30h-6.3zM226.3 84.72h2.3v1.30h-2.3zM234.3 84.72h2.3v1.30h-2.3zM222.3 85.72h2.3v1.30h-2.3zM236.3 85.72h2.3v1.30h-2.3zM232.3 86.72h6.3v1.30h-6.3zM232.3 87.72h4.3v1.30h-4.3zM232.3 88.71h4.3v1.30h-4.3zM198.2 89.71h8.3v1.30h-8.3zM216.2 89.71h2.3v1.30h-2.3zM220.3 89.71h2.3v1.30h-2.3zM230.3 90.71h2.3v1.30h-2.3zM200.2 91.71h4.3v1.30h-4.3zM226.3 91.71h2.3v1.30h-2.3zM230.3 91.71h2.3v1.30h-2.3zM214.2 92.71h2.3v1.30h-2.3zM218.2 92.71h4.3v1.30h-4.3zM230.3 92.71h6.3v1.30h-6.3zM204.2 94.70h2.3v1.30h-2.3zM230.3 96.70h2.3v1.30h-2.3zM222.3 97.70h2.3v1.30h-2.3zM232.3 98.69h4.3v1.30h-4.3zM228.3 101.69h4.3v1.30h-4.3zM228.3 102.69h4.3v1.30h-4.3zM212.2 103.69h4.3v1.30h-4.3zM222.3 103.69h2.3v1.30h-2.3zM200.2 108.68h6.3v1.30h-6.3zM228.3 108.68h4.3v1.30h-4.3zM228.3 110.67h2.3v1.30h-2.3zM230.3 111.67h2.3v1.30h-2.3zM226.3 112.67h6.3v1.30h-6.3zM222.3 113.67h2.3v1.30h-2.3zM200.2 114.66h8.3v1.30h-8.3zM220.3 114.66h2.3v1.30h-2.3zM220.3 115.66h12.3v1.30h-12.3zM228.3 118.66h4.3v1.30h-4.3zM228.3 122.65h4.3v1.30h-4.3zM226.3 123.65h2.3v1.30h-2.3zM192.2 124.64h2.3v1.30h-2.3zM214.2 124.64h2.3v1.30h-2.3zM222.3 124.64h2.3v1.30h-2.3zM202.2 125.64h4.3v1.30h-4.3zM208.2 125.64h10.3v1.30h-10.3zM224.3 125.64h2.3v1.30h-2.3zM202.2 126.64h2.3v1.30h-2.3zM222.3 126.64h2.3v1.30h-2.3zM228.3 126.64h4.3v1.30h-4.3zM202.2 128.64h2.3v1.30h-2.3zM218.2 128.64h4.3v1.30h-4.3zM230.3 128.64h2.3v1.30h-2.3zM188.2 129.63h12.3v1.30h-12.3zM220.3 129.63h10.3v1.30h-10.3zM192.2 130.63h2.3v1.30h-2.3zM214.2 130.63h2.3v1.30h-2.3zM218.2 130.63h4.3v1.30h-4.3zM228.3 130.63h4.3v1.30h-4.3zM218.2 131.63h6.3v1.30h-6.3zM204.2 132.63h2.3v1.30h-2.3zM222.3 132.63h2.3v1.30h-2.3zM194.2 133.63h12.3v1.30h-12.3zM216.2 133.63h8.3v1.30h-8.3zM198.2 137.62h2.3v1.30h-2.3zM202.2 137.62h2.3v1.30h-2.3zM210.2 137.62h8.3v1.30h-8.3zM226.3 137.62h2.3v1.30h-2.3zM192.2 138.62h2.3v1.30h-2.3zM198.2 138.62h8.3v1.30h-8.3zM208.2 138.62h8.3v1.30h-8.3zM192.2 139.61h2.3v1.30h-2.3zM212.2 139.61h2.3v1.30h-2.3zM218.2 139.61h6.3v1.30h-6.3zM222.3 146.60h2.3v1.30h-2.3zM204.2 147.60h2.3v1.30h-2.3zM230.3 147.60h2.3v1.30h-2.3zM204.2 148.60h2.3v1.30h-2.3zM222.3 149.60h2.3v1.30h-2.3zM230.3 149.60h2.3v1.30h-2.3zM218.2 151.59h2.3v1.30h-2.3zM200.2 152.59h8.3v1.30h-8.3zM204.2 153.59h2.3v1.30h-2.3zM228.3 153.59h4.3v1.30h-4.3zM228.3 154.59h4.3v1.30h-4.3zM218.2 155.58h8.3v1.30h-8.3zM228.3 155.58h4.3v1.30h-4.3zM212.2 157.58h2.3v1.30h-2.3zM204.2 158.58h2.3v1.30h-2.3zM214.2 158.58h2.3v1.30h-2.3zM192.2 159.58h10.3v1.30h-10.3zM198.2 160.57h6.3v1.30h-6.3zM220.3 160.57h4.3v1.30h-4.3zM230.3 160.57h2.3v1.30h-2.3zM202.2 161.57h4.3v1.30h-4.3zM220.3 161.57h4.3v1.30h-4.3zM228.3 161.57h4.3v1.30h-4.3zM200.2 162.57h6.3v1.30h-6.3zM230.3 165.56h2.3v1.30h-2.3zM210.2 166.56h6.3v1.30h-6.3zM226.3 166.56h6.3v1.30h-6.3zM218.2 167.56h6.3v1.30h-6.3zM214.2 168.56h2.3v1.30h-2.3zM220.3 168.56h8.3v1.30h-8.3zM230.3 168.56h2.3v1.30h-2.3zM228.3 172.55h4.3v1.30h-4.3zM218.2 173.55h4.3v1.30h-4.3zM194.2 174.55h6.3v1.30h-6.3zM218.2 174.55h6.3v1.30h-6.3zM206.2 175.54h8.3v1.30h-8.3zM216.2 175.54h4.3v1.30h-4.3zM226.3 175.54h6.3v1.30h-6.3zM234.3 176.54h2.3v1.30h-2.3zM218.2 177.54h6.3v1.30h-6.3zM226.3 179.54h4.3v1.30h-4.3zM226.3 180.54h6.3v1.30h-6.3zM218.2 181.53h2.3v1.30h-2.3zM226.3 181.53h2.3v1.30h-2.3zM230.3 181.53h2.3v1.30h-2.3zM192.2 183.53h2.3v1.30h-2.3zM220.3 183.53h4.3v1.30h-4.3zM230.3 183.53h2.3v1.30h-2.3zM230.3 184.53h2.3v1.30h-2.3zM204.2 185.53h2.3v1.30h-2.3zM212.2 185.53h4.3v1.30h-4.3zM222.3 185.53h4.3v1.30h-4.3zM228.3 185.53h2.3v1.30h-2.3zM196.2 186.52h10.3v1.30h-10.3zM230.3 186.52h2.3v1.30h-2.3zM214.2 187.52h2.3v1.30h-2.3zM224.3 187.52h6.3v1.30h-6.3zM224.3 188.52h2.3v1.30h-2.3zM228.3 188.52h2.3v1.30h-2.3zM222.3 190.52h2.3v1.30h-2.3zM226.3 190.52h6.3v1.30h-6.3zM190.2 191.51h4.3v1.30h-4.3zM202.2 191.51h4.3v1.30h-4.3zM218.2 191.51h6.3v1.30h-6.3zM192.2 192.51h2.3v1.30h-2.3zM198.2 192.51h4.3v1.30h-4.3zM206.2 192.51h10.3v1.30h-10.3zM218.2 192.51h4.3v1.30h-4.3zM224.3 192.51h2.3v1.30h-2.3zM212.2 193.51h4.3v1.30h-4.3zM222.3 193.51h2.3v1.30h-2.3zM230.3 193.51h2.3v1.30h-2.3zM222.3 194.51h2.3v1.30h-2.3zM230.3 194.51h2.3v1.30h-2.3zM212.2 195.51h2.3v1.30h-2.3zM222.3 196.50h2.3v1.30h-2.3z"/>
<path fill="#e8604e" d="M194.2 48.79h6.3v1.30h-6.3zM216.2 48.79h4.3v1.30h-4.3zM188.2 49.79h4.3v1.30h-4.3zM196.2 49.79h6.3v1.30h-6.3zM216.2 50.79h2.3v1.30h-2.3zM216.2 51.79h4.3v1.30h-4.3zM188.2 55.78h6.3v1.30h-6.3zM206.2 55.78h2.3v1.30h-2.3zM210.2 55.78h2.3v1.30h-2.3zM188.2 56.78h6.3v1.30h-6.3zM216.2 61.77h4.3v1.30h-4.3zM224.3 61.77h4.3v1.30h-4.3zM188.2 62.76h2.3v1.30h-2.3zM206.2 62.76h2.3v1.30h-2.3zM194.2 63.76h4.3v1.30h-4.3zM190.2 66.76h8.3v1.30h-8.3zM188.2 68.75h2.3v1.30h-2.3zM198.2 72.75h4.3v1.30h-4.3zM188.2 79.73h4.3v1.30h-4.3zM194.2 79.73h2.3v1.30h-2.3zM188.2 80.73h8.3v1.30h-8.3zM210.2 80.73h4.3v1.30h-4.3zM216.2 80.73h8.3v1.30h-8.3zM188.2 81.73h4.3v1.30h-4.3zM194.2 81.73h2.3v1.30h-2.3zM190.2 86.72h2.3v1.30h-2.3zM190.2 88.71h2.3v1.30h-2.3zM216.2 88.71h2.3v1.30h-2.3zM188.2 90.71h2.3v1.30h-2.3zM188.2 91.71h4.3v1.30h-4.3zM206.2 96.70h2.3v1.30h-2.3zM188.2 100.69h4.3v1.30h-4.3zM194.2 100.69h6.3v1.30h-6.3zM188.2 105.68h2.3v1.30h-2.3zM206.2 105.68h4.3v1.30h-4.3zM188.2 106.68h2.3v1.30h-2.3zM188.2 107.68h4.3v1.30h-4.3zM188.2 111.67h4.3v1.30h-4.3zM188.2 116.66h2.3v1.30h-2.3zM188.2 117.66h2.3v1.30h-2.3zM188.2 118.66h4.3v1.30h-4.3zM188.2 119.65h2.3v1.30h-2.3zM188.2 120.65h2.3v1.30h-2.3zM194.2 121.65h4.3v1.30h-4.3zM200.2 121.65h2.3v1.30h-2.3zM216.2 121.65h2.3v1.30h-2.3zM196.2 122.65h6.3v1.30h-6.3zM206.2 122.65h4.3v1.30h-4.3zM194.2 123.65h2.3v1.30h-2.3zM196.2 135.62h2.3v1.30h-2.3zM188.2 136.62h2.3v1.30h-2.3zM188.2 140.61h2.3v1.30h-2.3zM188.2 142.61h2.3v1.30h-2.3zM206.2 143.61h6.3v1.30h-6.3zM214.2 143.61h6.3v1.30h-6.3zM188.2 150.59h2.3v1.30h-2.3zM208.2 151.59h4.3v1.30h-4.3zM188.2 153.59h2.3v1.30h-2.3zM190.2 169.56h4.3v1.30h-4.3zM216.2 169.56h4.3v1.30h-4.3zM188.2 170.55h2.3v1.30h-2.3zM192.2 171.55h2.3v1.30h-2.3zM196.2 171.55h4.3v1.30h-4.3zM206.2 171.55h4.3v1.30h-4.3zM216.2 171.55h2.3v1.30h-2.3zM188.2 172.55h10.3v1.30h-10.3zM188.2 180.54h4.3v1.30h-4.3zM194.2 180.54h4.3v1.30h-4.3zM188.2 182.53h2.3v1.30h-2.3zM194.2 182.53h6.3v1.30h-6.3zM206.2 190.52h4.3v1.30h-4.3z"/>
<path fill="#e44630" d="M194.2 49.79h2.3v1.30h-2.3zM188.2 66.76h2.3v1.30h-2.3zM194.2 72.75h4.3v1.30h-4.3zM206.2 80.73h4.3v1.30h-4.3zM188.2 88.71h2.3v1.30h-2.3zM194.2 122.65h2.3v1.30h-2.3zM206.2 151.59h2.3v1.30h-2.3zM216.2 151.59h2.3v1.30h-2.3zM188.2 163.57h2.3v1.30h-2.3zM188.2 164.57h2.3v1.30h-2.3zM188.2 169.56h2.3v1.30h-2.3zM188.2 171.55h4.3v1.30h-4.3zM194.2 171.55h2.3v1.30h-2.3z"/>
<path fill="#b2d9e2" d="M270.3 51.79h14.3v1.30h-14.3zM288.4 51.79h2.3v1.30h-2.3zM298.4 51.79h14.3v1.30h-14.3zM270.3 52.78h42.4v1.30h-42.4zM270.3 55.78h2.3v1.30h-2.3zM274.3 55.78h6.3v1.30h-6.3zM296.4 55.78h4.3v1.30h-4.3zM270.3 58.77h6.3v1.30h-6.3zM296.4 58.77h8.3v1.30h-8.3zM306.4 58.77h6.3v1.30h-6.3zM260.3 59.77h2.3v1.30h-2.3zM270.3 59.77h30.3v1.30h-30.3zM296.4 67.76h2.3v1.30h-2.3zM306.4 67.76h2.3v1.30h-2.3zM310.4 67.76h2.3v1.30h-2.3zM270.3 82.73h4.3v1.30h-4.3zM288.4 82.73h2.3v1.30h-2.3zM292.4 82.73h14.3v1.30h-14.3zM308.4 82.73h4.3v1.30h-4.3zM270.3 83.72h42.4v1.30h-42.4zM274.3 84.72h2.3v1.30h-2.3zM278.3 85.72h2.3v1.30h-2.3zM282.4 85.72h2.3v1.30h-2.3zM286.4 85.72h2.3v1.30h-2.3zM290.4 85.72h4.3v1.30h-4.3zM300.4 85.72h2.3v1.30h-2.3zM308.4 85.72h4.3v1.30h-4.3zM276.3 87.72h2.3v1.30h-2.3zM284.4 87.72h2.3v1.30h-2.3zM270.3 90.71h2.3v1.30h-2.3zM274.3 90.71h2.3v1.30h-2.3zM282.4 90.71h6.3v1.30h-6.3zM300.4 90.71h12.3v1.30h-12.3zM282.4 91.71h2.3v1.30h-2.3zM302.4 91.71h6.3v1.30h-6.3zM272.3 94.70h4.3v1.30h-4.3zM278.3 94.70h14.3v1.30h-14.3zM294.4 94.70h2.3v1.30h-2.3zM306.4 94.70h6.3v1.30h-6.3zM272.3 95.70h12.3v1.30h-12.3zM296.4 95.70h8.3v1.30h-8.3zM270.3 102.69h2.3v1.30h-2.3zM286.4 102.69h2.3v1.30h-2.3zM270.3 109.67h2.3v1.30h-2.3zM278.3 109.67h2.3v1.30h-2.3zM284.4 109.67h2.3v1.30h-2.3zM296.4 109.67h4.3v1.30h-4.3zM310.4 109.67h2.3v1.30h-2.3zM284.4 110.67h2.3v1.30h-2.3zM288.4 110.67h2.3v1.30h-2.3zM298.4 110.67h6.3v1.30h-6.3zM276.3 115.66h2.3v1.30h-2.3zM302.4 122.65h2.3v1.30h-2.3zM270.3 124.64h12.3v1.30h-12.3zM298.4 124.64h14.3v1.30h-14.3zM270.3 127.64h2.3v1.30h-2.3zM274.3 127.64h2.3v1.30h-2.3zM280.3 127.64h4.3v1.30h-4.3zM286.4 127.64h2.3v1.30h-2.3zM290.4 127.64h6.3v1.30h-6.3zM298.4 127.64h4.3v1.30h-4.3zM304.4 127.64h8.3v1.30h-8.3zM270.3 128.64h20.3v1.30h-20.3zM276.3 129.63h2.3v1.30h-2.3zM282.4 129.63h2.3v1.30h-2.3zM286.4 129.63h4.3v1.30h-4.3zM272.3 130.63h6.3v1.30h-6.3zM286.4 130.63h12.3v1.30h-12.3zM300.4 130.63h4.3v1.30h-4.3zM306.4 130.63h4.3v1.30h-4.3zM274.3 137.62h4.3v1.30h-4.3zM284.4 137.62h2.3v1.30h-2.3zM288.4 137.62h2.3v1.30h-2.3zM308.4 137.62h4.3v1.30h-4.3zM274.3 138.62h2.3v1.30h-2.3zM290.4 138.62h4.3v1.30h-4.3zM296.4 138.62h16.3v1.30h-16.3zM270.3 139.61h2.3v1.30h-2.3zM274.3 139.61h4.3v1.30h-4.3zM296.4 139.61h2.3v1.30h-2.3zM302.4 139.61h2.3v1.30h-2.3zM306.4 139.61h6.3v1.30h-6.3zM282.4 145.60h2.3v1.30h-2.3zM272.3 157.58h4.3v1.30h-4.3zM270.3 159.58h2.3v1.30h-2.3zM280.3 159.58h2.3v1.30h-2.3zM294.4 159.58h2.3v1.30h-2.3zM304.4 159.58h6.3v1.30h-6.3zM276.3 160.57h2.3v1.30h-2.3zM288.4 160.57h2.3v1.30h-2.3zM292.4 160.57h4.3v1.30h-4.3zM298.4 160.57h2.3v1.30h-2.3zM302.4 160.57h2.3v1.30h-2.3zM308.4 160.57h2.3v1.30h-2.3zM274.3 166.56h2.3v1.30h-2.3zM280.3 168.56h4.3v1.30h-4.3zM288.4 168.56h8.3v1.30h-8.3zM298.4 168.56h2.3v1.30h-2.3zM306.4 168.56h4.3v1.30h-4.3zM278.3 173.55h4.3v1.30h-4.3zM290.4 173.55h2.3v1.30h-2.3zM276.3 174.55h12.3v1.30h-12.3zM290.4 174.55h12.3v1.30h-12.3zM304.4 174.55h8.3v1.30h-8.3zM270.3 175.54h18.3v1.30h-18.3zM302.4 175.54h10.3v1.30h-10.3zM292.4 183.53h8.3v1.30h-8.3zM282.4 184.53h6.3v1.30h-6.3zM290.4 184.53h4.3v1.30h-4.3zM270.3 185.53h8.3v1.30h-8.3zM280.3 185.53h8.3v1.30h-8.3zM294.4 185.53h18.3v1.30h-18.3zM278.3 191.51h2.3v1.30h-2.3zM308.4 191.51h2.3v1.30h-2.3zM270.3 192.51h2.3v1.30h-2.3zM288.4 192.51h4.3v1.30h-4.3zM308.4 192.51h2.3v1.30h-2.3zM270.3 193.51h4.3v1.30h-4.3zM276.3 193.51h4.3v1.30h-4.3zM292.4 193.51h12.3v1.30h-12.3zM306.4 193.51h2.3v1.30h-2.3zM286.4 194.51h4.3v1.30h-4.3z"/>
</g></g>
<text x="315.20" y="34.00" font-size="8.8" text-anchor="start" fill="#222" >Class</text>
<text x="315.20" y="43.40" font-size="8.8" text-anchor="start" fill="#222" >GS</text>
<text x="315.30" y="59.00" font-size="8.8" text-anchor="start" fill="#222" >Class</text>
<rect x="316.10" y="62.00" width="7.60" height="8.60" fill="#c2e04a" />
<text x="325.70" y="70.00" font-size="9.5" text-anchor="start" fill="#222" >T</text>
<rect x="316.10" y="71.60" width="7.60" height="8.60" fill="#5ebfa8" />
<text x="325.70" y="79.60" font-size="9.5" text-anchor="start" fill="#222" >N</text>
<text x="316.10" y="96.50" font-size="8.8" text-anchor="start" fill="#222" >GS</text>
<rect x="316.90" y="100.20" width="8.00" height="7.90" fill="#e3dcc0" />
<text x="327.10" y="107.40" font-size="9.0" text-anchor="start" fill="#222" >6</text>
<rect x="316.90" y="108.65" width="8.00" height="7.90" fill="#d9bb8f" />
<text x="327.10" y="115.85" font-size="9.0" text-anchor="start" fill="#222" >3+4</text>
<rect x="316.90" y="117.10" width="8.00" height="7.90" fill="#cf9c73" />
<text x="327.10" y="124.30" font-size="9.0" text-anchor="start" fill="#222" >4+3</text>
<rect x="316.90" y="125.55" width="8.00" height="7.90" fill="#d5775a" />
<text x="327.10" y="132.75" font-size="9.0" text-anchor="start" fill="#222" >8</text>
<rect x="316.90" y="134.00" width="8.00" height="7.90" fill="#cf5a4e" />
<text x="327.10" y="141.20" font-size="9.0" text-anchor="start" fill="#222" >9</text>
<text x="317.10" y="155.40" font-size="7.6" text-anchor="start" fill="#222" >Ratio</text>
<defs><linearGradient id="gradb" x1="0" y1="0" x2="0" y2="1"><stop offset="0" stop-color="#e63f2c"/><stop offset="0.5" stop-color="#eda898"/><stop offset="0.84" stop-color="#ffffff"/><stop offset="0.9" stop-color="#e6f2f4"/><stop offset="0.93" stop-color="#bcdde4"/><stop offset="1" stop-color="#bcdde4"/></linearGradient></defs>
<rect x="318.40" y="160.00" width="8.30" height="36.70" fill="url(#gradb)" />
<line x1="318.40" y1="160.80" x2="319.80" y2="160.80" stroke="#fff" stroke-width="0.7" />
<line x1="325.30" y1="160.80" x2="326.70" y2="160.80" stroke="#fff" stroke-width="0.7" />
<line x1="318.40" y1="178.50" x2="319.80" y2="178.50" stroke="#fff" stroke-width="0.7" />
<line x1="325.30" y1="178.50" x2="326.70" y2="178.50" stroke="#fff" stroke-width="0.7" />
<line x1="318.40" y1="194.70" x2="319.80" y2="194.70" stroke="#fff" stroke-width="0.7" />
<line x1="325.30" y1="194.70" x2="326.70" y2="194.70" stroke="#fff" stroke-width="0.7" />
<text x="329.40" y="164.70" font-size="8.6" text-anchor="start" fill="#222" >1</text>
<text x="328.70" y="179.30" font-size="8.6" text-anchor="start" fill="#222" >0.5</text>
<text x="328.70" y="197.30" font-size="8.6" text-anchor="start" fill="#222" >0</text>
<text x="347.00" y="12.20" font-size="12.5" text-anchor="start" fill="#222" >c</text>
<text x="361.00" y="22.60" font-size="10" text-anchor="start" fill="#222" >Hypermethylation marker ROC</text>
<line x1="393.50" y1="43.80" x2="393.50" y2="180.40" stroke="#000" stroke-width="1.3" />
<line x1="391.30" y1="83.50" x2="393.50" y2="83.50" stroke="#000" stroke-width="0.8" />
<text x="390.10" y="86.60" font-size="8.8" text-anchor="end" fill="#222" >1.00</text>
<line x1="391.30" y1="113.65" x2="393.50" y2="113.65" stroke="#000" stroke-width="0.8" />
<text x="390.10" y="116.75" font-size="8.8" text-anchor="end" fill="#222" >0.95</text>
<line x1="391.30" y1="143.80" x2="393.50" y2="143.80" stroke="#000" stroke-width="0.8" />
<text x="390.10" y="146.90" font-size="8.8" text-anchor="end" fill="#222" >0.90</text>
<line x1="391.30" y1="173.95" x2="393.50" y2="173.95" stroke="#000" stroke-width="0.8" />
<text x="390.10" y="177.05" font-size="8.8" text-anchor="end" fill="#222" >0.85</text>
<line x1="392.85" y1="180.40" x2="497.50" y2="180.40" stroke="#000" stroke-width="1.3" />
<line x1="421.50" y1="180.40" x2="421.50" y2="182.60" stroke="#000" stroke-width="0.8" />
<line x1="469.50" y1="180.40" x2="469.50" y2="182.60" stroke="#000" stroke-width="0.8" />
<text x="0" y="0" font-size="8.6" text-anchor="middle" fill="#222" transform="translate(365.00,117.50) rotate(-90)">AUC</text>
<text x="423.50" y="192.30" font-size="8.8" text-anchor="middle" fill="#222" >mDMR</text>
<text x="470.50" y="192.30" font-size="8.8" text-anchor="middle" fill="#222" >pDMR</text>
<polyline points="421.50,62.30 421.50,60.30 469.50,60.30 469.50,62.30" fill="none" stroke="#1a1a1a" stroke-width="0.9" />
<text x="446.80" y="59.80" font-size="8.6" text-anchor="middle" fill="#1a1a1a" letter-spacing="0.65" stroke="#1a1a1a" stroke-width="0.12">****</text>
<circle cx="424.98" cy="84.78" r="2.50" fill="#68ad8c" stroke="#2f4f3f" stroke-width="0.7" />
<circle cx="415.02" cy="88.70" r="2.50" fill="#68ad8c" stroke="#2f4f3f" stroke-width="0.7" />
<circle cx="417.93" cy="87.87" r="2.50" fill="#68ad8c" stroke="#2f4f3f" stroke-width="0.7" />
<circle cx="424.60" cy="88.75" r="2.50" fill="#68ad8c" stroke="#2f4f3f" stroke-width="0.7" />
<circle cx="414.71" cy="139.78" r="2.50" fill="#68ad8c" stroke="#2f4f3f" stroke-width="0.7" />
<circle cx="420.55" cy="132.77" r="2.50" fill="#68ad8c" stroke="#2f4f3f" stroke-width="0.7" />
<circle cx="423.49" cy="89.88" r="2.50" fill="#68ad8c" stroke="#2f4f3f" stroke-width="0.7" />
<circle cx="421.72" cy="83.81" r="2.50" fill="#68ad8c" stroke="#2f4f3f" stroke-width="0.7" />
<circle cx="416.62" cy="121.35" r="2.50" fill="#68ad8c" stroke="#2f4f3f" stroke-width="0.7" />
<circle cx="417.15" cy="98.35" r="2.50" fill="#68ad8c" stroke="#2f4f3f" stroke-width="0.7" />
<circle cx="415.09" cy="91.93" r="2.50" fill="#68ad8c" stroke="#2f4f3f" stroke-width="0.7" />
<circle cx="413.76" cy="95.49" r="2.50" fill="#68ad8c" stroke="#2f4f3f" stroke-width="0.7" />
<circle cx="419.39" cy="117.58" r="2.50" fill="#68ad8c" stroke="#2f4f3f" stroke-width="0.7" />
<circle cx="428.74" cy="86.45" r="2.50" fill="#68ad8c" stroke="#2f4f3f" stroke-width="0.7" />
<circle cx="424.68" cy="121.87" r="2.50" fill="#68ad8c" stroke="#2f4f3f" stroke-width="0.7" />
<circle cx="421.09" cy="102.61" r="2.50" fill="#68ad8c" stroke="#2f4f3f" stroke-width="0.7" />
<circle cx="426.93" cy="103.69" r="2.50" fill="#68ad8c" stroke="#2f4f3f" stroke-width="0.7" />
<circle cx="424.28" cy="109.94" r="2.50" fill="#68ad8c" stroke="#2f4f3f" stroke-width="0.7" />
<circle cx="415.88" cy="156.86" r="2.50" fill="#68ad8c" stroke="#2f4f3f" stroke-width="0.7" />
<circle cx="423.94" cy="85.78" r="2.50" fill="#68ad8c" stroke="#2f4f3f" stroke-width="0.7" />
<circle cx="417.58" cy="103.36" r="2.50" fill="#68ad8c" stroke="#2f4f3f" stroke-width="0.7" />
<circle cx="418.98" cy="107.02" r="2.50" fill="#68ad8c" stroke="#2f4f3f" stroke-width="0.7" />
<circle cx="419.10" cy="97.60" r="2.50" fill="#68ad8c" stroke="#2f4f3f" stroke-width="0.7" />
<circle cx="419.09" cy="141.53" r="2.50" fill="#68ad8c" stroke="#2f4f3f" stroke-width="0.7" />
<circle cx="428.71" cy="88.64" r="2.50" fill="#68ad8c" stroke="#2f4f3f" stroke-width="0.7" />
<circle cx="418.53" cy="85.90" r="2.50" fill="#68ad8c" stroke="#2f4f3f" stroke-width="0.7" />
<circle cx="417.87" cy="115.63" r="2.50" fill="#68ad8c" stroke="#2f4f3f" stroke-width="0.7" />
<circle cx="425.05" cy="92.85" r="2.50" fill="#68ad8c" stroke="#2f4f3f" stroke-width="0.7" />
<circle cx="423.06" cy="106.12" r="2.50" fill="#68ad8c" stroke="#2f4f3f" stroke-width="0.7" />
<circle cx="418.99" cy="103.99" r="2.50" fill="#68ad8c" stroke="#2f4f3f" stroke-width="0.7" />
<circle cx="421.31" cy="122.18" r="2.50" fill="#68ad8c" stroke="#2f4f3f" stroke-width="0.7" />
<circle cx="426.48" cy="115.67" r="2.50" fill="#68ad8c" stroke="#2f4f3f" stroke-width="0.7" />
<circle cx="430.04" cy="126.20" r="2.50" fill="#68ad8c" stroke="#2f4f3f" stroke-width="0.7" />
<circle cx="422.93" cy="120.09" r="2.50" fill="#68ad8c" stroke="#2f4f3f" stroke-width="0.7" />
<circle cx="427.85" cy="145.91" r="2.50" fill="#68ad8c" stroke="#2f4f3f" stroke-width="0.7" />
<circle cx="413.89" cy="122.44" r="2.50" fill="#68ad8c" stroke="#2f4f3f" stroke-width="0.7" />
<circle cx="422.70" cy="87.30" r="2.50" fill="#68ad8c" stroke="#2f4f3f" stroke-width="0.7" />
<circle cx="418.24" cy="83.93" r="2.50" fill="#68ad8c" stroke="#2f4f3f" stroke-width="0.7" />
<circle cx="428.75" cy="95.44" r="2.50" fill="#68ad8c" stroke="#2f4f3f" stroke-width="0.7" />
<circle cx="428.13" cy="112.18" r="2.50" fill="#68ad8c" stroke="#2f4f3f" stroke-width="0.7" />
<circle cx="429.05" cy="104.95" r="2.50" fill="#68ad8c" stroke="#2f4f3f" stroke-width="0.7" />
<circle cx="415.44" cy="132.77" r="2.50" fill="#68ad8c" stroke="#2f4f3f" stroke-width="0.7" />
<circle cx="425.40" cy="117.48" r="2.50" fill="#68ad8c" stroke="#2f4f3f" stroke-width="0.7" />
<circle cx="413.54" cy="118.04" r="2.50" fill="#68ad8c" stroke="#2f4f3f" stroke-width="0.7" />
<circle cx="413.18" cy="105.29" r="2.50" fill="#68ad8c" stroke="#2f4f3f" stroke-width="0.7" />
<circle cx="416.61" cy="115.76" r="2.50" fill="#68ad8c" stroke="#2f4f3f" stroke-width="0.7" />
<circle cx="419.18" cy="88.75" r="2.50" fill="#68ad8c" stroke="#2f4f3f" stroke-width="0.7" />
<circle cx="417.58" cy="91.31" r="2.50" fill="#68ad8c" stroke="#2f4f3f" stroke-width="0.7" />
<circle cx="419.82" cy="128.39" r="2.50" fill="#68ad8c" stroke="#2f4f3f" stroke-width="0.7" />
<circle cx="413.98" cy="128.39" r="2.50" fill="#68ad8c" stroke="#2f4f3f" stroke-width="0.7" />
<circle cx="428.27" cy="122.32" r="2.50" fill="#68ad8c" stroke="#2f4f3f" stroke-width="0.7" />
<circle cx="422.33" cy="113.83" r="2.50" fill="#68ad8c" stroke="#2f4f3f" stroke-width="0.7" />
<circle cx="427.51" cy="120.78" r="2.50" fill="#68ad8c" stroke="#2f4f3f" stroke-width="0.7" />
<circle cx="419.01" cy="120.29" r="2.50" fill="#68ad8c" stroke="#2f4f3f" stroke-width="0.7" />
<circle cx="429.69" cy="117.91" r="2.50" fill="#68ad8c" stroke="#2f4f3f" stroke-width="0.7" />
<circle cx="411.78" cy="89.36" r="2.50" fill="#68ad8c" stroke="#2f4f3f" stroke-width="0.7" />
<circle cx="424.93" cy="129.12" r="2.50" fill="#68ad8c" stroke="#2f4f3f" stroke-width="0.7" />
<circle cx="420.54" cy="110.05" r="2.50" fill="#68ad8c" stroke="#2f4f3f" stroke-width="0.7" />
<circle cx="427.13" cy="107.67" r="2.50" fill="#68ad8c" stroke="#2f4f3f" stroke-width="0.7" />
<circle cx="415.23" cy="85.53" r="2.50" fill="#68ad8c" stroke="#2f4f3f" stroke-width="0.7" />
<circle cx="430.77" cy="138.32" r="2.50" fill="#68ad8c" stroke="#2f4f3f" stroke-width="0.7" />
<circle cx="423.18" cy="96.92" r="2.50" fill="#68ad8c" stroke="#2f4f3f" stroke-width="0.7" />
<circle cx="424.44" cy="103.96" r="2.50" fill="#68ad8c" stroke="#2f4f3f" stroke-width="0.7" />
<circle cx="430.74" cy="99.84" r="2.50" fill="#68ad8c" stroke="#2f4f3f" stroke-width="0.7" />
<circle cx="421.19" cy="99.17" r="2.50" fill="#68ad8c" stroke="#2f4f3f" stroke-width="0.7" />
<circle cx="416.93" cy="109.04" r="2.50" fill="#68ad8c" stroke="#2f4f3f" stroke-width="0.7" />
<circle cx="426.85" cy="91.41" r="2.50" fill="#68ad8c" stroke="#2f4f3f" stroke-width="0.7" />
<circle cx="426.39" cy="131.31" r="2.50" fill="#68ad8c" stroke="#2f4f3f" stroke-width="0.7" />
<circle cx="419.74" cy="93.11" r="2.50" fill="#68ad8c" stroke="#2f4f3f" stroke-width="0.7" />
<circle cx="432.06" cy="89.11" r="2.50" fill="#68ad8c" stroke="#2f4f3f" stroke-width="0.7" />
<circle cx="428.04" cy="97.69" r="2.50" fill="#68ad8c" stroke="#2f4f3f" stroke-width="0.7" />
<circle cx="411.65" cy="101.23" r="2.50" fill="#68ad8c" stroke="#2f4f3f" stroke-width="0.7" />
<circle cx="411.80" cy="86.52" r="2.50" fill="#68ad8c" stroke="#2f4f3f" stroke-width="0.7" />
<circle cx="425.17" cy="98.87" r="2.50" fill="#68ad8c" stroke="#2f4f3f" stroke-width="0.7" />
<circle cx="414.49" cy="103.92" r="2.50" fill="#68ad8c" stroke="#2f4f3f" stroke-width="0.7" />
<circle cx="413.98" cy="112.28" r="2.50" fill="#68ad8c" stroke="#2f4f3f" stroke-width="0.7" />
<circle cx="460.19" cy="83.50" r="2.50" fill="#e8aaa8" stroke="#6a4a4a" stroke-width="0.7" />
<circle cx="468.66" cy="83.50" r="2.50" fill="#e8aaa8" stroke="#6a4a4a" stroke-width="0.7" />
<circle cx="475.00" cy="117.45" r="2.50" fill="#e8aaa8" stroke="#6a4a4a" stroke-width="0.7" />
<circle cx="460.99" cy="109.12" r="2.50" fill="#e8aaa8" stroke="#6a4a4a" stroke-width="0.7" />
<circle cx="475.29" cy="105.04" r="2.50" fill="#e8aaa8" stroke="#6a4a4a" stroke-width="0.7" />
<circle cx="476.66" cy="92.82" r="2.50" fill="#e8aaa8" stroke="#6a4a4a" stroke-width="0.7" />
<circle cx="467.26" cy="110.88" r="2.50" fill="#e8aaa8" stroke="#6a4a4a" stroke-width="0.7" />
<circle cx="470.91" cy="127.66" r="2.50" fill="#e8aaa8" stroke="#6a4a4a" stroke-width="0.7" />
<circle cx="465.66" cy="83.50" r="2.50" fill="#e8aaa8" stroke="#6a4a4a" stroke-width="0.7" />
<circle cx="470.91" cy="113.80" r="2.50" fill="#e8aaa8" stroke="#6a4a4a" stroke-width="0.7" />
<circle cx="474.47" cy="83.50" r="2.50" fill="#e8aaa8" stroke="#6a4a4a" stroke-width="0.7" />
<circle cx="464.77" cy="83.50" r="2.50" fill="#e8aaa8" stroke="#6a4a4a" stroke-width="0.7" />
<circle cx="463.03" cy="83.50" r="2.50" fill="#e8aaa8" stroke="#6a4a4a" stroke-width="0.7" />
<circle cx="470.91" cy="109.42" r="2.50" fill="#e8aaa8" stroke="#6a4a4a" stroke-width="0.7" />
<circle cx="473.24" cy="83.50" r="2.50" fill="#e8aaa8" stroke="#6a4a4a" stroke-width="0.7" />
<circle cx="476.65" cy="87.33" r="2.50" fill="#e8aaa8" stroke="#6a4a4a" stroke-width="0.7" />
<circle cx="462.76" cy="93.87" r="2.50" fill="#e8aaa8" stroke="#6a4a4a" stroke-width="0.7" />
<circle cx="470.72" cy="83.50" r="2.50" fill="#e8aaa8" stroke="#6a4a4a" stroke-width="0.7" />
<circle cx="461.42" cy="123.28" r="2.50" fill="#e8aaa8" stroke="#6a4a4a" stroke-width="0.7" />
<circle cx="460.50" cy="83.50" r="2.50" fill="#e8aaa8" stroke="#6a4a4a" stroke-width="0.7" />
<circle cx="463.64" cy="88.04" r="2.50" fill="#e8aaa8" stroke="#6a4a4a" stroke-width="0.7" />
<circle cx="464.78" cy="117.45" r="2.50" fill="#e8aaa8" stroke="#6a4a4a" stroke-width="0.7" />
<circle cx="460.69" cy="100.66" r="2.50" fill="#e8aaa8" stroke="#6a4a4a" stroke-width="0.7" />
<circle cx="468.86" cy="89.66" r="2.50" fill="#e8aaa8" stroke="#6a4a4a" stroke-width="0.7" />
<circle cx="470.18" cy="131.31" r="2.50" fill="#e8aaa8" stroke="#6a4a4a" stroke-width="0.7" />
<circle cx="469.41" cy="94.14" r="2.50" fill="#e8aaa8" stroke="#6a4a4a" stroke-width="0.7" />
<circle cx="474.62" cy="88.56" r="2.50" fill="#e8aaa8" stroke="#6a4a4a" stroke-width="0.7" />
<circle cx="478.69" cy="83.50" r="2.50" fill="#e8aaa8" stroke="#6a4a4a" stroke-width="0.7" />
<line x1="421.50" y1="91.94" x2="421.50" y2="122.09" stroke="#000" stroke-width="1.1" />
<circle cx="421.50" cy="107.02" r="2.60" fill="#000" stroke="none" stroke-width="0.5" />
<line x1="469.50" y1="77.47" x2="469.50" y2="97.97" stroke="#000" stroke-width="1.1" />
<circle cx="469.50" cy="87.72" r="2.60" fill="#000" stroke="none" stroke-width="0.5" />
<text x="511.50" y="12.20" font-size="12.5" text-anchor="start" fill="#222" >d</text>
<text x="523.20" y="22.60" font-size="10" text-anchor="start" fill="#222" >Hypomythelation marker ROC</text>
<line x1="556.70" y1="43.80" x2="556.70" y2="180.40" stroke="#000" stroke-width="1.3" />
<line x1="554.50" y1="83.50" x2="556.70" y2="83.50" stroke="#000" stroke-width="0.8" />
<text x="553.30" y="86.60" font-size="8.8" text-anchor="end" fill="#222" >1.00</text>
<line x1="554.50" y1="113.65" x2="556.70" y2="113.65" stroke="#000" stroke-width="0.8" />
<text x="553.30" y="116.75" font-size="8.8" text-anchor="end" fill="#222" >0.95</text>
<line x1="554.50" y1="143.80" x2="556.70" y2="143.80" stroke="#000" stroke-width="0.8" />
<text x="553.30" y="146.90" font-size="8.8" text-anchor="end" fill="#222" >0.90</text>
<line x1="554.50" y1="173.95" x2="556.70" y2="173.95" stroke="#000" stroke-width="0.8" />
<text x="553.30" y="177.05" font-size="8.8" text-anchor="end" fill="#222" >0.85</text>
<line x1="556.05" y1="180.40" x2="664.40" y2="180.40" stroke="#000" stroke-width="1.3" />
<line x1="585.90" y1="180.40" x2="585.90" y2="182.60" stroke="#000" stroke-width="0.8" />
<line x1="634.50" y1="180.40" x2="634.50" y2="182.60" stroke="#000" stroke-width="0.8" />
<text x="0" y="0" font-size="8.6" text-anchor="middle" fill="#222" transform="translate(528.20,117.50) rotate(-90)">AUC</text>
<text x="587.90" y="192.30" font-size="8.8" text-anchor="middle" fill="#222" >mDMR</text>
<text x="635.50" y="192.30" font-size="8.8" text-anchor="middle" fill="#222" >pDMR</text>
<polyline points="585.90,62.30 585.90,60.30 634.50,60.30 634.50,62.30" fill="none" stroke="#1a1a1a" stroke-width="0.9" />
<text x="611.50" y="59.80" font-size="8.6" text-anchor="middle" fill="#1a1a1a" letter-spacing="0.65" stroke="#1a1a1a" stroke-width="0.12">****</text>
<circle cx="580.60" cy="89.20" r="2.50" fill="#68ad8c" stroke="#2f4f3f" stroke-width="0.7" />
<circle cx="578.70" cy="85.25" r="2.50" fill="#68ad8c" stroke="#2f4f3f" stroke-width="0.7" />
<circle cx="584.76" cy="164.47" r="2.50" fill="#68ad8c" stroke="#2f4f3f" stroke-width="0.7" />
<circle cx="581.70" cy="88.49" r="2.50" fill="#68ad8c" stroke="#2f4f3f" stroke-width="0.7" />
<circle cx="581.61" cy="96.33" r="2.50" fill="#68ad8c" stroke="#2f4f3f" stroke-width="0.7" />
<circle cx="590.87" cy="96.68" r="2.50" fill="#68ad8c" stroke="#2f4f3f" stroke-width="0.7" />
<circle cx="576.36" cy="91.96" r="2.50" fill="#68ad8c" stroke="#2f4f3f" stroke-width="0.7" />
<circle cx="587.79" cy="86.92" r="2.50" fill="#68ad8c" stroke="#2f4f3f" stroke-width="0.7" />
<circle cx="588.58" cy="85.36" r="2.50" fill="#68ad8c" stroke="#2f4f3f" stroke-width="0.7" />
<circle cx="593.73" cy="145.40" r="2.50" fill="#68ad8c" stroke="#2f4f3f" stroke-width="0.7" />
<circle cx="579.15" cy="158.86" r="2.50" fill="#68ad8c" stroke="#2f4f3f" stroke-width="0.7" />
<circle cx="575.79" cy="134.19" r="2.50" fill="#68ad8c" stroke="#2f4f3f" stroke-width="0.7" />
<circle cx="579.08" cy="97.56" r="2.50" fill="#68ad8c" stroke="#2f4f3f" stroke-width="0.7" />
<circle cx="592.66" cy="102.33" r="2.50" fill="#68ad8c" stroke="#2f4f3f" stroke-width="0.7" />
<circle cx="585.74" cy="104.84" r="2.50" fill="#68ad8c" stroke="#2f4f3f" stroke-width="0.7" />
<circle cx="593.01" cy="88.83" r="2.50" fill="#68ad8c" stroke="#2f4f3f" stroke-width="0.7" />
<circle cx="585.88" cy="135.99" r="2.50" fill="#68ad8c" stroke="#2f4f3f" stroke-width="0.7" />
<circle cx="580.28" cy="140.92" r="2.50" fill="#68ad8c" stroke="#2f4f3f" stroke-width="0.7" />
<circle cx="594.85" cy="138.68" r="2.50" fill="#68ad8c" stroke="#2f4f3f" stroke-width="0.7" />
<circle cx="587.77" cy="101.57" r="2.50" fill="#68ad8c" stroke="#2f4f3f" stroke-width="0.7" />
<circle cx="585.96" cy="111.10" r="2.50" fill="#68ad8c" stroke="#2f4f3f" stroke-width="0.7" />
<circle cx="581.41" cy="114.63" r="2.50" fill="#68ad8c" stroke="#2f4f3f" stroke-width="0.7" />
<circle cx="590.13" cy="118.05" r="2.50" fill="#68ad8c" stroke="#2f4f3f" stroke-width="0.7" />
<circle cx="588.85" cy="115.77" r="2.50" fill="#68ad8c" stroke="#2f4f3f" stroke-width="0.7" />
<circle cx="581.40" cy="136.43" r="2.50" fill="#68ad8c" stroke="#2f4f3f" stroke-width="0.7" />
<circle cx="590.61" cy="85.03" r="2.50" fill="#68ad8c" stroke="#2f4f3f" stroke-width="0.7" />
<circle cx="584.66" cy="117.63" r="2.50" fill="#68ad8c" stroke="#2f4f3f" stroke-width="0.7" />
<circle cx="587.00" cy="145.40" r="2.50" fill="#68ad8c" stroke="#2f4f3f" stroke-width="0.7" />
<circle cx="588.60" cy="97.78" r="2.50" fill="#68ad8c" stroke="#2f4f3f" stroke-width="0.7" />
<circle cx="584.01" cy="108.65" r="2.50" fill="#68ad8c" stroke="#2f4f3f" stroke-width="0.7" />
<circle cx="591.55" cy="112.44" r="2.50" fill="#68ad8c" stroke="#2f4f3f" stroke-width="0.7" />
<circle cx="591.49" cy="130.83" r="2.50" fill="#68ad8c" stroke="#2f4f3f" stroke-width="0.7" />
<circle cx="577.42" cy="110.89" r="2.50" fill="#68ad8c" stroke="#2f4f3f" stroke-width="0.7" />
<circle cx="582.52" cy="154.38" r="2.50" fill="#68ad8c" stroke="#2f4f3f" stroke-width="0.7" />
<circle cx="588.98" cy="91.45" r="2.50" fill="#68ad8c" stroke="#2f4f3f" stroke-width="0.7" />
<circle cx="593.74" cy="110.27" r="2.50" fill="#68ad8c" stroke="#2f4f3f" stroke-width="0.7" />
<circle cx="589.04" cy="108.28" r="2.50" fill="#68ad8c" stroke="#2f4f3f" stroke-width="0.7" />
<circle cx="583.75" cy="86.00" r="2.50" fill="#68ad8c" stroke="#2f4f3f" stroke-width="0.7" />
<circle cx="578.75" cy="107.55" r="2.50" fill="#68ad8c" stroke="#2f4f3f" stroke-width="0.7" />
<circle cx="593.40" cy="86.39" r="2.50" fill="#68ad8c" stroke="#2f4f3f" stroke-width="0.7" />
<circle cx="580.93" cy="105.04" r="2.50" fill="#68ad8c" stroke="#2f4f3f" stroke-width="0.7" />
<circle cx="581.68" cy="102.06" r="2.50" fill="#68ad8c" stroke="#2f4f3f" stroke-width="0.7" />
<circle cx="584.09" cy="157.74" r="2.50" fill="#68ad8c" stroke="#2f4f3f" stroke-width="0.7" />
<circle cx="574.91" cy="104.38" r="2.50" fill="#68ad8c" stroke="#2f4f3f" stroke-width="0.7" />
<circle cx="577.80" cy="86.60" r="2.50" fill="#68ad8c" stroke="#2f4f3f" stroke-width="0.7" />
<circle cx="584.06" cy="99.18" r="2.50" fill="#68ad8c" stroke="#2f4f3f" stroke-width="0.7" />
<circle cx="586.80" cy="94.56" r="2.50" fill="#68ad8c" stroke="#2f4f3f" stroke-width="0.7" />
<circle cx="585.59" cy="103.09" r="2.50" fill="#68ad8c" stroke="#2f4f3f" stroke-width="0.7" />
<circle cx="590.37" cy="138.68" r="2.50" fill="#68ad8c" stroke="#2f4f3f" stroke-width="0.7" />
<circle cx="583.64" cy="139.80" r="2.50" fill="#68ad8c" stroke="#2f4f3f" stroke-width="0.7" />
<circle cx="592.04" cy="106.07" r="2.50" fill="#68ad8c" stroke="#2f4f3f" stroke-width="0.7" />
<circle cx="583.02" cy="112.44" r="2.50" fill="#68ad8c" stroke="#2f4f3f" stroke-width="0.7" />
<circle cx="574.67" cy="142.04" r="2.50" fill="#68ad8c" stroke="#2f4f3f" stroke-width="0.7" />
<circle cx="595.85" cy="103.30" r="2.50" fill="#68ad8c" stroke="#2f4f3f" stroke-width="0.7" />
<circle cx="594.16" cy="91.66" r="2.50" fill="#68ad8c" stroke="#2f4f3f" stroke-width="0.7" />
<circle cx="591.23" cy="103.05" r="2.50" fill="#68ad8c" stroke="#2f4f3f" stroke-width="0.7" />
<circle cx="585.66" cy="84.78" r="2.50" fill="#68ad8c" stroke="#2f4f3f" stroke-width="0.7" />
<circle cx="594.71" cy="101.38" r="2.50" fill="#68ad8c" stroke="#2f4f3f" stroke-width="0.7" />
<circle cx="581.79" cy="84.79" r="2.50" fill="#68ad8c" stroke="#2f4f3f" stroke-width="0.7" />
<circle cx="585.15" cy="91.45" r="2.50" fill="#68ad8c" stroke="#2f4f3f" stroke-width="0.7" />
<circle cx="576.91" cy="124.77" r="2.50" fill="#68ad8c" stroke="#2f4f3f" stroke-width="0.7" />
<circle cx="590.37" cy="156.17" r="2.50" fill="#68ad8c" stroke="#2f4f3f" stroke-width="0.7" />
<circle cx="578.03" cy="152.13" r="2.50" fill="#68ad8c" stroke="#2f4f3f" stroke-width="0.7" />
<circle cx="594.85" cy="134.19" r="2.50" fill="#68ad8c" stroke="#2f4f3f" stroke-width="0.7" />
<circle cx="579.15" cy="117.37" r="2.50" fill="#68ad8c" stroke="#2f4f3f" stroke-width="0.7" />
<circle cx="576.21" cy="101.40" r="2.50" fill="#68ad8c" stroke="#2f4f3f" stroke-width="0.7" />
<circle cx="579.51" cy="102.76" r="2.50" fill="#68ad8c" stroke="#2f4f3f" stroke-width="0.7" />
<circle cx="580.49" cy="119.44" r="2.50" fill="#68ad8c" stroke="#2f4f3f" stroke-width="0.7" />
<circle cx="583.64" cy="147.65" r="2.50" fill="#68ad8c" stroke="#2f4f3f" stroke-width="0.7" />
<circle cx="639.71" cy="101.00" r="2.50" fill="#e8aaa8" stroke="#6a4a4a" stroke-width="0.7" />
<circle cx="642.62" cy="120.06" r="2.50" fill="#e8aaa8" stroke="#6a4a4a" stroke-width="0.7" />
<circle cx="644.25" cy="83.84" r="2.50" fill="#e8aaa8" stroke="#6a4a4a" stroke-width="0.7" />
<circle cx="642.01" cy="88.19" r="2.50" fill="#e8aaa8" stroke="#6a4a4a" stroke-width="0.7" />
<circle cx="629.60" cy="85.05" r="2.50" fill="#e8aaa8" stroke="#6a4a4a" stroke-width="0.7" />
<circle cx="640.27" cy="86.16" r="2.50" fill="#e8aaa8" stroke="#6a4a4a" stroke-width="0.7" />
<circle cx="638.59" cy="86.66" r="2.50" fill="#e8aaa8" stroke="#6a4a4a" stroke-width="0.7" />
<circle cx="629.29" cy="83.50" r="2.50" fill="#e8aaa8" stroke="#6a4a4a" stroke-width="0.7" />
<circle cx="626.92" cy="111.76" r="2.50" fill="#e8aaa8" stroke="#6a4a4a" stroke-width="0.7" />
<circle cx="635.05" cy="83.50" r="2.50" fill="#e8aaa8" stroke="#6a4a4a" stroke-width="0.7" />
<circle cx="636.94" cy="83.50" r="2.50" fill="#e8aaa8" stroke="#6a4a4a" stroke-width="0.7" />
<circle cx="644.01" cy="83.50" r="2.50" fill="#e8aaa8" stroke="#6a4a4a" stroke-width="0.7" />
<circle cx="626.39" cy="83.50" r="2.50" fill="#e8aaa8" stroke="#6a4a4a" stroke-width="0.7" />
<circle cx="627.62" cy="83.50" r="2.50" fill="#e8aaa8" stroke="#6a4a4a" stroke-width="0.7" />
<circle cx="633.26" cy="83.82" r="2.50" fill="#e8aaa8" stroke="#6a4a4a" stroke-width="0.7" />
<circle cx="639.58" cy="83.81" r="2.50" fill="#e8aaa8" stroke="#6a4a4a" stroke-width="0.7" />
<circle cx="630.57" cy="83.50" r="2.50" fill="#e8aaa8" stroke="#6a4a4a" stroke-width="0.7" />
<circle cx="638.14" cy="149.89" r="2.50" fill="#e8aaa8" stroke="#6a4a4a" stroke-width="0.7" />
<circle cx="632.52" cy="87.83" r="2.50" fill="#e8aaa8" stroke="#6a4a4a" stroke-width="0.7" />
<circle cx="624.87" cy="83.50" r="2.50" fill="#e8aaa8" stroke="#6a4a4a" stroke-width="0.7" />
<circle cx="624.02" cy="84.07" r="2.50" fill="#e8aaa8" stroke="#6a4a4a" stroke-width="0.7" />
<circle cx="634.68" cy="83.50" r="2.50" fill="#e8aaa8" stroke="#6a4a4a" stroke-width="0.7" />
<circle cx="635.09" cy="84.70" r="2.50" fill="#e8aaa8" stroke="#6a4a4a" stroke-width="0.7" />
<circle cx="626.30" cy="86.30" r="2.50" fill="#e8aaa8" stroke="#6a4a4a" stroke-width="0.7" />
<circle cx="631.41" cy="100.55" r="2.50" fill="#e8aaa8" stroke="#6a4a4a" stroke-width="0.7" />
<circle cx="624.46" cy="98.31" r="2.50" fill="#e8aaa8" stroke="#6a4a4a" stroke-width="0.7" />
<circle cx="641.21" cy="83.50" r="2.50" fill="#e8aaa8" stroke="#6a4a4a" stroke-width="0.7" />
<circle cx="627.50" cy="89.04" r="2.50" fill="#e8aaa8" stroke="#6a4a4a" stroke-width="0.7" />
<circle cx="640.15" cy="83.50" r="2.50" fill="#e8aaa8" stroke="#6a4a4a" stroke-width="0.7" />
<circle cx="629.62" cy="83.50" r="2.50" fill="#e8aaa8" stroke="#6a4a4a" stroke-width="0.7" />
<line x1="585.90" y1="89.53" x2="585.90" y2="128.72" stroke="#000" stroke-width="1.1" />
<circle cx="585.90" cy="109.43" r="2.60" fill="#000" stroke="none" stroke-width="0.5" />
<line x1="634.50" y1="78.68" x2="634.50" y2="95.56" stroke="#000" stroke-width="1.1" />
<circle cx="634.50" cy="86.52" r="2.60" fill="#000" stroke="none" stroke-width="0.5" />
<text x="1.80" y="216.00" font-size="12.5" text-anchor="start" fill="#222" >e</text>
<text x="83.60" y="220.80" font-size="10" text-anchor="middle" fill="#222" >AUCs of the top hypo-markers</text>
<text x="91.80" y="232.00" font-size="10" text-anchor="middle" fill="#222" >(pDMRs)</text>
<polygon points="90.70,249.00 130.73,267.98 140.62,310.62 112.91,344.81 68.49,344.81 40.78,310.62 50.67,267.98" fill="none" stroke="#c4c4c4" stroke-width="1.5"/>
<polygon points="90.70,263.11 130.33,268.29 139.12,310.28 111.58,342.08 69.82,342.08 44.93,309.68 55.67,271.90" fill="#f4d4b6" stroke="none"/>
<polygon points="90.70,289.32 98.71,293.12 100.68,301.64 95.14,308.48 86.26,308.48 80.72,301.64 82.69,293.12" fill="none" stroke="#cba886" stroke-width="0.95"/>
<polygon points="90.70,279.24 106.71,286.83 110.67,303.89 99.59,317.56 81.81,317.56 70.73,303.89 74.69,286.83" fill="none" stroke="#cba886" stroke-width="0.95"/>
<polygon points="90.70,269.16 114.72,280.55 120.65,306.13 104.03,326.65 77.37,326.65 60.75,306.13 66.68,280.55" fill="none" stroke="#cba886" stroke-width="0.95"/>
<polygon points="90.70,259.08 122.72,274.26 130.63,308.37 108.47,335.73 72.93,335.73 50.77,308.37 58.68,274.26" fill="none" stroke="#cba886" stroke-width="0.95"/>
<line x1="90.70" y1="289.32" x2="90.70" y2="263.11" stroke="#cba886" stroke-width="0.95" />
<line x1="98.71" y1="293.12" x2="130.33" y2="268.29" stroke="#cba886" stroke-width="0.95" />
<line x1="100.68" y1="301.64" x2="139.12" y2="310.28" stroke="#cba886" stroke-width="0.95" />
<line x1="95.14" y1="308.48" x2="111.58" y2="342.08" stroke="#cba886" stroke-width="0.95" />
<line x1="86.26" y1="308.48" x2="69.82" y2="342.08" stroke="#cba886" stroke-width="0.95" />
<line x1="80.72" y1="301.64" x2="44.93" y2="309.68" stroke="#cba886" stroke-width="0.95" />
<line x1="82.69" y1="293.12" x2="55.67" y2="271.90" stroke="#cba886" stroke-width="0.95" />
<polygon points="90.70,263.11 130.33,268.29 139.12,310.28 111.58,342.08 69.82,342.08 44.93,309.68 55.67,271.90" fill="none" stroke="#e27a2c" stroke-width="1.4" stroke-dasharray="7,4.6"/>
<circle cx="90.70" cy="263.11" r="1.50" fill="#e0782e" stroke="#6a3a1a" stroke-width="0.5" />
<circle cx="130.33" cy="268.29" r="1.50" fill="#e0782e" stroke="#6a3a1a" stroke-width="0.5" />
<circle cx="139.12" cy="310.28" r="1.50" fill="#e0782e" stroke="#6a3a1a" stroke-width="0.5" />
<circle cx="111.58" cy="342.08" r="1.50" fill="#e0782e" stroke="#6a3a1a" stroke-width="0.5" />
<circle cx="69.82" cy="342.08" r="1.50" fill="#e0782e" stroke="#6a3a1a" stroke-width="0.5" />
<circle cx="44.93" cy="309.68" r="1.50" fill="#e0782e" stroke="#6a3a1a" stroke-width="0.5" />
<circle cx="55.67" cy="271.90" r="1.50" fill="#e0782e" stroke="#6a3a1a" stroke-width="0.5" />
<text x="90.70" y="250.60" font-size="7.0" text-anchor="middle" fill="#333" >100%</text>
<text x="90.70" y="259.48" font-size="7.0" text-anchor="middle" fill="#333" >90%</text>
<text x="90.70" y="269.56" font-size="7.0" text-anchor="middle" fill="#333" >80%</text>
<text x="90.70" y="279.64" font-size="7.0" text-anchor="middle" fill="#333" >70%</text>
<text x="90.70" y="289.72" font-size="7.0" text-anchor="middle" fill="#333" >60%</text>
<text x="89.60" y="242.30" font-size="9.1" text-anchor="middle" fill="#222" >Top 100</text>
<text x="134.00" y="267.80" font-size="9.1" text-anchor="start" fill="#222" >Top 5000</text>
<text x="144.50" y="314.50" font-size="9.1" text-anchor="start" fill="#222" >Top 4000</text>
<text x="112.50" y="355.30" font-size="9.1" text-anchor="start" fill="#222" >Top 3000</text>
<text x="65.70" y="355.30" font-size="9.1" text-anchor="end" fill="#222" >Top 2000</text>
<text x="38.90" y="313.80" font-size="9.1" text-anchor="end" fill="#222" >Top 1000</text>
<text x="46.80" y="268.60" font-size="9.1" text-anchor="end" fill="#222" >Top 500</text>
<text x="166.00" y="216.00" font-size="12.5" text-anchor="start" fill="#222" >f</text>
<line x1="222.80" y1="224.00" x2="222.80" y2="341.20" stroke="#000" stroke-width="1.3" />
<line x1="220.60" y1="236.80" x2="222.80" y2="236.80" stroke="#000" stroke-width="0.8" />
<text x="219.40" y="239.90" font-size="8.8" text-anchor="end" fill="#222" >0.3</text>
<line x1="220.60" y1="269.60" x2="222.80" y2="269.60" stroke="#000" stroke-width="0.8" />
<text x="219.40" y="272.70" font-size="8.8" text-anchor="end" fill="#222" >0.2</text>
<line x1="220.60" y1="302.40" x2="222.80" y2="302.40" stroke="#000" stroke-width="0.8" />
<text x="219.40" y="305.50" font-size="8.8" text-anchor="end" fill="#222" >0.1</text>
<line x1="220.60" y1="335.20" x2="222.80" y2="335.20" stroke="#000" stroke-width="0.8" />
<text x="219.40" y="338.30" font-size="8.8" text-anchor="end" fill="#222" >0.0</text>
<line x1="222.15" y1="341.20" x2="317.00" y2="341.20" stroke="#000" stroke-width="1.3" />
<line x1="247.50" y1="341.20" x2="247.50" y2="343.40" stroke="#000" stroke-width="0.8" />
<line x1="290.30" y1="341.20" x2="290.30" y2="343.40" stroke="#000" stroke-width="0.8" />
<text x="0" y="0" font-size="8.6" text-anchor="middle" fill="#222" transform="translate(200.80,277.50) rotate(-90)">PCaseek-D Score</text>
<text x="247.50" y="352.40" font-size="8.8" text-anchor="middle" fill="#222" >Ctrl</text>
<text x="290.30" y="352.40" font-size="8.8" text-anchor="middle" fill="#222" >PCa</text>
<text x="251.60" y="364.30" font-size="8.8" text-anchor="middle" fill="#222">(<tspan font-style="italic">n</tspan>=84)</text>
<text x="290.00" y="364.30" font-size="8.8" text-anchor="middle" fill="#222">(<tspan font-style="italic">n</tspan>=87)</text>
<polyline points="247.50,231.80 247.50,229.80 290.30,229.80 290.30,231.80" fill="none" stroke="#1a1a1a" stroke-width="0.9" />
<text x="270.20" y="229.30" font-size="8.6" text-anchor="middle" fill="#1a1a1a" letter-spacing="0.65" stroke="#1a1a1a" stroke-width="0.12">****</text>
<circle cx="246.48" cy="321.18" r="2.50" fill="#68ad8c" stroke="#2f4f3f" stroke-width="0.7" />
<circle cx="246.58" cy="329.81" r="2.50" fill="#68ad8c" stroke="#2f4f3f" stroke-width="0.7" />
<circle cx="255.28" cy="323.82" r="2.50" fill="#68ad8c" stroke="#2f4f3f" stroke-width="0.7" />
<circle cx="245.08" cy="331.52" r="2.50" fill="#68ad8c" stroke="#2f4f3f" stroke-width="0.7" />
<circle cx="252.50" cy="329.00" r="2.50" fill="#68ad8c" stroke="#2f4f3f" stroke-width="0.7" />
<circle cx="253.80" cy="325.68" r="2.50" fill="#68ad8c" stroke="#2f4f3f" stroke-width="0.7" />
<circle cx="247.25" cy="328.48" r="2.50" fill="#68ad8c" stroke="#2f4f3f" stroke-width="0.7" />
<circle cx="251.59" cy="329.78" r="2.50" fill="#68ad8c" stroke="#2f4f3f" stroke-width="0.7" />
<circle cx="251.73" cy="320.23" r="2.50" fill="#68ad8c" stroke="#2f4f3f" stroke-width="0.7" />
<circle cx="249.67" cy="329.35" r="2.50" fill="#68ad8c" stroke="#2f4f3f" stroke-width="0.7" />
<circle cx="239.68" cy="329.28" r="2.50" fill="#68ad8c" stroke="#2f4f3f" stroke-width="0.7" />
<circle cx="239.44" cy="323.63" r="2.50" fill="#68ad8c" stroke="#2f4f3f" stroke-width="0.7" />
<circle cx="249.18" cy="323.63" r="2.50" fill="#68ad8c" stroke="#2f4f3f" stroke-width="0.7" />
<circle cx="255.80" cy="328.53" r="2.50" fill="#68ad8c" stroke="#2f4f3f" stroke-width="0.7" />
<circle cx="254.58" cy="329.92" r="2.50" fill="#68ad8c" stroke="#2f4f3f" stroke-width="0.7" />
<circle cx="250.92" cy="328.11" r="2.50" fill="#68ad8c" stroke="#2f4f3f" stroke-width="0.7" />
<circle cx="244.28" cy="332.57" r="2.50" fill="#68ad8c" stroke="#2f4f3f" stroke-width="0.7" />
<circle cx="241.21" cy="322.53" r="2.50" fill="#68ad8c" stroke="#2f4f3f" stroke-width="0.7" />
<circle cx="239.40" cy="327.18" r="2.50" fill="#68ad8c" stroke="#2f4f3f" stroke-width="0.7" />
<circle cx="243.32" cy="327.79" r="2.50" fill="#68ad8c" stroke="#2f4f3f" stroke-width="0.7" />
<circle cx="254.40" cy="329.18" r="2.50" fill="#68ad8c" stroke="#2f4f3f" stroke-width="0.7" />
<circle cx="249.75" cy="327.51" r="2.50" fill="#68ad8c" stroke="#2f4f3f" stroke-width="0.7" />
<circle cx="246.69" cy="323.05" r="2.50" fill="#68ad8c" stroke="#2f4f3f" stroke-width="0.7" />
<circle cx="246.04" cy="321.76" r="2.50" fill="#68ad8c" stroke="#2f4f3f" stroke-width="0.7" />
<circle cx="256.14" cy="324.30" r="2.50" fill="#68ad8c" stroke="#2f4f3f" stroke-width="0.7" />
<circle cx="252.82" cy="324.79" r="2.50" fill="#68ad8c" stroke="#2f4f3f" stroke-width="0.7" />
<circle cx="254.70" cy="325.03" r="2.50" fill="#68ad8c" stroke="#2f4f3f" stroke-width="0.7" />
<circle cx="240.92" cy="325.71" r="2.50" fill="#68ad8c" stroke="#2f4f3f" stroke-width="0.7" />
<circle cx="254.30" cy="321.80" r="2.50" fill="#68ad8c" stroke="#2f4f3f" stroke-width="0.7" />
<circle cx="255.63" cy="327.09" r="2.50" fill="#68ad8c" stroke="#2f4f3f" stroke-width="0.7" />
<circle cx="250.42" cy="321.44" r="2.50" fill="#68ad8c" stroke="#2f4f3f" stroke-width="0.7" />
<circle cx="252.75" cy="321.38" r="2.50" fill="#68ad8c" stroke="#2f4f3f" stroke-width="0.7" />
<circle cx="250.58" cy="318.41" r="2.50" fill="#68ad8c" stroke="#2f4f3f" stroke-width="0.7" />
<circle cx="247.49" cy="324.27" r="2.50" fill="#68ad8c" stroke="#2f4f3f" stroke-width="0.7" />
<circle cx="248.72" cy="315.13" r="2.50" fill="#68ad8c" stroke="#2f4f3f" stroke-width="0.7" />
<circle cx="243.71" cy="329.43" r="2.50" fill="#68ad8c" stroke="#2f4f3f" stroke-width="0.7" />
<circle cx="245.13" cy="329.07" r="2.50" fill="#68ad8c" stroke="#2f4f3f" stroke-width="0.7" />
<circle cx="238.96" cy="328.56" r="2.50" fill="#68ad8c" stroke="#2f4f3f" stroke-width="0.7" />
<circle cx="244.12" cy="326.26" r="2.50" fill="#68ad8c" stroke="#2f4f3f" stroke-width="0.7" />
<circle cx="238.08" cy="325.30" r="2.50" fill="#68ad8c" stroke="#2f4f3f" stroke-width="0.7" />
<circle cx="243.20" cy="318.27" r="2.50" fill="#68ad8c" stroke="#2f4f3f" stroke-width="0.7" />
<circle cx="248.34" cy="324.57" r="2.50" fill="#68ad8c" stroke="#2f4f3f" stroke-width="0.7" />
<circle cx="242.78" cy="328.01" r="2.50" fill="#68ad8c" stroke="#2f4f3f" stroke-width="0.7" />
<circle cx="251.58" cy="325.71" r="2.50" fill="#68ad8c" stroke="#2f4f3f" stroke-width="0.7" />
<circle cx="239.25" cy="321.88" r="2.50" fill="#68ad8c" stroke="#2f4f3f" stroke-width="0.7" />
<circle cx="238.90" cy="326.12" r="2.50" fill="#68ad8c" stroke="#2f4f3f" stroke-width="0.7" />
<circle cx="253.14" cy="329.56" r="2.50" fill="#68ad8c" stroke="#2f4f3f" stroke-width="0.7" />
<circle cx="251.59" cy="323.96" r="2.50" fill="#68ad8c" stroke="#2f4f3f" stroke-width="0.7" />
<circle cx="243.49" cy="322.31" r="2.50" fill="#68ad8c" stroke="#2f4f3f" stroke-width="0.7" />
<circle cx="243.22" cy="324.62" r="2.50" fill="#68ad8c" stroke="#2f4f3f" stroke-width="0.7" />
<circle cx="248.55" cy="329.04" r="2.50" fill="#68ad8c" stroke="#2f4f3f" stroke-width="0.7" />
<circle cx="240.44" cy="326.62" r="2.50" fill="#68ad8c" stroke="#2f4f3f" stroke-width="0.7" />
<circle cx="242.52" cy="319.00" r="2.50" fill="#68ad8c" stroke="#2f4f3f" stroke-width="0.7" />
<circle cx="245.58" cy="320.10" r="2.50" fill="#68ad8c" stroke="#2f4f3f" stroke-width="0.7" />
<circle cx="248.86" cy="319.39" r="2.50" fill="#68ad8c" stroke="#2f4f3f" stroke-width="0.7" />
<circle cx="246.53" cy="325.90" r="2.50" fill="#68ad8c" stroke="#2f4f3f" stroke-width="0.7" />
<circle cx="251.24" cy="326.88" r="2.50" fill="#68ad8c" stroke="#2f4f3f" stroke-width="0.7" />
<circle cx="239.00" cy="330.04" r="2.50" fill="#68ad8c" stroke="#2f4f3f" stroke-width="0.7" />
<circle cx="248.60" cy="324.95" r="2.50" fill="#68ad8c" stroke="#2f4f3f" stroke-width="0.7" />
<circle cx="253.10" cy="322.47" r="2.50" fill="#68ad8c" stroke="#2f4f3f" stroke-width="0.7" />
<circle cx="241.80" cy="329.75" r="2.50" fill="#68ad8c" stroke="#2f4f3f" stroke-width="0.7" />
<circle cx="240.77" cy="324.85" r="2.50" fill="#68ad8c" stroke="#2f4f3f" stroke-width="0.7" />
<circle cx="241.91" cy="323.91" r="2.50" fill="#68ad8c" stroke="#2f4f3f" stroke-width="0.7" />
<circle cx="244.83" cy="323.75" r="2.50" fill="#68ad8c" stroke="#2f4f3f" stroke-width="0.7" />
<circle cx="237.78" cy="324.53" r="2.50" fill="#68ad8c" stroke="#2f4f3f" stroke-width="0.7" />
<circle cx="246.42" cy="328.83" r="2.50" fill="#68ad8c" stroke="#2f4f3f" stroke-width="0.7" />
<circle cx="257.40" cy="326.01" r="2.50" fill="#68ad8c" stroke="#2f4f3f" stroke-width="0.7" />
<circle cx="249.07" cy="331.17" r="2.50" fill="#68ad8c" stroke="#2f4f3f" stroke-width="0.7" />
<circle cx="241.70" cy="329.03" r="2.50" fill="#68ad8c" stroke="#2f4f3f" stroke-width="0.7" />
<circle cx="245.94" cy="324.98" r="2.50" fill="#68ad8c" stroke="#2f4f3f" stroke-width="0.7" />
<circle cx="242.17" cy="321.40" r="2.50" fill="#68ad8c" stroke="#2f4f3f" stroke-width="0.7" />
<circle cx="254.75" cy="327.86" r="2.50" fill="#68ad8c" stroke="#2f4f3f" stroke-width="0.7" />
<circle cx="248.34" cy="322.18" r="2.50" fill="#68ad8c" stroke="#2f4f3f" stroke-width="0.7" />
<circle cx="247.96" cy="320.92" r="2.50" fill="#68ad8c" stroke="#2f4f3f" stroke-width="0.7" />
<circle cx="251.33" cy="332.53" r="2.50" fill="#68ad8c" stroke="#2f4f3f" stroke-width="0.7" />
<circle cx="250.41" cy="323.05" r="2.50" fill="#68ad8c" stroke="#2f4f3f" stroke-width="0.7" />
<circle cx="255.38" cy="323.09" r="2.50" fill="#68ad8c" stroke="#2f4f3f" stroke-width="0.7" />
<circle cx="242.61" cy="328.86" r="2.50" fill="#68ad8c" stroke="#2f4f3f" stroke-width="0.7" />
<circle cx="240.53" cy="320.90" r="2.50" fill="#68ad8c" stroke="#2f4f3f" stroke-width="0.7" />
<circle cx="249.23" cy="325.39" r="2.50" fill="#68ad8c" stroke="#2f4f3f" stroke-width="0.7" />
<circle cx="246.32" cy="327.02" r="2.50" fill="#68ad8c" stroke="#2f4f3f" stroke-width="0.7" />
<circle cx="253.29" cy="326.26" r="2.50" fill="#68ad8c" stroke="#2f4f3f" stroke-width="0.7" />
<circle cx="244.48" cy="325.62" r="2.50" fill="#68ad8c" stroke="#2f4f3f" stroke-width="0.7" />
<circle cx="248.55" cy="326.14" r="2.50" fill="#68ad8c" stroke="#2f4f3f" stroke-width="0.7" />
<circle cx="293.97" cy="311.44" r="2.50" fill="#e8aaa8" stroke="#6a4a4a" stroke-width="0.7" />
<circle cx="289.91" cy="272.88" r="2.50" fill="#e8aaa8" stroke="#6a4a4a" stroke-width="0.7" />
<circle cx="288.29" cy="294.65" r="2.50" fill="#e8aaa8" stroke="#6a4a4a" stroke-width="0.7" />
<circle cx="298.79" cy="325.03" r="2.50" fill="#e8aaa8" stroke="#6a4a4a" stroke-width="0.7" />
<circle cx="289.45" cy="286.52" r="2.50" fill="#e8aaa8" stroke="#6a4a4a" stroke-width="0.7" />
<circle cx="283.20" cy="236.80" r="2.50" fill="#e8aaa8" stroke="#6a4a4a" stroke-width="0.7" />
<circle cx="281.11" cy="312.53" r="2.50" fill="#e8aaa8" stroke="#6a4a4a" stroke-width="0.7" />
<circle cx="285.52" cy="321.31" r="2.50" fill="#e8aaa8" stroke="#6a4a4a" stroke-width="0.7" />
<circle cx="286.90" cy="254.84" r="2.50" fill="#e8aaa8" stroke="#6a4a4a" stroke-width="0.7" />
<circle cx="289.00" cy="311.83" r="2.50" fill="#e8aaa8" stroke="#6a4a4a" stroke-width="0.7" />
<circle cx="294.45" cy="277.80" r="2.50" fill="#e8aaa8" stroke="#6a4a4a" stroke-width="0.7" />
<circle cx="296.76" cy="309.01" r="2.50" fill="#e8aaa8" stroke="#6a4a4a" stroke-width="0.7" />
<circle cx="295.02" cy="292.14" r="2.50" fill="#e8aaa8" stroke="#6a4a4a" stroke-width="0.7" />
<circle cx="292.39" cy="308.71" r="2.50" fill="#e8aaa8" stroke="#6a4a4a" stroke-width="0.7" />
<circle cx="282.97" cy="283.20" r="2.50" fill="#e8aaa8" stroke="#6a4a4a" stroke-width="0.7" />
<circle cx="285.60" cy="279.99" r="2.50" fill="#e8aaa8" stroke="#6a4a4a" stroke-width="0.7" />
<circle cx="296.50" cy="249.26" r="2.50" fill="#e8aaa8" stroke="#6a4a4a" stroke-width="0.7" />
<circle cx="288.48" cy="320.07" r="2.50" fill="#e8aaa8" stroke="#6a4a4a" stroke-width="0.7" />
<circle cx="291.58" cy="319.41" r="2.50" fill="#e8aaa8" stroke="#6a4a4a" stroke-width="0.7" />
<circle cx="283.33" cy="319.04" r="2.50" fill="#e8aaa8" stroke="#6a4a4a" stroke-width="0.7" />
<circle cx="299.33" cy="312.04" r="2.50" fill="#e8aaa8" stroke="#6a4a4a" stroke-width="0.7" />
<circle cx="290.41" cy="326.23" r="2.50" fill="#e8aaa8" stroke="#6a4a4a" stroke-width="0.7" />
<circle cx="292.59" cy="294.33" r="2.50" fill="#e8aaa8" stroke="#6a4a4a" stroke-width="0.7" />
<circle cx="295.74" cy="305.05" r="2.50" fill="#e8aaa8" stroke="#6a4a4a" stroke-width="0.7" />
<circle cx="284.91" cy="299.41" r="2.50" fill="#e8aaa8" stroke="#6a4a4a" stroke-width="0.7" />
<circle cx="293.95" cy="286.42" r="2.50" fill="#e8aaa8" stroke="#6a4a4a" stroke-width="0.7" />
<circle cx="281.32" cy="308.14" r="2.50" fill="#e8aaa8" stroke="#6a4a4a" stroke-width="0.7" />
<circle cx="296.74" cy="320.90" r="2.50" fill="#e8aaa8" stroke="#6a4a4a" stroke-width="0.7" />
<circle cx="283.02" cy="288.14" r="2.50" fill="#e8aaa8" stroke="#6a4a4a" stroke-width="0.7" />
<circle cx="285.47" cy="286.39" r="2.50" fill="#e8aaa8" stroke="#6a4a4a" stroke-width="0.7" />
<circle cx="297.48" cy="287.86" r="2.50" fill="#e8aaa8" stroke="#6a4a4a" stroke-width="0.7" />
<circle cx="283.60" cy="305.58" r="2.50" fill="#e8aaa8" stroke="#6a4a4a" stroke-width="0.7" />
<circle cx="290.46" cy="284.87" r="2.50" fill="#e8aaa8" stroke="#6a4a4a" stroke-width="0.7" />
<circle cx="286.93" cy="326.72" r="2.50" fill="#e8aaa8" stroke="#6a4a4a" stroke-width="0.7" />
<circle cx="291.23" cy="281.48" r="2.50" fill="#e8aaa8" stroke="#6a4a4a" stroke-width="0.7" />
<circle cx="295.07" cy="321.76" r="2.50" fill="#e8aaa8" stroke="#6a4a4a" stroke-width="0.7" />
<circle cx="298.36" cy="318.64" r="2.50" fill="#e8aaa8" stroke="#6a4a4a" stroke-width="0.7" />
<circle cx="287.05" cy="285.05" r="2.50" fill="#e8aaa8" stroke="#6a4a4a" stroke-width="0.7" />
<circle cx="298.02" cy="307.97" r="2.50" fill="#e8aaa8" stroke="#6a4a4a" stroke-width="0.7" />
<circle cx="293.77" cy="306.27" r="2.50" fill="#e8aaa8" stroke="#6a4a4a" stroke-width="0.7" />
<circle cx="290.43" cy="323.41" r="2.50" fill="#e8aaa8" stroke="#6a4a4a" stroke-width="0.7" />
<circle cx="286.19" cy="305.00" r="2.50" fill="#e8aaa8" stroke="#6a4a4a" stroke-width="0.7" />
<circle cx="296.21" cy="282.98" r="2.50" fill="#e8aaa8" stroke="#6a4a4a" stroke-width="0.7" />
<circle cx="295.88" cy="315.94" r="2.50" fill="#e8aaa8" stroke="#6a4a4a" stroke-width="0.7" />
<circle cx="296.20" cy="286.11" r="2.50" fill="#e8aaa8" stroke="#6a4a4a" stroke-width="0.7" />
<circle cx="289.72" cy="289.59" r="2.50" fill="#e8aaa8" stroke="#6a4a4a" stroke-width="0.7" />
<circle cx="287.44" cy="306.64" r="2.50" fill="#e8aaa8" stroke="#6a4a4a" stroke-width="0.7" />
<circle cx="298.86" cy="302.71" r="2.50" fill="#e8aaa8" stroke="#6a4a4a" stroke-width="0.7" />
<circle cx="287.05" cy="290.44" r="2.50" fill="#e8aaa8" stroke="#6a4a4a" stroke-width="0.7" />
<circle cx="286.54" cy="297.57" r="2.50" fill="#e8aaa8" stroke="#6a4a4a" stroke-width="0.7" />
<circle cx="292.79" cy="295.82" r="2.50" fill="#e8aaa8" stroke="#6a4a4a" stroke-width="0.7" />
<circle cx="293.01" cy="328.36" r="2.50" fill="#e8aaa8" stroke="#6a4a4a" stroke-width="0.7" />
<circle cx="283.29" cy="295.17" r="2.50" fill="#e8aaa8" stroke="#6a4a4a" stroke-width="0.7" />
<circle cx="297.48" cy="294.93" r="2.50" fill="#e8aaa8" stroke="#6a4a4a" stroke-width="0.7" />
<circle cx="292.40" cy="249.92" r="2.50" fill="#e8aaa8" stroke="#6a4a4a" stroke-width="0.7" />
<circle cx="299.00" cy="251.56" r="2.50" fill="#e8aaa8" stroke="#6a4a4a" stroke-width="0.7" />
<circle cx="283.80" cy="310.61" r="2.50" fill="#e8aaa8" stroke="#6a4a4a" stroke-width="0.7" />
<circle cx="284.22" cy="316.10" r="2.50" fill="#e8aaa8" stroke="#6a4a4a" stroke-width="0.7" />
<circle cx="288.58" cy="318.13" r="2.50" fill="#e8aaa8" stroke="#6a4a4a" stroke-width="0.7" />
<circle cx="286.38" cy="328.50" r="2.50" fill="#e8aaa8" stroke="#6a4a4a" stroke-width="0.7" />
<circle cx="294.55" cy="299.47" r="2.50" fill="#e8aaa8" stroke="#6a4a4a" stroke-width="0.7" />
<circle cx="292.47" cy="313.03" r="2.50" fill="#e8aaa8" stroke="#6a4a4a" stroke-width="0.7" />
<circle cx="287.20" cy="308.86" r="2.50" fill="#e8aaa8" stroke="#6a4a4a" stroke-width="0.7" />
<circle cx="293.02" cy="317.95" r="2.50" fill="#e8aaa8" stroke="#6a4a4a" stroke-width="0.7" />
<circle cx="296.21" cy="299.07" r="2.50" fill="#e8aaa8" stroke="#6a4a4a" stroke-width="0.7" />
<circle cx="280.99" cy="303.97" r="2.50" fill="#e8aaa8" stroke="#6a4a4a" stroke-width="0.7" />
<circle cx="288.24" cy="282.64" r="2.50" fill="#e8aaa8" stroke="#6a4a4a" stroke-width="0.7" />
<circle cx="288.47" cy="301.42" r="2.50" fill="#e8aaa8" stroke="#6a4a4a" stroke-width="0.7" />
<circle cx="283.78" cy="292.36" r="2.50" fill="#e8aaa8" stroke="#6a4a4a" stroke-width="0.7" />
<circle cx="282.75" cy="325.82" r="2.50" fill="#e8aaa8" stroke="#6a4a4a" stroke-width="0.7" />
<circle cx="287.05" cy="276.16" r="2.50" fill="#e8aaa8" stroke="#6a4a4a" stroke-width="0.7" />
<circle cx="286.03" cy="314.93" r="2.50" fill="#e8aaa8" stroke="#6a4a4a" stroke-width="0.7" />
<circle cx="291.51" cy="328.59" r="2.50" fill="#e8aaa8" stroke="#6a4a4a" stroke-width="0.7" />
<circle cx="289.72" cy="304.44" r="2.50" fill="#e8aaa8" stroke="#6a4a4a" stroke-width="0.7" />
<line x1="248.20" y1="322.08" x2="248.20" y2="329.30" stroke="#000" stroke-width="1.1" />
<circle cx="248.20" cy="325.69" r="2.60" fill="#000" stroke="none" stroke-width="0.5" />
<line x1="290.80" y1="283.38" x2="290.80" y2="320.11" stroke="#000" stroke-width="1.1" />
<circle cx="290.80" cy="301.74" r="2.60" fill="#000" stroke="none" stroke-width="0.5" />
<text x="319.50" y="216.00" font-size="12.5" text-anchor="start" fill="#222" >g</text>
<text x="406.60" y="215.30" font-size="10" text-anchor="start" fill="#222" textLength="48.4" lengthAdjust="spacingAndGlyphs">PSA (ng/ml)</text>
<line x1="355.20" y1="224.20" x2="355.20" y2="341.20" stroke="#000" stroke-width="1.3" />
<line x1="353.00" y1="257.00" x2="355.20" y2="257.00" stroke="#000" stroke-width="0.8" />
<text x="351.80" y="260.10" font-size="8.8" text-anchor="end" fill="#222" >0.4</text>
<line x1="353.00" y1="296.80" x2="355.20" y2="296.80" stroke="#000" stroke-width="0.8" />
<text x="351.80" y="299.90" font-size="8.8" text-anchor="end" fill="#222" >0.2</text>
<line x1="353.00" y1="336.60" x2="355.20" y2="336.60" stroke="#000" stroke-width="0.8" />
<text x="351.80" y="339.70" font-size="8.8" text-anchor="end" fill="#222" >0.0</text>
<line x1="354.55" y1="341.20" x2="495.20" y2="341.20" stroke="#000" stroke-width="1.3" />
<line x1="375.50" y1="341.20" x2="375.50" y2="343.40" stroke="#000" stroke-width="0.8" />
<line x1="411.00" y1="341.20" x2="411.00" y2="343.40" stroke="#000" stroke-width="0.8" />
<line x1="445.50" y1="341.20" x2="445.50" y2="343.40" stroke="#000" stroke-width="0.8" />
<line x1="480.60" y1="341.20" x2="480.60" y2="343.40" stroke="#000" stroke-width="0.8" />
<text x="0" y="0" font-size="8.6" text-anchor="middle" fill="#222" transform="translate(334.20,278.00) rotate(-90)">PCaseek-D Score</text>
<text x="375.50" y="351.30" font-size="8.8" text-anchor="middle" fill="#222" >Ctrl</text>
<text x="375.50" y="363.80" font-size="8.8" text-anchor="middle" fill="#222">(<tspan font-style="italic">n</tspan>=84)</text>
<text x="411.00" y="351.30" font-size="8.8" text-anchor="middle" fill="#222" >0-4</text>
<text x="411.00" y="363.80" font-size="8.8" text-anchor="middle" fill="#222">(<tspan font-style="italic">n</tspan>=12)</text>
<text x="445.50" y="351.30" font-size="8.8" text-anchor="middle" fill="#222" >4-20</text>
<text x="445.50" y="363.80" font-size="8.8" text-anchor="middle" fill="#222">(<tspan font-style="italic">n</tspan>=43)</text>
<text x="480.60" y="351.30" font-size="8.8" text-anchor="middle" fill="#222" >&gt;20</text>
<text x="480.60" y="363.80" font-size="8.8" text-anchor="middle" fill="#222">(<tspan font-style="italic">n</tspan>=29)</text>
<polyline points="374.50,230.30 374.50,228.30 481.70,228.30 481.70,230.30" fill="none" stroke="#1a1a1a" stroke-width="0.9" />
<text x="429.40" y="227.80" font-size="8.6" text-anchor="middle" fill="#1a1a1a" letter-spacing="0.65" stroke="#1a1a1a" stroke-width="0.12">****</text>
<polyline points="374.50,243.60 374.50,241.60 446.00,241.60 446.00,243.60" fill="none" stroke="#1a1a1a" stroke-width="0.9" />
<text x="411.55" y="241.10" font-size="8.6" text-anchor="middle" fill="#1a1a1a" letter-spacing="0.65" stroke="#1a1a1a" stroke-width="0.12">****</text>
<polyline points="439.40,254.00 439.40,252.00 481.70,252.00 481.70,254.00" fill="none" stroke="#1a1a1a" stroke-width="0.9" />
<text x="461.85" y="251.50" font-size="8.6" text-anchor="middle" fill="#1a1a1a" letter-spacing="0.65" stroke="#1a1a1a" stroke-width="0.12">*</text>
<polyline points="407.10,264.40 407.10,262.40 446.00,262.40 446.00,264.40" fill="none" stroke="#1a1a1a" stroke-width="0.9" />
<text x="426.55" y="260.20" font-size="9.4" text-anchor="middle" fill="#222" font-style="italic">ns</text>
<polyline points="374.50,277.30 374.50,275.30 407.10,275.30 407.10,277.30" fill="none" stroke="#1a1a1a" stroke-width="0.9" />
<text x="392.10" y="274.80" font-size="8.6" text-anchor="middle" fill="#1a1a1a" letter-spacing="0.65" stroke="#1a1a1a" stroke-width="0.12">****</text>
<circle cx="378.37" cy="326.37" r="2.50" fill="#68ad8c" stroke="#2f4f3f" stroke-width="0.7" />
<circle cx="373.83" cy="326.94" r="2.50" fill="#68ad8c" stroke="#2f4f3f" stroke-width="0.7" />
<circle cx="370.78" cy="328.28" r="2.50" fill="#68ad8c" stroke="#2f4f3f" stroke-width="0.7" />
<circle cx="368.54" cy="330.58" r="2.50" fill="#68ad8c" stroke="#2f4f3f" stroke-width="0.7" />
<circle cx="376.52" cy="326.84" r="2.50" fill="#68ad8c" stroke="#2f4f3f" stroke-width="0.7" />
<circle cx="376.72" cy="334.61" r="2.50" fill="#68ad8c" stroke="#2f4f3f" stroke-width="0.7" />
<circle cx="379.95" cy="333.16" r="2.50" fill="#68ad8c" stroke="#2f4f3f" stroke-width="0.7" />
<circle cx="369.01" cy="332.27" r="2.50" fill="#68ad8c" stroke="#2f4f3f" stroke-width="0.7" />
<circle cx="373.00" cy="330.33" r="2.50" fill="#68ad8c" stroke="#2f4f3f" stroke-width="0.7" />
<circle cx="370.31" cy="334.21" r="2.50" fill="#68ad8c" stroke="#2f4f3f" stroke-width="0.7" />
<circle cx="372.45" cy="329.02" r="2.50" fill="#68ad8c" stroke="#2f4f3f" stroke-width="0.7" />
<circle cx="369.71" cy="332.86" r="2.50" fill="#68ad8c" stroke="#2f4f3f" stroke-width="0.7" />
<circle cx="381.28" cy="331.37" r="2.50" fill="#68ad8c" stroke="#2f4f3f" stroke-width="0.7" />
<circle cx="382.92" cy="331.00" r="2.50" fill="#68ad8c" stroke="#2f4f3f" stroke-width="0.7" />
<circle cx="379.12" cy="328.32" r="2.50" fill="#68ad8c" stroke="#2f4f3f" stroke-width="0.7" />
<circle cx="371.50" cy="324.99" r="2.50" fill="#68ad8c" stroke="#2f4f3f" stroke-width="0.7" />
<circle cx="371.82" cy="330.41" r="2.50" fill="#68ad8c" stroke="#2f4f3f" stroke-width="0.7" />
<circle cx="377.10" cy="324.68" r="2.50" fill="#68ad8c" stroke="#2f4f3f" stroke-width="0.7" />
<circle cx="374.14" cy="330.11" r="2.50" fill="#68ad8c" stroke="#2f4f3f" stroke-width="0.7" />
<circle cx="380.71" cy="332.75" r="2.50" fill="#68ad8c" stroke="#2f4f3f" stroke-width="0.7" />
<circle cx="375.41" cy="330.99" r="2.50" fill="#68ad8c" stroke="#2f4f3f" stroke-width="0.7" />
<circle cx="374.58" cy="326.79" r="2.50" fill="#68ad8c" stroke="#2f4f3f" stroke-width="0.7" />
<circle cx="377.89" cy="331.15" r="2.50" fill="#68ad8c" stroke="#2f4f3f" stroke-width="0.7" />
<circle cx="380.68" cy="330.35" r="2.50" fill="#68ad8c" stroke="#2f4f3f" stroke-width="0.7" />
<circle cx="381.35" cy="330.16" r="2.50" fill="#68ad8c" stroke="#2f4f3f" stroke-width="0.7" />
<circle cx="368.64" cy="329.44" r="2.50" fill="#68ad8c" stroke="#2f4f3f" stroke-width="0.7" />
<circle cx="379.31" cy="330.48" r="2.50" fill="#68ad8c" stroke="#2f4f3f" stroke-width="0.7" />
<circle cx="371.72" cy="328.07" r="2.50" fill="#68ad8c" stroke="#2f4f3f" stroke-width="0.7" />
<circle cx="374.51" cy="328.86" r="2.50" fill="#68ad8c" stroke="#2f4f3f" stroke-width="0.7" />
<circle cx="372.38" cy="334.61" r="2.50" fill="#68ad8c" stroke="#2f4f3f" stroke-width="0.7" />
<circle cx="378.73" cy="330.07" r="2.50" fill="#68ad8c" stroke="#2f4f3f" stroke-width="0.7" />
<circle cx="377.05" cy="330.65" r="2.50" fill="#68ad8c" stroke="#2f4f3f" stroke-width="0.7" />
<circle cx="371.30" cy="330.89" r="2.50" fill="#68ad8c" stroke="#2f4f3f" stroke-width="0.7" />
<circle cx="375.57" cy="327.23" r="2.50" fill="#68ad8c" stroke="#2f4f3f" stroke-width="0.7" />
<circle cx="371.03" cy="329.82" r="2.50" fill="#68ad8c" stroke="#2f4f3f" stroke-width="0.7" />
<circle cx="383.25" cy="328.51" r="2.50" fill="#68ad8c" stroke="#2f4f3f" stroke-width="0.7" />
<circle cx="380.49" cy="327.04" r="2.50" fill="#68ad8c" stroke="#2f4f3f" stroke-width="0.7" />
<circle cx="380.15" cy="332.12" r="2.50" fill="#68ad8c" stroke="#2f4f3f" stroke-width="0.7" />
<circle cx="379.93" cy="329.75" r="2.50" fill="#68ad8c" stroke="#2f4f3f" stroke-width="0.7" />
<circle cx="370.21" cy="326.83" r="2.50" fill="#68ad8c" stroke="#2f4f3f" stroke-width="0.7" />
<circle cx="379.45" cy="325.58" r="2.50" fill="#68ad8c" stroke="#2f4f3f" stroke-width="0.7" />
<circle cx="375.55" cy="330.49" r="2.50" fill="#68ad8c" stroke="#2f4f3f" stroke-width="0.7" />
<circle cx="378.42" cy="327.18" r="2.50" fill="#68ad8c" stroke="#2f4f3f" stroke-width="0.7" />
<circle cx="379.19" cy="331.62" r="2.50" fill="#68ad8c" stroke="#2f4f3f" stroke-width="0.7" />
<circle cx="371.75" cy="331.44" r="2.50" fill="#68ad8c" stroke="#2f4f3f" stroke-width="0.7" />
<circle cx="375.72" cy="329.29" r="2.50" fill="#68ad8c" stroke="#2f4f3f" stroke-width="0.7" />
<circle cx="382.07" cy="326.82" r="2.50" fill="#68ad8c" stroke="#2f4f3f" stroke-width="0.7" />
<circle cx="382.88" cy="331.86" r="2.50" fill="#68ad8c" stroke="#2f4f3f" stroke-width="0.7" />
<circle cx="371.87" cy="329.67" r="2.50" fill="#68ad8c" stroke="#2f4f3f" stroke-width="0.7" />
<circle cx="380.59" cy="330.76" r="2.50" fill="#68ad8c" stroke="#2f4f3f" stroke-width="0.7" />
<circle cx="381.19" cy="334.04" r="2.50" fill="#68ad8c" stroke="#2f4f3f" stroke-width="0.7" />
<circle cx="373.69" cy="332.71" r="2.50" fill="#68ad8c" stroke="#2f4f3f" stroke-width="0.7" />
<circle cx="375.37" cy="333.82" r="2.50" fill="#68ad8c" stroke="#2f4f3f" stroke-width="0.7" />
<circle cx="374.86" cy="328.35" r="2.50" fill="#68ad8c" stroke="#2f4f3f" stroke-width="0.7" />
<circle cx="371.54" cy="327.08" r="2.50" fill="#68ad8c" stroke="#2f4f3f" stroke-width="0.7" />
<circle cx="368.30" cy="332.02" r="2.50" fill="#68ad8c" stroke="#2f4f3f" stroke-width="0.7" />
<circle cx="378.46" cy="329.07" r="2.50" fill="#68ad8c" stroke="#2f4f3f" stroke-width="0.7" />
<circle cx="380.67" cy="328.90" r="2.50" fill="#68ad8c" stroke="#2f4f3f" stroke-width="0.7" />
<circle cx="373.12" cy="332.12" r="2.50" fill="#68ad8c" stroke="#2f4f3f" stroke-width="0.7" />
<circle cx="376.55" cy="332.06" r="2.50" fill="#68ad8c" stroke="#2f4f3f" stroke-width="0.7" />
<circle cx="381.14" cy="328.14" r="2.50" fill="#68ad8c" stroke="#2f4f3f" stroke-width="0.7" />
<circle cx="372.71" cy="334.61" r="2.50" fill="#68ad8c" stroke="#2f4f3f" stroke-width="0.7" />
<circle cx="369.82" cy="330.23" r="2.50" fill="#68ad8c" stroke="#2f4f3f" stroke-width="0.7" />
<circle cx="378.58" cy="330.95" r="2.50" fill="#68ad8c" stroke="#2f4f3f" stroke-width="0.7" />
<circle cx="374.83" cy="331.27" r="2.50" fill="#68ad8c" stroke="#2f4f3f" stroke-width="0.7" />
<circle cx="371.50" cy="325.99" r="2.50" fill="#68ad8c" stroke="#2f4f3f" stroke-width="0.7" />
<circle cx="376.23" cy="327.84" r="2.50" fill="#68ad8c" stroke="#2f4f3f" stroke-width="0.7" />
<circle cx="378.07" cy="332.94" r="2.50" fill="#68ad8c" stroke="#2f4f3f" stroke-width="0.7" />
<circle cx="378.63" cy="333.54" r="2.50" fill="#68ad8c" stroke="#2f4f3f" stroke-width="0.7" />
<circle cx="378.43" cy="334.61" r="2.50" fill="#68ad8c" stroke="#2f4f3f" stroke-width="0.7" />
<circle cx="376.13" cy="331.66" r="2.50" fill="#68ad8c" stroke="#2f4f3f" stroke-width="0.7" />
<circle cx="373.69" cy="330.76" r="2.50" fill="#68ad8c" stroke="#2f4f3f" stroke-width="0.7" />
<circle cx="383.22" cy="330.57" r="2.50" fill="#68ad8c" stroke="#2f4f3f" stroke-width="0.7" />
<circle cx="370.49" cy="331.01" r="2.50" fill="#68ad8c" stroke="#2f4f3f" stroke-width="0.7" />
<circle cx="373.35" cy="333.16" r="2.50" fill="#68ad8c" stroke="#2f4f3f" stroke-width="0.7" />
<circle cx="382.56" cy="327.47" r="2.50" fill="#68ad8c" stroke="#2f4f3f" stroke-width="0.7" />
<circle cx="376.35" cy="330.29" r="2.50" fill="#68ad8c" stroke="#2f4f3f" stroke-width="0.7" />
<circle cx="377.37" cy="332.33" r="2.50" fill="#68ad8c" stroke="#2f4f3f" stroke-width="0.7" />
<circle cx="369.04" cy="327.63" r="2.50" fill="#68ad8c" stroke="#2f4f3f" stroke-width="0.7" />
<circle cx="376.02" cy="329.60" r="2.50" fill="#68ad8c" stroke="#2f4f3f" stroke-width="0.7" />
<circle cx="372.26" cy="333.21" r="2.50" fill="#68ad8c" stroke="#2f4f3f" stroke-width="0.7" />
<circle cx="370.82" cy="328.55" r="2.50" fill="#68ad8c" stroke="#2f4f3f" stroke-width="0.7" />
<circle cx="377.62" cy="328.82" r="2.50" fill="#68ad8c" stroke="#2f4f3f" stroke-width="0.7" />
<circle cx="383.89" cy="329.44" r="2.50" fill="#68ad8c" stroke="#2f4f3f" stroke-width="0.7" />
<circle cx="410.00" cy="323.67" r="2.50" fill="#eab5b3" stroke="#9a7070" stroke-width="0.7" />
<circle cx="408.13" cy="316.70" r="2.50" fill="#eab5b3" stroke="#9a7070" stroke-width="0.7" />
<circle cx="404.35" cy="320.68" r="2.50" fill="#eab5b3" stroke="#9a7070" stroke-width="0.7" />
<circle cx="415.22" cy="332.62" r="2.50" fill="#eab5b3" stroke="#9a7070" stroke-width="0.7" />
<circle cx="412.89" cy="318.69" r="2.50" fill="#eab5b3" stroke="#9a7070" stroke-width="0.7" />
<circle cx="411.42" cy="304.76" r="2.50" fill="#eab5b3" stroke="#9a7070" stroke-width="0.7" />
<circle cx="405.28" cy="324.66" r="2.50" fill="#eab5b3" stroke="#9a7070" stroke-width="0.7" />
<circle cx="412.53" cy="322.67" r="2.50" fill="#eab5b3" stroke="#9a7070" stroke-width="0.7" />
<circle cx="416.19" cy="324.66" r="2.50" fill="#eab5b3" stroke="#9a7070" stroke-width="0.7" />
<circle cx="412.45" cy="325.66" r="2.50" fill="#eab5b3" stroke="#9a7070" stroke-width="0.7" />
<circle cx="408.76" cy="330.63" r="2.50" fill="#eab5b3" stroke="#9a7070" stroke-width="0.7" />
<circle cx="411.20" cy="284.86" r="2.50" fill="#eab5b3" stroke="#9a7070" stroke-width="0.7" />
<circle cx="441.94" cy="301.78" r="2.50" fill="#e59a98" stroke="#7a4a4a" stroke-width="0.7" />
<circle cx="446.34" cy="315.59" r="2.50" fill="#e59a98" stroke="#7a4a4a" stroke-width="0.7" />
<circle cx="438.61" cy="315.56" r="2.50" fill="#e59a98" stroke="#7a4a4a" stroke-width="0.7" />
<circle cx="445.70" cy="323.40" r="2.50" fill="#e59a98" stroke="#7a4a4a" stroke-width="0.7" />
<circle cx="448.74" cy="321.89" r="2.50" fill="#e59a98" stroke="#7a4a4a" stroke-width="0.7" />
<circle cx="452.35" cy="313.31" r="2.50" fill="#e59a98" stroke="#7a4a4a" stroke-width="0.7" />
<circle cx="448.23" cy="327.78" r="2.50" fill="#e59a98" stroke="#7a4a4a" stroke-width="0.7" />
<circle cx="447.96" cy="318.05" r="2.50" fill="#e59a98" stroke="#7a4a4a" stroke-width="0.7" />
<circle cx="447.24" cy="317.39" r="2.50" fill="#e59a98" stroke="#7a4a4a" stroke-width="0.7" />
<circle cx="437.40" cy="322.25" r="2.50" fill="#e59a98" stroke="#7a4a4a" stroke-width="0.7" />
<circle cx="439.58" cy="317.02" r="2.50" fill="#e59a98" stroke="#7a4a4a" stroke-width="0.7" />
<circle cx="440.47" cy="321.48" r="2.50" fill="#e59a98" stroke="#7a4a4a" stroke-width="0.7" />
<circle cx="445.39" cy="330.25" r="2.50" fill="#e59a98" stroke="#7a4a4a" stroke-width="0.7" />
<circle cx="450.01" cy="310.49" r="2.50" fill="#e59a98" stroke="#7a4a4a" stroke-width="0.7" />
<circle cx="448.40" cy="312.74" r="2.50" fill="#e59a98" stroke="#7a4a4a" stroke-width="0.7" />
<circle cx="447.80" cy="300.78" r="2.50" fill="#e59a98" stroke="#7a4a4a" stroke-width="0.7" />
<circle cx="448.18" cy="332.31" r="2.50" fill="#e59a98" stroke="#7a4a4a" stroke-width="0.7" />
<circle cx="442.43" cy="325.58" r="2.50" fill="#e59a98" stroke="#7a4a4a" stroke-width="0.7" />
<circle cx="444.82" cy="303.77" r="2.50" fill="#e59a98" stroke="#7a4a4a" stroke-width="0.7" />
<circle cx="453.40" cy="322.07" r="2.50" fill="#e59a98" stroke="#7a4a4a" stroke-width="0.7" />
<circle cx="448.56" cy="306.75" r="2.50" fill="#e59a98" stroke="#7a4a4a" stroke-width="0.7" />
<circle cx="450.74" cy="328.21" r="2.50" fill="#e59a98" stroke="#7a4a4a" stroke-width="0.7" />
<circle cx="442.97" cy="317.52" r="2.50" fill="#e59a98" stroke="#7a4a4a" stroke-width="0.7" />
<circle cx="446.94" cy="302.77" r="2.50" fill="#e59a98" stroke="#7a4a4a" stroke-width="0.7" />
<circle cx="443.63" cy="322.04" r="2.50" fill="#e59a98" stroke="#7a4a4a" stroke-width="0.7" />
<circle cx="442.86" cy="315.96" r="2.50" fill="#e59a98" stroke="#7a4a4a" stroke-width="0.7" />
<circle cx="450.58" cy="316.22" r="2.50" fill="#e59a98" stroke="#7a4a4a" stroke-width="0.7" />
<circle cx="444.39" cy="309.98" r="2.50" fill="#e59a98" stroke="#7a4a4a" stroke-width="0.7" />
<circle cx="440.91" cy="308.99" r="2.50" fill="#e59a98" stroke="#7a4a4a" stroke-width="0.7" />
<circle cx="440.89" cy="311.36" r="2.50" fill="#e59a98" stroke="#7a4a4a" stroke-width="0.7" />
<circle cx="439.01" cy="317.95" r="2.50" fill="#e59a98" stroke="#7a4a4a" stroke-width="0.7" />
<circle cx="439.98" cy="328.85" r="2.50" fill="#e59a98" stroke="#7a4a4a" stroke-width="0.7" />
<circle cx="444.69" cy="313.06" r="2.50" fill="#e59a98" stroke="#7a4a4a" stroke-width="0.7" />
<circle cx="445.90" cy="309.35" r="2.50" fill="#e59a98" stroke="#7a4a4a" stroke-width="0.7" />
<circle cx="439.78" cy="326.56" r="2.50" fill="#e59a98" stroke="#7a4a4a" stroke-width="0.7" />
<circle cx="451.25" cy="320.32" r="2.50" fill="#e59a98" stroke="#7a4a4a" stroke-width="0.7" />
<circle cx="443.01" cy="299.79" r="2.50" fill="#e59a98" stroke="#7a4a4a" stroke-width="0.7" />
<circle cx="444.64" cy="298.79" r="2.50" fill="#e59a98" stroke="#7a4a4a" stroke-width="0.7" />
<circle cx="442.50" cy="319.28" r="2.50" fill="#e59a98" stroke="#7a4a4a" stroke-width="0.7" />
<circle cx="442.69" cy="330.42" r="2.50" fill="#e59a98" stroke="#7a4a4a" stroke-width="0.7" />
<circle cx="449.35" cy="326.49" r="2.50" fill="#e59a98" stroke="#7a4a4a" stroke-width="0.7" />
<circle cx="452.52" cy="317.59" r="2.50" fill="#e59a98" stroke="#7a4a4a" stroke-width="0.7" />
<circle cx="444.57" cy="328.13" r="2.50" fill="#e59a98" stroke="#7a4a4a" stroke-width="0.7" />
<circle cx="486.89" cy="309.65" r="2.50" fill="#df8484" stroke="#6a3a3a" stroke-width="0.7" />
<circle cx="484.61" cy="305.88" r="2.50" fill="#df8484" stroke="#6a3a3a" stroke-width="0.7" />
<circle cx="474.20" cy="284.86" r="2.50" fill="#df8484" stroke="#6a3a3a" stroke-width="0.7" />
<circle cx="481.93" cy="325.21" r="2.50" fill="#df8484" stroke="#6a3a3a" stroke-width="0.7" />
<circle cx="487.55" cy="318.31" r="2.50" fill="#df8484" stroke="#6a3a3a" stroke-width="0.7" />
<circle cx="477.18" cy="310.80" r="2.50" fill="#df8484" stroke="#6a3a3a" stroke-width="0.7" />
<circle cx="480.33" cy="317.31" r="2.50" fill="#df8484" stroke="#6a3a3a" stroke-width="0.7" />
<circle cx="480.74" cy="310.39" r="2.50" fill="#df8484" stroke="#6a3a3a" stroke-width="0.7" />
<circle cx="479.44" cy="326.07" r="2.50" fill="#df8484" stroke="#6a3a3a" stroke-width="0.7" />
<circle cx="476.02" cy="306.19" r="2.50" fill="#df8484" stroke="#6a3a3a" stroke-width="0.7" />
<circle cx="479.30" cy="285.86" r="2.50" fill="#df8484" stroke="#6a3a3a" stroke-width="0.7" />
<circle cx="481.55" cy="330.63" r="2.50" fill="#df8484" stroke="#6a3a3a" stroke-width="0.7" />
<circle cx="486.08" cy="326.17" r="2.50" fill="#df8484" stroke="#6a3a3a" stroke-width="0.7" />
<circle cx="483.56" cy="307.55" r="2.50" fill="#df8484" stroke="#6a3a3a" stroke-width="0.7" />
<circle cx="475.16" cy="326.22" r="2.50" fill="#df8484" stroke="#6a3a3a" stroke-width="0.7" />
<circle cx="473.39" cy="310.04" r="2.50" fill="#df8484" stroke="#6a3a3a" stroke-width="0.7" />
<circle cx="483.31" cy="317.12" r="2.50" fill="#df8484" stroke="#6a3a3a" stroke-width="0.7" />
<circle cx="477.18" cy="322.40" r="2.50" fill="#df8484" stroke="#6a3a3a" stroke-width="0.7" />
<circle cx="481.28" cy="318.67" r="2.50" fill="#df8484" stroke="#6a3a3a" stroke-width="0.7" />
<circle cx="484.70" cy="286.85" r="2.50" fill="#df8484" stroke="#6a3a3a" stroke-width="0.7" />
<circle cx="483.71" cy="323.00" r="2.50" fill="#df8484" stroke="#6a3a3a" stroke-width="0.7" />
<circle cx="476.23" cy="324.92" r="2.50" fill="#df8484" stroke="#6a3a3a" stroke-width="0.7" />
<circle cx="475.25" cy="314.40" r="2.50" fill="#df8484" stroke="#6a3a3a" stroke-width="0.7" />
<circle cx="480.24" cy="298.79" r="2.50" fill="#df8484" stroke="#6a3a3a" stroke-width="0.7" />
<circle cx="485.65" cy="311.80" r="2.50" fill="#df8484" stroke="#6a3a3a" stroke-width="0.7" />
<circle cx="480.60" cy="276.90" r="2.50" fill="#df8484" stroke="#6a3a3a" stroke-width="0.7" />
<circle cx="473.86" cy="318.55" r="2.50" fill="#df8484" stroke="#6a3a3a" stroke-width="0.7" />
<circle cx="478.41" cy="308.75" r="2.50" fill="#df8484" stroke="#6a3a3a" stroke-width="0.7" />
<circle cx="478.46" cy="302.77" r="2.50" fill="#df8484" stroke="#6a3a3a" stroke-width="0.7" />
<line x1="410.70" y1="305.75" x2="410.70" y2="331.62" stroke="#000" stroke-width="1.1" />
<circle cx="410.70" cy="318.29" r="2.60" fill="#000" stroke="none" stroke-width="0.5" />
<line x1="445.40" y1="309.74" x2="445.40" y2="325.26" stroke="#000" stroke-width="1.1" />
<circle cx="445.40" cy="318.29" r="2.60" fill="#000" stroke="none" stroke-width="0.5" />
<line x1="480.60" y1="298.79" x2="480.60" y2="323.67" stroke="#000" stroke-width="1.1" />
<circle cx="480.60" cy="311.13" r="2.60" fill="#000" stroke="none" stroke-width="0.5" />
<line x1="376.00" y1="330.63" x2="376.00" y2="330.63" stroke="#000" stroke-width="1.1" />
<circle cx="376.00" cy="330.63" r="2.60" fill="#000" stroke="none" stroke-width="0.5" />
<text x="504.00" y="216.00" font-size="12.5" text-anchor="start" fill="#222" >h</text>
<line x1="536.60" y1="224.70" x2="536.60" y2="341.00" stroke="#000" stroke-width="1.3" />
<line x1="534.40" y1="256.20" x2="536.60" y2="256.20" stroke="#000" stroke-width="0.8" />
<text x="533.20" y="259.30" font-size="8.8" text-anchor="end" fill="#222" >0.4</text>
<line x1="534.40" y1="295.80" x2="536.60" y2="295.80" stroke="#000" stroke-width="0.8" />
<text x="533.20" y="298.90" font-size="8.8" text-anchor="end" fill="#222" >0.2</text>
<line x1="534.40" y1="335.40" x2="536.60" y2="335.40" stroke="#000" stroke-width="0.8" />
<text x="533.20" y="338.50" font-size="8.8" text-anchor="end" fill="#222" >0.0</text>
<line x1="535.95" y1="341.00" x2="678.30" y2="341.00" stroke="#000" stroke-width="1.3" />
<line x1="563.30" y1="341.00" x2="563.30" y2="343.20" stroke="#000" stroke-width="0.8" />
<line x1="607.70" y1="341.00" x2="607.70" y2="343.20" stroke="#000" stroke-width="0.8" />
<line x1="651.80" y1="341.00" x2="651.80" y2="343.20" stroke="#000" stroke-width="0.8" />
<text x="0" y="0" font-size="8.6" text-anchor="middle" fill="#222" transform="translate(515.60,278.00) rotate(-90)">PCaseek-D Score</text>
<text x="563.30" y="351.60" font-size="8.8" text-anchor="middle" fill="#222" >Ctrl</text>
<text x="569.30" y="363.20" font-size="8.8" text-anchor="middle" fill="#222">(<tspan font-style="italic">n</tspan>=84)</text>
<text x="611.00" y="351.60" font-size="8.8" text-anchor="middle" fill="#222" >Low GS</text>
<text x="608.80" y="363.20" font-size="8.8" text-anchor="middle" fill="#222">(<tspan font-style="italic">n</tspan>=21)</text>
<text x="654.00" y="351.60" font-size="8.8" text-anchor="middle" fill="#222" >High GS</text>
<text x="652.20" y="363.20" font-size="8.8" text-anchor="middle" fill="#222">(<tspan font-style="italic">n</tspan>=64)</text>
<polyline points="560.40,230.60 560.40,228.60 649.60,228.60 649.60,230.60" fill="none" stroke="#1a1a1a" stroke-width="0.9" />
<text x="606.30" y="228.10" font-size="8.6" text-anchor="middle" fill="#1a1a1a" letter-spacing="0.65" stroke="#1a1a1a" stroke-width="0.12">****</text>
<polyline points="607.50,244.30 607.50,242.30 649.60,242.30 649.60,244.30" fill="none" stroke="#1a1a1a" stroke-width="0.9" />
<text x="628.55" y="240.10" font-size="9.4" text-anchor="middle" fill="#222" font-style="italic">ns</text>
<polyline points="560.40,253.10 560.40,251.10 605.40,251.10 605.40,253.10" fill="none" stroke="#1a1a1a" stroke-width="0.9" />
<text x="584.20" y="250.60" font-size="8.6" text-anchor="middle" fill="#1a1a1a" letter-spacing="0.65" stroke="#1a1a1a" stroke-width="0.12">****</text>
<circle cx="569.73" cy="327.07" r="2.50" fill="#68ad8c" stroke="#2f4f3f" stroke-width="0.7" />
<circle cx="570.68" cy="326.03" r="2.50" fill="#68ad8c" stroke="#2f4f3f" stroke-width="0.7" />
<circle cx="567.00" cy="327.30" r="2.50" fill="#68ad8c" stroke="#2f4f3f" stroke-width="0.7" />
<circle cx="571.85" cy="327.48" r="2.50" fill="#68ad8c" stroke="#2f4f3f" stroke-width="0.7" />
<circle cx="571.24" cy="330.17" r="2.50" fill="#68ad8c" stroke="#2f4f3f" stroke-width="0.7" />
<circle cx="566.79" cy="329.00" r="2.50" fill="#68ad8c" stroke="#2f4f3f" stroke-width="0.7" />
<circle cx="555.56" cy="330.17" r="2.50" fill="#68ad8c" stroke="#2f4f3f" stroke-width="0.7" />
<circle cx="565.42" cy="330.36" r="2.50" fill="#68ad8c" stroke="#2f4f3f" stroke-width="0.7" />
<circle cx="570.57" cy="329.43" r="2.50" fill="#68ad8c" stroke="#2f4f3f" stroke-width="0.7" />
<circle cx="560.33" cy="323.87" r="2.50" fill="#68ad8c" stroke="#2f4f3f" stroke-width="0.7" />
<circle cx="571.39" cy="328.33" r="2.50" fill="#68ad8c" stroke="#2f4f3f" stroke-width="0.7" />
<circle cx="559.46" cy="331.49" r="2.50" fill="#68ad8c" stroke="#2f4f3f" stroke-width="0.7" />
<circle cx="563.63" cy="330.72" r="2.50" fill="#68ad8c" stroke="#2f4f3f" stroke-width="0.7" />
<circle cx="564.48" cy="332.57" r="2.50" fill="#68ad8c" stroke="#2f4f3f" stroke-width="0.7" />
<circle cx="561.38" cy="327.95" r="2.50" fill="#68ad8c" stroke="#2f4f3f" stroke-width="0.7" />
<circle cx="570.28" cy="328.87" r="2.50" fill="#68ad8c" stroke="#2f4f3f" stroke-width="0.7" />
<circle cx="560.32" cy="328.20" r="2.50" fill="#68ad8c" stroke="#2f4f3f" stroke-width="0.7" />
<circle cx="557.51" cy="333.02" r="2.50" fill="#68ad8c" stroke="#2f4f3f" stroke-width="0.7" />
<circle cx="559.37" cy="329.27" r="2.50" fill="#68ad8c" stroke="#2f4f3f" stroke-width="0.7" />
<circle cx="564.54" cy="328.52" r="2.50" fill="#68ad8c" stroke="#2f4f3f" stroke-width="0.7" />
<circle cx="561.13" cy="330.05" r="2.50" fill="#68ad8c" stroke="#2f4f3f" stroke-width="0.7" />
<circle cx="572.31" cy="329.65" r="2.50" fill="#68ad8c" stroke="#2f4f3f" stroke-width="0.7" />
<circle cx="565.17" cy="331.42" r="2.50" fill="#68ad8c" stroke="#2f4f3f" stroke-width="0.7" />
<circle cx="560.30" cy="331.19" r="2.50" fill="#68ad8c" stroke="#2f4f3f" stroke-width="0.7" />
<circle cx="563.17" cy="327.39" r="2.50" fill="#68ad8c" stroke="#2f4f3f" stroke-width="0.7" />
<circle cx="566.12" cy="329.93" r="2.50" fill="#68ad8c" stroke="#2f4f3f" stroke-width="0.7" />
<circle cx="571.34" cy="329.05" r="2.50" fill="#68ad8c" stroke="#2f4f3f" stroke-width="0.7" />
<circle cx="568.89" cy="329.55" r="2.50" fill="#68ad8c" stroke="#2f4f3f" stroke-width="0.7" />
<circle cx="555.24" cy="328.99" r="2.50" fill="#68ad8c" stroke="#2f4f3f" stroke-width="0.7" />
<circle cx="559.22" cy="331.01" r="2.50" fill="#68ad8c" stroke="#2f4f3f" stroke-width="0.7" />
<circle cx="556.68" cy="327.86" r="2.50" fill="#68ad8c" stroke="#2f4f3f" stroke-width="0.7" />
<circle cx="563.22" cy="329.63" r="2.50" fill="#68ad8c" stroke="#2f4f3f" stroke-width="0.7" />
<circle cx="566.82" cy="323.96" r="2.50" fill="#68ad8c" stroke="#2f4f3f" stroke-width="0.7" />
<circle cx="554.24" cy="331.34" r="2.50" fill="#68ad8c" stroke="#2f4f3f" stroke-width="0.7" />
<circle cx="553.48" cy="329.17" r="2.50" fill="#68ad8c" stroke="#2f4f3f" stroke-width="0.7" />
<circle cx="563.57" cy="328.66" r="2.50" fill="#68ad8c" stroke="#2f4f3f" stroke-width="0.7" />
<circle cx="573.27" cy="330.81" r="2.50" fill="#68ad8c" stroke="#2f4f3f" stroke-width="0.7" />
<circle cx="568.01" cy="328.46" r="2.50" fill="#68ad8c" stroke="#2f4f3f" stroke-width="0.7" />
<circle cx="558.45" cy="329.83" r="2.50" fill="#68ad8c" stroke="#2f4f3f" stroke-width="0.7" />
<circle cx="557.32" cy="329.46" r="2.50" fill="#68ad8c" stroke="#2f4f3f" stroke-width="0.7" />
<circle cx="558.77" cy="327.77" r="2.50" fill="#68ad8c" stroke="#2f4f3f" stroke-width="0.7" />
<circle cx="558.42" cy="330.70" r="2.50" fill="#68ad8c" stroke="#2f4f3f" stroke-width="0.7" />
<circle cx="557.05" cy="327.26" r="2.50" fill="#68ad8c" stroke="#2f4f3f" stroke-width="0.7" />
<circle cx="557.97" cy="331.63" r="2.50" fill="#68ad8c" stroke="#2f4f3f" stroke-width="0.7" />
<circle cx="568.77" cy="331.26" r="2.50" fill="#68ad8c" stroke="#2f4f3f" stroke-width="0.7" />
<circle cx="555.06" cy="332.38" r="2.50" fill="#68ad8c" stroke="#2f4f3f" stroke-width="0.7" />
<circle cx="552.43" cy="328.65" r="2.50" fill="#68ad8c" stroke="#2f4f3f" stroke-width="0.7" />
<circle cx="572.65" cy="328.54" r="2.50" fill="#68ad8c" stroke="#2f4f3f" stroke-width="0.7" />
<circle cx="553.85" cy="329.73" r="2.50" fill="#68ad8c" stroke="#2f4f3f" stroke-width="0.7" />
<circle cx="565.76" cy="329.26" r="2.50" fill="#68ad8c" stroke="#2f4f3f" stroke-width="0.7" />
<circle cx="564.37" cy="330.94" r="2.50" fill="#68ad8c" stroke="#2f4f3f" stroke-width="0.7" />
<circle cx="569.47" cy="329.90" r="2.50" fill="#68ad8c" stroke="#2f4f3f" stroke-width="0.7" />
<circle cx="568.23" cy="330.70" r="2.50" fill="#68ad8c" stroke="#2f4f3f" stroke-width="0.7" />
<circle cx="560.40" cy="326.94" r="2.50" fill="#68ad8c" stroke="#2f4f3f" stroke-width="0.7" />
<circle cx="563.69" cy="327.65" r="2.50" fill="#68ad8c" stroke="#2f4f3f" stroke-width="0.7" />
<circle cx="565.18" cy="326.77" r="2.50" fill="#68ad8c" stroke="#2f4f3f" stroke-width="0.7" />
<circle cx="556.09" cy="331.15" r="2.50" fill="#68ad8c" stroke="#2f4f3f" stroke-width="0.7" />
<circle cx="559.69" cy="328.71" r="2.50" fill="#68ad8c" stroke="#2f4f3f" stroke-width="0.7" />
<circle cx="558.74" cy="332.67" r="2.50" fill="#68ad8c" stroke="#2f4f3f" stroke-width="0.7" />
<circle cx="571.41" cy="332.26" r="2.50" fill="#68ad8c" stroke="#2f4f3f" stroke-width="0.7" />
<circle cx="560.02" cy="325.99" r="2.50" fill="#68ad8c" stroke="#2f4f3f" stroke-width="0.7" />
<circle cx="566.73" cy="332.25" r="2.50" fill="#68ad8c" stroke="#2f4f3f" stroke-width="0.7" />
<circle cx="570.96" cy="330.50" r="2.50" fill="#68ad8c" stroke="#2f4f3f" stroke-width="0.7" />
<circle cx="569.02" cy="327.84" r="2.50" fill="#68ad8c" stroke="#2f4f3f" stroke-width="0.7" />
<circle cx="561.21" cy="329.02" r="2.50" fill="#68ad8c" stroke="#2f4f3f" stroke-width="0.7" />
<circle cx="553.96" cy="327.64" r="2.50" fill="#68ad8c" stroke="#2f4f3f" stroke-width="0.7" />
<circle cx="564.62" cy="328.13" r="2.50" fill="#68ad8c" stroke="#2f4f3f" stroke-width="0.7" />
<circle cx="565.10" cy="329.83" r="2.50" fill="#68ad8c" stroke="#2f4f3f" stroke-width="0.7" />
<circle cx="555.71" cy="326.57" r="2.50" fill="#68ad8c" stroke="#2f4f3f" stroke-width="0.7" />
<circle cx="557.22" cy="328.36" r="2.50" fill="#68ad8c" stroke="#2f4f3f" stroke-width="0.7" />
<circle cx="556.78" cy="329.92" r="2.50" fill="#68ad8c" stroke="#2f4f3f" stroke-width="0.7" />
<circle cx="566.50" cy="327.88" r="2.50" fill="#68ad8c" stroke="#2f4f3f" stroke-width="0.7" />
<circle cx="556.26" cy="324.97" r="2.50" fill="#68ad8c" stroke="#2f4f3f" stroke-width="0.7" />
<circle cx="555.24" cy="328.07" r="2.50" fill="#68ad8c" stroke="#2f4f3f" stroke-width="0.7" />
<circle cx="571.43" cy="328.01" r="2.50" fill="#68ad8c" stroke="#2f4f3f" stroke-width="0.7" />
<circle cx="561.16" cy="330.40" r="2.50" fill="#68ad8c" stroke="#2f4f3f" stroke-width="0.7" />
<circle cx="563.83" cy="323.57" r="2.50" fill="#68ad8c" stroke="#2f4f3f" stroke-width="0.7" />
<circle cx="568.14" cy="331.61" r="2.50" fill="#68ad8c" stroke="#2f4f3f" stroke-width="0.7" />
<circle cx="570.04" cy="331.01" r="2.50" fill="#68ad8c" stroke="#2f4f3f" stroke-width="0.7" />
<circle cx="568.26" cy="333.02" r="2.50" fill="#68ad8c" stroke="#2f4f3f" stroke-width="0.7" />
<circle cx="565.88" cy="325.64" r="2.50" fill="#68ad8c" stroke="#2f4f3f" stroke-width="0.7" />
<circle cx="552.92" cy="330.82" r="2.50" fill="#68ad8c" stroke="#2f4f3f" stroke-width="0.7" />
<circle cx="565.80" cy="331.18" r="2.50" fill="#68ad8c" stroke="#2f4f3f" stroke-width="0.7" />
<circle cx="562.28" cy="332.26" r="2.50" fill="#68ad8c" stroke="#2f4f3f" stroke-width="0.7" />
<circle cx="616.83" cy="316.77" r="2.50" fill="#eab5b3" stroke="#9a7070" stroke-width="0.7" />
<circle cx="603.30" cy="314.87" r="2.50" fill="#eab5b3" stroke="#9a7070" stroke-width="0.7" />
<circle cx="613.31" cy="315.38" r="2.50" fill="#eab5b3" stroke="#9a7070" stroke-width="0.7" />
<circle cx="607.47" cy="319.29" r="2.50" fill="#eab5b3" stroke="#9a7070" stroke-width="0.7" />
<circle cx="604.31" cy="321.57" r="2.50" fill="#eab5b3" stroke="#9a7070" stroke-width="0.7" />
<circle cx="599.56" cy="319.08" r="2.50" fill="#eab5b3" stroke="#9a7070" stroke-width="0.7" />
<circle cx="605.90" cy="316.20" r="2.50" fill="#eab5b3" stroke="#9a7070" stroke-width="0.7" />
<circle cx="603.08" cy="305.70" r="2.50" fill="#eab5b3" stroke="#9a7070" stroke-width="0.7" />
<circle cx="604.86" cy="302.73" r="2.50" fill="#eab5b3" stroke="#9a7070" stroke-width="0.7" />
<circle cx="614.50" cy="313.17" r="2.50" fill="#eab5b3" stroke="#9a7070" stroke-width="0.7" />
<circle cx="598.72" cy="313.94" r="2.50" fill="#eab5b3" stroke="#9a7070" stroke-width="0.7" />
<circle cx="608.31" cy="300.75" r="2.50" fill="#eab5b3" stroke="#9a7070" stroke-width="0.7" />
<circle cx="605.60" cy="309.66" r="2.50" fill="#eab5b3" stroke="#9a7070" stroke-width="0.7" />
<circle cx="609.65" cy="303.72" r="2.50" fill="#eab5b3" stroke="#9a7070" stroke-width="0.7" />
<circle cx="608.86" cy="307.68" r="2.50" fill="#eab5b3" stroke="#9a7070" stroke-width="0.7" />
<circle cx="602.10" cy="315.61" r="2.50" fill="#eab5b3" stroke="#9a7070" stroke-width="0.7" />
<circle cx="603.84" cy="324.57" r="2.50" fill="#eab5b3" stroke="#9a7070" stroke-width="0.7" />
<circle cx="611.46" cy="315.63" r="2.50" fill="#eab5b3" stroke="#9a7070" stroke-width="0.7" />
<circle cx="609.23" cy="314.04" r="2.50" fill="#eab5b3" stroke="#9a7070" stroke-width="0.7" />
<circle cx="608.48" cy="325.90" r="2.50" fill="#eab5b3" stroke="#9a7070" stroke-width="0.7" />
<circle cx="611.03" cy="321.86" r="2.50" fill="#eab5b3" stroke="#9a7070" stroke-width="0.7" />
<circle cx="644.25" cy="316.93" r="2.50" fill="#df8484" stroke="#6a3a3a" stroke-width="0.7" />
<circle cx="651.29" cy="327.94" r="2.50" fill="#df8484" stroke="#6a3a3a" stroke-width="0.7" />
<circle cx="649.86" cy="329.87" r="2.50" fill="#df8484" stroke="#6a3a3a" stroke-width="0.7" />
<circle cx="650.60" cy="310.29" r="2.50" fill="#df8484" stroke="#6a3a3a" stroke-width="0.7" />
<circle cx="656.20" cy="283.92" r="2.50" fill="#df8484" stroke="#6a3a3a" stroke-width="0.7" />
<circle cx="654.00" cy="285.90" r="2.50" fill="#df8484" stroke="#6a3a3a" stroke-width="0.7" />
<circle cx="649.40" cy="321.04" r="2.50" fill="#df8484" stroke="#6a3a3a" stroke-width="0.7" />
<circle cx="647.10" cy="327.44" r="2.50" fill="#df8484" stroke="#6a3a3a" stroke-width="0.7" />
<circle cx="652.11" cy="325.36" r="2.50" fill="#df8484" stroke="#6a3a3a" stroke-width="0.7" />
<circle cx="657.62" cy="320.57" r="2.50" fill="#df8484" stroke="#6a3a3a" stroke-width="0.7" />
<circle cx="656.24" cy="310.59" r="2.50" fill="#df8484" stroke="#6a3a3a" stroke-width="0.7" />
<circle cx="646.70" cy="302.73" r="2.50" fill="#df8484" stroke="#6a3a3a" stroke-width="0.7" />
<circle cx="644.24" cy="325.85" r="2.50" fill="#df8484" stroke="#6a3a3a" stroke-width="0.7" />
<circle cx="654.15" cy="309.58" r="2.50" fill="#df8484" stroke="#6a3a3a" stroke-width="0.7" />
<circle cx="655.96" cy="324.50" r="2.50" fill="#df8484" stroke="#6a3a3a" stroke-width="0.7" />
<circle cx="657.17" cy="315.77" r="2.50" fill="#df8484" stroke="#6a3a3a" stroke-width="0.7" />
<circle cx="646.54" cy="308.24" r="2.50" fill="#df8484" stroke="#6a3a3a" stroke-width="0.7" />
<circle cx="646.23" cy="328.22" r="2.50" fill="#df8484" stroke="#6a3a3a" stroke-width="0.7" />
<circle cx="659.40" cy="313.02" r="2.50" fill="#df8484" stroke="#6a3a3a" stroke-width="0.7" />
<circle cx="647.65" cy="314.74" r="2.50" fill="#df8484" stroke="#6a3a3a" stroke-width="0.7" />
<circle cx="653.93" cy="317.05" r="2.50" fill="#df8484" stroke="#6a3a3a" stroke-width="0.7" />
<circle cx="653.29" cy="314.60" r="2.50" fill="#df8484" stroke="#6a3a3a" stroke-width="0.7" />
<circle cx="659.78" cy="325.81" r="2.50" fill="#df8484" stroke="#6a3a3a" stroke-width="0.7" />
<circle cx="646.55" cy="323.30" r="2.50" fill="#df8484" stroke="#6a3a3a" stroke-width="0.7" />
<circle cx="658.49" cy="322.66" r="2.50" fill="#df8484" stroke="#6a3a3a" stroke-width="0.7" />
<circle cx="647.17" cy="311.71" r="2.50" fill="#df8484" stroke="#6a3a3a" stroke-width="0.7" />
<circle cx="642.77" cy="319.00" r="2.50" fill="#df8484" stroke="#6a3a3a" stroke-width="0.7" />
<circle cx="642.90" cy="321.88" r="2.50" fill="#df8484" stroke="#6a3a3a" stroke-width="0.7" />
<circle cx="657.23" cy="330.54" r="2.50" fill="#df8484" stroke="#6a3a3a" stroke-width="0.7" />
<circle cx="656.15" cy="318.55" r="2.50" fill="#df8484" stroke="#6a3a3a" stroke-width="0.7" />
<circle cx="654.41" cy="328.22" r="2.50" fill="#df8484" stroke="#6a3a3a" stroke-width="0.7" />
<circle cx="649.24" cy="331.05" r="2.50" fill="#df8484" stroke="#6a3a3a" stroke-width="0.7" />
<circle cx="649.74" cy="326.35" r="2.50" fill="#df8484" stroke="#6a3a3a" stroke-width="0.7" />
<circle cx="644.79" cy="320.59" r="2.50" fill="#df8484" stroke="#6a3a3a" stroke-width="0.7" />
<circle cx="652.21" cy="297.78" r="2.50" fill="#df8484" stroke="#6a3a3a" stroke-width="0.7" />
<circle cx="652.50" cy="276.00" r="2.50" fill="#df8484" stroke="#6a3a3a" stroke-width="0.7" />
<circle cx="651.24" cy="306.29" r="2.50" fill="#df8484" stroke="#6a3a3a" stroke-width="0.7" />
<circle cx="651.56" cy="318.56" r="2.50" fill="#df8484" stroke="#6a3a3a" stroke-width="0.7" />
<circle cx="655.48" cy="320.88" r="2.50" fill="#df8484" stroke="#6a3a3a" stroke-width="0.7" />
<circle cx="661.02" cy="321.34" r="2.50" fill="#df8484" stroke="#6a3a3a" stroke-width="0.7" />
<circle cx="644.83" cy="316.47" r="2.50" fill="#df8484" stroke="#6a3a3a" stroke-width="0.7" />
<circle cx="658.09" cy="328.01" r="2.50" fill="#df8484" stroke="#6a3a3a" stroke-width="0.7" />
<circle cx="648.37" cy="321.94" r="2.50" fill="#df8484" stroke="#6a3a3a" stroke-width="0.7" />
<circle cx="653.91" cy="321.91" r="2.50" fill="#df8484" stroke="#6a3a3a" stroke-width="0.7" />
<circle cx="649.37" cy="300.75" r="2.50" fill="#df8484" stroke="#6a3a3a" stroke-width="0.7" />
<circle cx="654.31" cy="301.74" r="2.50" fill="#df8484" stroke="#6a3a3a" stroke-width="0.7" />
<circle cx="644.61" cy="313.69" r="2.50" fill="#df8484" stroke="#6a3a3a" stroke-width="0.7" />
<circle cx="657.96" cy="318.13" r="2.50" fill="#df8484" stroke="#6a3a3a" stroke-width="0.7" />
<circle cx="661.30" cy="318.81" r="2.50" fill="#df8484" stroke="#6a3a3a" stroke-width="0.7" />
<circle cx="650.87" cy="312.17" r="2.50" fill="#df8484" stroke="#6a3a3a" stroke-width="0.7" />
<circle cx="660.00" cy="283.92" r="2.50" fill="#df8484" stroke="#6a3a3a" stroke-width="0.7" />
<circle cx="647.23" cy="319.87" r="2.50" fill="#df8484" stroke="#6a3a3a" stroke-width="0.7" />
<circle cx="653.32" cy="305.85" r="2.50" fill="#df8484" stroke="#6a3a3a" stroke-width="0.7" />
<circle cx="650.16" cy="316.83" r="2.50" fill="#df8484" stroke="#6a3a3a" stroke-width="0.7" />
<circle cx="656.61" cy="306.92" r="2.50" fill="#df8484" stroke="#6a3a3a" stroke-width="0.7" />
<circle cx="645.32" cy="318.15" r="2.50" fill="#df8484" stroke="#6a3a3a" stroke-width="0.7" />
<circle cx="659.97" cy="316.90" r="2.50" fill="#df8484" stroke="#6a3a3a" stroke-width="0.7" />
<circle cx="658.10" cy="326.40" r="2.50" fill="#df8484" stroke="#6a3a3a" stroke-width="0.7" />
<circle cx="655.74" cy="327.71" r="2.50" fill="#df8484" stroke="#6a3a3a" stroke-width="0.7" />
<circle cx="652.42" cy="319.20" r="2.50" fill="#df8484" stroke="#6a3a3a" stroke-width="0.7" />
<circle cx="653.18" cy="326.00" r="2.50" fill="#df8484" stroke="#6a3a3a" stroke-width="0.7" />
<circle cx="655.43" cy="311.78" r="2.50" fill="#df8484" stroke="#6a3a3a" stroke-width="0.7" />
<circle cx="644.80" cy="283.92" r="2.50" fill="#df8484" stroke="#6a3a3a" stroke-width="0.7" />
<circle cx="648.83" cy="317.19" r="2.50" fill="#df8484" stroke="#6a3a3a" stroke-width="0.7" />
<circle cx="655.14" cy="316.80" r="2.50" fill="#df8484" stroke="#6a3a3a" stroke-width="0.7" />
<line x1="563.50" y1="329.46" x2="563.50" y2="329.46" stroke="#000" stroke-width="1.1" />
<circle cx="563.50" cy="329.46" r="2.60" fill="#000" stroke="none" stroke-width="0.5" />
<line x1="607.50" y1="306.69" x2="607.50" y2="322.53" stroke="#000" stroke-width="1.1" />
<circle cx="607.50" cy="314.61" r="2.60" fill="#000" stroke="none" stroke-width="0.5" />
<line x1="652.00" y1="304.12" x2="652.00" y2="326.49" stroke="#000" stroke-width="1.1" />
<circle cx="652.00" cy="315.20" r="2.60" fill="#000" stroke="none" stroke-width="0.5" />
<text x="2.20" y="382.50" font-size="12.5" text-anchor="start" fill="#222" >i</text>
<text x="32.00" y="386.30" font-size="10" text-anchor="start" fill="#222" >PCaseek-D in train cohort</text>
<line x1="28.40" y1="509.00" x2="146.90" y2="397.30" stroke="#283f74" stroke-width="1.55" stroke-dasharray="6,3.4"/>
<line x1="24.60" y1="509.00" x2="26.60" y2="509.00" stroke="#000" stroke-width="0.8" />
<text x="23.80" y="512.10" font-size="8.6" text-anchor="end" fill="#222" >0.0</text>
<line x1="28.40" y1="509.00" x2="28.40" y2="511.00" stroke="#000" stroke-width="0.8" />
<text x="28.40" y="519.80" font-size="8.6" text-anchor="middle" fill="#222" >0.0</text>
<line x1="24.60" y1="486.66" x2="26.60" y2="486.66" stroke="#000" stroke-width="0.8" />
<text x="23.80" y="489.76" font-size="8.6" text-anchor="end" fill="#222" >0.2</text>
<line x1="52.10" y1="509.00" x2="52.10" y2="511.00" stroke="#000" stroke-width="0.8" />
<text x="52.10" y="519.80" font-size="8.6" text-anchor="middle" fill="#222" >0.2</text>
<line x1="24.60" y1="464.32" x2="26.60" y2="464.32" stroke="#000" stroke-width="0.8" />
<text x="23.80" y="467.42" font-size="8.6" text-anchor="end" fill="#222" >0.4</text>
<line x1="75.80" y1="509.00" x2="75.80" y2="511.00" stroke="#000" stroke-width="0.8" />
<text x="75.80" y="519.80" font-size="8.6" text-anchor="middle" fill="#222" >0.4</text>
<line x1="24.60" y1="441.98" x2="26.60" y2="441.98" stroke="#000" stroke-width="0.8" />
<text x="23.80" y="445.08" font-size="8.6" text-anchor="end" fill="#222" >0.6</text>
<line x1="99.50" y1="509.00" x2="99.50" y2="511.00" stroke="#000" stroke-width="0.8" />
<text x="99.50" y="519.80" font-size="8.6" text-anchor="middle" fill="#222" >0.6</text>
<line x1="24.60" y1="419.64" x2="26.60" y2="419.64" stroke="#000" stroke-width="0.8" />
<text x="23.80" y="422.74" font-size="8.6" text-anchor="end" fill="#222" >0.8</text>
<line x1="123.20" y1="509.00" x2="123.20" y2="511.00" stroke="#000" stroke-width="0.8" />
<text x="123.20" y="519.80" font-size="8.6" text-anchor="middle" fill="#222" >0.8</text>
<line x1="24.60" y1="397.30" x2="26.60" y2="397.30" stroke="#000" stroke-width="0.8" />
<text x="23.80" y="400.40" font-size="8.6" text-anchor="end" fill="#222" >1.0</text>
<line x1="146.90" y1="509.00" x2="146.90" y2="511.00" stroke="#000" stroke-width="0.8" />
<text x="146.90" y="519.80" font-size="8.6" text-anchor="middle" fill="#222" >1.0</text>
<text x="0" y="0" font-size="8.8" text-anchor="middle" fill="#222" transform="translate(10.00,450.35) rotate(-90)">True Positive Rate</text>
<text x="82.00" y="530.40" font-size="8.8" text-anchor="middle" fill="#222" >False Positive Rate</text>
<polyline points="28.40,509.00 28.40,402.88 58.02,402.88 60.39,400.09 78.17,400.09 84.09,397.30 146.90,397.30" fill="none" stroke="#4f8fc9" stroke-width="1.3" stroke-linejoin="miter"/>
<rect x="26.60" y="391.70" width="120.60" height="117.30" fill="none" stroke="#1e1a1a" stroke-width="1.4"/>
<text x="78.00" y="472.30" font-size="8.2" text-anchor="start" fill="#222" >AUC: 0.98</text>
<text x="78.00" y="480.90" font-size="8.2" text-anchor="start" fill="#222" >95% CI: 0.95-1.00</text>
<text x="78.00" y="489.50" font-size="8.2" text-anchor="start" fill="#222" >Sensitivity: 87%</text>
<text x="78.00" y="498.10" font-size="8.2" text-anchor="start" fill="#222" >Specificity: 100%</text>
<text x="78.00" y="506.70" font-size="8.2" text-anchor="start" fill="#222" >Accuracy: 94%</text>
<text x="155.50" y="382.50" font-size="12.5" text-anchor="start" fill="#222" >j</text>
<text x="176.30" y="386.30" font-size="10" text-anchor="start" fill="#222" >PCaseek-D in validation cohort</text>
<line x1="189.70" y1="509.30" x2="308.00" y2="397.50" stroke="#283f74" stroke-width="1.55" stroke-dasharray="6,3.4"/>
<line x1="186.00" y1="509.30" x2="188.00" y2="509.30" stroke="#000" stroke-width="0.8" />
<text x="185.20" y="512.40" font-size="8.6" text-anchor="end" fill="#222" >0.0</text>
<line x1="189.70" y1="509.30" x2="189.70" y2="511.30" stroke="#000" stroke-width="0.8" />
<text x="189.70" y="519.80" font-size="8.6" text-anchor="middle" fill="#222" >0.0</text>
<line x1="186.00" y1="486.94" x2="188.00" y2="486.94" stroke="#000" stroke-width="0.8" />
<text x="185.20" y="490.04" font-size="8.6" text-anchor="end" fill="#222" >0.2</text>
<line x1="213.36" y1="509.30" x2="213.36" y2="511.30" stroke="#000" stroke-width="0.8" />
<text x="213.36" y="519.80" font-size="8.6" text-anchor="middle" fill="#222" >0.2</text>
<line x1="186.00" y1="464.58" x2="188.00" y2="464.58" stroke="#000" stroke-width="0.8" />
<text x="185.20" y="467.68" font-size="8.6" text-anchor="end" fill="#222" >0.4</text>
<line x1="237.02" y1="509.30" x2="237.02" y2="511.30" stroke="#000" stroke-width="0.8" />
<text x="237.02" y="519.80" font-size="8.6" text-anchor="middle" fill="#222" >0.4</text>
<line x1="186.00" y1="442.22" x2="188.00" y2="442.22" stroke="#000" stroke-width="0.8" />
<text x="185.20" y="445.32" font-size="8.6" text-anchor="end" fill="#222" >0.6</text>
<line x1="260.68" y1="509.30" x2="260.68" y2="511.30" stroke="#000" stroke-width="0.8" />
<text x="260.68" y="519.80" font-size="8.6" text-anchor="middle" fill="#222" >0.6</text>
<line x1="186.00" y1="419.86" x2="188.00" y2="419.86" stroke="#000" stroke-width="0.8" />
<text x="185.20" y="422.96" font-size="8.6" text-anchor="end" fill="#222" >0.8</text>
<line x1="284.34" y1="509.30" x2="284.34" y2="511.30" stroke="#000" stroke-width="0.8" />
<text x="284.34" y="519.80" font-size="8.6" text-anchor="middle" fill="#222" >0.8</text>
<line x1="186.00" y1="397.50" x2="188.00" y2="397.50" stroke="#000" stroke-width="0.8" />
<text x="185.20" y="400.60" font-size="8.6" text-anchor="end" fill="#222" >1.0</text>
<line x1="308.00" y1="509.30" x2="308.00" y2="511.30" stroke="#000" stroke-width="0.8" />
<text x="308.00" y="519.80" font-size="8.6" text-anchor="middle" fill="#222" >1.0</text>
<text x="0" y="0" font-size="8.8" text-anchor="middle" fill="#222" transform="translate(169.50,450.65) rotate(-90)">True Positive Rate</text>
<text x="246.60" y="530.40" font-size="8.8" text-anchor="middle" fill="#222" >False Positive Rate</text>
<polyline points="189.70,509.30 189.70,428.80 192.66,427.69 192.66,420.98 195.61,412.03 203.90,412.03 205.08,407.56 208.63,407.56 209.22,400.85 214.54,400.85 214.54,397.50 308.00,397.50" fill="none" stroke="#4f8fc9" stroke-width="1.3" stroke-linejoin="miter"/>
<rect x="188.00" y="392.00" width="120.50" height="117.30" fill="none" stroke="#1e1a1a" stroke-width="1.4"/>
<text x="240.00" y="472.30" font-size="8.2" text-anchor="start" fill="#222" >AUC: 0.97</text>
<text x="240.00" y="480.90" font-size="8.2" text-anchor="start" fill="#222" >95% CI: 0.94-0.09</text>
<text x="240.00" y="489.50" font-size="8.2" text-anchor="start" fill="#222" >Sensitivity: 85%</text>
<text x="240.00" y="498.10" font-size="8.2" text-anchor="start" fill="#222" >Specificity: 95%</text>
<text x="240.00" y="506.70" font-size="8.2" text-anchor="start" fill="#222" >Accuracy: 90%</text>
<text x="320.60" y="383.00" font-size="12.5" text-anchor="start" fill="#222" >k</text>
<rect x="361.80" y="389.40" width="126.70" height="126.90" fill="#ffffff" />
<line x1="372.20" y1="389.40" x2="372.20" y2="516.30" stroke="#ececec" stroke-width="1.0" />
<line x1="389.80" y1="389.40" x2="389.80" y2="516.30" stroke="#ececec" stroke-width="1.0" />
<line x1="407.40" y1="389.40" x2="407.40" y2="516.30" stroke="#ececec" stroke-width="1.0" />
<line x1="425.00" y1="389.40" x2="425.00" y2="516.30" stroke="#ececec" stroke-width="1.0" />
<line x1="442.60" y1="389.40" x2="442.60" y2="516.30" stroke="#ececec" stroke-width="1.0" />
<line x1="460.20" y1="389.40" x2="460.20" y2="516.30" stroke="#ececec" stroke-width="1.0" />
<line x1="477.80" y1="389.40" x2="477.80" y2="516.30" stroke="#ececec" stroke-width="1.0" />
<line x1="361.80" y1="399.60" x2="488.50" y2="399.60" stroke="#ececec" stroke-width="1.0" />
<line x1="361.80" y1="417.28" x2="488.50" y2="417.28" stroke="#ececec" stroke-width="1.0" />
<line x1="361.80" y1="434.96" x2="488.50" y2="434.96" stroke="#ececec" stroke-width="1.0" />
<line x1="361.80" y1="452.64" x2="488.50" y2="452.64" stroke="#ececec" stroke-width="1.0" />
<line x1="361.80" y1="470.32" x2="488.50" y2="470.32" stroke="#ececec" stroke-width="1.0" />
<line x1="361.80" y1="488.00" x2="488.50" y2="488.00" stroke="#ececec" stroke-width="1.0" />
<line x1="361.80" y1="505.68" x2="488.50" y2="505.68" stroke="#ececec" stroke-width="1.0" />
<circle cx="372.20" cy="399.60" r="2.85" fill="#efb09f" stroke="none" stroke-width="0.5" />
<text x="373.20" y="402.10" font-size="7.6" text-anchor="middle" fill="#111" >0.44</text>
<circle cx="389.80" cy="399.60" r="2.85" fill="#efb09f" stroke="none" stroke-width="0.5" />
<text x="390.80" y="402.10" font-size="7.6" text-anchor="middle" fill="#111" >0.43</text>
<circle cx="407.40" cy="399.60" r="2.85" fill="#efb09f" stroke="none" stroke-width="0.5" />
<text x="408.40" y="402.10" font-size="7.6" text-anchor="middle" fill="#111" >0.42</text>
<circle cx="425.00" cy="399.60" r="2.85" fill="#efb09f" stroke="none" stroke-width="0.5" />
<text x="426.00" y="402.10" font-size="7.6" text-anchor="middle" fill="#111" >0.43</text>
<circle cx="442.60" cy="399.60" r="2.85" fill="#efb09f" stroke="none" stroke-width="0.5" />
<text x="443.60" y="402.10" font-size="7.6" text-anchor="middle" fill="#111" >0.43</text>
<circle cx="460.20" cy="399.60" r="2.85" fill="#efb09f" stroke="none" stroke-width="0.5" />
<text x="461.20" y="402.10" font-size="7.6" text-anchor="middle" fill="#111" >0.4</text>
<circle cx="477.80" cy="399.60" r="5.30" fill="#e6321f" stroke="none" stroke-width="0.5" />
<text x="478.80" y="402.10" font-size="7.6" text-anchor="middle" fill="#111" >1</text>
<circle cx="372.20" cy="417.28" r="5.10" fill="#e73a27" stroke="none" stroke-width="0.5" />
<text x="373.20" y="419.78" font-size="7.6" text-anchor="middle" fill="#111" >0.95</text>
<circle cx="389.80" cy="417.28" r="5.18" fill="#e73a27" stroke="none" stroke-width="0.5" />
<text x="390.80" y="419.78" font-size="7.6" text-anchor="middle" fill="#111" >0.97</text>
<circle cx="407.40" cy="417.28" r="5.22" fill="#e6321f" stroke="none" stroke-width="0.5" />
<text x="408.40" y="419.78" font-size="7.6" text-anchor="middle" fill="#111" >0.98</text>
<circle cx="425.00" cy="417.28" r="5.18" fill="#e73a27" stroke="none" stroke-width="0.5" />
<text x="426.00" y="419.78" font-size="7.6" text-anchor="middle" fill="#111" >0.97</text>
<circle cx="442.60" cy="417.28" r="5.14" fill="#e73a27" stroke="none" stroke-width="0.5" />
<text x="443.60" y="419.78" font-size="7.6" text-anchor="middle" fill="#111" >0.96</text>
<circle cx="460.20" cy="417.28" r="5.30" fill="#e6321f" stroke="none" stroke-width="0.5" />
<text x="461.20" y="419.78" font-size="7.6" text-anchor="middle" fill="#111" >1</text>
<circle cx="477.80" cy="417.28" r="2.85" fill="#efb09f" stroke="none" stroke-width="0.5" />
<text x="478.80" y="419.78" font-size="7.6" text-anchor="middle" fill="#111" >0.4</text>
<circle cx="372.20" cy="434.96" r="5.22" fill="#e6321f" stroke="none" stroke-width="0.5" />
<text x="373.20" y="437.46" font-size="7.6" text-anchor="middle" fill="#111" >0.98</text>
<circle cx="389.80" cy="434.96" r="5.26" fill="#e6321f" stroke="none" stroke-width="0.5" />
<text x="390.80" y="437.46" font-size="7.6" text-anchor="middle" fill="#111" >0.99</text>
<circle cx="407.40" cy="434.96" r="5.26" fill="#e6321f" stroke="none" stroke-width="0.5" />
<text x="408.40" y="437.46" font-size="7.6" text-anchor="middle" fill="#111" >0.99</text>
<circle cx="425.00" cy="434.96" r="5.26" fill="#e6321f" stroke="none" stroke-width="0.5" />
<text x="426.00" y="437.46" font-size="7.6" text-anchor="middle" fill="#111" >0.99</text>
<circle cx="442.60" cy="434.96" r="5.30" fill="#e6321f" stroke="none" stroke-width="0.5" />
<text x="443.60" y="437.46" font-size="7.6" text-anchor="middle" fill="#111" >1</text>
<circle cx="460.20" cy="434.96" r="5.14" fill="#e73a27" stroke="none" stroke-width="0.5" />
<text x="461.20" y="437.46" font-size="7.6" text-anchor="middle" fill="#111" >0.96</text>
<circle cx="477.80" cy="434.96" r="2.85" fill="#efb09f" stroke="none" stroke-width="0.5" />
<text x="478.80" y="437.46" font-size="7.6" text-anchor="middle" fill="#111" >0.43</text>
<circle cx="372.20" cy="452.64" r="5.26" fill="#e6321f" stroke="none" stroke-width="0.5" />
<text x="373.20" y="455.14" font-size="7.6" text-anchor="middle" fill="#111" >0.99</text>
<circle cx="389.80" cy="452.64" r="5.30" fill="#e6321f" stroke="none" stroke-width="0.5" />
<text x="390.80" y="455.14" font-size="7.6" text-anchor="middle" fill="#111" >1</text>
<circle cx="407.40" cy="452.64" r="5.26" fill="#e6321f" stroke="none" stroke-width="0.5" />
<text x="408.40" y="455.14" font-size="7.6" text-anchor="middle" fill="#111" >0.99</text>
<circle cx="425.00" cy="452.64" r="5.30" fill="#e6321f" stroke="none" stroke-width="0.5" />
<text x="426.00" y="455.14" font-size="7.6" text-anchor="middle" fill="#111" >1</text>
<circle cx="442.60" cy="452.64" r="5.26" fill="#e6321f" stroke="none" stroke-width="0.5" />
<text x="443.60" y="455.14" font-size="7.6" text-anchor="middle" fill="#111" >0.99</text>
<circle cx="460.20" cy="452.64" r="5.18" fill="#e73a27" stroke="none" stroke-width="0.5" />
<text x="461.20" y="455.14" font-size="7.6" text-anchor="middle" fill="#111" >0.97</text>
<circle cx="477.80" cy="452.64" r="2.85" fill="#efb09f" stroke="none" stroke-width="0.5" />
<text x="478.80" y="455.14" font-size="7.6" text-anchor="middle" fill="#111" >0.43</text>
<circle cx="372.20" cy="470.32" r="5.22" fill="#e6321f" stroke="none" stroke-width="0.5" />
<text x="373.20" y="472.82" font-size="7.6" text-anchor="middle" fill="#111" >0.98</text>
<circle cx="389.80" cy="470.32" r="5.30" fill="#e6321f" stroke="none" stroke-width="0.5" />
<text x="390.80" y="472.82" font-size="7.6" text-anchor="middle" fill="#111" >1</text>
<circle cx="407.40" cy="470.32" r="5.30" fill="#e6321f" stroke="none" stroke-width="0.5" />
<text x="408.40" y="472.82" font-size="7.6" text-anchor="middle" fill="#111" >1</text>
<circle cx="425.00" cy="470.32" r="5.26" fill="#e6321f" stroke="none" stroke-width="0.5" />
<text x="426.00" y="472.82" font-size="7.6" text-anchor="middle" fill="#111" >0.99</text>
<circle cx="442.60" cy="470.32" r="5.26" fill="#e6321f" stroke="none" stroke-width="0.5" />
<text x="443.60" y="472.82" font-size="7.6" text-anchor="middle" fill="#111" >0.99</text>
<circle cx="460.20" cy="470.32" r="5.22" fill="#e6321f" stroke="none" stroke-width="0.5" />
<text x="461.20" y="472.82" font-size="7.6" text-anchor="middle" fill="#111" >0.98</text>
<circle cx="477.80" cy="470.32" r="2.85" fill="#efb09f" stroke="none" stroke-width="0.5" />
<text x="478.80" y="472.82" font-size="7.6" text-anchor="middle" fill="#111" >0.42</text>
<circle cx="372.20" cy="488.00" r="5.26" fill="#e6321f" stroke="none" stroke-width="0.5" />
<text x="373.20" y="490.50" font-size="7.6" text-anchor="middle" fill="#111" >0.99</text>
<circle cx="389.80" cy="488.00" r="5.30" fill="#e6321f" stroke="none" stroke-width="0.5" />
<text x="390.80" y="490.50" font-size="7.6" text-anchor="middle" fill="#111" >1</text>
<circle cx="407.40" cy="488.00" r="5.30" fill="#e6321f" stroke="none" stroke-width="0.5" />
<text x="408.40" y="490.50" font-size="7.6" text-anchor="middle" fill="#111" >1</text>
<circle cx="425.00" cy="488.00" r="5.30" fill="#e6321f" stroke="none" stroke-width="0.5" />
<text x="426.00" y="490.50" font-size="7.6" text-anchor="middle" fill="#111" >1</text>
<circle cx="442.60" cy="488.00" r="5.26" fill="#e6321f" stroke="none" stroke-width="0.5" />
<text x="443.60" y="490.50" font-size="7.6" text-anchor="middle" fill="#111" >0.99</text>
<circle cx="460.20" cy="488.00" r="5.18" fill="#e73a27" stroke="none" stroke-width="0.5" />
<text x="461.20" y="490.50" font-size="7.6" text-anchor="middle" fill="#111" >0.97</text>
<circle cx="477.80" cy="488.00" r="2.85" fill="#efb09f" stroke="none" stroke-width="0.5" />
<text x="478.80" y="490.50" font-size="7.6" text-anchor="middle" fill="#111" >0.43</text>
<circle cx="372.20" cy="505.68" r="5.30" fill="#e6321f" stroke="none" stroke-width="0.5" />
<text x="373.20" y="508.18" font-size="7.6" text-anchor="middle" fill="#111" >1</text>
<circle cx="389.80" cy="505.68" r="5.26" fill="#e6321f" stroke="none" stroke-width="0.5" />
<text x="390.80" y="508.18" font-size="7.6" text-anchor="middle" fill="#111" >0.99</text>
<circle cx="407.40" cy="505.68" r="5.22" fill="#e6321f" stroke="none" stroke-width="0.5" />
<text x="408.40" y="508.18" font-size="7.6" text-anchor="middle" fill="#111" >0.98</text>
<circle cx="425.00" cy="505.68" r="5.26" fill="#e6321f" stroke="none" stroke-width="0.5" />
<text x="426.00" y="508.18" font-size="7.6" text-anchor="middle" fill="#111" >0.99</text>
<circle cx="442.60" cy="505.68" r="5.22" fill="#e6321f" stroke="none" stroke-width="0.5" />
<text x="443.60" y="508.18" font-size="7.6" text-anchor="middle" fill="#111" >0.98</text>
<circle cx="460.20" cy="505.68" r="5.10" fill="#e73a27" stroke="none" stroke-width="0.5" />
<text x="461.20" y="508.18" font-size="7.6" text-anchor="middle" fill="#111" >0.95</text>
<circle cx="477.80" cy="505.68" r="2.85" fill="#efb09f" stroke="none" stroke-width="0.5" />
<text x="478.80" y="508.18" font-size="7.6" text-anchor="middle" fill="#111" >0.44</text>
<rect x="361.80" y="389.40" width="126.70" height="126.90" fill="none" stroke="#1e1a1a" stroke-width="1.4"/>
<line x1="359.80" y1="399.60" x2="361.80" y2="399.60" stroke="#000" stroke-width="0.8" />
<text x="360.40" y="402.70" font-size="8.8" text-anchor="end" fill="#222" >0.15−0.25X</text>
<line x1="359.80" y1="417.28" x2="361.80" y2="417.28" stroke="#000" stroke-width="0.8" />
<text x="360.40" y="420.38" font-size="8.8" text-anchor="end" fill="#222" >0.3−0.5X</text>
<line x1="359.80" y1="434.96" x2="361.80" y2="434.96" stroke="#000" stroke-width="0.8" />
<text x="360.40" y="438.06" font-size="8.8" text-anchor="end" fill="#222" >0.6−1X</text>
<line x1="359.80" y1="452.64" x2="361.80" y2="452.64" stroke="#000" stroke-width="0.8" />
<text x="360.40" y="455.74" font-size="8.8" text-anchor="end" fill="#222" >1.2−2X</text>
<line x1="359.80" y1="470.32" x2="361.80" y2="470.32" stroke="#000" stroke-width="0.8" />
<text x="360.40" y="473.42" font-size="8.8" text-anchor="end" fill="#222" >1.8−3X</text>
<line x1="359.80" y1="488.00" x2="361.80" y2="488.00" stroke="#000" stroke-width="0.8" />
<text x="360.40" y="491.10" font-size="8.8" text-anchor="end" fill="#222" >2.4−4X</text>
<line x1="359.80" y1="505.68" x2="361.80" y2="505.68" stroke="#000" stroke-width="0.8" />
<text x="360.40" y="508.78" font-size="8.8" text-anchor="end" fill="#222" >3−5X</text>
<line x1="372.20" y1="516.30" x2="372.20" y2="518.30" stroke="#000" stroke-width="0.8" />
<text x="0" y="0" font-size="9.0" text-anchor="end" fill="#222" transform="translate(375.80,521.90) rotate(-45)">3−5X</text>
<line x1="389.80" y1="516.30" x2="389.80" y2="518.30" stroke="#000" stroke-width="0.8" />
<text x="0" y="0" font-size="9.0" text-anchor="end" fill="#222" transform="translate(393.40,521.90) rotate(-45)">2.4−4X</text>
<line x1="407.40" y1="516.30" x2="407.40" y2="518.30" stroke="#000" stroke-width="0.8" />
<text x="0" y="0" font-size="9.0" text-anchor="end" fill="#222" transform="translate(411.00,521.90) rotate(-45)">1.8−3X</text>
<line x1="425.00" y1="516.30" x2="425.00" y2="518.30" stroke="#000" stroke-width="0.8" />
<text x="0" y="0" font-size="9.0" text-anchor="end" fill="#222" transform="translate(428.60,521.90) rotate(-45)">1.2−2X</text>
<line x1="442.60" y1="516.30" x2="442.60" y2="518.30" stroke="#000" stroke-width="0.8" />
<text x="0" y="0" font-size="9.0" text-anchor="end" fill="#222" transform="translate(446.20,521.90) rotate(-45)">0.6−1X</text>
<line x1="460.20" y1="516.30" x2="460.20" y2="518.30" stroke="#000" stroke-width="0.8" />
<text x="0" y="0" font-size="9.0" text-anchor="end" fill="#222" transform="translate(463.80,521.90) rotate(-45)">0.3−0.5X</text>
<line x1="477.80" y1="516.30" x2="477.80" y2="518.30" stroke="#000" stroke-width="0.8" />
<text x="0" y="0" font-size="9.0" text-anchor="end" fill="#222" transform="translate(481.40,521.90) rotate(-45)">0.15−0.25X</text>
<text x="493.00" y="427.50" font-size="8.8" text-anchor="start" fill="#222" >Corr</text>
<defs><linearGradient id="gcorr" x1="0" y1="0" x2="0" y2="1"><stop offset="0" stop-color="#e6382a"/><stop offset="0.25" stop-color="#ec8f7e"/><stop offset="0.5" stop-color="#fbf8fb"/><stop offset="0.75" stop-color="#9d8fcb"/><stop offset="1" stop-color="#2d3c9c"/></linearGradient></defs>
<rect x="495.70" y="436.40" width="9.00" height="42.10" fill="url(#gcorr)" rx="3.5"/>
<line x1="495.70" y1="446.90" x2="497.00" y2="446.90" stroke="#fff" stroke-width="0.8" />
<line x1="503.40" y1="446.90" x2="504.70" y2="446.90" stroke="#fff" stroke-width="0.8" />
<line x1="495.70" y1="467.90" x2="497.00" y2="467.90" stroke="#fff" stroke-width="0.8" />
<line x1="503.40" y1="467.90" x2="504.70" y2="467.90" stroke="#fff" stroke-width="0.8" />
<text x="506.00" y="439.80" font-size="8.4" text-anchor="start" fill="#222" >1.0</text>
<text x="506.00" y="450.00" font-size="8.4" text-anchor="start" fill="#222" >0.5</text>
<text x="506.00" y="460.20" font-size="8.4" text-anchor="start" fill="#222" >0.0</text>
<text x="506.00" y="470.40" font-size="8.4" text-anchor="start" fill="#222" >−0.5</text>
<text x="506.00" y="480.60" font-size="8.4" text-anchor="start" fill="#222" >−1.0</text>
<text x="520.50" y="382.50" font-size="12.5" text-anchor="start" fill="#222" >l</text>
<text x="583.80" y="387.60" font-size="10" text-anchor="start" fill="#222" >All PCa patients</text>
<line x1="558.70" y1="512.80" x2="676.80" y2="397.50" stroke="#283f74" stroke-width="1.55" stroke-dasharray="6,3.4"/>
<line x1="554.90" y1="512.80" x2="556.90" y2="512.80" stroke="#000" stroke-width="0.8" />
<text x="554.10" y="515.90" font-size="8.6" text-anchor="end" fill="#222" >0.0</text>
<line x1="558.70" y1="512.80" x2="558.70" y2="514.80" stroke="#000" stroke-width="0.8" />
<text x="558.70" y="522.00" font-size="8.6" text-anchor="middle" fill="#222" >0.0</text>
<line x1="554.90" y1="489.74" x2="556.90" y2="489.74" stroke="#000" stroke-width="0.8" />
<text x="554.10" y="492.84" font-size="8.6" text-anchor="end" fill="#222" >0.2</text>
<line x1="582.32" y1="512.80" x2="582.32" y2="514.80" stroke="#000" stroke-width="0.8" />
<text x="582.32" y="522.00" font-size="8.6" text-anchor="middle" fill="#222" >0.2</text>
<line x1="554.90" y1="466.68" x2="556.90" y2="466.68" stroke="#000" stroke-width="0.8" />
<text x="554.10" y="469.78" font-size="8.6" text-anchor="end" fill="#222" >0.4</text>
<line x1="605.94" y1="512.80" x2="605.94" y2="514.80" stroke="#000" stroke-width="0.8" />
<text x="605.94" y="522.00" font-size="8.6" text-anchor="middle" fill="#222" >0.4</text>
<line x1="554.90" y1="443.62" x2="556.90" y2="443.62" stroke="#000" stroke-width="0.8" />
<text x="554.10" y="446.72" font-size="8.6" text-anchor="end" fill="#222" >0.6</text>
<line x1="629.56" y1="512.80" x2="629.56" y2="514.80" stroke="#000" stroke-width="0.8" />
<text x="629.56" y="522.00" font-size="8.6" text-anchor="middle" fill="#222" >0.6</text>
<line x1="554.90" y1="420.56" x2="556.90" y2="420.56" stroke="#000" stroke-width="0.8" />
<text x="554.10" y="423.66" font-size="8.6" text-anchor="end" fill="#222" >0.8</text>
<line x1="653.18" y1="512.80" x2="653.18" y2="514.80" stroke="#000" stroke-width="0.8" />
<text x="653.18" y="522.00" font-size="8.6" text-anchor="middle" fill="#222" >0.8</text>
<line x1="554.90" y1="397.50" x2="556.90" y2="397.50" stroke="#000" stroke-width="0.8" />
<text x="554.10" y="400.60" font-size="8.6" text-anchor="end" fill="#222" >1.0</text>
<line x1="676.80" y1="512.80" x2="676.80" y2="514.80" stroke="#000" stroke-width="0.8" />
<text x="676.80" y="522.00" font-size="8.6" text-anchor="middle" fill="#222" >1.0</text>
<text x="0" y="0" font-size="8.8" text-anchor="middle" fill="#222" transform="translate(539.50,452.30) rotate(-90)">True Positive Rate</text>
<text x="622.00" y="530.00" font-size="8.8" text-anchor="middle" fill="#222" >False Positive Rate</text>
<polyline points="558.81,512.73 558.81,500.49 560.27,500.49 560.57,500.49 560.57,497.71 560.57,494.93 560.87,494.93 561.18,494.93 561.18,492.15 561.18,489.37 561.48,489.37 561.78,489.37 561.78,486.59 561.78,483.81 562.09,483.81 564.82,483.81 565.08,483.81 565.08,480.90 565.08,477.98 565.34,477.98 565.60,477.98 565.60,475.07 565.60,472.16 565.86,472.16 566.12,472.16 566.12,469.24 566.12,466.33 566.38,466.33 566.64,466.33 566.64,463.42 569.68,463.42 569.68,462.80 569.68,462.18 572.71,462.18 575.75,462.18 575.75,461.56 578.18,461.56 578.18,460.33 578.18,459.09 580.61,459.09 583.04,459.09 583.04,457.86 584.86,457.86 584.86,456.00 584.86,454.15 586.68,454.15 588.05,454.15 588.05,452.30 588.05,450.44 589.41,450.44 589.78,450.44 589.78,447.48 589.78,444.51 590.14,444.51 590.51,444.51 590.51,441.54 590.51,438.58 590.87,438.58 591.24,438.58 591.24,435.61 593.97,435.61 593.97,434.69 595.79,434.69 595.79,431.90 595.79,429.12 597.61,429.12 599.43,429.12 599.43,426.34 601.25,426.34 601.25,424.18 601.25,422.02 603.08,422.02 604.90,422.02 604.90,419.86 623.11,419.86 624.94,419.86 624.94,417.08 634.04,417.08 635.87,417.08 635.87,415.22 635.87,413.37 637.69,413.37 640.97,413.37 640.97,413.18 640.97,413.00 644.25,413.00 647.53,413.00 647.53,412.81 647.53,412.63 650.80,412.63 654.08,412.63 654.08,412.44 656.82,412.44 656.82,411.28 656.82,410.12 659.55,410.12 662.28,410.12 662.28,408.97 662.28,407.81 665.01,407.81 668.66,407.81 668.66,407.34 668.66,406.88 672.30,406.88 675.03,406.88 675.34,406.88 675.34,403.67 675.34,400.45 675.64,400.45 675.94,400.45 675.94,397.24 676.67,397.24" fill="none" stroke="#a75a61" stroke-width="1.35" stroke-linejoin="miter"/>
<polyline points="558.81,512.73 558.81,496.78 561.18,496.78 561.41,496.78 561.41,494.00 561.41,491.22 561.63,491.22 561.86,491.22 561.86,488.44 561.86,485.66 562.09,485.66 565.73,485.66 565.88,485.66 565.88,482.88 565.88,480.10 566.04,480.10 566.19,480.10 566.19,477.32 566.19,474.54 566.34,474.54 566.49,474.54 566.49,471.76 566.49,468.98 566.64,468.98 573.93,468.98 574.06,468.98 574.06,466.01 574.06,463.05 574.19,463.05 574.32,463.05 574.32,460.08 574.32,457.11 574.45,457.11 574.58,457.11 574.58,454.15 574.58,451.18 574.71,451.18 574.84,451.18 574.84,448.22 587.59,448.22 589.41,448.22 589.41,444.88 590.02,444.88 590.02,441.79 590.02,438.70 590.63,438.70 591.24,438.70 591.24,435.61 592.37,435.61 592.37,432.83 592.37,430.05 593.51,430.05 594.65,430.05 594.65,427.27 594.65,424.49 595.79,424.49 599.43,424.49 602.17,424.49 602.17,422.17 602.17,419.86 604.90,419.86 623.11,419.86 624.94,419.86 624.94,417.69 624.94,415.53 626.76,415.53 628.58,415.53 628.58,413.37 631.31,413.37 631.31,412.44 631.31,411.51 634.04,411.51 635.87,411.51 635.87,409.66 638.30,409.66 638.30,408.73 638.30,407.81 640.72,407.81 643.15,407.81 643.15,406.88 644.98,406.88 644.98,405.49 644.98,404.10 646.80,404.10 650.44,404.10 650.44,403.36 650.44,402.62 654.08,402.62 656.82,402.62 656.82,401.97 656.82,401.32 659.55,401.32 662.28,401.32 662.28,400.67 662.28,400.02 665.01,400.02 667.44,400.02 667.44,399.09 667.44,398.17 669.87,398.17 672.30,398.17 672.30,397.24 676.67,397.24" fill="none" stroke="#6aa24c" stroke-width="1.35" stroke-linejoin="miter"/>
<polyline points="558.81,512.73 558.81,492.15 564.82,492.15 564.93,492.15 564.93,489.25 564.93,486.36 565.05,486.36 565.16,486.36 565.16,483.46 565.16,480.56 565.28,480.56 565.39,480.56 565.39,477.67 565.39,474.77 565.50,474.77 565.62,474.77 565.62,471.87 565.62,468.98 565.73,468.98 566.64,468.98 566.64,466.20 566.64,463.42 567.55,463.42 570.29,463.42 570.29,463.11 570.29,462.80 573.02,462.80 575.75,462.80 575.75,462.49 578.18,462.49 578.18,461.56 578.18,460.64 580.61,460.64 583.04,460.64 583.04,459.71 585.16,459.71 585.16,458.17 585.16,456.62 587.29,456.62 589.41,456.62 589.41,455.08 589.87,455.08 589.87,452.14 589.87,449.21 590.32,449.21 590.78,449.21 590.78,446.27 590.78,443.34 591.24,443.34 591.69,443.34 591.69,440.40 591.69,437.47 592.15,437.47 594.88,437.47 594.88,435.61 595.79,435.61 595.79,432.52 595.79,429.43 596.70,429.43 597.61,429.43 597.61,426.34 600.04,426.34 600.04,424.49 600.04,422.64 602.47,422.64 604.90,422.64 604.90,420.78 607.93,420.78 607.93,420.94 607.93,421.09 610.97,421.09 614.01,421.09 614.01,421.25 614.01,421.40 617.04,421.40 620.08,421.40 620.08,421.55 620.08,421.71 623.11,421.71 624.94,421.71 624.94,419.86 638.60,419.86 638.60,415.22 641.48,415.22 641.48,414.29 641.48,413.37 644.37,413.37 647.25,413.37 647.25,412.44 647.25,411.51 650.14,411.51 653.02,411.51 653.02,410.59 653.02,409.66 655.91,409.66 658.94,409.66 658.94,408.12 658.94,406.57 661.98,406.57 665.01,406.57 665.01,405.03 667.44,405.03 667.44,403.79 667.44,402.55 669.87,402.55 672.30,402.55 672.30,401.32 674.12,401.32 674.12,397.24 676.67,397.24" fill="none" stroke="#dcb64a" stroke-width="1.35" stroke-linejoin="miter"/>
<polyline points="558.81,512.73 558.81,433.76 559.99,433.76 559.99,431.44 559.99,429.12 561.18,429.12 561.91,429.12 561.91,425.88 561.91,422.64 562.63,422.64 563.36,422.64 563.36,419.55 563.36,416.46 564.09,416.46 564.82,416.46 564.82,413.37 564.82,412.44 573.02,412.44 573.93,412.44 573.93,410.12 573.93,407.81 574.84,407.81 578.48,407.81 578.48,406.88 578.94,406.88 578.94,403.64 578.94,400.39 579.39,400.39 584.86,400.39 585.77,400.39 585.77,397.24 676.67,397.24" fill="none" stroke="#4f8fc9" stroke-width="1.35" stroke-linejoin="miter"/>
<rect x="556.90" y="391.80" width="120.60" height="121.00" fill="none" stroke="#1e1a1a" stroke-width="1.4"/>
<line x1="583.30" y1="481.20" x2="591.70" y2="481.20" stroke="#4f8fc9" stroke-width="1.3" />
<text x="592.20" y="484.00" font-size="8.2" text-anchor="start" fill="#222" >PCaseek-D_AUC: 0.97</text>
<line x1="583.30" y1="489.80" x2="591.70" y2="489.80" stroke="#a75a61" stroke-width="1.3" />
<text x="592.20" y="492.60" font-size="8.2" text-anchor="start" fill="#222" >tPSA_AUC: 0.71</text>
<line x1="583.30" y1="498.40" x2="591.70" y2="498.40" stroke="#6aa24c" stroke-width="1.3" />
<text x="592.20" y="501.20" font-size="8.2" text-anchor="start" fill="#222" >%fPSA_AUC: 0.75</text>
<line x1="583.30" y1="507.00" x2="591.70" y2="507.00" stroke="#dcb64a" stroke-width="1.3" />
<text x="592.20" y="509.80" font-size="8.2" text-anchor="start" fill="#222" >PSAD_AUC: 0.72</text>
<text x="1.80" y="556.50" font-size="12.5" text-anchor="start" fill="#222" >m</text>
<text x="89.80" y="563.40" font-size="10" text-anchor="middle" fill="#222" >Specificity</text>
<line x1="27.50" y1="686.60" x2="29.50" y2="686.60" stroke="#000" stroke-width="0.8" />
<text x="26.70" y="689.70" font-size="8.6" text-anchor="end" fill="#222" >0</text>
<line x1="27.50" y1="663.64" x2="29.50" y2="663.64" stroke="#000" stroke-width="0.8" />
<text x="26.70" y="666.74" font-size="8.6" text-anchor="end" fill="#222" >20</text>
<line x1="27.50" y1="640.68" x2="29.50" y2="640.68" stroke="#000" stroke-width="0.8" />
<text x="26.70" y="643.78" font-size="8.6" text-anchor="end" fill="#222" >40</text>
<line x1="27.50" y1="617.72" x2="29.50" y2="617.72" stroke="#000" stroke-width="0.8" />
<text x="26.70" y="620.82" font-size="8.6" text-anchor="end" fill="#222" >60</text>
<line x1="27.50" y1="594.76" x2="29.50" y2="594.76" stroke="#000" stroke-width="0.8" />
<text x="26.70" y="597.86" font-size="8.6" text-anchor="end" fill="#222" >80</text>
<line x1="27.50" y1="571.80" x2="29.50" y2="571.80" stroke="#000" stroke-width="0.8" />
<text x="26.70" y="574.90" font-size="8.6" text-anchor="end" fill="#222" >100</text>
<rect x="32.20" y="577.54" width="24.30" height="109.06" fill="#87adca" />
<text x="45.35" y="574.94" font-size="9.0" text-anchor="middle" fill="#222" >95%</text>
<line x1="44.35" y1="687.00" x2="44.35" y2="689.00" stroke="#000" stroke-width="0.8" />
<rect x="62.60" y="606.24" width="24.30" height="80.36" fill="#5f91b3" />
<text x="75.75" y="603.64" font-size="9.0" text-anchor="middle" fill="#222" >70%</text>
<line x1="74.75" y1="687.00" x2="74.75" y2="689.00" stroke="#000" stroke-width="0.8" />
<rect x="93.00" y="609.68" width="24.30" height="76.92" fill="#4b7292" />
<text x="106.15" y="607.08" font-size="9.0" text-anchor="middle" fill="#222" >67%</text>
<line x1="105.15" y1="687.00" x2="105.15" y2="689.00" stroke="#000" stroke-width="0.8" />
<rect x="123.40" y="624.61" width="24.30" height="61.99" fill="#3e5465" />
<text x="136.55" y="622.01" font-size="9.0" text-anchor="middle" fill="#222" >54%</text>
<line x1="135.55" y1="687.00" x2="135.55" y2="689.00" stroke="#000" stroke-width="0.8" />
<line x1="29.50" y1="594.76" x2="150.10" y2="594.76" stroke="#e07a7c" stroke-width="1.8" stroke-dasharray="7,3.1" stroke-dashoffset="-0.6"/>
<rect x="29.50" y="565.90" width="120.60" height="121.10" fill="none" stroke="#1e1a1a" stroke-width="1.4"/>
<text x="42.20" y="698.80" font-size="8.8" text-anchor="middle" fill="#222" >PCaseek</text>
<text x="76.60" y="698.80" font-size="8.8" text-anchor="middle" fill="#222" >%fPSA</text>
<text x="105.20" y="698.80" font-size="8.8" text-anchor="middle" fill="#222" >PSAD</text>
<text x="136.90" y="698.80" font-size="8.8" text-anchor="middle" fill="#222" >tPSA</text>
<text x="0" y="0" font-size="8.6" text-anchor="middle" fill="#222" transform="translate(8.90,628.80) rotate(-90)">Percentage(%)</text>
<text x="159.60" y="556.50" font-size="12.5" text-anchor="start" fill="#222" >n</text>
<text x="250.70" y="563.40" font-size="10" text-anchor="middle" fill="#222" >Accuracy</text>
<line x1="188.30" y1="686.60" x2="190.30" y2="686.60" stroke="#000" stroke-width="0.8" />
<text x="187.50" y="689.70" font-size="8.6" text-anchor="end" fill="#222" >0</text>
<line x1="188.30" y1="663.64" x2="190.30" y2="663.64" stroke="#000" stroke-width="0.8" />
<text x="187.50" y="666.74" font-size="8.6" text-anchor="end" fill="#222" >20</text>
<line x1="188.30" y1="640.68" x2="190.30" y2="640.68" stroke="#000" stroke-width="0.8" />
<text x="187.50" y="643.78" font-size="8.6" text-anchor="end" fill="#222" >40</text>
<line x1="188.30" y1="617.72" x2="190.30" y2="617.72" stroke="#000" stroke-width="0.8" />
<text x="187.50" y="620.82" font-size="8.6" text-anchor="end" fill="#222" >60</text>
<line x1="188.30" y1="594.76" x2="190.30" y2="594.76" stroke="#000" stroke-width="0.8" />
<text x="187.50" y="597.86" font-size="8.6" text-anchor="end" fill="#222" >80</text>
<line x1="188.30" y1="571.80" x2="190.30" y2="571.80" stroke="#000" stroke-width="0.8" />
<text x="187.50" y="574.90" font-size="8.6" text-anchor="end" fill="#222" >100</text>
<rect x="193.00" y="583.28" width="24.30" height="103.32" fill="#87adca" />
<text x="206.15" y="580.68" font-size="9.0" text-anchor="middle" fill="#222" >90%</text>
<line x1="205.15" y1="687.00" x2="205.15" y2="689.00" stroke="#000" stroke-width="0.8" />
<rect x="223.40" y="606.24" width="24.30" height="80.36" fill="#5f91b3" />
<text x="236.55" y="603.64" font-size="9.0" text-anchor="middle" fill="#222" >70%</text>
<line x1="235.55" y1="687.00" x2="235.55" y2="689.00" stroke="#000" stroke-width="0.8" />
<rect x="253.80" y="606.24" width="24.30" height="80.36" fill="#4b7292" />
<text x="266.95" y="603.64" font-size="9.0" text-anchor="middle" fill="#222" >70%</text>
<line x1="265.95" y1="687.00" x2="265.95" y2="689.00" stroke="#000" stroke-width="0.8" />
<rect x="284.20" y="608.54" width="24.30" height="78.06" fill="#3e5465" />
<text x="297.35" y="605.94" font-size="9.0" text-anchor="middle" fill="#222" >68%</text>
<line x1="296.35" y1="687.00" x2="296.35" y2="689.00" stroke="#000" stroke-width="0.8" />
<line x1="190.30" y1="594.76" x2="310.90" y2="594.76" stroke="#e07a7c" stroke-width="1.8" stroke-dasharray="7,3.1" stroke-dashoffset="-0.6"/>
<rect x="190.30" y="565.90" width="120.60" height="121.10" fill="none" stroke="#1e1a1a" stroke-width="1.4"/>
<text x="206.20" y="698.80" font-size="8.8" text-anchor="middle" fill="#222" >PCaseek</text>
<text x="240.60" y="698.80" font-size="8.8" text-anchor="middle" fill="#222" >%fPSA</text>
<text x="269.60" y="698.80" font-size="8.8" text-anchor="middle" fill="#222" >PSAD</text>
<text x="300.70" y="698.80" font-size="8.8" text-anchor="middle" fill="#222" >tPSA</text>
<text x="0" y="0" font-size="8.6" text-anchor="middle" fill="#222" transform="translate(169.70,628.80) rotate(-90)">Percentage(%)</text>
<text x="327.40" y="557.50" font-size="12.5" text-anchor="start" fill="#222" >o</text>
<text x="350.20" y="563.80" font-size="10" text-anchor="start" fill="#222" >PSA gray zone patients(2-10 ng/ml)</text>
<line x1="367.60" y1="687.60" x2="486.00" y2="572.70" stroke="#283f74" stroke-width="1.55" stroke-dasharray="6,3.4"/>
<line x1="363.80" y1="687.60" x2="365.80" y2="687.60" stroke="#000" stroke-width="0.8" />
<text x="363.00" y="690.70" font-size="8.6" text-anchor="end" fill="#222" >0.0</text>
<line x1="367.60" y1="687.60" x2="367.60" y2="689.60" stroke="#000" stroke-width="0.8" />
<text x="367.60" y="696.40" font-size="8.6" text-anchor="middle" fill="#222" >0.0</text>
<line x1="363.80" y1="664.62" x2="365.80" y2="664.62" stroke="#000" stroke-width="0.8" />
<text x="363.00" y="667.72" font-size="8.6" text-anchor="end" fill="#222" >0.2</text>
<line x1="391.28" y1="687.60" x2="391.28" y2="689.60" stroke="#000" stroke-width="0.8" />
<text x="391.28" y="696.40" font-size="8.6" text-anchor="middle" fill="#222" >0.2</text>
<line x1="363.80" y1="641.64" x2="365.80" y2="641.64" stroke="#000" stroke-width="0.8" />
<text x="363.00" y="644.74" font-size="8.6" text-anchor="end" fill="#222" >0.4</text>
<line x1="414.96" y1="687.60" x2="414.96" y2="689.60" stroke="#000" stroke-width="0.8" />
<text x="414.96" y="696.40" font-size="8.6" text-anchor="middle" fill="#222" >0.4</text>
<line x1="363.80" y1="618.66" x2="365.80" y2="618.66" stroke="#000" stroke-width="0.8" />
<text x="363.00" y="621.76" font-size="8.6" text-anchor="end" fill="#222" >0.6</text>
<line x1="438.64" y1="687.60" x2="438.64" y2="689.60" stroke="#000" stroke-width="0.8" />
<text x="438.64" y="696.40" font-size="8.6" text-anchor="middle" fill="#222" >0.6</text>
<line x1="363.80" y1="595.68" x2="365.80" y2="595.68" stroke="#000" stroke-width="0.8" />
<text x="363.00" y="598.78" font-size="8.6" text-anchor="end" fill="#222" >0.8</text>
<line x1="462.32" y1="687.60" x2="462.32" y2="689.60" stroke="#000" stroke-width="0.8" />
<text x="462.32" y="696.40" font-size="8.6" text-anchor="middle" fill="#222" >0.8</text>
<line x1="363.80" y1="572.70" x2="365.80" y2="572.70" stroke="#000" stroke-width="0.8" />
<text x="363.00" y="575.80" font-size="8.6" text-anchor="end" fill="#222" >1.0</text>
<line x1="486.00" y1="687.60" x2="486.00" y2="689.60" stroke="#000" stroke-width="0.8" />
<text x="486.00" y="696.40" font-size="8.6" text-anchor="middle" fill="#222" >1.0</text>
<text x="0" y="0" font-size="8.8" text-anchor="middle" fill="#222" transform="translate(346.00,627.30) rotate(-90)">True Positive Rate</text>
<text x="424.00" y="708.00" font-size="8.8" text-anchor="middle" fill="#222" >False Positive Rate</text>
<polyline points="367.60,687.60 367.60,681.86 380.62,681.86 380.62,668.07 386.54,662.32 392.46,662.32 392.46,654.28 399.57,654.28 399.57,633.60 406.67,614.06 417.33,614.06 417.33,600.28 424.43,593.38 430.35,593.38 430.35,580.74 468.24,580.74 468.24,572.70 486.00,572.70" fill="none" stroke="#a75a61" stroke-width="1.2" stroke-linejoin="miter"/>
<polyline points="367.60,687.60 367.60,651.98 381.81,651.98 381.81,627.85 388.91,620.96 396.02,620.96 396.02,596.83 403.12,596.83 403.12,591.08 417.33,591.08 417.33,579.59 467.06,579.59 467.06,572.70 486.00,572.70" fill="none" stroke="#6aa24c" stroke-width="1.2" stroke-linejoin="miter"/>
<polyline points="367.60,687.60 367.60,601.43 370.56,595.68 374.70,593.38 399.57,593.38 399.57,572.70 486.00,572.70" fill="none" stroke="#4f8fc9" stroke-width="1.2" stroke-linejoin="miter"/>
<rect x="365.80" y="567.00" width="120.90" height="120.60" fill="none" stroke="#1e1a1a" stroke-width="1.4"/>
<line x1="390.80" y1="662.20" x2="400.50" y2="662.20" stroke="#4f8fc9" stroke-width="1.3" />
<text x="401.00" y="665.00" font-size="8.2" text-anchor="start" fill="#222" >PCaseek-D_AUC: 0.95</text>
<line x1="390.80" y1="671.40" x2="400.50" y2="671.40" stroke="#a75a61" stroke-width="1.3" />
<text x="401.00" y="674.20" font-size="8.2" text-anchor="start" fill="#222" >tPSA_AUC: 0.68</text>
<line x1="390.80" y1="680.60" x2="400.50" y2="680.60" stroke="#6aa24c" stroke-width="1.3" />
<text x="401.00" y="683.40" font-size="8.2" text-anchor="start" fill="#222" >%fPSA_AUC: 0.82</text>
<text x="518.20" y="557.50" font-size="12.5" text-anchor="start" fill="#222" >p</text>
<text x="545.90" y="562.40" font-size="10" text-anchor="start" fill="#222" >PCaseek-G in validation cohort</text>
<line x1="562.30" y1="682.50" x2="672.40" y2="575.50" stroke="#283f74" stroke-width="1.55" stroke-dasharray="6,3.4"/>
<line x1="554.90" y1="682.50" x2="556.90" y2="682.50" stroke="#000" stroke-width="0.8" />
<text x="554.10" y="685.60" font-size="8.6" text-anchor="end" fill="#222" >0.0</text>
<line x1="562.30" y1="687.60" x2="562.30" y2="689.60" stroke="#000" stroke-width="0.8" />
<text x="562.30" y="698.00" font-size="8.6" text-anchor="middle" fill="#222" >0.0</text>
<line x1="554.90" y1="661.10" x2="556.90" y2="661.10" stroke="#000" stroke-width="0.8" />
<text x="554.10" y="664.20" font-size="8.6" text-anchor="end" fill="#222" >0.2</text>
<line x1="584.32" y1="687.60" x2="584.32" y2="689.60" stroke="#000" stroke-width="0.8" />
<text x="584.32" y="698.00" font-size="8.6" text-anchor="middle" fill="#222" >0.2</text>
<line x1="554.90" y1="639.70" x2="556.90" y2="639.70" stroke="#000" stroke-width="0.8" />
<text x="554.10" y="642.80" font-size="8.6" text-anchor="end" fill="#222" >0.4</text>
<line x1="606.34" y1="687.60" x2="606.34" y2="689.60" stroke="#000" stroke-width="0.8" />
<text x="606.34" y="698.00" font-size="8.6" text-anchor="middle" fill="#222" >0.4</text>
<line x1="554.90" y1="618.30" x2="556.90" y2="618.30" stroke="#000" stroke-width="0.8" />
<text x="554.10" y="621.40" font-size="8.6" text-anchor="end" fill="#222" >0.6</text>
<line x1="628.36" y1="687.60" x2="628.36" y2="689.60" stroke="#000" stroke-width="0.8" />
<text x="628.36" y="698.00" font-size="8.6" text-anchor="middle" fill="#222" >0.6</text>
<line x1="554.90" y1="596.90" x2="556.90" y2="596.90" stroke="#000" stroke-width="0.8" />
<text x="554.10" y="600.00" font-size="8.6" text-anchor="end" fill="#222" >0.8</text>
<line x1="650.38" y1="687.60" x2="650.38" y2="689.60" stroke="#000" stroke-width="0.8" />
<text x="650.38" y="698.00" font-size="8.6" text-anchor="middle" fill="#222" >0.8</text>
<line x1="554.90" y1="575.50" x2="556.90" y2="575.50" stroke="#000" stroke-width="0.8" />
<text x="554.10" y="578.60" font-size="8.6" text-anchor="end" fill="#222" >1.0</text>
<line x1="672.40" y1="687.60" x2="672.40" y2="689.60" stroke="#000" stroke-width="0.8" />
<text x="672.40" y="698.00" font-size="8.6" text-anchor="middle" fill="#222" >1.0</text>
<text x="0" y="0" font-size="8.8" text-anchor="middle" fill="#222" transform="translate(538.50,629.20) rotate(-90)">True Positive Rate</text>
<text x="620.20" y="709.60" font-size="8.8" text-anchor="middle" fill="#222" >False Positive Rate</text>
<polyline points="562.30,682.50 562.30,606.53 572.54,606.53 572.54,591.01 581.79,591.01 581.79,581.92 602.27,581.92 602.27,578.71 632.43,578.71 632.43,575.50 672.40,575.50" fill="none" stroke="#4f8fc9" stroke-width="1.3" stroke-linejoin="miter"/>
<rect x="556.90" y="570.80" width="120.50" height="116.80" fill="none" stroke="#1e1a1a" stroke-width="1.4"/>
<text x="606.70" y="649.40" font-size="8.2" text-anchor="start" fill="#222" >AUC: 0.94</text>
<text x="606.70" y="658.00" font-size="8.2" text-anchor="start" fill="#222" >95% CI: 0.86-1.00</text>
<text x="606.70" y="666.60" font-size="8.2" text-anchor="start" fill="#222" >Sensitivity: 82%</text>
<text x="606.70" y="675.20" font-size="8.2" text-anchor="start" fill="#222" >Specificity: 91%</text>
<text x="606.70" y="683.80" font-size="8.2" text-anchor="start" fill="#222" >Accuracy: 84%</text>
</svg></body></html>
